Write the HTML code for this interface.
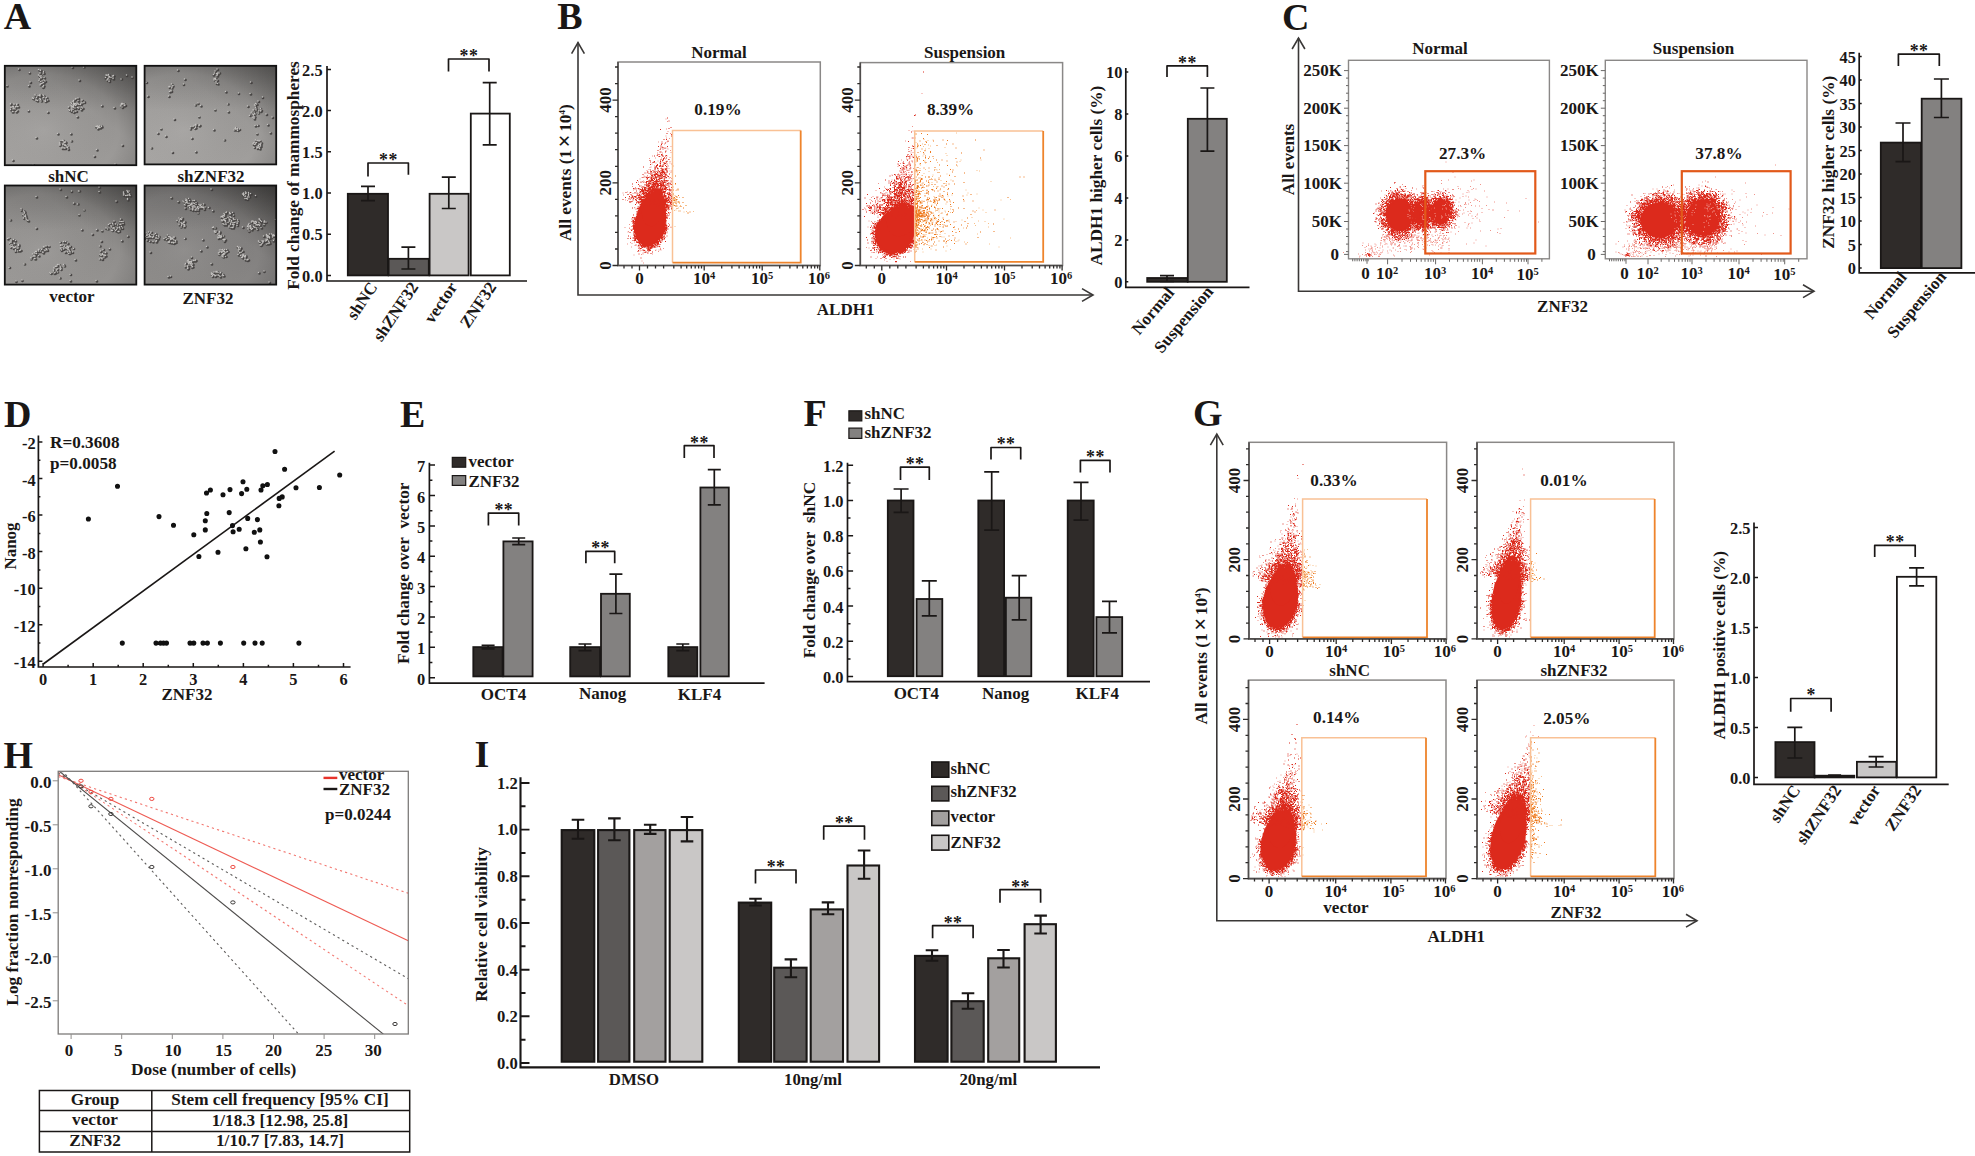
<!DOCTYPE html>
<html lang="en"><head><meta charset="utf-8"><title>Figure</title>
<style>html,body{margin:0;padding:0;background:#fff}svg{display:block}text{font-family:"Liberation Serif",serif;font-weight:bold}</style></head><body>

<svg width="1975" height="1156" viewBox="0 0 1975 1156" font-size="17" fill="#1a1716">
<defs><filter id="b1" x="-5%" y="-5%" width="110%" height="110%"><feGaussianBlur stdDeviation="0.55"/></filter><linearGradient id="mt" x1="0" y1="0" x2="0" y2="1"><stop offset="0" stop-color="#000" stop-opacity="0.16"/><stop offset="0.45" stop-color="#000" stop-opacity="0"/></linearGradient><radialGradient id="mv" cx="0.3" cy="0.65" r="0.95"><stop offset="0" stop-color="#fff" stop-opacity="0.06"/><stop offset="0.6" stop-color="#000" stop-opacity="0"/><stop offset="1" stop-color="#000" stop-opacity="0.22"/></radialGradient>
<linearGradient id="mg1" x1="0" y1="1" x2="1" y2="0"><stop offset="0" stop-color="#a5a3a1"/><stop offset="0.6" stop-color="#989694"/><stop offset="1" stop-color="#6f6d6b"/></linearGradient>
<linearGradient id="mg2" x1="0" y1="1" x2="1" y2="0"><stop offset="0" stop-color="#a9a7a5"/><stop offset="0.6" stop-color="#9c9a98"/><stop offset="1" stop-color="#777573"/></linearGradient>
<linearGradient id="mg3" x1="0" y1="1" x2="1" y2="0"><stop offset="0" stop-color="#9c9a98"/><stop offset="0.6" stop-color="#908e8c"/><stop offset="1" stop-color="#686664"/></linearGradient>
<linearGradient id="mg4" x1="0" y1="1" x2="1" y2="0"><stop offset="0" stop-color="#8f8d8b"/><stop offset="0.6" stop-color="#838180"/><stop offset="1" stop-color="#575553"/></linearGradient>
<clipPath id="c1"><rect x="4.8" y="65.8" width="131.5" height="99.4"/></clipPath>
<clipPath id="c2"><rect x="144.6" y="65.8" width="131.6" height="98.6"/></clipPath>
<clipPath id="c3"><rect x="4.8" y="185.5" width="131.5" height="99.1"/></clipPath>
<clipPath id="c4"><rect x="144.6" y="185.5" width="131.6" height="99.1"/></clipPath>
</defs>
<rect width="1975" height="1156" fill="#fff"/>
<text x="3.7" y="28.7" font-size="38">A</text>
<text x="557.3" y="29.1" font-size="38">B</text>
<text x="1282" y="29.5" font-size="38">C</text>
<text x="4" y="426.5" font-size="38">D</text>
<text x="400" y="426.5" font-size="38">E</text>
<text x="803.5" y="426" font-size="38">F</text>
<text x="1193" y="425.6" font-size="38">G</text>
<text x="3.5" y="768" font-size="38">H</text>
<text x="474.6" y="767.3" font-size="38">I</text>
<g clip-path="url(#c1)">
<rect x="4.8" y="65.8" width="131.5" height="99.4" fill="url(#mg1)"/>
<rect x="4.8" y="65.8" width="131.5" height="99.4" fill="url(#mv)"/>
<rect x="4.8" y="65.8" width="131.5" height="99.4" fill="url(#mt)"/>
<g filter="url(#b1)"><path transform="scale(.5)" d="M169 135h0m-23 1h0m-107 4h0m40 1h0m3 1h0m1 0h0m0 1h0m5 1h0m-28 3h0m22 1h0m7 0h0m130 3h0m-140 1h0m135 0h0m1 0h0m1 0h0m38 0h0m-170 1h0m132 0h0m12 0h0m1 0h0m-149 1h0m138 0h0m9 0h0m-142 1h0m136 0h0m-139 1h0m138 0h0m45 0h0m-181 1h0m6 0h0m122 0h0m11 0h0m-5 1h0m10 0h0m0 1h0m0 0h0m16 0h0m-163 1h0m136 0h0m-137 2h0m9 0h0m71 0h0m56 0h0m4 0h0m-135 2h0m7 0h0m128 0h0m-137 1h0m-21 1h0m27 0h0m-2 1h0m2 0h0m-4 2h0m-2 1h0m-1 1h0m-67 2h0m44 0h0m30 0h0m-1 2h0m-1 1h0m-16 15h0m11 0h0m0 1h0m5 0h0m-15 1h0m8 0h0m2 0h0m7 0h0m-13 1h0m6 0h0m8 2h0m-15 1h0m14 0h0m4 0h0m2 0h0m-28 1h0m1 0h0m90 0h0m-89 1h0m13 0h0m72 0h0m-1 1h0m-80 1h0m10 0h0m-8 1h0m18 0h0m4 0h0m69 0h0m-90 1h0m8 0h0m65 0h0m9 0h0m-66 1h0m1 0h0m55 1h0m22 0h0m-21 1h0m21 0h0m-27 1h0m2 1h0m13 0h0m7 0h0m82 0h0m-224 1h0m126 0h0m1 0h0m0 0h0m2 0h0m93 0h0m5 0h0m-227 1h0m6 0h0m7 0h0m108 0h0m4 0h0m7 0h0m2 0h0m3 0h0m3 0h0m83 0h0m-216 1h0m5 0h0m0 0h0m116 0h0m12 0h0m-10 1h0m91 0h0m6 0h0m2 0h0m-109 1h0m6 0h0m3 0h0m53 0h0m38 0h0m7 0h0m-104 1h0m-120 1h0m3 0h0m4 0h0m3 0h0m2 0h0m109 0h0m2 0h0m-117 1h0m107 0h0m5 0h0m20 0h0m82 0h0m-222 1h0m4 0h0m121 0h0m8 0h0m73 0h0m-202 1h0m2 0h0m116 0h0m6 0h0m6 0h0m9 0h0m-139 2h0m4 0h0m112 0h0m-121 1h0m117 0h0m8 0h0m16 0h0m-23 1h0m4 0h0m-109 1h0m22 0h0m94 0h0m-8 1h0m1 0h0m9 0h0m-128 1h0m1 0h0m7 0h0m63 1h0m52 0h0m7 9h0m48 18h0m-7 1h0m4 0h0m-8 1h0m2 0h0m1 0h0m3 0h0m6 0h0m-5 1h0m-2 1h0m4 0h0m-5 2h0m-80 10h0m26 0h0m-69 8h0m54 5h0m-5 1h0m1 0h0m3 0h0m17 0h0m-15 1h0m3 1h0m1 1h0m-2 1h0m-10 1h0m8 0h0m-7 2h0m-1 1h0m7 0h0m4 0h0m-11 1h0m10 0h0m115 0h0m-115 1h0m3 0h0m3 2h0m-2 1h0m2 1h0m-11 1h0m4 0h0m2 0h0m6 2h0m57 1h0m-5 13h0m-163 8h0m205 8h0m-164 1h0" stroke="#3d3b39" stroke-width="5.4" stroke-linecap="round" fill="none" opacity="0.85"/><path transform="scale(.5)" d="M144 134h0m23 0h0m-130 4h0m40 1h0m3 1h0m1 0h0m0 1h0m6 2h0m-28 2h0m21 1h0m7 0h0m130 3h0m-140 1h0m135 0h0m2 0h0m39 0h0m-171 1h0m132 0h0m0 0h0m13 0h0m-148 1h0m138 0h0m8 0h0m1 0h0m-7 1h0m-138 1h0m3 0h0m135 0h0m45 0h0m-176 1h0m123 0h0m11 0h0m-140 1h0m135 0h0m9 0h0m0 1h0m0 0h0m-147 1h0m136 0h0m27 0h0m-154 2h0m70 0h0m56 0h0m4 0h0m-140 1h0m6 1h0m6 0h0m-9 1h0m137 0h0m-158 1h0m27 1h0m0 0h0m-2 1h0m-2 1h0m-2 1h0m-1 2h0m-66 1h0m43 0h0m30 0h0m-1 2h0m0 1h0m-16 15h0m10 0h0m0 1h0m6 0h0m-16 1h0m8 0h0m2 0h0m7 0h0m-13 1h0m6 0h0m8 2h0m-15 1h0m14 0h0m6 0h0m-28 1h0m1 0h0m25 0h0m65 0h0m-89 1h0m13 0h0m72 0h0m-1 1h0m-70 1h0m-10 1h0m2 0h0m18 0h0m4 0h0m69 0h0m-89 1h0m72 0h0m9 0h0m-74 1h0m8 0h0m1 1h0m55 0h0m1 1h0m21 0h0m-26 1h0m26 0h0m-4 1h0m-143 1h0m122 0h0m4 0h0m2 0h0m0 0h0m2 0h0m5 0h0m87 0h0m2 0h0m3 0h0m-227 1h0m7 0h0m6 0h0m108 0h0m11 0h0m3 0h0m5 0h0m-133 1h0m5 0h0m113 0h0m3 0h0m9 0h0m3 0h0m83 0h0m-211 1h0m119 0h0m90 0h0m6 0h0m2 0h0m-108 1h0m5 0h0m4 0h0m52 0h0m46 0h0m-105 1h0m97 0h0m-216 1h0m2 0h0m4 0h0m3 0h0m2 0h0m109 0h0m2 0h0m-116 1h0m106 0h0m5 0h0m21 0h0m81 0h0m-222 1h0m125 0h0m8 0h0m73 0h0m-202 1h0m0 0h0m2 0h0m116 0h0m6 0h0m7 0h0m8 0h0m-139 2h0m4 0h0m112 0h0m-121 1h0m117 0h0m8 0h0m16 0h0m-19 1h0m-109 1h0m23 0h0m82 0h0m4 1h0m0 0h0m7 0h0m2 0h0m-127 1h0m1 0h0m6 0h0m63 1h0m52 0h0m7 9h0m41 19h0m4 0h0m4 0h0m-11 1h0m1 0h0m1 0h0m3 0h0m6 0h0m-7 2h0m2 0h0m2 0h0m-5 2h0m-80 10h0m26 0h0m-69 8h0m50 6h0m0 0h0m3 0h0m1 0h0m1 1h0m15 0h0m-12 1h0m1 1h0m-2 1h0m-10 1h0m8 0h0m-7 2h0m6 1h0m4 0h0m-11 1h0m1 0h0m9 0h0m115 0h0m-114 1h0m2 0h0m4 2h0m-3 1h0m2 1h0m-11 1h0m4 0h0m2 0h0m6 2h0m57 1h0m-5 13h0m-163 8h0m205 8h0m-164 1h0" stroke="#cfcdcb" stroke-width="3" stroke-linecap="round" fill="none" opacity="0.9"/></g>
</g>
<rect x="4.8" y="65.8" width="131.5" height="99.4" fill="none" stroke="#111" stroke-width="1.8"/>
<g clip-path="url(#c2)">
<rect x="144.6" y="65.8" width="131.6" height="98.6" fill="url(#mg2)"/>
<rect x="144.6" y="65.8" width="131.6" height="98.6" fill="url(#mv)"/>
<rect x="144.6" y="65.8" width="131.6" height="98.6" fill="url(#mt)"/>
<g filter="url(#b1)"><path transform="scale(.5)" d="M436 140h0m-79 2h0m75 2h0m-1 3h0m9 0h0m-5 1h0m1 0h0m1 2h0m-9 1h0m8 0h0m0 2h0m-3 5h0m-1 1h0m-61 1h0m59 0h0m0 1h0m3 0h0m3 1h0m-3 3h0m-139 1h0m209 0h0m-69 1h0m0 1h0m3 1h0m-92 1h0m23 0h0m-21 3h0m-5 1h0m4 0h0m-6 1h0m0 1h0m5 0h0m0 1h0m-1 6h0m0 1h0m-3 1h0m112 0h0m25 3h0m24 1h0m-205 5h0m42 0h0m187 2h0m-8 8h0m0 0h0m-121 4h0m116 0h0m-56 1h0m58 1h0m-123 1h0m119 1h0m1 0h0m-109 1h0m94 1h0m15 0h0m1 2h0m9 2h0m-8 2h0m-83 1h0m82 0h0m-5 1h0m1 0h0m15 0h0m-6 2h0m5 0h0m-65 1h0m47 1h0m5 0h0m-6 1h0m14 0h0m-7 2h0m0 0h0m-4 1h0m27 0h0m-25 1h0m-8 1h0m7 2h0m-109 1h0m112 0h0m-3 1h0m38 0h0m-36 3h0m-160 1h0m43 11h0m1 0h0m143 0h0m-143 1h0m7 0h0m116 0h0m-128 1h0m11 0h0m112 0h0m-120 1h0m-8 1h0m4 0h0m5 2h0m79 0h0m-81 1h0m-68 1h0m59 0h0m90 0h0m1 0h0m1 0h0m2 0h0m1 1h0m3 0h0m-51 1h0m41 0h0m4 0h0m3 1h0m65 5h0m-225 1h0m198 1h0m-182 5h0m52 4h0m65 3h0m63 1h0m3 1h0m1 0h0m4 0h0m-2 1h0m-10 3h0m3 0h0m3 0h0m9 0h0m-16 1h0m0 1h0m5 0h0m7 0h0m-12 1h0m15 0h0m-13 1h0m12 0h0m1 1h0m-4 1h0m4 1h0m-3 1h0m-10 1h0m-206 1h0m214 0h0m3 0h0m-5 1h0m5 1h0m-128 6h0m-47 1h0" stroke="#3d3b39" stroke-width="5.4" stroke-linecap="round" fill="none" opacity="0.85"/><path transform="scale(.5)" d="M434 138h0m-79 2h0m75 2h0m-1 4h0m6 0h0m3 0h0m-5 1h0m2 1h0m-8 1h0m7 1h0m0 1h0m-4 6h0m1 0h0m-62 1h0m59 0h0m3 1h0m-3 1h0m6 0h0m-2 3h0m69 1h0m-209 1h0m140 0h0m0 1h0m3 1h0m-92 1h0m24 0h0m-21 3h0m-2 1h0m-6 1h0m2 0h0m-2 1h0m6 0h0m-1 2h0m-1 5h0m0 1h0m-3 1h0m112 0h0m26 3h0m23 1h0m-205 5h0m42 0h0m188 2h0m-9 8h0m0 0h0m-120 4h0m115 1h0m-56 1h0m58 0h0m-123 2h0m119 0h0m-108 1h0m109 0h0m-15 1h0m15 0h0m1 3h0m10 2h0m-9 1h0m-82 1h0m76 1h0m1 0h0m5 0h0m10 0h0m-5 2h0m4 0h0m-65 1h0m48 1h0m4 0h0m-6 2h0m15 0h0m-8 1h0m-4 1h0m5 0h0m22 0h0m-25 1h0m-8 2h0m8 1h0m-109 1h0m111 1h0m35 0h0m-38 1h0m2 2h0m-160 1h0m43 11h0m1 0h0m143 0h0m-143 1h0m7 0h0m-11 1h0m10 0h0m112 0h0m5 0h0m-124 1h0m-9 1h0m4 0h0m5 2h0m80 0h0m-149 2h0m67 0h0m81 0h0m1 0h0m1 0h0m3 0h0m-95 1h0m95 0h0m4 0h0m-52 1h0m45 0h0m-4 1h0m7 1h0m65 4h0m-225 1h0m199 1h0m-183 5h0m52 4h0m65 4h0m63 0h0m3 1h0m2 0h0m4 0h0m-2 1h0m-10 3h0m5 0h0m-6 1h0m4 0h0m11 0h0m-16 1h0m0 1h0m5 0h0m7 0h0m3 0h0m-12 1h0m11 0h0m1 1h0m-4 1h0m4 1h0m-3 1h0m-10 2h0m8 0h0m-214 1h0m212 0h0m5 0h0m0 1h0m-128 6h0m-47 1h0" stroke="#cfcdcb" stroke-width="3" stroke-linecap="round" fill="none" opacity="0.9"/></g>
</g>
<rect x="144.6" y="65.8" width="131.6" height="98.6" fill="none" stroke="#111" stroke-width="1.8"/>
<g clip-path="url(#c3)">
<rect x="4.8" y="185.5" width="131.5" height="99.1" fill="url(#mg3)"/>
<rect x="4.8" y="185.5" width="131.5" height="99.1" fill="url(#mv)"/>
<rect x="4.8" y="185.5" width="131.5" height="99.1" fill="url(#mt)"/>
<g filter="url(#b1)"><path transform="scale(.5)" d="M200 376h0m-78 4h0m37 3h0m1 0h0m95 0h0m-111 1h0m115 0h0m-59 1h0m57 0h0m-8 1h0m8 1h0m-8 1h0m1 2h0m11 0h0m-4 1h0m4 0h0m-12 1h0m4 1h0m3 0h0m6 0h0m-188 2h0m60 0h0m123 4h0m0 2h0m-23 3h0m-85 4h0m8 1h0m-114 10h0m126 2h0m-125 1h0m5 1h0m2 2h0m0 3h0m-4 3h0m5 0h0m107 0h0m-106 2h0m-3 1h0m2 1h0m1 0h0m1 2h0m-5 1h0m5 1h0m189 1h0m-221 1h0m34 1h0m2 1h0m171 1h0m12 1h0m4 0h0m2 0h0m-25 4h0m5 0h0m21 0h0m-15 1h0m11 0h0m-25 1h0m18 0h0m4 0h0m-17 1h0m4 0h0m-4 2h0m21 0h0m-20 2h0m16 0h0m-13 1h0m2 0h0m11 0h0m-167 1h0m139 0h0m24 0h0m9 0h0m-29 1h0m11 0h0m3 0h0m10 0h0m-76 2h0m30 0h0m39 0h0m-9 1h0m1 0h0m-21 1h0m28 0h0m7 1h0m-3 1h0m-51 5h0m71 4h0m-237 4h0m-3 1h0m6 2h0m6 0h0m-4 1h0m7 1h0m213 0h0m-41 1h0m-180 1h0m105 0h0m4 0h0m-11 1h0m-98 1h0m-3 1h0m116 0h0m-106 1h0m-5 2h0m13 0h0m85 0h0m-101 1h0m16 0h0m0 0h0m85 0h0m2 0h0m-87 1h0m84 0h0m8 0h0m70 0h0m-174 1h0m67 0h0m5 0h0m36 0h0m2 0h0m5 0h0m-117 1h0m65 0h0m40 0h0m-107 1h0m6 0h0m4 0h0m55 0h0m2 0h0m44 0h0m5 0h0m-110 1h0m2 0h0m95 0h0m12 0h0m1 0h0m-111 1h0m7 0h0m3 0h0m85 0h0m6 0h0m3 0h0m4 0h0m2 0h0m10 0h0m-54 1h0m126 0h0m-188 1h0m63 0h0m28 0h0m5 0h0m10 0h0m70 0h0m-129 1h0m1 0h0m5 0h0m10 0h0m45 0h0m-107 1h0m10 0h0m53 0h0m28 0h0m-87 1h0m4 0h0m50 0h0m-59 1h0m43 0h0m4 0h0m4 0h0m58 0h0m62 0h0m-130 1h0m69 0h0m-55 1h0m45 0h0m5 0h0m9 0h0m-58 1h0m125 0h0m-142 1h0m68 0h0m2 0h0m66 0h0m-133 1h0m1 0h0m-8 1h0m139 0h0m-5 1h0m1 0h0m6 0h0m-138 1h0m134 0h0m6 0h0m1 0h0m-141 1h0m2 0h0m7 0h0m134 0h0m-145 1h0m1 0h0m141 1h0m-146 2h0m139 1h0m-140 1h0m8 0h0m1 0h0m129 0h0m5 0h0m0 1h0m-54 1h0m-102 8h0m67 2h0m3 0h0m9 0h0m-13 2h0m14 0h0m-16 1h0m7 0h0m-9 1h0m-92 1h0m103 0h0m-13 1h0m12 1h0m1 0h0m-14 1h0m4 1h0m3 0h0m7 0h0m-14 2h0m5 0h0m-5 2h0m5 0h0m2 1h0m-10 1h0m-4 1h0m10 0h0m-9 1h0m7 0h0m32 2h0m-21 7h0m-76 5h0m97 1h0m52 0h0m-161 1h0" stroke="#3d3b39" stroke-width="5.4" stroke-linecap="round" fill="none" opacity="0.85"/><path transform="scale(.5)" d="M198 374h0m-78 4h0m134 3h0m-111 1h0m14 0h0m1 0h0m100 0h0m-60 1h0m57 0h0m-8 1h0m9 1h0m-9 1h0m1 2h0m11 0h0m-12 2h0m9 0h0m3 0h0m-8 1h0m3 0h0m6 0h0m-188 2h0m60 0h0m123 4h0m0 2h0m-23 3h0m-85 4h0m8 2h0m-113 9h0m0 3h0m126 0h0m-121 2h0m2 2h0m0 2h0m-3 3h0m112 0h0m-107 1h0m-3 2h0m3 0h0m-1 1h0m1 0h0m-4 3h0m5 0h0m0 2h0m189 0h0m-221 2h0m34 0h0m2 1h0m172 1h0m12 1h0m3 0h0m3 0h0m-26 4h0m5 0h0m21 0h0m-15 1h0m11 0h0m-25 1h0m23 0h0m-14 1h0m9 0h0m-13 1h0m0 1h0m21 1h0m-20 1h0m16 0h0m-11 1h0m11 0h0m-167 1h0m140 0h0m14 0h0m9 0h0m10 0h0m-19 1h0m-11 1h0m14 0h0m11 0h0m-77 1h0m30 0h0m40 0h0m-29 2h0m19 0h0m2 0h0m6 0h0m5 2h0m2 0h0m-54 5h0m71 4h0m-237 4h0m-3 1h0m12 2h0m-6 1h0m2 0h0m8 1h0m212 0h0m-41 1h0m-180 1h0m105 0h0m4 0h0m-109 2h0m98 0h0m-101 1h0m116 0h0m-106 1h0m-5 2h0m13 0h0m85 0h0m-101 1h0m16 0h0m88 0h0m-88 1h0m0 0h0m84 0h0m1 0h0m-97 1h0m67 0h0m6 0h0m31 0h0m70 0h0m-176 1h0m65 0h0m40 0h0m6 0h0m2 0h0m4 0h0m-119 1h0m6 0h0m4 0h0m56 0h0m1 0h0m49 0h0m-110 1h0m2 0h0m95 0h0m8 0h0m4 0h0m1 0h0m-111 1h0m8 0h0m2 0h0m85 0h0m6 0h0m3 0h0m7 0h0m-45 1h0m42 0h0m13 0h0m72 0h0m-126 1h0m29 0h0m5 0h0m-96 1h0m46 0h0m1 0h0m5 0h0m10 0h0m43 0h0m70 0h0m-165 1h0m53 0h0m29 0h0m15 0h0m-107 1h0m8 0h0m51 0h0m-59 1h0m4 0h0m42 0h0m4 0h0m58 0h0m62 0h0m-130 1h0m2 0h0m67 0h0m-55 1h0m45 0h0m5 0h0m10 0h0m-59 1h0m125 0h0m-142 1h0m71 0h0m-68 1h0m1 0h0m64 0h0m68 0h0m-140 1h0m135 1h0m0 0h0m4 0h0m2 0h0m-138 1h0m141 0h0m-132 1h0m125 0h0m6 0h0m3 0h0m-145 1h0m2 0h0m0 0h0m2 0h0m138 2h0m-146 1h0m140 1h0m-133 1h0m1 0h0m134 0h0m-142 1h0m137 0h0m5 0h0m-54 1h0m-102 9h0m67 1h0m3 0h0m9 0h0m-13 3h0m6 0h0m8 0h0m-17 1h0m1 0h0m9 1h0m-103 1h0m90 0h0m12 1h0m-12 1h0m14 0h0m-10 1h0m3 0h0m6 1h0m-14 1h0m6 0h0m-6 2h0m5 0h0m3 2h0m-15 1h0m4 0h0m6 0h0m-2 1h0m-7 1h0m39 2h0m-21 7h0m-75 4h0m96 1h0m52 0h0m-160 1h0" stroke="#cfcdcb" stroke-width="3" stroke-linecap="round" fill="none" opacity="0.9"/></g>
</g>
<rect x="4.8" y="185.5" width="131.5" height="99.1" fill="none" stroke="#111" stroke-width="1.8"/>
<g clip-path="url(#c4)">
<rect x="144.6" y="185.5" width="131.6" height="99.1" fill="url(#mg4)"/>
<rect x="144.6" y="185.5" width="131.6" height="99.1" fill="url(#mv)"/>
<rect x="144.6" y="185.5" width="131.6" height="99.1" fill="url(#mt)"/>
<g filter="url(#b1)"><path transform="scale(.5)" d="M424 380h0m69 6h0m6 0h0m-5 1h0m-5 1h0m4 1h0m1 0h0m9 0h0m-17 1h0m3 0h0m1 0h0m9 0h0m-1 1h0m-9 2h0m10 0h0m13 0h0m-20 1h0m0 1h0m5 0h0m3 0h0m-156 2h0m30 2h0m5 0h0m113 0h0m2 0h0m2 1h0m-120 2h0m-8 1h0m4 0h0m2 0h0m7 0h0m7 0h0m3 0h0m-33 2h0m17 0h0m-5 1h0m23 0h0m-18 1h0m11 0h0m8 0h0m-21 1h0m4 0h0m12 0h0m-9 1h0m4 0h0m0 0h0m2 0h0m5 0h0m-5 1h0m8 0h0m15 0h0m-38 1h0m12 0h0m16 0h0m5 0h0m-32 1h0m31 0h0m-24 1h0m3 0h0m7 0h0m13 0h0m6 0h0m-30 1h0m8 0h0m3 0h0m12 0h0m-9 1h0m6 0h0m7 0h0m-18 1h0m10 0h0m8 0h0m3 0h0m3 0h0m8 0h0m-38 1h0m7 0h0m0 0h0m4 0h0m5 0h0m1 0h0m4 0h0m4 0h0m3 0h0m-37 1h0m24 0h0m-8 1h0m10 0h0m-16 1h0m4 0h0m8 0h0m16 0h0m-23 2h0m5 0h0m2 0h0m4 0h0m29 1h0m28 3h0m-58 1h0m57 0h0m7 0h0m6 0h0m-6 1h0m-11 1h0m13 0h0m-2 1h0m-10 1h0m17 1h0m-20 1h0m2 0h0m1 0h0m-1 1h0m-5 1h0m2 0h0m15 0h0m-18 1h0m19 0h0m-103 1h0m87 0h0m10 0h0m7 0h0m-104 1h0m6 0h0m102 0h0m-105 1h0m91 0h0m15 0h0m-106 1h0m85 0h0m2 0h0m1 0h0m9 0h0m60 0h0m1 0h0m31 0h0m-187 1h0m83 0h0m13 0h0m0 0h0m8 0h0m3 0h0m-111 1h0m84 0h0m32 0h0m44 0h0m-165 1h0m89 0h0m6 0h0m2 0h0m8 0h0m4 0h0m58 0h0m-77 1h0m31 0h0m29 0h0m1 0h0m1 0h0m23 0h0m-171 1h0m11 0h0m82 0h0m57 0h0m3 0h0m11 0h0m7 0h0m-161 1h0m94 0h0m1 0h0m8 0h0m32 0h0m10 0h0m15 0h0m3 0h0m-169 1h0m4 0h0m90 0h0m10 0h0m3 0h0m6 0h0m33 0h0m2 0h0m2 0h0m6 0h0m-161 1h0m95 0h0m9 0h0m-97 1h0m82 0h0m28 0h0m23 0h0m11 0h0m3 0h0m-148 1h0m3 0h0m100 0h0m47 0h0m6 0h0m-161 1h0m10 0h0m80 0h0m4 0h0m9 0h0m4 0h0m3 0h0m29 0h0m17 0h0m3 0h0m10 0h0m-164 1h0m5 0h0m106 0h0m22 0h0m16 0h0m-143 1h0m131 0h0m19 0h0m-61 1h0m9 0h0m32 0h0m2 0h0m-140 1h0m7 0h0m90 0h0m37 0h0m1 0h0m0 0h0m11 0h0m-80 1h0m58 0h0m17 0h0m6 0h0m-83 1h0m0 0h0m5 0h0m32 0h0m3 0h0m1 0h0m34 0h0m2 0h0m8 0h0m12 0h0m-21 1h0m4 0h0m8 0h0m-18 1h0m19 1h0m-18 1h0m7 0h0m-74 3h0m0 0h0m2 0h0m66 0h0m-65 1h0m7 0h0m-142 1h0m5 0h0m128 0h0m9 0h0m-152 1h0m14 0h0m137 0h0m-146 1h0m146 0h0m-127 1h0m-24 1h0m8 0h0m4 0h0m9 0h0m127 0h0m2 0h0m102 0h0m4 0h0m-245 1h0m6 0h0m229 0h0m13 0h0m-253 1h0m6 0h0m35 0h0m214 0h0m-254 1h0m19 0h0m125 0h0m1 0h0m3 0h0m4 0h0m89 0h0m1 0h0m8 0h0m2 0h0m2 0h0m-247 1h0m6 0h0m10 0h0m20 0h0m99 0h0m91 0h0m6 0h0m5 0h0m10 0h0m-262 1h0m4 0h0m9 0h0m8 0h0m10 0h0m22 0h0m101 0h0m0 0h0m3 0h0m95 0h0m-241 1h0m0 0h0m3 0h0m4 0h0m1 0h0m0 0h0m27 0h0m9 0h0m7 0h0m187 0h0m2 0h0m2 0h0m6 0h0m-251 1h0m48 0h0m6 0h0m88 0h0m2 0h0m3 0h0m1 0h0m97 0h0m-251 1h0m23 0h0m2 0h0m27 0h0m1 0h0m4 0h0m24 0h0m67 0h0m97 0h0m6 0h0m-223 1h0m12 0h0m8 0h0m7 0h0m204 0h0m-204 1h0m3 0h0m185 0h0m-198 1h0m8 0h0m64 0h0m41 0h0m2 0h0m2 0h0m85 0h0m0 0h0m-241 1h0m53 0h0m185 0h0m1 0h0m0 0h0m-220 1h0m38 0h0m195 0h0m-247 1h0m0 0h0m39 0h0m0 0h0m110 0h0m69 0h0m6 0h0m2 0h0m2 0h0m4 0h0m6 0h0m-232 1h0m7 0h0m24 0h0m2 0h0m200 0h0m-200 1h0m1 0h0m8 0h0m4 0h0m167 0h0m8 0h0m-184 1h0m2 0h0m4 0h0m172 0h0m5 0h0m-178 1h0m192 0h0m-16 1h0m9 0h0m4 0h0m-16 2h0m2 0h0m-1 1h0m-108 3h0m61 0h0m4 1h0m-1 1h0m4 0h0m-4 2h0m-36 1h0m39 0h0m-41 1h0m6 0h0m3 0h0m5 0h0m24 0h0m-32 1h0m2 0h0m-46 1h0m41 1h0m13 0h0m22 0h0m8 0h0m-43 1h0m2 0h0m2 0h0m3 0h0m-149 1h0m139 0h0m13 0h0m-9 1h0m7 0h0m29 0h0m3 0h0m-45 1h0m13 0h0m28 0h0m-31 1h0m-10 1h0m12 0h0m36 0h0m-40 1h0m1 0h0m30 0h0m6 1h0m2 0h0m2 0h0m1 0h0m0 0h0m1 0h0m0 0h0m-7 1h0m5 0h0m1 0h0m4 0h0m0 0h0m-47 1h0m2 0h0m5 0h0m-5 1h0m38 0h0m1 0h0m4 0h0m2 0h0m0 0h0m-109 1h0m101 0h0m2 1h0m5 1h0m0 3h0m4 0h0m2 0h0m-119 1h0m14 0h0m103 0h0m-107 1h0m3 0h0m-15 1h0m2 1h0m1 0h0m0 0h0m1 0h0m2 0h0m2 0h0m-7 2h0m2 0h0m1 0h0m4 0h0m-12 1h0m8 0h0m2 0h0m2 0h0m-6 1h0m4 0h0m41 0h0m-37 1h0m-3 1h0m-13 1h0m9 0h0m-8 1h0m12 0h0m1 0h0m-9 1h0m1 0h0m-5 1h0m5 0h0m10 0h0m-2 1h0m-7 2h0m-1 1h0m152 5h0m-95 1h0m2 0h0m-6 1h0m3 1h0m1 0h0m4 0h0m5 0h0m76 0h0m-94 1h0m2 0h0m15 0h0m-18 2h0m1 0h0m0 0h0m3 0h0m19 0h0m-18 1h0m18 0h0m-17 1h0m3 0h0m3 0h0m3 0h0m0 0h0m-12 1h0m21 0h0m1 0h0m-107 1h0m84 0h0m6 0h0m-94 1h0m104 0h0m98 11h0" stroke="#3d3b39" stroke-width="5.4" stroke-linecap="round" fill="none" opacity="0.85"/><path transform="scale(.5)" d="M422 378h0m69 6h0m1 1h0m5 0h0m-10 1h0m4 1h0m1 0h0m9 0h0m-16 1h0m12 0h0m-10 1h0m1 0h0m9 0h0m-10 2h0m10 0h0m14 0h0m-20 1h0m-1 1h0m5 1h0m3 0h0m-156 1h0m35 2h0m113 0h0m3 0h0m-121 1h0m123 0h0m-121 2h0m-3 1h0m1 0h0m7 0h0m7 0h0m3 0h0m-23 1h0m-10 1h0m18 0h0m-6 1h0m5 1h0m19 0h0m0 0h0m-21 1h0m4 0h0m9 0h0m3 0h0m-9 1h0m5 0h0m1 0h0m5 0h0m-7 1h0m25 0h0m-38 1h0m12 0h0m3 0h0m8 0h0m6 0h0m4 0h0m-32 1h0m8 1h0m2 0h0m8 0h0m12 0h0m1 0h0m-25 1h0m8 0h0m3 0h0m13 0h0m6 0h0m-16 1h0m6 0h0m7 0h0m-18 1h0m10 0h0m8 0h0m3 0h0m4 0h0m-31 1h0m7 0h0m4 0h0m5 0h0m1 0h0m4 0h0m4 0h0m3 0h0m10 0h0m-47 1h0m16 0h0m8 0h0m3 1h0m-17 1h0m4 0h0m2 0h0m6 0h0m16 0h0m-23 2h0m5 0h0m2 0h0m4 0h0m29 1h0m28 3h0m-1 1h0m7 0h0m6 0h0m-69 1h0m52 1h0m11 0h0m2 0h0m-1 1h0m-11 1h0m18 1h0m-21 1h0m2 0h0m0 1h0m1 0h0m-6 1h0m2 0h0m15 0h0m-18 1h0m19 0h0m-15 1h0m10 0h0m6 0h0m-104 1h0m0 0h0m6 0h0m102 0h0m-105 1h0m91 0h0m15 0h0m-106 1h0m87 0h0m1 0h0m9 0h0m60 0h0m1 0h0m-156 1h0m84 0h0m12 0h0m1 0h0m7 0h0m3 0h0m81 0h0m-192 1h0m84 0h0m3 0h0m29 0h0m45 0h0m-166 1h0m90 0h0m5 0h0m2 0h0m12 0h0m58 0h0m-77 1h0m15 0h0m45 0h0m2 0h0m0 0h0m23 0h0m-171 1h0m93 0h0m25 0h0m32 0h0m3 0h0m12 0h0m-155 1h0m1 0h0m93 0h0m1 0h0m9 0h0m31 0h0m10 0h0m15 0h0m1 0h0m3 0h0m-170 1h0m5 0h0m89 0h0m10 0h0m3 0h0m39 0h0m5 0h0m5 0h0m-160 1h0m94 0h0m23 0h0m35 0h0m-146 1h0m82 0h0m15 0h0m13 0h0m24 0h0m10 0h0m3 0h0m-148 1h0m3 0h0m100 0h0m54 0h0m-162 1h0m11 0h0m79 0h0m4 0h0m9 0h0m4 0h0m3 0h0m29 0h0m17 0h0m3 0h0m11 0h0m-160 1h0m144 0h0m3 0h0m-152 1h0m111 0h0m22 0h0m5 0h0m18 0h0m-149 1h0m88 0h0m9 0h0m32 0h0m-131 1h0m127 0h0m1 0h0m5 0h0m6 0h0m-145 1h0m65 0h0m31 0h0m27 0h0m12 0h0m5 0h0m6 0h0m-83 1h0m1 0h0m36 0h0m3 0h0m1 0h0m44 0h0m12 0h0m-92 1h0m70 0h0m2 0h0m11 0h0m-17 1h0m5 0h0m4 0h0m-9 2h0m7 0h0m11 0h0m-85 3h0m3 0h0m66 0h0m-69 1h0m10 0h0m-142 1h0m5 0h0m130 0h0m7 0h0m-152 1h0m143 0h0m-138 1h0m9 0h0m137 0h0m0 0h0m-127 1h0m-24 1h0m8 0h0m4 0h0m136 0h0m3 0h0m101 0h0m4 0h0m-245 1h0m6 0h0m4 0h0m225 0h0m13 0h0m-253 1h0m42 0h0m213 0h0m-254 1h0m5 0h0m14 0h0m125 0h0m1 0h0m3 0h0m93 0h0m1 0h0m9 0h0m1 0h0m3 0h0m-242 1h0m10 0h0m119 0h0m11 0h0m80 0h0m6 0h0m15 0h0m-258 1h0m9 0h0m2 0h0m6 0h0m30 0h0m2 0h0m101 0h0m0 0h0m3 0h0m95 0h0m0 0h0m-251 1h0m10 0h0m0 0h0m3 0h0m4 0h0m2 0h0m12 0h0m23 0h0m7 0h0m187 0h0m2 0h0m2 0h0m6 0h0m-251 1h0m11 0h0m27 0h0m10 0h0m6 0h0m88 0h0m2 0h0m3 0h0m1 0h0m97 0h0m-250 1h0m22 0h0m2 0h0m27 0h0m1 0h0m4 0h0m91 0h0m98 0h0m5 0h0m-223 1h0m12 0h0m8 0h0m8 0h0m25 0h0m-26 1h0m3 0h0m202 0h0m-215 1h0m8 0h0m64 0h0m41 0h0m2 0h0m2 0h0m82 0h0m3 0h0m0 0h0m-241 1h0m54 0h0m185 0h0m0 0h0m-220 1h0m38 0h0m182 0h0m14 0h0m-208 1h0m109 0h0m69 0h0m7 0h0m1 0h0m2 0h0m4 0h0m6 0h0m-238 1h0m0 0h0m7 0h0m6 0h0m26 0h0m0 0h0m-2 1h0m3 0h0m12 0h0m167 0h0m8 0h0m12 0h0m-200 1h0m5 0h0m1 0h0m3 0h0m1 0h0m172 0h0m-173 1h0m178 0h0m14 0h0m-3 1h0m-13 1h0m10 0h0m-13 2h0m1 0h0m1 0h0m-109 3h0m62 0h0m3 1h0m-1 1h0m4 0h0m-4 3h0m3 0h0m-38 1h0m3 0h0m4 0h0m4 0h0m25 0h0m-39 1h0m6 0h0m-44 1h0m46 0h0m-5 1h0m35 0h0m8 0h0m-43 1h0m4 0h0m3 0h0m6 0h0m-155 1h0m139 0h0m5 0h0m9 0h0m-10 1h0m7 0h0m29 0h0m3 0h0m-45 1h0m13 0h0m29 0h0m-32 1h0m2 1h0m37 0h0m-48 1h0m7 0h0m2 0h0m29 0h0m6 1h0m3 0h0m1 0h0m1 0h0m0 0h0m1 0h0m0 0h0m-7 1h0m6 0h0m4 0h0m0 0h0m-47 1h0m2 0h0m40 0h0m-35 1h0m34 0h0m4 0h0m2 0h0m0 0h0m-108 1h0m63 0h0m38 0h0m-1 1h0m2 0h0m5 1h0m0 3h0m4 0h0m2 0h0m-119 1h0m14 0h0m103 0h0m-107 1h0m3 0h0m-15 1h0m3 1h0m1 0h0m2 0h0m2 0h0m-6 1h0m1 0h0m-2 1h0m3 0h0m0 0h0m0 1h0m3 0h0m1 0h0m0 0h0m-12 1h0m6 0h0m4 0h0m41 0h0m-37 1h0m-3 1h0m-12 1h0m8 0h0m4 1h0m1 0h0m-13 1h0m4 0h0m1 0h0m-5 1h0m15 0h0m-10 1h0m9 0h0m-8 2h0m-1 1h0m153 5h0m-96 1h0m2 0h0m-6 1h0m4 1h0m0 0h0m4 0h0m5 0h0m76 0h0m-94 1h0m17 0h0m-15 1h0m-2 1h0m0 0h0m3 0h0m19 0h0m-22 1h0m4 0h0m2 1h0m5 0h0m3 0h0m8 0h0m-20 1h0m6 0h0m7 0h0m8 0h0m1 0h0m-106 1h0m89 0h0m-94 1h0m88 0h0m16 0h0m98 11h0" stroke="#cfcdcb" stroke-width="3" stroke-linecap="round" fill="none" opacity="0.9"/></g>
</g>
<rect x="144.6" y="185.5" width="131.6" height="99.1" fill="none" stroke="#111" stroke-width="1.8"/>
<text x="68.5" y="181.5" text-anchor="middle">shNC</text>
<text x="211" y="182" text-anchor="middle">shZNF32</text>
<text x="72" y="301.5" text-anchor="middle">vector</text>
<text x="208" y="303.5" text-anchor="middle">ZNF32</text>
<path d="M327 66V281H527" stroke="#1a1716" stroke-width="1.7" fill="none"/>
<path d="M327 275.4h4M327 234.2h4M327 193h4M327 151.8h4M327 110.6h4M327 69.4h4" stroke="#1a1716" stroke-width="1.5" fill="none"/>
<text x="322.6" y="281.6" text-anchor="end" font-size="16.4">0.0</text>
<text x="322.6" y="240.4" text-anchor="end" font-size="16.4">0.5</text>
<text x="322.6" y="199.2" text-anchor="end" font-size="16.4">1.0</text>
<text x="322.6" y="158" text-anchor="end" font-size="16.4">1.5</text>
<text x="322.6" y="116.8" text-anchor="end" font-size="16.4">2.0</text>
<text x="322.6" y="75.6" text-anchor="end" font-size="16.4">2.5</text>
<text text-anchor="middle" transform="translate(298.5 175.5) rotate(-90)" font-size="17.3">Fold change of mammospheres</text>
<rect x="347.8" y="193.8" width="40.2" height="81.6" fill="#2f2b29" stroke="#1a1716" stroke-width="1.8"/>
<rect x="388.6" y="258.8" width="40.2" height="16.6" fill="#5b5857" stroke="#1a1716" stroke-width="1.8"/>
<rect x="429.6" y="193.8" width="39" height="81.6" fill="#c9c7c6" stroke="#1a1716" stroke-width="1.8"/>
<rect x="470.8" y="113.6" width="39" height="161.8" fill="#fff" stroke="#1a1716" stroke-width="1.8"/>
<path d="M361 186.3H375M368 186.3V200.7M361 200.7H375" stroke="#1a1716" stroke-width="1.7" fill="none"/>
<path d="M401.4 247.2H415.4M408.4 247.2V269M401.4 269H415.4" stroke="#1a1716" stroke-width="1.7" fill="none"/>
<path d="M441.8 177.2H455.8M448.8 177.2V208.5M441.8 208.5H455.8" stroke="#1a1716" stroke-width="1.7" fill="none"/>
<path d="M482.7 82.6H496.7M489.7 82.6V144.8M482.7 144.8H496.7" stroke="#1a1716" stroke-width="1.7" fill="none"/>
<path d="M368 176.6V163H408.4V174.7" stroke="#1a1716" stroke-width="1.7" fill="none" stroke-linejoin="round"/>
<text x="388.4" y="165.9" text-anchor="middle" font-size="17.8" letter-spacing="0.45">**</text>
<path d="M448.5 71.5V59H489V71.5" stroke="#1a1716" stroke-width="1.7" fill="none" stroke-linejoin="round"/>
<text x="468.9" y="61.9" text-anchor="middle" font-size="17.8" letter-spacing="0.45">**</text>
<text text-anchor="end" transform="translate(378 287) rotate(-56)">shNC</text>
<text text-anchor="end" transform="translate(419 287) rotate(-56)">shZNF32</text>
<text text-anchor="end" transform="translate(458 287) rotate(-56)">vector</text>
<text text-anchor="end" transform="translate(497 287) rotate(-56)">ZNF32</text>
<path d="M578 42.6V295H1093" stroke="#3a3837" stroke-width="1.6" fill="none"/>
<path d="M571.6 53.6L578 42.6L584.4 53.6" stroke="#3a3837" stroke-width="1.6" fill="none"/>
<path d="M1082 288.6L1093 295L1082 301.4" stroke="#3a3837" stroke-width="1.6" fill="none"/>
<ellipse cx="650.5" cy="221" rx="15.3" ry="25.6" fill="#dc2a1c" transform="rotate(11 650.5 221)"/>
<ellipse cx="653.2" cy="207.2" rx="11" ry="19.2" fill="#dc2a1c" transform="rotate(11 653.2 207.2)"/>
<clipPath id="g21"><rect x="672.5" y="130.4" width="128.2" height="132.2"/></clipPath>
<g clip-path="url(#g21)"><ellipse cx="650.5" cy="221" rx="15.3" ry="25.6" fill="#ee7a1e" transform="rotate(11 650.5 221)"/></g>
<path transform="scale(.5)" d="M1331 238h2m1 5h2m-4 15h2m1 5h2m3 4h2m-11 5h2m-1 4h2m4 1h2m-5 4h2m-21 3h2m15 0h2m-7 4h2m-9 3h2m-2 1h2m18 1h2m-23 1h2m-1 2h2m10 0h2m-6 1h2m4 1h2m-18 1h2m19 2h2m-24 3h2m0 0h2m19 1h2m-29 1h2m8 0h2m-3 4h2m-12 1h2m-1 0h2m-12 1h2m27 0h2m-19 1h2m1 0h2m7 2h2m9 0h2m-31 1h2m10 0h2m4 0h2m-32 1h2m30 1h2m-12 1h2m0 0h2m-1 0h2m11 0h2m-18 2h2m-7 1h2m7 0h2m7 0h2m4 1h2m-21 1h2m1 0h2m-17 1h2m17 0h2m-2 0h2m3 0h2m-23 1h2m26 0h2m-38 2h2m23 0h2m-2 0h2m12 0h2m-18 1h2m-2 1h2m-20 2h2m2 0h2m11 0h2m-8 1h2m-1 0h2m-21 1h2m-4 1h2m21 1h2m7 1h2m4 0h2m-9 1h2m1 0h2m-38 1h2m-6 2h2m44 1h2m-47 2h2m45 1h2m-50 1h2m-1 5h2m-9 1h2m55 1h2m-63 2h2m55 0h2m-5 1h2m-1 0h2m2 1h2m-65 1h2m63 1h2m-60 3h2m23 0h2m-29 1h2m21 0h2m-1 0h2m-34 1h2m7 0h2m1 0h2m-9 1h2m3 0h2m-10 6h2m-16 2h2m12 0h2m31 0h2m31 1h2m-76 1h2m10 0h2m58 0h2m-48 1h2m25 0h2m-59 1h2m5 0h2m3 0h2m13 0h2m-23 1h2m4 0h2m-1 0h2m18 0h2m3 0h2m-37 1h2m6 0h2m49 0h2m10 0h2m0 0h2m0 0h2m-80 1h2m10 0h2m30 0h2m28 1h2m-42 1h2m-2 1h2m-48 1h2m22 0h2m26 0h2m-47 1h2m15 0h2m13 0h2m7 0h2m12 0h2m-2 0h2m1 0h2m-76 1h2m11 0h2m31 0h2m7 0h2m-37 1h2m2 0h2m4 0h2m10 0h2m51 0h2m-69 1h2m0 0h2m66 0h2m-90 1h2m85 0h2m-1 0h2m-99 1h2m40 0h2m33 0h2m3 0h2m-58 1h2m-9 1h2m62 0h2m11 0h2m-73 1h2m-1 0h2m8 0h2m4 1h2m-1 0h2m-2 0h2m-2 0h2m51 0h2m-2 0h2m-80 1h2m-1 0h2m3 0h2m11 0h2m4 0h2m-2 0h2m-2 0h2m52 0h2m-87 1h2m0 0h2m1 0h2m23 0h2m39 0h2m-74 1h2m7 1h2m-8 1h2m-12 1h2m2 1h2m77 0h2m-2 0h2m-53 1h2m-25 1h2m1 0h2m-3 1h2m18 0h2m61 0h2m-66 1h2m-1 0h2m48 0h2m-56 1h2m-1 2h2m0 1h2m50 0h2m-1 0h2m3 1h2m-4 1h2m-4 2h2m-62 1h2m-8 1h2m-1 1h2m62 0h2m-62 1h2m0 1h2m-2 0h2m-6 1h2m61 0h2m0 1h2m-63 3h2m56 0h2m-62 2h2m65 0h2m-69 2h2m60 0h2m1 1h2m-2 2h2m-68 1h2m62 0h2m-5 1h2m0 0h2m-3 2h2m-70 1h2m0 1h2m64 0h2m2 1h2m-75 5h2m65 0h2m-69 2h2m-2 0h2m65 0h2m2 3h2m-80 2h2m2 4h2m0 0h2m75 1h2m-94 1h2m90 0h2m-85 1h2m-2 1h2m76 1h2m-77 1h2m70 0h2m-79 4h2m75 0h2m-80 1h2m76 1h2m-2 1h2m-2 6h2m-2 0h2m-75 2h2m64 1h2m2 0h2m-65 1h2m56 2h2m-1 1h2m-2 0h2m-60 1h2m-2 0h2m-6 1h2m57 2h2m-57 1h2m-10 1h2m1 2h2m-11 1h2m61 2h2m-50 1h2m4 1h2m-1 0h2m35 0h2m-53 2h2m12 0h2m33 0h2m0 0h2m4 0h2m-45 3h2m4 0h2m42 0h2m-49 2h2m4 1h2m0 0h2m22 0h2m4 0h2m2 0h2m-42 1h2m6 0h2m19 0h2m-33 1h2m17 0h2m16 1h2m-31 1h2m1 0h2m1 0h2m-10 2h2m7 0h2m-19 1h2m6 1h2m17 0h2m-29 1h2m3 0h2m-17 1h2m14 12h2m1 4h2" stroke="#f0958c" stroke-width="2" fill="none"/>
<path transform="scale(.5)" d="M1334 236h2m1 6h2m2 13h2m-6 2h2m-19 2h2m11 8h2m7 2h2m-2 3h2m-17 7h2m3 0h2m1 4h2m-14 1h2m5 2h2m-9 1h2m-3 2h2m-8 4h2m16 0h2m-13 1h2m0 1h2m2 1h2m-11 2h2m3 0h2m-12 3h2m14 1h2m-12 2h2m7 0h2m-15 5h2m3 0h2m-1 0h2m-11 1h2m7 1h2m7 0h2m-26 1h2m15 0h2m3 0h2m-14 1h2m5 0h2m1 3h2m2 0h2m-8 1h2m-2 1h2m9 1h2m-13 1h2m-29 1h2m23 0h2m-18 2h2m10 0h2m11 0h2m-35 1h2m5 0h2m22 0h2m-28 1h2m12 1h2m-1 0h2m5 0h2m-1 1h2m0 0h2m-12 1h2m11 0h2m-35 1h2m12 0h2m9 1h2m-15 1h2m0 0h2m4 0h2m8 0h2m-14 1h2m3 0h2m10 0h2m-26 1h2m-1 0h2m4 0h2m-1 0h2m2 0h2m-1 0h2m-1 0h2m5 0h2m-48 1h2m21 1h2m2 0h2m-5 1h2m21 0h2m-26 1h2m3 0h2m-1 0h2m4 0h2m-14 1h2m11 0h2m0 0h2m1 0h2m1 0h2m0 0h2m-25 1h2m14 0h2m3 0h2m-32 1h2m13 0h2m7 0h2m5 0h2m-28 1h2m14 0h2m10 0h2m-26 1h2m5 0h2m5 0h2m0 0h2m0 0h2m4 0h2m8 0h2m-44 1h2m-1 0h2m9 0h2m3 0h2m13 0h2m-41 1h2m-1 0h2m3 0h2m4 0h2m-1 0h2m0 0h2m-2 0h2m8 0h2m2 0h2m-1 0h2m-2 0h2m-2 0h2m-1 0h2m0 0h2m5 0h2m-22 1h2m3 0h2m1 0h2m3 0h2m-1 0h2m-2 0h2m1 0h2m-44 1h2m11 0h2m-1 0h2m5 0h2m3 0h2m3 0h2m1 0h2m-1 0h2m-2 0h2m-1 0h2m1 0h2m-33 1h2m13 0h2m-2 0h2m9 0h2m3 0h2m-30 1h2m7 0h2m2 0h2m4 0h2m-1 0h2m8 0h2m-1 0h2m5 0h2m-55 1h2m16 0h2m2 0h2m2 0h2m-2 0h2m-1 0h2m-2 0h2m0 0h2m-1 0h2m4 0h2m0 0h2m2 0h2m-26 1h2m4 0h2m-1 0h2m2 0h2m5 0h2m-1 0h2m-1 0h2m5 0h2m0 0h2m-32 1h2m-1 0h2m-1 0h2m2 0h2m-1 0h2m4 0h2m-1 0h2m-1 0h2m-1 0h2m-1 0h2m0 0h2m1 0h2m-22 1h2m1 0h2m6 0h2m-1 0h2m3 0h2m-2 0h2m6 0h2m-2 0h2m3 0h2m-26 1h2m-2 0h2m7 0h2m4 0h2m-1 0h2m-2 0h2m-1 0h2m-2 0h2m7 0h2m-49 1h2m2 0h2m4 0h2m-2 0h2m1 0h2m1 0h2m4 0h2m-1 0h2m0 0h2m1 0h2m-1 0h2m2 0h2m5 0h2m-1 0h2m-47 1h2m5 0h2m1 0h2m-1 0h2m-2 0h2m1 0h2m4 0h2m2 0h2m1 0h2m9 0h2m6 0h2m-1 0h2m-32 1h2m-2 0h2m5 0h2m-2 0h2m0 0h2m4 0h2m1 0h2m-2 0h2m1 0h2m-2 0h2m-1 0h2m1 0h2m2 0h2m-39 1h2m5 0h2m0 0h2m1 0h2m10 0h2m-1 0h2m-1 0h2m0 0h2m-31 1h2m-1 0h2m6 0h2m-2 0h2m4 0h2m-2 0h2m2 0h2m4 0h2m-2 0h2m-1 0h2m-2 0h2m7 0h2m-26 1h2m2 0h2m2 0h2m1 0h2m-1 0h2m-2 0h2m-1 0h2m-20 1h2m1 0h2m-1 0h2m-1 0h2m11 0h2m8 0h2m-55 1h2m26 0h2m0 0h2m-1 0h2m-1 0h2m3 0h2m-2 0h2m0 0h2m7 0h2m-2 0h2m-1 0h2m-2 0h2m2 0h2m-2 0h2m0 0h2m1 0h2m1 0h2m-41 1h2m0 0h2m0 0h2m-1 0h2m9 0h2m-1 0h2m-1 0h2m-2 0h2m2 0h2m1 0h2m-2 0h2m5 0h2m0 0h2m-2 0h2m-1 0h2m-1 0h2m-2 0h2m0 0h2m5 0h2m-51 1h2m0 0h2m1 0h2m1 0h2m6 0h2m-1 0h2m-2 0h2m-2 0h2m0 0h2m-1 0h2m0 0h2m-1 0h2m-1 0h2m6 0h2m1 0h2m-48 1h2m20 0h2m-2 0h2m2 0h2m-2 0h2m2 0h2m-2 0h2m-2 0h2m4 0h2m1 0h2m-1 0h2m20 0h2m-73 1h2m17 0h2m-1 0h2m-2 0h2m3 0h2m6 0h2m0 0h2m2 0h2m0 0h2m6 0h2m2 0h2m-1 0h2m-1 0h2m0 0h2m-39 1h2m5 0h2m0 0h2m3 0h2m-1 0h2m1 0h2m0 0h2m7 0h2m0 0h2m0 0h2m4 0h2m3 0h2m1 0h2m-45 1h2m0 0h2m-1 0h2m8 0h2m-2 0h2m0 0h2m-1 0h2m0 0h2m2 0h2m0 0h2m4 0h2m-2 0h2m6 0h2m-72 1h2m27 0h2m1 0h2m0 0h2m1 0h2m1 0h2m0 0h2m-1 0h2m-1 0h2m5 0h2m-1 0h2m3 0h2m2 0h2m-1 0h2m9 0h2m1 0h2m-66 1h2m11 0h2m4 0h2m-2 0h2m4 0h2m1 0h2m-1 0h2m1 0h2m0 0h2m-1 0h2m1 0h2m0 0h2m2 0h2m-1 0h2m-2 0h2m0 0h2m1 0h2m14 0h2m-55 1h2m1 0h2m1 0h2m9 0h2m-2 0h2m0 0h2m-2 0h2m0 0h2m1 0h2m0 0h2m3 0h2m4 0h2m1 0h2m-2 0h2m0 0h2m0 0h2m0 0h2m-45 1h2m2 0h2m-1 0h2m-1 0h2m3 0h2m1 0h2m2 0h2m1 0h2m2 0h2m-1 0h2m0 0h2m-1 0h2m-2 0h2m0 0h2m0 0h2m0 0h2m-2 0h2m-48 1h2m11 0h2m-1 0h2m-1 0h2m-2 0h2m6 0h2m0 0h2m-2 0h2m1 0h2m4 0h2m-1 0h2m-2 0h2m2 0h2m-1 0h2m-1 0h2m-2 0h2m3 0h2m-1 0h2m7 0h2m-43 1h2m4 0h2m1 0h2m1 0h2m-1 0h2m1 0h2m-1 0h2m7 0h2m1 0h2m2 0h2m-1 0h2m-48 1h2m0 0h2m-1 0h2m3 0h2m-1 0h2m2 0h2m0 0h2m0 0h2m-2 0h2m0 0h2m-2 0h2m-2 0h2m0 0h2m-1 0h2m-2 0h2m-2 0h2m-1 0h2m-1 0h2m2 0h2m-2 0h2m0 0h2m-2 0h2m-1 0h2m-2 0h2m4 0h2m-2 0h2m14 0h2m-51 1h2m-1 0h2m-2 0h2m-1 0h2m5 0h2m0 0h2m-2 0h2m-1 0h2m0 0h2m1 0h2m5 0h2m-2 0h2m-1 0h2m5 0h2m-1 0h2m2 0h2m2 0h2m-2 0h2m-1 0h2m-1 0h2m0 0h2m7 0h2m-47 1h2m-2 0h2m0 0h2m-2 0h2m2 0h2m-1 0h2m2 0h2m0 0h2m-1 0h2m-1 0h2m-2 0h2m-1 0h2m2 0h2m1 0h2m3 0h2m5 0h2m-68 1h2m1 0h2m5 0h2m6 0h2m2 0h2m-2 0h2m-1 0h2m2 0h2m1 0h2m0 0h2m0 0h2m3 0h2m-1 0h2m1 0h2m4 0h2m2 0h2m3 0h2m2 0h2m0 0h2m-44 1h2m0 0h2m5 0h2m0 0h2m0 0h2m1 0h2m-1 0h2m-1 0h2m12 0h2m0 0h2m3 0h2m0 0h2m0 0h2m5 0h2m-60 1h2m1 0h2m-1 0h2m1 0h2m1 0h2m3 0h2m-1 0h2m-1 0h2m0 0h2m-2 0h2m-2 0h2m-1 0h2m1 0h2m0 0h2m-1 0h2m-1 0h2m0 0h2m-2 0h2m-1 0h2m-1 0h2m-1 0h2m1 0h2m-2 0h2m-1 0h2m0 0h2m0 0h2m-2 0h2m1 0h2m0 0h2m1 0h2m0 0h2m-1 0h2m1 0h2m1 0h2m-1 0h2m-58 1h2m-1 0h2m2 0h2m0 0h2m-1 0h2m-1 0h2m2 0h2m-2 0h2m0 0h2m-1 0h2m3 0h2m-2 0h2m2 0h2m-2 0h2m-2 0h2m-1 0h2m-1 0h2m0 0h2m-2 0h2m0 0h2m-2 0h2m1 0h2m-1 0h2m-1 0h2m-2 0h2m1 0h2m0 0h2m6 0h2m4 0h2m0 0h2m-58 1h2m0 0h2m0 0h2m-2 0h2m1 0h2m-1 0h2m0 0h2m-1 0h2m0 0h2m-2 0h2m-2 0h2m3 0h2m-2 0h2m2 0h2m-1 0h2m0 0h2m-1 0h2m0 0h2m0 0h2m-1 0h2m2 0h2m-1 0h2m-1 0h2m0 0h2m-2 0h2m1 0h2m-2 0h2m4 0h2m-2 0h2m10 0h2m-73 1h2m8 0h2m0 0h2m0 0h2m7 0h2m2 0h2m-1 0h2m-1 0h2m0 0h2m9 0h2m-1 0h2m0 0h2m2 0h2m-2 0h2m16 0h2m-61 1h2m2 0h2m8 0h2m5 0h2m-1 0h2m3 0h2m5 0h2m-2 0h2m0 0h2m-2 0h2m-1 0h2m0 0h2m-2 0h2m-2 0h2m-1 0h2m-1 0h2m-2 0h2m-1 0h2m1 0h2m-2 0h2m0 0h2m0 0h2m-1 0h2m-52 1h2m1 0h2m1 0h2m-2 0h2m0 0h2m0 0h2m0 0h2m2 0h2m-1 0h2m-1 0h2m-2 0h2m0 0h2m-1 0h2m-2 0h2m0 0h2m-1 0h2m-1 0h2m0 0h2m2 0h2m-1 0h2m5 0h2m-2 0h2m3 0h2m-1 0h2m-2 0h2m-1 0h2m0 0h2m-1 0h2m-2 0h2m12 0h2m-94 1h2m7 0h2m7 0h2m16 0h2m1 0h2m-1 0h2m-1 0h2m4 0h2m1 0h2m-2 0h2m0 0h2m-2 0h2m0 0h2m-1 0h2m-1 0h2m-2 0h2m0 0h2m-2 0h2m-1 0h2m-1 0h2m0 0h2m0 0h2m0 0h2m-1 0h2m-1 0h2m-1 0h2m-2 0h2m3 0h2m0 0h2m0 0h2m6 0h2m4 0h2m-72 1h2m4 0h2m4 0h2m5 0h2m2 0h2m-2 0h2m-2 0h2m-1 0h2m-2 0h2m-1 0h2m1 0h2m0 0h2m-2 0h2m-1 0h2m0 0h2m5 0h2m5 0h2m0 0h2m0 0h2m-2 0h2m1 0h2m-1 0h2m4 0h2m-2 0h2m1 0h2m-1 0h2m-56 1h2m0 0h2m-1 0h2m0 0h2m1 0h2m0 0h2m0 0h2m-2 0h2m-1 0h2m-1 0h2m-2 0h2m1 0h2m0 0h2m-2 0h2m-1 0h2m0 0h2m-2 0h2m-1 0h2m-1 0h2m1 0h2m-1 0h2m-2 0h2m-2 0h2m1 0h2m-2 0h2m-2 0h2m-1 0h2m0 0h2m-1 0h2m-2 0h2m-2 0h2m-1 0h2m-2 0h2m7 0h2m2 0h2m-1 0h2m-53 1h2m6 0h2m4 0h2m-2 0h2m-1 0h2m-1 0h2m1 0h2m-1 0h2m-1 0h2m-2 0h2m-2 0h2m1 0h2m0 0h2m-2 0h2m-1 0h2m-2 0h2m1 0h2m0 0h2m-1 0h2m1 0h2m2 0h2m9 0h2m-2 0h2m1 0h2m-1 0h2m-1 0h2m-2 0h2m-86 1h2m4 0h2m15 0h2m6 0h2m1 0h2m1 0h2m1 0h2m0 0h2m-1 0h2m-2 0h2m-1 0h2m-2 0h2m1 0h2m1 0h2m-2 0h2m-1 0h2m-1 0h2m-1 0h2m1 0h2m-1 0h2m-2 0h2m0 0h2m0 0h2m-2 0h2m-2 0h2m3 0h2m-2 0h2m-1 0h2m4 0h2m6 0h2m1 0h2m-67 1h2m5 0h2m11 0h2m-2 0h2m-2 0h2m-1 0h2m-2 0h2m1 0h2m1 0h2m0 0h2m-1 0h2m-1 0h2m-2 0h2m-1 0h2m-2 0h2m-1 0h2m-2 0h2m-2 0h2m0 0h2m-2 0h2m-1 0h2m-1 0h2m-2 0h2m-1 0h2m-1 0h2m0 0h2m-1 0h2m-1 0h2m-1 0h2m-1 0h2m-2 0h2m-1 0h2m-1 0h2m-1 0h2m-2 0h2m-1 0h2m2 0h2m-2 0h2m9 0h2m-77 1h2m10 0h2m-1 0h2m0 0h2m-2 0h2m8 0h2m0 0h2m-2 0h2m-1 0h2m-1 0h2m0 0h2m1 0h2m-1 0h2m-1 0h2m-2 0h2m-1 0h2m-2 0h2m-1 0h2m-2 0h2m-1 0h2m-2 0h2m-2 0h2m-1 0h2m-2 0h2m-1 0h2m-2 0h2m-1 0h2m-2 0h2m-1 0h2m-2 0h2m-2 0h2m-2 0h2m-2 0h2m-1 0h2m-2 0h2m-2 0h2m-1 0h2m0 0h2m0 0h2m4 0h2m-1 0h2m-1 0h2m-1 0h2m-1 0h2m4 0h2m-1 0h2m0 0h2m7 0h2m-64 1h2m0 0h2m5 0h2m0 0h2m2 0h2m-2 0h2m-1 0h2m-1 0h2m-1 0h2m-2 0h2m0 0h2m-2 0h2m-1 0h2m-1 0h2m2 0h2m-2 0h2m-1 0h2m-2 0h2m-2 0h2m-1 0h2m-2 0h2m-1 0h2m-2 0h2m-1 0h2m-2 0h2m-2 0h2m-1 0h2m-2 0h2m-1 0h2m-1 0h2m-1 0h2m-1 0h2m-2 0h2m-2 0h2m-2 0h2m-1 0h2m-2 0h2m-2 0h2m-1 0h2m-2 0h2m-2 0h2m-1 0h2m-1 0h2m1 0h2m0 0h2m-2 0h2m-2 0h2m3 0h2m7 0h2m3 0h2m-85 1h2m4 0h2m2 0h2m0 0h2m9 0h2m2 0h2m0 0h2m-2 0h2m1 0h2m0 0h2m2 0h2m-2 0h2m-1 0h2m-2 0h2m-1 0h2m-1 0h2m-2 0h2m-1 0h2m-1 0h2m-2 0h2m-2 0h2m-2 0h2m-1 0h2m-2 0h2m-1 0h2m-2 0h2m-2 0h2m-1 0h2m-2 0h2m-1 0h2m-2 0h2m-1 0h2m-2 0h2m-2 0h2m-1 0h2m-2 0h2m-2 0h2m-1 0h2m-2 0h2m0 0h2m-1 0h2m-1 0h2m-2 0h2m1 0h2m-1 0h2m-2 0h2m-1 0h2m-1 0h2m-2 0h2m-2 0h2m-1 0h2m-1 0h2m-1 0h2m-2 0h2m-1 0h2m-2 0h2m3 0h2m0 0h2m0 0h2m9 0h2m-81 1h2m0 0h2m9 0h2m-2 0h2m4 0h2m-1 0h2m0 0h2m9 0h2m-1 0h2m-1 0h2m-1 0h2m-2 0h2m-2 0h2m-1 0h2m0 0h2m-2 0h2m-1 0h2m-2 0h2m-1 0h2m-2 0h2m-2 0h2m-2 0h2m-1 0h2m-1 0h2m-2 0h2m-1 0h2m-2 0h2m0 0h2m-2 0h2m-2 0h2m-1 0h2m-2 0h2m0 0h2m-2 0h2m-2 0h2m-2 0h2m-1 0h2m-1 0h2m-1 0h2m-1 0h2m-2 0h2m-1 0h2m0 0h2m0 0h2m-1 0h2m-2 0h2m-1 0h2m-1 0h2m0 0h2m-2 0h2m2 0h2m-1 0h2m3 0h2m-1 0h2m5 0h2m-96 1h2m19 0h2m4 0h2m0 0h2m-2 0h2m2 0h2m0 0h2m0 0h2m0 0h2m1 0h2m2 0h2m0 0h2m-2 0h2m-2 0h2m-1 0h2m-2 0h2m-1 0h2m-2 0h2m0 0h2m-2 0h2m-1 0h2m-2 0h2m-2 0h2m0 0h2m-2 0h2m-1 0h2m-2 0h2m-1 0h2m-2 0h2m0 0h2m-1 0h2m-1 0h2m-1 0h2m-2 0h2m-2 0h2m-1 0h2m-2 0h2m-2 0h2m-2 0h2m-1 0h2m-2 0h2m-2 0h2m-2 0h2m-1 0h2m0 0h2m-2 0h2m-2 0h2m-2 0h2m-1 0h2m-2 0h2m-1 0h2m-1 0h2m4 0h2m-1 0h2m6 0h2m-1 0h2m-76 1h2m3 0h2m6 0h2m2 0h2m0 0h2m10 0h2m-2 0h2m-2 0h2m-1 0h2m-1 0h2m-1 0h2m0 0h2m-2 0h2m-1 0h2m-2 0h2m-2 0h2m-1 0h2m-2 0h2m-1 0h2m-2 0h2m-2 0h2m-1 0h2m-2 0h2m-2 0h2m-1 0h2m-2 0h2m-2 0h2m-1 0h2m-1 0h2m-1 0h2m0 0h2m-1 0h2m-1 0h2m-1 0h2m0 0h2m0 0h2m-2 0h2m-2 0h2m-2 0h2m-2 0h2m-1 0h2m-1 0h2m0 0h2m-2 0h2m-1 0h2m-1 0h2m2 0h2m-2 0h2m-1 0h2m3 0h2m5 0h2m1 0h2m-77 1h2m5 0h2m-2 0h2m6 0h2m9 0h2m-2 0h2m-1 0h2m-1 0h2m-1 0h2m0 0h2m-1 0h2m-1 0h2m-2 0h2m-2 0h2m-2 0h2m-1 0h2m5 0h2m0 0h2m-1 0h2m-2 0h2m-1 0h2m2 0h2m-2 0h2m-1 0h2m-1 0h2m-2 0h2m-2 0h2m-1 0h2m-2 0h2m0 0h2m-2 0h2m-1 0h2m-2 0h2m-2 0h2m-2 0h2m-1 0h2m0 0h2m-1 0h2m-2 0h2m0 0h2m3 0h2m0 0h2m-2 0h2m1 0h2m-2 0h2m3 0h2m-87 1h2m19 0h2m0 0h2m-2 0h2m-2 0h2m0 0h2m-1 0h2m1 0h2m1 0h2m0 0h2m0 0h2m-2 0h2m-1 0h2m0 0h2m-2 0h2m-1 0h2m-2 0h2m-1 0h2m-2 0h2m-1 0h2m0 0h2m-2 0h2m0 0h2m-1 0h2m-1 0h2m-1 0h2m-1 0h2m-1 0h2m-2 0h2m-1 0h2m-1 0h2m0 0h2m-2 0h2m-2 0h2m1 0h2m-2 0h2m-1 0h2m-2 0h2m-1 0h2m-2 0h2m-1 0h2m-2 0h2m-2 0h2m-1 0h2m-1 0h2m-1 0h2m-2 0h2m-1 0h2m-2 0h2m-2 0h2m-2 0h2m-1 0h2m5 0h2m-87 1h2m23 0h2m5 0h2m1 0h2m-1 0h2m0 0h2m-1 0h2m0 0h2m0 0h2m0 0h2m-1 0h2m-1 0h2m-2 0h2m-1 0h2m-1 0h2m-1 0h2m-1 0h2m-2 0h2m-1 0h2m1 0h2m0 0h2m-2 0h2m-1 0h2m0 0h2m-2 0h2m3 0h2m-1 0h2m0 0h2m-1 0h2m2 0h2m-1 0h2m-1 0h2m-2 0h2m-2 0h2m-1 0h2m-1 0h2m-2 0h2m-2 0h2m-2 0h2m-1 0h2m0 0h2m-1 0h2m-2 0h2m-1 0h2m-2 0h2m-1 0h2m-1 0h2m-1 0h2m0 0h2m-2 0h2m2 0h2m1 0h2m-76 1h2m4 0h2m-1 0h2m5 0h2m3 0h2m-2 0h2m0 0h2m-1 0h2m0 0h2m-2 0h2m-1 0h2m-2 0h2m-1 0h2m-1 0h2m-2 0h2m-1 0h2m-2 0h2m-1 0h2m0 0h2m-1 0h2m-1 0h2m-2 0h2m2 0h2m-1 0h2m0 0h2m0 0h2m1 0h2m-2 0h2m-1 0h2m1 0h2m1 0h2m0 0h2m-1 0h2m-2 0h2m-2 0h2m1 0h2m-1 0h2m2 0h2m3 0h2m0 0h2m4 0h2m1 0h2m-74 1h2m8 0h2m2 0h2m-1 0h2m-2 0h2m-2 0h2m1 0h2m-2 0h2m-2 0h2m-1 0h2m0 0h2m-1 0h2m-2 0h2m-2 0h2m-1 0h2m-1 0h2m-1 0h2m3 0h2m-1 0h2m0 0h2m4 0h2m5 0h2m-2 0h2m-1 0h2m-2 0h2m-1 0h2m-2 0h2m-1 0h2m0 0h2m-1 0h2m-1 0h2m0 0h2m-1 0h2m-2 0h2m-1 0h2m0 0h2m4 0h2m4 0h2m-62 1h2m0 0h2m2 0h2m-2 0h2m-1 0h2m0 0h2m-2 0h2m-2 0h2m-2 0h2m0 0h2m-1 0h2m-2 0h2m-2 0h2m2 0h2m-2 0h2m1 0h2m-1 0h2m5 0h2m4 0h2m3 0h2m-2 0h2m1 0h2m-1 0h2m-1 0h2m-2 0h2m-1 0h2m-1 0h2m-1 0h2m-1 0h2m-1 0h2m-1 0h2m-1 0h2m0 0h2m5 0h2m-81 1h2m10 0h2m-2 0h2m2 0h2m-1 0h2m0 0h2m-1 0h2m-2 0h2m1 0h2m-1 0h2m-1 0h2m0 0h2m0 0h2m-1 0h2m-1 0h2m-1 0h2m0 0h2m7 0h2m-2 0h2m-1 0h2m2 0h2m0 0h2m-1 0h2m-1 0h2m-2 0h2m-2 0h2m0 0h2m1 0h2m-2 0h2m-1 0h2m-2 0h2m0 0h2m-1 0h2m-1 0h2m-2 0h2m-1 0h2m1 0h2m7 0h2m3 0h2m-87 1h2m0 0h2m11 0h2m0 0h2m-1 0h2m1 0h2m-1 0h2m-1 0h2m1 0h2m1 0h2m1 0h2m-1 0h2m-2 0h2m-2 0h2m0 0h2m0 0h2m3 0h2m-1 0h2m-2 0h2m0 0h2m-1 0h2m-1 0h2m-1 0h2m0 0h2m2 0h2m-1 0h2m-1 0h2m-1 0h2m-1 0h2m1 0h2m0 0h2m0 0h2m-1 0h2m0 0h2m-2 0h2m-1 0h2m-1 0h2m-1 0h2m-2 0h2m-1 0h2m-2 0h2m-2 0h2m-1 0h2m0 0h2m3 0h2m-1 0h2m-1 0h2m-65 1h2m-2 0h2m4 0h2m0 0h2m-1 0h2m-2 0h2m-1 0h2m-2 0h2m-1 0h2m0 0h2m-2 0h2m-1 0h2m-1 0h2m-1 0h2m-1 0h2m0 0h2m4 0h2m0 0h2m-1 0h2m-2 0h2m1 0h2m1 0h2m-1 0h2m-2 0h2m-1 0h2m0 0h2m-1 0h2m0 0h2m2 0h2m-1 0h2m-2 0h2m-1 0h2m-2 0h2m-1 0h2m-1 0h2m-2 0h2m-1 0h2m-1 0h2m-2 0h2m5 0h2m0 0h2m3 0h2m-72 1h2m2 0h2m6 0h2m-2 0h2m0 0h2m-2 0h2m-1 0h2m-1 0h2m-2 0h2m0 0h2m-1 0h2m-1 0h2m-2 0h2m0 0h2m-1 0h2m-1 0h2m0 0h2m0 0h2m19 0h2m-1 0h2m-1 0h2m-2 0h2m-1 0h2m0 0h2m1 0h2m-2 0h2m-1 0h2m8 0h2m1 0h2m-63 1h2m-1 0h2m-1 0h2m-1 0h2m-2 0h2m-1 0h2m-2 0h2m-1 0h2m-2 0h2m-1 0h2m-2 0h2m-1 0h2m-1 0h2m2 0h2m-1 0h2m0 0h2m0 0h2m5 0h2m-2 0h2m7 0h2m-1 0h2m-1 0h2m1 0h2m-1 0h2m0 0h2m-2 0h2m-1 0h2m-2 0h2m-1 0h2m0 0h2m-2 0h2m-48 1h2m1 0h2m0 0h2m-1 0h2m0 0h2m10 0h2m1 0h2m-1 0h2m0 0h2m1 0h2m0 0h2m-2 0h2m0 0h2m-2 0h2m-1 0h2m-1 0h2m-1 0h2m-1 0h2m0 0h2m4 0h2m-2 0h2m-1 0h2m-2 0h2m-2 0h2m-2 0h2m-1 0h2m0 0h2m1 0h2m5 0h2m1 0h2m-75 1h2m8 0h2m1 0h2m-2 0h2m1 0h2m-1 0h2m7 0h2m1 0h2m1 0h2m-1 0h2m4 0h2m-2 0h2m-2 0h2m2 0h2m0 0h2m1 0h2m1 0h2m0 0h2m-2 0h2m2 0h2m2 0h2m-2 0h2m0 0h2m7 0h2m-2 0h2m-65 1h2m2 0h2m0 0h2m-1 0h2m-2 0h2m-2 0h2m-2 0h2m-2 0h2m-1 0h2m-1 0h2m-1 0h2m-1 0h2m0 0h2m2 0h2m0 0h2m5 0h2m6 0h2m-1 0h2m-1 0h2m-1 0h2m-1 0h2m2 0h2m1 0h2m0 0h2m0 0h2m-2 0h2m0 0h2m-1 0h2m-2 0h2m-1 0h2m-2 0h2m1 0h2m7 0h2m-62 1h2m-1 0h2m0 0h2m-2 0h2m-2 0h2m2 0h2m0 0h2m10 0h2m-2 0h2m0 0h2m-1 0h2m0 0h2m3 0h2m4 0h2m-2 0h2m0 0h2m2 0h2m2 0h2m-1 0h2m-2 0h2m-1 0h2m-50 1h2m-2 0h2m-2 0h2m-1 0h2m-2 0h2m7 0h2m0 0h2m7 0h2m-1 0h2m-2 0h2m1 0h2m1 0h2m0 0h2m7 0h2m-1 0h2m-2 0h2m-1 0h2m-2 0h2m0 0h2m-2 0h2m1 0h2m-2 0h2m0 0h2m-2 0h2m-1 0h2m0 0h2m0 0h2m-2 0h2m0 0h2m1 0h2m-65 1h2m2 0h2m20 0h2m0 0h2m4 0h2m6 0h2m-1 0h2m0 0h2m-1 0h2m-2 0h2m1 0h2m12 0h2m-69 1h2m1 0h2m2 0h2m-2 0h2m0 0h2m23 0h2m2 0h2m9 0h2m-2 0h2m0 0h2m-1 0h2m2 0h2m0 0h2m-1 0h2m-56 1h2m0 0h2m-1 0h2m-2 0h2m27 0h2m-2 0h2m0 0h2m3 0h2m-1 0h2m-2 0h2m5 0h2m-1 0h2m-2 0h2m-2 0h2m0 0h2m-1 0h2m3 0h2m-2 0h2m-75 1h2m13 0h2m-1 0h2m-1 0h2m-1 0h2m-1 0h2m33 0h2m-2 0h2m1 0h2m2 0h2m-1 0h2m-1 0h2m-1 0h2m0 0h2m-2 0h2m3 0h2m0 0h2m3 0h2m-70 1h2m0 0h2m4 0h2m38 0h2m2 0h2m0 0h2m-2 0h2m5 0h2m-1 0h2m-60 1h2m-1 0h2m2 0h2m41 0h2m-2 0h2m-1 0h2m0 0h2m1 0h2m8 0h2m-64 1h2m0 0h2m42 0h2m0 0h2m-1 0h2m-2 0h2m0 0h2m4 0h2m-59 1h2m0 0h2m42 0h2m-1 0h2m-2 0h2m-1 0h2m-2 0h2m-2 0h2m0 0h2m-52 1h2m-2 0h2m-1 0h2m43 0h2m-2 0h2m-1 0h2m-1 0h2m-2 0h2m-2 0h2m-1 0h2m1 0h2m-57 1h2m2 0h2m-1 0h2m43 0h2m-1 0h2m-1 0h2m-58 1h2m2 0h2m0 0h2m0 0h2m44 0h2m-53 1h2m-1 0h2m1 0h2m44 0h2m1 0h2m-2 0h2m-55 1h2m-1 0h2m-1 0h2m46 0h2m-1 0h2m-2 0h2m-2 0h2m-2 0h2m-1 0h2m-2 0h2m-2 0h2m-1 0h2m5 0h2m-63 1h2m0 0h2m1 0h2m45 0h2m-2 0h2m0 0h2m6 0h2m-63 1h2m-2 0h2m-1 0h2m0 0h2m-2 0h2m46 0h2m2 0h2m-1 0h2m-60 1h2m0 0h2m-2 0h2m-2 0h2m-1 0h2m0 0h2m-2 0h2m-2 0h2m46 0h2m-2 0h2m-54 1h2m-2 0h2m2 0h2m46 0h2m-1 0h2m-64 1h2m8 0h2m-1 0h2m50 0h2m3 0h2m-62 1h2m-1 0h2m-1 0h2m-2 0h2m-1 0h2m-1 0h2m47 0h2m-2 0h2m-2 0h2m-53 1h2m49 0h2m-1 0h2m-1 0h2m-1 0h2m-1 0h2m-1 0h2m-59 1h2m-2 0h2m-1 0h2m-1 0h2m48 0h2m-2 0h2m-1 0h2m-2 0h2m0 0h2m-58 1h2m0 0h2m-1 0h2m48 0h2m-2 0h2m0 0h2m-2 0h2m-67 1h2m3 0h2m4 0h2m-2 0h2m54 0h2m-1 0h2m-67 1h2m-1 0h2m5 0h2m-1 0h2m-1 0h2m-2 0h2m-2 0h2m47 0h2m-2 0h2m-1 0h2m-1 0h2m-1 0h2m3 0h2m-65 1h2m-2 0h2m-1 0h2m-2 0h2m-2 0h2m2 0h2m-1 0h2m-2 0h2m50 0h2m-2 0h2m-1 0h2m-2 0h2m-2 0h2m-1 0h2m-70 1h2m4 0h2m-1 0h2m-2 0h2m-2 0h2m-1 0h2m-2 0h2m-2 0h2m-1 0h2m-2 0h2m53 0h2m1 0h2m-63 1h2m56 0h2m-1 0h2m-2 0h2m-2 0h2m-1 0h2m-2 0h2m-1 0h2m-65 1h2m2 0h2m53 0h2m-1 0h2m-2 0h2m-1 0h2m-65 1h2m3 0h2m-2 0h2m-1 0h2m-2 0h2m-2 0h2m-1 0h2m52 0h2m-1 0h2m-1 0h2m-2 0h2m1 0h2m-67 1h2m-2 0h2m2 0h2m-2 0h2m56 0h2m-67 1h2m1 0h2m0 0h2m-1 0h2m-2 0h2m-1 0h2m-1 0h2m52 0h2m-1 0h2m0 0h2m0 0h2m-66 1h2m4 0h2m51 0h2m-1 0h2m-2 0h2m1 0h2m-1 0h2m-66 1h2m-2 0h2m-2 0h2m1 0h2m-2 0h2m-1 0h2m-1 0h2m53 0h2m-1 0h2m-2 0h2m0 0h2m-66 1h2m0 0h2m-1 0h2m1 0h2m-2 0h2m54 0h2m-1 0h2m-1 0h2m-66 1h2m1 0h2m0 0h2m-1 0h2m55 0h2m-1 0h2m-61 1h2m-2 0h2m-1 0h2m56 0h2m-2 0h2m0 0h2m-66 1h2m2 0h2m-2 0h2m-2 0h2m-2 0h2m56 0h2m-2 0h2m-2 0h2m-1 0h2m-1 0h2m-67 1h2m0 0h2m-1 0h2m-1 0h2m-2 0h2m-1 0h2m57 0h2m6 0h2m-75 1h2m-1 0h2m-2 0h2m0 0h2m-1 0h2m0 0h2m-2 0h2m57 0h2m-1 0h2m-1 0h2m-2 0h2m-68 1h2m3 0h2m55 0h2m-1 0h2m-2 0h2m1 0h2m-1 0h2m-69 1h2m0 0h2m-2 0h2m0 0h2m-2 0h2m-1 0h2m-2 0h2m56 0h2m5 0h2m-70 1h2m0 0h2m0 0h2m53 0h2m0 0h2m-2 0h2m-1 0h2m-1 0h2m-67 1h2m0 0h2m-1 0h2m0 0h2m54 0h2m-1 0h2m-2 0h2m0 0h2m0 0h2m-2 0h2m-1 0h2m-69 1h2m1 0h2m-2 0h2m-1 0h2m-2 0h2m-1 0h2m-2 0h2m56 0h2m-2 0h2m-2 0h2m-1 0h2m-2 0h2m0 0h2m-1 0h2m-68 1h2m-2 0h2m-2 0h2m-1 0h2m-1 0h2m-2 0h2m56 0h2m-2 0h2m-1 0h2m1 0h2m-68 1h2m1 0h2m0 0h2m-1 0h2m54 0h2m-1 0h2m0 0h2m-1 0h2m0 0h2m-68 1h2m62 0h2m-70 1h2m3 0h2m-2 0h2m1 0h2m-1 0h2m52 0h2m-1 0h2m-1 0h2m-1 0h2m-69 1h2m4 0h2m-2 0h2m0 0h2m-1 0h2m54 0h2m-1 0h2m-2 0h2m-1 0h2m1 0h2m-65 1h2m-1 0h2m0 0h2m51 0h2m-1 0h2m-1 0h2m-1 0h2m0 0h2m-65 1h2m0 0h2m-1 0h2m-1 0h2m-2 0h2m53 0h2m-1 0h2m-1 0h2m-1 0h2m-63 1h2m1 0h2m51 0h2m-1 0h2m-1 0h2m0 0h2m-2 0h2m-2 0h2m-1 0h2m-72 1h2m7 0h2m-1 0h2m0 0h2m0 0h2m-2 0h2m49 0h2m3 0h2m-2 0h2m-1 0h2m-66 1h2m0 0h2m-1 0h2m0 0h2m50 0h2m-2 0h2m-1 0h2m0 0h2m-58 1h2m-2 0h2m-1 0h2m-2 0h2m0 0h2m-2 0h2m49 0h2m-2 0h2m-1 0h2m-1 0h2m-2 0h2m0 0h2m0 0h2m-60 1h2m-1 0h2m48 0h2m-2 0h2m-1 0h2m-59 1h2m2 0h2m0 0h2m-2 0h2m-2 0h2m-1 0h2m46 0h2m-2 0h2m-2 0h2m-1 0h2m-1 0h2m-1 0h2m2 0h2m-62 1h2m0 0h2m-1 0h2m-1 0h2m-1 0h2m-2 0h2m45 0h2m-1 0h2m-57 1h2m-2 0h2m2 0h2m-2 0h2m0 0h2m-1 0h2m46 0h2m0 0h2m-70 1h2m10 0h2m-2 0h2m2 0h2m-1 0h2m-1 0h2m-2 0h2m-2 0h2m-2 0h2m-2 0h2m-2 0h2m-1 0h2m44 0h2m-1 0h2m-2 0h2m-1 0h2m-2 0h2m0 0h2m1 0h2m-62 1h2m0 0h2m2 0h2m43 0h2m-1 0h2m-1 0h2m-2 0h2m-1 0h2m-2 0h2m-1 0h2m2 0h2m-61 1h2m-1 0h2m0 0h2m0 0h2m0 0h2m41 0h2m-1 0h2m-2 0h2m-2 0h2m-1 0h2m-2 0h2m0 0h2m-2 0h2m-53 1h2m1 0h2m-1 0h2m41 0h2m-2 0h2m0 0h2m0 0h2m0 0h2m-61 1h2m0 0h2m2 0h2m-1 0h2m-1 0h2m-2 0h2m-1 0h2m-2 0h2m-1 0h2m-1 0h2m-2 0h2m39 0h2m-2 0h2m-1 0h2m-1 0h2m-2 0h2m-2 0h2m1 0h2m-1 0h2m0 0h2m1 0h2m-75 1h2m3 0h2m7 0h2m-1 0h2m-1 0h2m-1 0h2m-2 0h2m-1 0h2m0 0h2m-2 0h2m-1 0h2m-2 0h2m40 0h2m1 0h2m0 0h2m-2 0h2m-55 1h2m3 0h2m-1 0h2m0 0h2m35 0h2m-1 0h2m-2 0h2m10 0h2m-61 1h2m3 0h2m1 0h2m-2 0h2m-2 0h2m-1 0h2m-2 0h2m37 0h2m-2 0h2m-2 0h2m-2 0h2m-1 0h2m-2 0h2m-2 0h2m3 0h2m-1 0h2m-56 1h2m1 0h2m1 0h2m-2 0h2m-2 0h2m-2 0h2m0 0h2m33 0h2m-2 0h2m0 0h2m-2 0h2m-2 0h2m0 0h2m-1 0h2m-2 0h2m-1 0h2m-54 1h2m0 0h2m-1 0h2m4 0h2m0 0h2m-2 0h2m-1 0h2m-2 0h2m-1 0h2m31 0h2m-2 0h2m-1 0h2m3 0h2m2 0h2m-46 1h2m-1 0h2m-1 0h2m29 0h2m-1 0h2m3 0h2m-2 0h2m-1 0h2m-48 1h2m2 0h2m-1 0h2m-1 0h2m-1 0h2m-1 0h2m-2 0h2m-2 0h2m28 0h2m1 0h2m-1 0h2m-1 0h2m-1 0h2m11 0h2m-60 1h2m2 0h2m1 0h2m-1 0h2m-2 0h2m-1 0h2m0 0h2m24 0h2m-2 0h2m-2 0h2m2 0h2m5 0h2m-49 1h2m-1 0h2m0 0h2m0 0h2m0 0h2m-1 0h2m-1 0h2m-1 0h2m-2 0h2m24 0h2m0 0h2m-2 0h2m2 0h2m-1 0h2m2 0h2m-1 0h2m-44 1h2m3 0h2m21 0h2m-2 0h2m-1 0h2m-1 0h2m1 0h2m-1 0h2m-1 0h2m0 0h2m-40 1h2m1 0h2m-1 0h2m0 0h2m-1 0h2m-1 0h2m16 0h2m-2 0h2m-2 0h2m1 0h2m-2 0h2m-1 0h2m3 0h2m-1 0h2m-39 1h2m5 0h2m0 0h2m-2 0h2m-2 0h2m0 0h2m-2 0h2m-1 0h2m-1 0h2m9 0h2m-2 0h2m-1 0h2m-1 0h2m-1 0h2m1 0h2m-2 0h2m0 0h2m-1 0h2m2 0h2m-2 0h2m0 0h2m-38 1h2m1 0h2m-2 0h2m-1 0h2m-1 0h2m-2 0h2m-2 0h2m0 0h2m-1 0h2m-2 0h2m0 0h2m3 0h2m-1 0h2m0 0h2m-2 0h2m-2 0h2m-2 0h2m-1 0h2m-2 0h2m0 0h2m-2 0h2m1 0h2m3 0h2m4 0h2m-2 0h2m2 0h2m-2 0h2m-50 1h2m6 0h2m-2 0h2m-1 0h2m-2 0h2m2 0h2m-2 0h2m1 0h2m-1 0h2m-1 0h2m-2 0h2m0 0h2m-2 0h2m-1 0h2m-1 0h2m0 0h2m-2 0h2m0 0h2m-2 0h2m-1 0h2m-1 0h2m-1 0h2m1 0h2m-1 0h2m-2 0h2m-1 0h2m-2 0h2m4 0h2m0 0h2m-39 1h2m1 0h2m1 0h2m1 0h2m-2 0h2m0 0h2m-2 0h2m-1 0h2m-1 0h2m-2 0h2m-1 0h2m-1 0h2m1 0h2m-1 0h2m-1 0h2m-2 0h2m-2 0h2m2 0h2m-2 0h2m-1 0h2m1 0h2m-1 0h2m-1 0h2m-2 0h2m1 0h2m2 0h2m-36 1h2m2 0h2m1 0h2m-2 0h2m0 0h2m0 0h2m-2 0h2m-1 0h2m-1 0h2m-1 0h2m1 0h2m3 0h2m0 0h2m4 0h2m-29 1h2m4 0h2m0 0h2m-1 0h2m1 0h2m1 0h2m-2 0h2m2 0h2m0 0h2m-1 0h2m1 0h2m-1 0h2m-1 0h2m4 0h2m1 0h2m-36 1h2m0 0h2m-1 0h2m-1 0h2m5 0h2m-1 0h2m0 0h2m-1 0h2m-2 0h2m-1 0h2m0 0h2m-1 0h2m0 0h2m-2 0h2m-2 0h2m-1 0h2m-2 0h2m-1 0h2m-26 1h2m-1 0h2m3 0h2m-2 0h2m2 0h2m6 0h2m6 0h2m-33 1h2m16 0h2m-1 0h2m-2 0h2m1 0h2m-2 0h2m0 0h2m-1 0h2m-25 1h2m-1 0h2m10 0h2m6 0h2m-8 1h2m0 0h2m-1 0h2m0 0h2m18 0h2m-26 1h2m-1 0h2m-2 0h2m-1 0h2m-2 0h2m-15 1h2m7 0h2m-1 0h2m-21 1h2m9 0h2m-1 0h2m5 0h2m1 0h2m0 0h2m-6 1h2m-23 1h2m14 1h2m11 0h2m-17 1h2m-2 0h2m4 1h2m4 1h2m-22 9h2" stroke="#dc2a1c" stroke-width="2.2" fill="none"/>
<path transform="scale(.5)" d="M1344 282h2m4 87h2m-7 4h2m-2 2h2m5 5h2m-3 1h2m-8 9h2m2 1h2m-6 3h2m-1 1h2m-2 0h2m5 0h2m3 0h2m-16 5h2m0 1h2m9 2h2m-8 1h2m4 0h2m-14 2h2m-3 1h2m6 1h2m6 3h2m8 0h2m0 0h2m-30 1h2m-2 0h2m13 1h2m-5 3h2m-7 4h2m-5 1h2m6 1h2m14 1h2m12 0h2m-21 1h2m6 2h2m-28 27h2" stroke="#f8c08a" stroke-width="2" fill="none"/>
<path transform="scale(.5)" d="M1345 332h2m3 20h2m-2 15h2m-8 5h2m9 6h2m-11 2h2m7 0h2m-11 8h2m8 3h2m-2 0h2m-7 2h2m0 1h2m-7 1h2m15 0h2m-22 2h2m-1 1h2m0 0h2m0 0h2m0 1h2m-1 0h2m-3 1h2m-7 1h2m0 0h2m-2 3h2m2 0h2m1 0h2m-9 1h2m14 0h2m-21 1h2m10 0h2m-9 1h2m-7 3h2m0 1h2m0 1h2m0 0h2m-1 0h2m6 1h2m3 3h2m-15 1h2m4 5h2m18 2h2m-6 2h2" stroke="#ee7a1e" stroke-width="2.2" fill="none"/>
<path d="M672.5 262.6V130.4H800.7" stroke="#f9c195" stroke-width="1.5" fill="none"/>
<path d="M800.7 130.4V262.6H672.5" stroke="#ee842c" stroke-width="1.8" fill="none"/>
<rect x="618" y="62" width="202.3" height="203.5" fill="none" stroke="#8a8887" stroke-width="1.5"/>
<path d="M618 62V265.5H820.3" stroke="#4f4d4c" stroke-width="1.6" fill="none"/>
<path d="M618 265.5h-5.5M618 249h-3M618 232.4h-3M618 215.9h-3M618 199.3h-3M618 182.8h-5.5M618 166.3h-3M618 149.7h-3M618 133.2h-3M618 116.6h-3M618 100.1h-5.5M618 83.6h-3M618 67h-3M624 265.5v3M632 265.5v3M639.5 265.5v5M647.5 265.5v3M655.5 265.5v3M663.6 265.5v3M673.8 265.5v3M681.1 265.5v3M686.7 265.5v3M691.3 265.5v3M695.2 265.5v3M698.6 265.5v3M701.5 265.5v3M704.2 265.5v5M721.7 265.5v3M731.9 265.5v3M739.1 265.5v3M744.8 265.5v3M749.4 265.5v3M753.3 265.5v3M756.6 265.5v3M759.6 265.5v3M762.2 265.5v5M779.7 265.5v3M789.9 265.5v3M797.2 265.5v3M802.8 265.5v3M807.4 265.5v3M811.3 265.5v3M814.7 265.5v3M817.6 265.5v3M819.8 265.5v5" stroke="#2e2c2b" stroke-width="1.3" fill="none"/>
<text x="639.5" y="284" text-anchor="middle">0</text>
<text x="704.2" y="284" text-anchor="middle">10<tspan dy="-5.5" font-size="10.5">4</tspan></text>
<text x="762.1" y="284" text-anchor="middle">10<tspan dy="-5.5" font-size="10.5">5</tspan></text>
<text x="818.9" y="284" text-anchor="middle">10<tspan dy="-5.5" font-size="10.5">6</tspan></text>
<text text-anchor="middle" transform="translate(611 265.5) rotate(-90)">0</text>
<text text-anchor="middle" transform="translate(611 182.8) rotate(-90)">200</text>
<text text-anchor="middle" transform="translate(611 100.1) rotate(-90)">400</text>
<ellipse cx="895.5" cy="231" rx="19.1" ry="23.2" fill="#dc2a1c" transform="rotate(28 895.5 231)"/>
<ellipse cx="901.5" cy="219.7" rx="13.7" ry="17.4" fill="#dc2a1c" transform="rotate(28 901.5 219.7)"/>
<clipPath id="g22"><rect x="914.7" y="131" width="128.5" height="130.8"/></clipPath>
<g clip-path="url(#g22)"><ellipse cx="895.5" cy="231" rx="19.1" ry="23.2" fill="#ee7a1e" transform="rotate(28 895.5 231)"/></g>
<path transform="scale(.5)" d="M1843 187h2m-21 66h2m-9 8h2m6 1h2m-4 14h2m-15 6h2m11 15h2m-9 2h2m4 2h2m-3 1h2m2 3h2m-6 1h2m0 6h2m-9 1h2m-6 1h2m14 1h2m-18 3h2m3 0h2m-17 2h2m10 1h2m8 3h2m-22 2h2m10 0h2m-18 1h2m6 0h2m8 0h2m-1 0h2m-4 1h2m-4 1h2m1 0h2m-24 1h2m17 0h2m-10 2h2m2 0h2m-18 1h2m15 0h2m-12 1h2m0 1h2m1 0h2m2 0h2m0 1h2m6 0h2m-18 1h2m5 0h2m4 0h2m6 0h2m-27 1h2m8 0h2m6 1h2m-19 1h2m0 0h2m6 0h2m1 0h2m-18 1h2m4 0h2m7 0h2m-1 0h2m0 0h2m-13 1h2m-2 0h2m-9 1h2m9 0h2m-10 1h2m4 0h2m13 0h2m-18 1h2m7 0h2m-1 0h2m-16 1h2m7 0h2m-3 1h2m-17 1h2m7 0h2m2 0h2m-9 1h2m1 0h2m0 0h2m-1 0h2m-1 0h2m6 0h2m2 0h2m1 0h2m-43 1h2m25 0h2m0 0h2m7 0h2m-39 1h2m12 0h2m18 0h2m2 0h2m-19 1h2m-2 1h2m-1 0h2m14 0h2m-32 1h2m0 0h2m-1 0h2m18 0h2m-1 0h2m-3 1h2m3 0h2m-23 1h2m2 0h2m1 0h2m-11 1h2m1 0h2m8 0h2m13 0h2m-1 0h2m-13 1h2m3 0h2m-19 1h2m-1 0h2m-23 1h2m24 0h2m8 0h2m2 0h2m-24 1h2m12 1h2m-5 1h2m8 0h2m-44 2h2m1 1h2m-29 1h2m22 2h2m-14 5h2m0 3h2m1 1h2m-24 3h2m15 0h2m-4 1h2m-8 3h2m9 0h2m37 0h2m-39 1h2m50 0h2m-63 1h2m1 0h2m0 0h2m-7 1h2m-2 0h2m3 1h2m-7 2h2m3 1h2m-26 1h2m6 0h2m0 1h2m-15 1h2m14 3h2m-21 1h2m23 0h2m-5 1h2m42 0h2m-65 1h2m6 0h2m-8 2h2m13 0h2m55 1h2m4 0h2m-6 1h2m-65 1h2m23 0h2m21 0h2m1 1h2m-57 1h2m42 0h2m-2 0h2m-51 1h2m17 0h2m59 0h2m-81 1h2m31 0h2m-47 1h2m77 0h2m-81 1h2m60 0h2m19 0h2m-71 1h2m-14 1h2m51 0h2m26 0h2m-78 1h2m7 0h2m0 0h2m31 0h2m28 0h2m2 0h2m0 0h2m-96 1h2m54 0h2m-13 1h2m-45 1h2m18 0h2m28 0h2m-51 2h2m12 0h2m18 0h2m10 0h2m-42 1h2m32 0h2m3 1h2m48 0h2m-85 1h2m-4 1h2m24 0h2m4 0h2m51 0h2m-64 1h2m6 0h2m-33 1h2m23 4h2m-13 2h2m-2 3h2m2 5h2m-24 2h2m3 1h2m5 0h2m-3 1h2m-1 3h2m-3 1h2m-4 5h2m-13 1h2m4 5h2m0 1h2m0 0h2m-3 1h2m-2 14h2m81 0h2m-86 2h2m80 1h2m-84 2h2m0 0h2m-1 2h2m-5 1h2m0 0h2m-1 2h2m-2 2h2m-3 1h2m-1 3h2m74 3h2m-92 1h2m10 0h2m-9 1h2m88 3h2m-87 1h2m74 0h2m-80 1h2m6 0h2m67 0h2m-67 1h2m0 0h2m-4 2h2m62 0h2m-75 1h2m69 0h2m-52 5h2m2 1h2m-4 2h2m-14 1h2m14 0h2m19 0h2m-42 3h2m44 0h2m-12 1h2m10 0h2m-22 1h2m-13 1h2m3 3h2m45 0h2m-31 2h2" stroke="#f0958c" stroke-width="2" fill="none"/>
<path transform="scale(.5)" d="M1846 144h2m-18 86h2m-4 1h2m-8 33h2m1 12h2m-11 7h2m6 9h2m0 1h2m-11 2h2m7 2h2m-11 6h2m-4 6h2m5 0h2m-10 3h2m3 0h2m-9 1h2m3 0h2m6 1h2m-1 1h2m-10 1h2m-1 0h2m7 3h2m-16 1h2m7 2h2m-29 1h2m8 1h2m10 0h2m-14 3h2m-13 1h2m23 2h2m-24 1h2m6 0h2m5 0h2m4 1h2m-12 1h2m1 2h2m-8 1h2m12 0h2m-22 1h2m3 1h2m1 0h2m-5 1h2m-1 5h2m14 0h2m-1 0h2m-24 1h2m25 0h2m-2 2h2m-42 2h2m5 0h2m15 0h2m-24 1h2m7 0h2m-22 2h2m14 0h2m-5 1h2m14 0h2m5 0h2m-19 1h2m2 0h2m9 0h2m1 0h2m0 0h2m0 0h2m-30 1h2m17 0h2m0 0h2m-16 1h2m9 0h2m5 0h2m-27 1h2m0 0h2m25 0h2m-27 1h2m3 0h2m5 0h2m6 0h2m-25 1h2m5 0h2m-32 1h2m16 0h2m19 0h2m7 0h2m-32 1h2m12 0h2m11 0h2m11 0h2m-53 1h2m10 0h2m9 0h2m-1 0h2m-1 0h2m3 0h2m3 0h2m-32 1h2m5 0h2m1 0h2m10 0h2m4 0h2m-1 0h2m-21 1h2m18 0h2m-28 1h2m9 0h2m-2 0h2m0 0h2m-1 0h2m2 0h2m3 0h2m-2 0h2m-1 0h2m7 0h2m-44 1h2m8 0h2m0 0h2m4 0h2m4 0h2m-2 0h2m0 0h2m2 0h2m11 0h2m-38 1h2m1 0h2m11 0h2m9 0h2m-33 1h2m10 0h2m1 0h2m0 0h2m3 0h2m4 0h2m2 0h2m-25 1h2m1 0h2m4 0h2m-1 0h2m-1 0h2m1 0h2m3 0h2m2 0h2m6 0h2m4 0h2m-29 1h2m-2 0h2m0 0h2m13 0h2m0 0h2m4 0h2m-46 1h2m5 0h2m9 0h2m1 0h2m4 0h2m2 0h2m10 0h2m-37 1h2m0 0h2m4 0h2m-2 0h2m1 0h2m-1 0h2m-13 1h2m-2 0h2m-1 0h2m10 0h2m-2 0h2m5 0h2m6 0h2m-1 0h2m1 0h2m-26 1h2m0 0h2m-1 0h2m4 0h2m-2 0h2m-1 0h2m-2 0h2m-1 0h2m-1 0h2m-2 0h2m1 0h2m2 0h2m3 0h2m-38 1h2m1 0h2m3 0h2m-2 0h2m-1 0h2m-1 0h2m-1 0h2m0 0h2m-1 0h2m1 0h2m-1 0h2m-1 0h2m1 0h2m-16 1h2m10 0h2m1 0h2m-1 0h2m8 0h2m-63 1h2m19 0h2m-1 0h2m6 0h2m3 0h2m1 0h2m6 0h2m1 0h2m-29 1h2m6 0h2m8 0h2m0 0h2m-1 0h2m1 0h2m-1 0h2m0 0h2m-2 0h2m-1 0h2m6 0h2m4 0h2m-52 1h2m1 0h2m-1 0h2m2 0h2m7 0h2m0 0h2m0 0h2m4 0h2m1 0h2m9 0h2m0 0h2m2 0h2m2 0h2m-1 0h2m-38 1h2m2 0h2m0 0h2m2 0h2m1 0h2m0 0h2m-1 0h2m3 0h2m5 0h2m2 0h2m4 0h2m-54 1h2m2 0h2m11 0h2m13 0h2m1 0h2m0 0h2m5 0h2m8 0h2m-52 1h2m-2 0h2m8 0h2m-2 0h2m-2 0h2m-2 0h2m-1 0h2m3 0h2m1 0h2m1 0h2m1 0h2m6 0h2m2 0h2m-1 0h2m0 0h2m3 0h2m-44 1h2m2 0h2m-1 0h2m0 0h2m8 0h2m4 0h2m5 0h2m-1 0h2m-2 0h2m-1 0h2m2 0h2m-1 0h2m2 0h2m0 0h2m-47 1h2m-2 0h2m11 0h2m-2 0h2m9 0h2m-1 0h2m2 0h2m1 0h2m1 0h2m1 0h2m4 0h2m0 0h2m-44 1h2m-1 0h2m10 0h2m-1 0h2m1 0h2m0 0h2m-2 0h2m-1 0h2m-1 0h2m3 0h2m15 0h2m-67 1h2m16 0h2m7 0h2m2 0h2m-1 0h2m-1 0h2m-2 0h2m-1 0h2m-1 0h2m0 0h2m0 0h2m0 0h2m1 0h2m-2 0h2m12 0h2m-2 0h2m-1 0h2m1 0h2m-1 0h2m0 0h2m-41 1h2m-1 0h2m0 0h2m4 0h2m3 0h2m0 0h2m-2 0h2m4 0h2m0 0h2m2 0h2m-1 0h2m9 0h2m-49 1h2m-1 0h2m8 0h2m6 0h2m1 0h2m-1 0h2m2 0h2m1 0h2m-2 0h2m-1 0h2m-1 0h2m5 0h2m6 0h2m-95 1h2m52 0h2m0 0h2m0 0h2m8 0h2m-1 0h2m1 0h2m-2 0h2m1 0h2m-2 0h2m-1 0h2m-1 0h2m-47 1h2m6 0h2m1 0h2m12 0h2m1 0h2m-2 0h2m0 0h2m0 0h2m-1 0h2m-2 0h2m2 0h2m1 0h2m-2 0h2m8 0h2m0 0h2m4 0h2m1 0h2m-62 1h2m2 0h2m19 0h2m-1 0h2m3 0h2m0 0h2m4 0h2m-1 0h2m-1 0h2m3 0h2m3 0h2m6 0h2m0 0h2m-66 1h2m9 0h2m1 0h2m-2 0h2m8 0h2m-1 0h2m0 0h2m0 0h2m-1 0h2m-1 0h2m-2 0h2m-1 0h2m-1 0h2m-2 0h2m0 0h2m-2 0h2m1 0h2m2 0h2m-1 0h2m0 0h2m-2 0h2m2 0h2m-1 0h2m7 0h2m-51 1h2m-1 0h2m2 0h2m6 0h2m6 0h2m0 0h2m8 0h2m-2 0h2m9 0h2m-1 0h2m-2 0h2m-39 1h2m-1 0h2m-2 0h2m3 0h2m-1 0h2m3 0h2m-2 0h2m-1 0h2m0 0h2m-2 0h2m-1 0h2m-2 0h2m2 0h2m5 0h2m-1 0h2m2 0h2m-1 0h2m0 0h2m-2 0h2m1 0h2m-69 1h2m8 0h2m8 0h2m1 0h2m-1 0h2m2 0h2m1 0h2m3 0h2m3 0h2m4 0h2m-2 0h2m0 0h2m0 0h2m5 0h2m4 0h2m-2 0h2m1 0h2m2 0h2m-97 1h2m30 0h2m16 0h2m1 0h2m3 0h2m-1 0h2m-1 0h2m-2 0h2m0 0h2m9 0h2m7 0h2m2 0h2m-1 0h2m-1 0h2m4 0h2m-77 1h2m41 0h2m1 0h2m1 0h2m-1 0h2m-2 0h2m2 0h2m3 0h2m11 0h2m4 0h2m-75 1h2m16 0h2m1 0h2m-1 0h2m-1 0h2m0 0h2m-1 0h2m1 0h2m15 0h2m8 0h2m0 0h2m7 0h2m1 0h2m-2 0h2m0 0h2m-2 0h2m1 0h2m-65 1h2m-1 0h2m-1 0h2m-1 0h2m5 0h2m0 0h2m2 0h2m2 0h2m0 0h2m8 0h2m-1 0h2m2 0h2m1 0h2m1 0h2m7 0h2m3 0h2m1 0h2m0 0h2m-62 1h2m5 0h2m2 0h2m-2 0h2m0 0h2m0 0h2m0 0h2m-1 0h2m0 0h2m-1 0h2m2 0h2m-1 0h2m1 0h2m-1 0h2m-2 0h2m-1 0h2m2 0h2m0 0h2m5 0h2m-2 0h2m8 0h2m-59 1h2m2 0h2m-1 0h2m3 0h2m0 0h2m2 0h2m4 0h2m0 0h2m-2 0h2m-1 0h2m-2 0h2m-1 0h2m-1 0h2m-1 0h2m-1 0h2m-2 0h2m2 0h2m-2 0h2m-2 0h2m3 0h2m-1 0h2m-1 0h2m-2 0h2m-1 0h2m1 0h2m1 0h2m0 0h2m-1 0h2m2 0h2m2 0h2m-1 0h2m-1 0h2m-2 0h2m0 0h2m-1 0h2m-74 1h2m8 0h2m10 0h2m4 0h2m-2 0h2m-2 0h2m6 0h2m0 0h2m-2 0h2m-1 0h2m-2 0h2m-1 0h2m-1 0h2m2 0h2m1 0h2m0 0h2m-1 0h2m1 0h2m-1 0h2m2 0h2m-1 0h2m-1 0h2m1 0h2m-62 1h2m7 0h2m-2 0h2m6 0h2m3 0h2m0 0h2m13 0h2m-1 0h2m1 0h2m-2 0h2m-1 0h2m-1 0h2m5 0h2m6 0h2m0 0h2m-1 0h2m0 0h2m-76 1h2m17 0h2m3 0h2m-2 0h2m5 0h2m1 0h2m0 0h2m0 0h2m-2 0h2m0 0h2m1 0h2m3 0h2m-1 0h2m-2 0h2m4 0h2m-1 0h2m-1 0h2m-1 0h2m-1 0h2m0 0h2m5 0h2m0 0h2m0 0h2m-54 1h2m0 0h2m-2 0h2m0 0h2m0 0h2m-1 0h2m1 0h2m-1 0h2m-1 0h2m-1 0h2m5 0h2m1 0h2m-1 0h2m-2 0h2m0 0h2m-1 0h2m0 0h2m1 0h2m-1 0h2m0 0h2m1 0h2m-1 0h2m-2 0h2m1 0h2m8 0h2m3 0h2m-89 1h2m31 0h2m0 0h2m-2 0h2m1 0h2m-2 0h2m9 0h2m5 0h2m0 0h2m-2 0h2m-1 0h2m1 0h2m-2 0h2m1 0h2m6 0h2m0 0h2m5 0h2m2 0h2m0 0h2m-98 1h2m20 0h2m11 0h2m-1 0h2m-2 0h2m4 0h2m4 0h2m-2 0h2m1 0h2m4 0h2m-1 0h2m3 0h2m-2 0h2m-1 0h2m-1 0h2m-2 0h2m-1 0h2m0 0h2m1 0h2m-1 0h2m-2 0h2m-2 0h2m0 0h2m-2 0h2m0 0h2m-1 0h2m-1 0h2m2 0h2m0 0h2m1 0h2m2 0h2m-2 0h2m0 0h2m-51 1h2m2 0h2m0 0h2m-1 0h2m-1 0h2m-1 0h2m4 0h2m0 0h2m-2 0h2m-1 0h2m-2 0h2m-2 0h2m2 0h2m0 0h2m0 0h2m-2 0h2m0 0h2m1 0h2m0 0h2m-1 0h2m1 0h2m-2 0h2m-1 0h2m1 0h2m0 0h2m-2 0h2m1 0h2m4 0h2m-78 1h2m5 0h2m2 0h2m7 0h2m7 0h2m1 0h2m-2 0h2m-1 0h2m0 0h2m0 0h2m-1 0h2m0 0h2m0 0h2m-2 0h2m1 0h2m0 0h2m0 0h2m0 0h2m0 0h2m0 0h2m0 0h2m5 0h2m-2 0h2m-65 1h2m4 0h2m-2 0h2m2 0h2m-2 0h2m7 0h2m2 0h2m1 0h2m1 0h2m-1 0h2m0 0h2m0 0h2m-1 0h2m0 0h2m2 0h2m0 0h2m-2 0h2m0 0h2m-1 0h2m-1 0h2m-2 0h2m-2 0h2m-2 0h2m1 0h2m1 0h2m0 0h2m1 0h2m1 0h2m-2 0h2m-1 0h2m2 0h2m2 0h2m-81 1h2m13 0h2m2 0h2m7 0h2m-1 0h2m0 0h2m-2 0h2m7 0h2m3 0h2m-2 0h2m0 0h2m-1 0h2m-1 0h2m2 0h2m-2 0h2m-1 0h2m-1 0h2m8 0h2m0 0h2m-1 0h2m4 0h2m0 0h2m-89 1h2m3 0h2m7 0h2m-1 0h2m3 0h2m3 0h2m17 0h2m9 0h2m0 0h2m-1 0h2m-2 0h2m-2 0h2m0 0h2m-1 0h2m0 0h2m0 0h2m-1 0h2m-1 0h2m-1 0h2m0 0h2m-1 0h2m-2 0h2m-1 0h2m2 0h2m0 0h2m-1 0h2m8 0h2m0 0h2m0 0h2m-1 0h2m-74 1h2m2 0h2m9 0h2m2 0h2m7 0h2m2 0h2m-1 0h2m4 0h2m2 0h2m3 0h2m-1 0h2m2 0h2m-1 0h2m-1 0h2m-1 0h2m-1 0h2m-2 0h2m-1 0h2m1 0h2m0 0h2m0 0h2m-2 0h2m2 0h2m0 0h2m-1 0h2m-89 1h2m0 0h2m16 0h2m13 0h2m6 0h2m4 0h2m2 0h2m4 0h2m-2 0h2m-1 0h2m-2 0h2m0 0h2m0 0h2m3 0h2m-1 0h2m-1 0h2m-2 0h2m-1 0h2m-2 0h2m-2 0h2m-1 0h2m-1 0h2m-2 0h2m2 0h2m-2 0h2m0 0h2m1 0h2m-1 0h2m2 0h2m-94 1h2m-1 0h2m15 0h2m1 0h2m-1 0h2m1 0h2m2 0h2m-1 0h2m-1 0h2m2 0h2m-2 0h2m-2 0h2m2 0h2m0 0h2m-1 0h2m-2 0h2m-1 0h2m1 0h2m1 0h2m3 0h2m-1 0h2m1 0h2m-1 0h2m-1 0h2m-1 0h2m-1 0h2m-1 0h2m-1 0h2m-2 0h2m-2 0h2m0 0h2m0 0h2m0 0h2m0 0h2m-2 0h2m-1 0h2m-1 0h2m-1 0h2m-2 0h2m-1 0h2m0 0h2m1 0h2m-2 0h2m-2 0h2m-1 0h2m-1 0h2m0 0h2m1 0h2m0 0h2m-88 1h2m0 0h2m4 0h2m8 0h2m-1 0h2m-1 0h2m6 0h2m1 0h2m-1 0h2m0 0h2m0 0h2m-2 0h2m1 0h2m0 0h2m-2 0h2m-2 0h2m0 0h2m-1 0h2m0 0h2m-1 0h2m-1 0h2m-1 0h2m-1 0h2m0 0h2m0 0h2m0 0h2m-1 0h2m2 0h2m-1 0h2m-1 0h2m-2 0h2m0 0h2m-1 0h2m-2 0h2m1 0h2m-1 0h2m2 0h2m-2 0h2m-2 0h2m-1 0h2m0 0h2m-1 0h2m3 0h2m-1 0h2m-1 0h2m0 0h2m-91 1h2m1 0h2m15 0h2m-1 0h2m4 0h2m3 0h2m2 0h2m-2 0h2m3 0h2m-1 0h2m-2 0h2m2 0h2m-2 0h2m-1 0h2m-2 0h2m-1 0h2m-1 0h2m-1 0h2m3 0h2m-1 0h2m-1 0h2m-2 0h2m0 0h2m-1 0h2m-1 0h2m-2 0h2m6 0h2m-1 0h2m-2 0h2m1 0h2m-1 0h2m0 0h2m-1 0h2m-2 0h2m-1 0h2m0 0h2m0 0h2m3 0h2m-86 1h2m9 0h2m-2 0h2m-2 0h2m-1 0h2m13 0h2m0 0h2m1 0h2m4 0h2m-1 0h2m0 0h2m4 0h2m-1 0h2m1 0h2m0 0h2m-2 0h2m0 0h2m-2 0h2m-1 0h2m-2 0h2m-1 0h2m-2 0h2m-2 0h2m-1 0h2m-2 0h2m0 0h2m-2 0h2m1 0h2m-1 0h2m-1 0h2m-2 0h2m-1 0h2m-1 0h2m-2 0h2m-1 0h2m-2 0h2m-1 0h2m-2 0h2m1 0h2m0 0h2m-2 0h2m-1 0h2m-2 0h2m-1 0h2m-2 0h2m-2 0h2m-2 0h2m-2 0h2m-1 0h2m-1 0h2m-1 0h2m2 0h2m-1 0h2m-102 1h2m32 0h2m-1 0h2m7 0h2m-1 0h2m0 0h2m-2 0h2m-1 0h2m3 0h2m-1 0h2m-1 0h2m-1 0h2m-2 0h2m-1 0h2m-1 0h2m-1 0h2m-2 0h2m1 0h2m-2 0h2m-2 0h2m-2 0h2m-2 0h2m-1 0h2m-2 0h2m0 0h2m-2 0h2m-1 0h2m-2 0h2m-2 0h2m-2 0h2m0 0h2m-1 0h2m-2 0h2m-1 0h2m-1 0h2m-1 0h2m-1 0h2m-1 0h2m-1 0h2m-2 0h2m-2 0h2m-2 0h2m-1 0h2m-1 0h2m-2 0h2m1 0h2m-1 0h2m-2 0h2m-2 0h2m-1 0h2m-1 0h2m0 0h2m-2 0h2m-1 0h2m-1 0h2m-1 0h2m3 0h2m-2 0h2m1 0h2m0 0h2m0 0h2m1 0h2m-2 0h2m-82 1h2m6 0h2m5 0h2m0 0h2m0 0h2m2 0h2m0 0h2m1 0h2m-2 0h2m0 0h2m-1 0h2m-2 0h2m2 0h2m0 0h2m-1 0h2m0 0h2m-2 0h2m-2 0h2m-1 0h2m-2 0h2m-1 0h2m-1 0h2m1 0h2m-2 0h2m-1 0h2m0 0h2m-2 0h2m0 0h2m-1 0h2m-1 0h2m-1 0h2m-1 0h2m-2 0h2m-2 0h2m0 0h2m0 0h2m0 0h2m0 0h2m-1 0h2m-2 0h2m-2 0h2m2 0h2m-1 0h2m-1 0h2m-1 0h2m-2 0h2m-1 0h2m1 0h2m-1 0h2m0 0h2m-2 0h2m-1 0h2m-1 0h2m-92 1h2m0 0h2m11 0h2m8 0h2m1 0h2m2 0h2m3 0h2m1 0h2m-1 0h2m2 0h2m-2 0h2m-2 0h2m0 0h2m-1 0h2m0 0h2m-1 0h2m-1 0h2m-2 0h2m-1 0h2m-2 0h2m-1 0h2m-1 0h2m-2 0h2m-2 0h2m-2 0h2m-1 0h2m-1 0h2m-2 0h2m-2 0h2m-2 0h2m-1 0h2m-1 0h2m0 0h2m-2 0h2m0 0h2m-2 0h2m-2 0h2m0 0h2m-1 0h2m-2 0h2m-2 0h2m-2 0h2m-1 0h2m-1 0h2m0 0h2m-2 0h2m-1 0h2m0 0h2m-2 0h2m-1 0h2m-2 0h2m-2 0h2m-1 0h2m-2 0h2m-1 0h2m-1 0h2m-2 0h2m-1 0h2m-1 0h2m0 0h2m-2 0h2m-2 0h2m-2 0h2m1 0h2m4 0h2m-79 1h2m-2 0h2m-1 0h2m2 0h2m11 0h2m0 0h2m8 0h2m-1 0h2m-1 0h2m-1 0h2m-2 0h2m-1 0h2m-1 0h2m0 0h2m-2 0h2m-1 0h2m-2 0h2m-2 0h2m-1 0h2m-1 0h2m-1 0h2m-2 0h2m0 0h2m-2 0h2m-1 0h2m0 0h2m-2 0h2m1 0h2m1 0h2m-2 0h2m-1 0h2m-1 0h2m-1 0h2m0 0h2m-2 0h2m-2 0h2m-1 0h2m-2 0h2m0 0h2m-2 0h2m0 0h2m-2 0h2m-2 0h2m-1 0h2m-2 0h2m-1 0h2m0 0h2m-2 0h2m-1 0h2m0 0h2m0 0h2m1 0h2m-2 0h2m-1 0h2m-80 1h2m22 0h2m-1 0h2m-2 0h2m-1 0h2m-2 0h2m0 0h2m2 0h2m-1 0h2m2 0h2m-2 0h2m-2 0h2m0 0h2m0 0h2m-1 0h2m-1 0h2m-2 0h2m-1 0h2m3 0h2m-1 0h2m-1 0h2m-1 0h2m1 0h2m1 0h2m-1 0h2m-1 0h2m-2 0h2m0 0h2m0 0h2m-1 0h2m0 0h2m-1 0h2m-1 0h2m0 0h2m-2 0h2m-1 0h2m-1 0h2m-2 0h2m0 0h2m-1 0h2m-94 1h2m20 0h2m4 0h2m7 0h2m-1 0h2m3 0h2m-1 0h2m-2 0h2m3 0h2m-2 0h2m-1 0h2m-2 0h2m-2 0h2m0 0h2m-2 0h2m-2 0h2m-1 0h2m-1 0h2m-1 0h2m-2 0h2m-1 0h2m-2 0h2m-2 0h2m-1 0h2m-1 0h2m-2 0h2m-2 0h2m-1 0h2m0 0h2m-1 0h2m3 0h2m-1 0h2m-2 0h2m2 0h2m-1 0h2m-2 0h2m0 0h2m-1 0h2m-2 0h2m2 0h2m-1 0h2m-1 0h2m-1 0h2m-2 0h2m-2 0h2m-1 0h2m-1 0h2m-1 0h2m-2 0h2m-2 0h2m2 0h2m-2 0h2m-1 0h2m-1 0h2m-1 0h2m-1 0h2m0 0h2m-85 1h2m2 0h2m5 0h2m-1 0h2m-1 0h2m1 0h2m0 0h2m-1 0h2m-1 0h2m0 0h2m5 0h2m2 0h2m-2 0h2m1 0h2m-1 0h2m-1 0h2m-1 0h2m-1 0h2m-2 0h2m-2 0h2m-2 0h2m0 0h2m2 0h2m-1 0h2m-2 0h2m3 0h2m1 0h2m10 0h2m0 0h2m-1 0h2m-1 0h2m-2 0h2m-1 0h2m-2 0h2m0 0h2m-2 0h2m-2 0h2m-1 0h2m3 0h2m-2 0h2m-82 1h2m14 0h2m3 0h2m2 0h2m-1 0h2m-1 0h2m-1 0h2m-1 0h2m-1 0h2m-1 0h2m-2 0h2m2 0h2m-2 0h2m-2 0h2m-2 0h2m1 0h2m-2 0h2m4 0h2m1 0h2m-2 0h2m-2 0h2m0 0h2m0 0h2m-1 0h2m-2 0h2m0 0h2m-1 0h2m-1 0h2m-1 0h2m2 0h2m-1 0h2m1 0h2m1 0h2m-1 0h2m-2 0h2m-1 0h2m-2 0h2m-1 0h2m-1 0h2m-1 0h2m-2 0h2m-1 0h2m-2 0h2m-1 0h2m-2 0h2m-1 0h2m0 0h2m-1 0h2m-82 1h2m7 0h2m9 0h2m-1 0h2m1 0h2m7 0h2m-1 0h2m-1 0h2m-2 0h2m0 0h2m-1 0h2m-1 0h2m2 0h2m2 0h2m-2 0h2m0 0h2m1 0h2m-1 0h2m-1 0h2m2 0h2m12 0h2m-1 0h2m-2 0h2m-1 0h2m-2 0h2m1 0h2m1 0h2m-1 0h2m-79 1h2m11 0h2m4 0h2m-1 0h2m1 0h2m-1 0h2m1 0h2m-2 0h2m-1 0h2m-2 0h2m0 0h2m-2 0h2m-2 0h2m-1 0h2m-1 0h2m-1 0h2m-2 0h2m-2 0h2m-1 0h2m0 0h2m3 0h2m0 0h2m-1 0h2m0 0h2m-1 0h2m0 0h2m0 0h2m0 0h2m-2 0h2m-1 0h2m-2 0h2m0 0h2m0 0h2m-1 0h2m-1 0h2m1 0h2m0 0h2m-2 0h2m0 0h2m0 0h2m-1 0h2m-2 0h2m-1 0h2m-1 0h2m-2 0h2m-1 0h2m-1 0h2m0 0h2m0 0h2m-2 0h2m-1 0h2m-2 0h2m-2 0h2m-1 0h2m-72 1h2m0 0h2m3 0h2m4 0h2m-1 0h2m-2 0h2m-2 0h2m-2 0h2m-2 0h2m0 0h2m-2 0h2m0 0h2m-2 0h2m-1 0h2m-2 0h2m-1 0h2m-1 0h2m0 0h2m1 0h2m0 0h2m-1 0h2m-1 0h2m-2 0h2m0 0h2m2 0h2m2 0h2m0 0h2m2 0h2m-1 0h2m3 0h2m2 0h2m-1 0h2m0 0h2m-1 0h2m-2 0h2m-2 0h2m-2 0h2m-2 0h2m-1 0h2m-2 0h2m-2 0h2m-1 0h2m-2 0h2m-1 0h2m0 0h2m-2 0h2m-1 0h2m-1 0h2m-2 0h2m-1 0h2m-2 0h2m0 0h2m-63 1h2m3 0h2m-1 0h2m-2 0h2m5 0h2m4 0h2m-1 0h2m1 0h2m5 0h2m1 0h2m-1 0h2m2 0h2m-1 0h2m-1 0h2m-1 0h2m0 0h2m-2 0h2m1 0h2m0 0h2m0 0h2m-2 0h2m-1 0h2m-1 0h2m-2 0h2m-2 0h2m1 0h2m-1 0h2m-2 0h2m-2 0h2m-1 0h2m0 0h2m-2 0h2m-2 0h2m-2 0h2m-68 1h2m5 0h2m3 0h2m0 0h2m-2 0h2m-2 0h2m-1 0h2m-1 0h2m8 0h2m0 0h2m-1 0h2m-2 0h2m0 0h2m-2 0h2m-2 0h2m7 0h2m0 0h2m-2 0h2m-1 0h2m2 0h2m-1 0h2m-1 0h2m2 0h2m5 0h2m1 0h2m0 0h2m-56 1h2m-2 0h2m0 0h2m0 0h2m3 0h2m1 0h2m10 0h2m-2 0h2m3 0h2m-1 0h2m3 0h2m6 0h2m0 0h2m0 0h2m-1 0h2m-2 0h2m-1 0h2m0 0h2m-2 0h2m-1 0h2m-1 0h2m-1 0h2m-1 0h2m0 0h2m-2 0h2m-102 1h2m37 0h2m0 0h2m17 0h2m10 0h2m2 0h2m0 0h2m-2 0h2m-1 0h2m5 0h2m-1 0h2m-1 0h2m-1 0h2m2 0h2m-1 0h2m-2 0h2m-2 0h2m-2 0h2m-1 0h2m0 0h2m1 0h2m-66 1h2m1 0h2m-2 0h2m-1 0h2m2 0h2m-2 0h2m-1 0h2m-2 0h2m-2 0h2m-1 0h2m-2 0h2m16 0h2m-1 0h2m-1 0h2m2 0h2m2 0h2m-1 0h2m-2 0h2m0 0h2m1 0h2m-2 0h2m5 0h2m4 0h2m-2 0h2m-2 0h2m-2 0h2m-1 0h2m-1 0h2m-2 0h2m-1 0h2m-2 0h2m-2 0h2m1 0h2m-1 0h2m-65 1h2m1 0h2m-1 0h2m16 0h2m3 0h2m6 0h2m-1 0h2m0 0h2m2 0h2m-2 0h2m-1 0h2m5 0h2m-1 0h2m0 0h2m2 0h2m-1 0h2m-2 0h2m0 0h2m-61 1h2m-2 0h2m-1 0h2m0 0h2m-2 0h2m-1 0h2m-2 0h2m0 0h2m17 0h2m3 0h2m5 0h2m0 0h2m0 0h2m-1 0h2m-1 0h2m-1 0h2m-2 0h2m3 0h2m-1 0h2m-2 0h2m3 0h2m-1 0h2m-2 0h2m-2 0h2m-1 0h2m-1 0h2m-2 0h2m-2 0h2m-1 0h2m-1 0h2m-1 0h2m-65 1h2m33 0h2m0 0h2m1 0h2m3 0h2m8 0h2m2 0h2m-2 0h2m-1 0h2m-1 0h2m-2 0h2m-1 0h2m-1 0h2m-1 0h2m-2 0h2m-67 1h2m0 0h2m0 0h2m-2 0h2m1 0h2m36 0h2m2 0h2m1 0h2m-1 0h2m0 0h2m0 0h2m1 0h2m-2 0h2m-1 0h2m-2 0h2m-2 0h2m-1 0h2m-68 1h2m2 0h2m-2 0h2m4 0h2m-2 0h2m-2 0h2m40 0h2m0 0h2m-2 0h2m7 0h2m1 0h2m-2 0h2m-2 0h2m-1 0h2m-2 0h2m-1 0h2m-2 0h2m-1 0h2m-72 1h2m5 0h2m-2 0h2m1 0h2m-1 0h2m-2 0h2m49 0h2m1 0h2m0 0h2m1 0h2m-75 1h2m8 0h2m-2 0h2m1 0h2m-2 0h2m54 0h2m-2 0h2m-2 0h2m-1 0h2m-2 0h2m-2 0h2m-2 0h2m-1 0h2m-2 0h2m-70 1h2m4 0h2m-1 0h2m59 0h2m-2 0h2m-1 0h2m-71 1h2m5 0h2m-1 0h2m-2 0h2m-1 0h2m-2 0h2m55 0h2m-2 0h2m-2 0h2m0 0h2m-1 0h2m-2 0h2m-1 0h2m-75 1h2m-1 0h2m-1 0h2m-2 0h2m1 0h2m0 0h2m-1 0h2m-2 0h2m1 0h2m-2 0h2m56 0h2m-2 0h2m-2 0h2m-1 0h2m-1 0h2m-2 0h2m0 0h2m-77 1h2m1 0h2m-1 0h2m-1 0h2m-1 0h2m2 0h2m-1 0h2m-1 0h2m-1 0h2m58 0h2m-1 0h2m-2 0h2m-1 0h2m-86 1h2m10 0h2m1 0h2m-2 0h2m0 0h2m1 0h2m-2 0h2m-2 0h2m61 0h2m-1 0h2m-84 1h2m2 0h2m1 0h2m-1 0h2m-1 0h2m-2 0h2m-1 0h2m-1 0h2m-1 0h2m2 0h2m-1 0h2m-1 0h2m-1 0h2m58 0h2m1 0h2m-77 1h2m-2 0h2m0 0h2m-2 0h2m-1 0h2m-2 0h2m67 0h2m-78 1h2m2 0h2m0 0h2m0 0h2m-1 0h2m-2 0h2m65 0h2m-1 0h2m-78 1h2m-1 0h2m0 0h2m0 0h2m-2 0h2m68 0h2m-2 0h2m-2 0h2m-80 1h2m3 0h2m2 0h2m-2 0h2m-2 0h2m-1 0h2m66 0h2m-1 0h2m-2 0h2m-86 1h2m9 0h2m-2 0h2m-2 0h2m0 0h2m-1 0h2m68 0h2m-80 1h2m1 0h2m2 0h2m-2 0h2m-2 0h2m68 0h2m-2 0h2m-1 0h2m-76 1h2m2 0h2m66 0h2m-1 0h2m-1 0h2m0 0h2m-90 1h2m5 0h2m0 0h2m-1 0h2m-1 0h2m-2 0h2m-1 0h2m-1 0h2m1 0h2m-2 0h2m-2 0h2m67 0h2m-2 0h2m1 0h2m-2 0h2m-86 1h2m2 0h2m2 0h2m0 0h2m-1 0h2m-2 0h2m-10 1h2m1 0h2m-1 0h2m71 0h2m-2 0h2m-1 0h2m-2 0h2m-1 0h2m-2 0h2m-1 0h2m-1 0h2m-79 1h2m1 0h2m69 0h2m0 0h2m-2 0h2m-78 1h2m-1 0h2m-1 0h2m-2 0h2m-2 0h2m-2 0h2m0 0h2m-2 0h2m68 0h2m-1 0h2m-2 0h2m-78 1h2m0 0h2m-1 0h2m69 0h2m-1 0h2m0 0h2m-1 0h2m-78 1h2m-2 0h2m70 0h2m-2 0h2m-1 0h2m-1 0h2m-1 0h2m-2 0h2m-83 1h2m1 0h2m0 0h2m-2 0h2m-1 0h2m-1 0h2m68 0h2m-1 0h2m-79 1h2m-1 0h2m-2 0h2m1 0h2m-2 0h2m-1 0h2m-1 0h2m-2 0h2m-1 0h2m68 0h2m-2 0h2m-2 0h2m-2 0h2m0 0h2m-85 1h2m2 0h2m0 0h2m-1 0h2m1 0h2m68 0h2m-2 0h2m-2 0h2m0 0h2m-83 1h2m5 0h2m0 0h2m-2 0h2m-1 0h2m66 0h2m1 0h2m1 0h2m-84 1h2m-2 0h2m3 0h2m0 0h2m68 0h2m-1 0h2m-2 0h2m-2 0h2m-1 0h2m-1 0h2m-1 0h2m-87 1h2m0 0h2m0 0h2m2 0h2m0 0h2m68 0h2m-2 0h2m-1 0h2m-2 0h2m-1 0h2m1 0h2m-1 0h2m-90 1h2m7 0h2m2 0h2m68 0h2m-2 0h2m-1 0h2m2 0h2m-83 1h2m-1 0h2m-1 0h2m-1 0h2m-1 0h2m0 0h2m67 0h2m0 0h2m-1 0h2m0 0h2m-2 0h2m-1 0h2m-85 1h2m2 0h2m75 0h2m-1 0h2m-79 1h2m1 0h2m-1 0h2m65 0h2m-2 0h2m0 0h2m1 0h2m-1 0h2m-2 0h2m-78 1h2m-1 0h2m66 0h2m-2 0h2m3 0h2m-81 1h2m-1 0h2m1 0h2m0 0h2m-1 0h2m-1 0h2m65 0h2m-73 1h2m1 0h2m64 0h2m-2 0h2m-1 0h2m-90 1h2m16 0h2m-1 0h2m-2 0h2m-1 0h2m0 0h2m-2 0h2m-2 0h2m62 0h2m-1 0h2m-2 0h2m1 0h2m0 0h2m-83 1h2m1 0h2m-1 0h2m-1 0h2m3 0h2m63 0h2m0 0h2m-2 0h2m-1 0h2m-1 0h2m0 0h2m0 0h2m-80 1h2m1 0h2m-1 0h2m-2 0h2m-1 0h2m-2 0h2m64 0h2m2 0h2m-1 0h2m-79 1h2m3 0h2m0 0h2m-2 0h2m-7 1h2m-1 0h2m0 0h2m-2 0h2m-1 0h2m-1 0h2m-2 0h2m-1 0h2m66 0h2m-91 1h2m15 0h2m2 0h2m65 0h2m-2 0h2m-1 0h2m-1 0h2m-2 0h2m-2 0h2m-1 0h2m0 0h2m-79 1h2m-1 0h2m-1 0h2m0 0h2m-2 0h2m65 0h2m-1 0h2m-76 1h2m-2 0h2m0 0h2m0 0h2m-1 0h2m0 0h2m-2 0h2m-1 0h2m65 0h2m-1 0h2m0 0h2m-2 0h2m-2 0h2m-85 1h2m5 0h2m0 0h2m1 0h2m63 0h2m-2 0h2m-1 0h2m0 0h2m-1 0h2m2 0h2m-84 1h2m5 0h2m-2 0h2m64 0h2m0 0h2m-1 0h2m0 0h2m0 0h2m-78 1h2m-1 0h2m1 0h2m-2 0h2m-1 0h2m-1 0h2m61 0h2m-1 0h2m-2 0h2m-2 0h2m0 0h2m0 0h2m-91 1h2m6 0h2m1 0h2m2 0h2m3 0h2m-2 0h2m-1 0h2m-1 0h2m62 0h2m-1 0h2m0 0h2m-1 0h2m-79 1h2m-2 0h2m3 0h2m0 0h2m-2 0h2m-2 0h2m-1 0h2m-1 0h2m-2 0h2m58 0h2m-1 0h2m-2 0h2m-2 0h2m6 0h2m-78 1h2m1 0h2m-1 0h2m1 0h2m-2 0h2m58 0h2m1 0h2m5 0h2m-79 1h2m3 0h2m-2 0h2m-1 0h2m-1 0h2m-2 0h2m0 0h2m55 0h2m-2 0h2m-1 0h2m1 0h2m-73 1h2m5 0h2m-1 0h2m-1 0h2m-1 0h2m-2 0h2m53 0h2m-2 0h2m-1 0h2m2 0h2m0 0h2m-2 0h2m0 0h2m-79 1h2m-1 0h2m4 0h2m-1 0h2m0 0h2m-2 0h2m0 0h2m54 0h2m-1 0h2m-2 0h2m-1 0h2m0 0h2m-1 0h2m-2 0h2m-1 0h2m-1 0h2m-1 0h2m0 0h2m-72 1h2m-2 0h2m3 0h2m-1 0h2m-1 0h2m50 0h2m0 0h2m0 0h2m-2 0h2m-1 0h2m-2 0h2m2 0h2m0 0h2m-69 1h2m-1 0h2m-2 0h2m0 0h2m-1 0h2m49 0h2m-2 0h2m1 0h2m1 0h2m-1 0h2m-64 1h2m0 0h2m-1 0h2m-1 0h2m47 0h2m0 0h2m0 0h2m0 0h2m-2 0h2m-1 0h2m0 0h2m4 0h2m-79 1h2m1 0h2m1 0h2m-2 0h2m2 0h2m-2 0h2m3 0h2m44 0h2m-2 0h2m-2 0h2m-1 0h2m-1 0h2m0 0h2m0 0h2m-2 0h2m1 0h2m-1 0h2m0 0h2m-77 1h2m12 0h2m-2 0h2m-1 0h2m0 0h2m-1 0h2m-2 0h2m42 0h2m-1 0h2m-1 0h2m8 0h2m0 0h2m-79 1h2m14 0h2m-1 0h2m-1 0h2m-1 0h2m-2 0h2m-2 0h2m-1 0h2m-2 0h2m-2 0h2m-2 0h2m-1 0h2m38 0h2m-1 0h2m-1 0h2m-1 0h2m3 0h2m-68 1h2m5 0h2m0 0h2m-1 0h2m-1 0h2m0 0h2m0 0h2m-1 0h2m-2 0h2m-1 0h2m-1 0h2m-2 0h2m-1 0h2m38 0h2m-1 0h2m-2 0h2m-1 0h2m-1 0h2m-1 0h2m-61 1h2m5 0h2m-2 0h2m-1 0h2m-1 0h2m0 0h2m2 0h2m-2 0h2m0 0h2m31 0h2m-1 0h2m1 0h2m-2 0h2m0 0h2m1 0h2m-65 1h2m11 0h2m2 0h2m-1 0h2m1 0h2m-1 0h2m-1 0h2m27 0h2m1 0h2m-1 0h2m0 0h2m-1 0h2m1 0h2m-1 0h2m-1 0h2m0 0h2m-75 1h2m15 0h2m-1 0h2m0 0h2m2 0h2m-1 0h2m-1 0h2m-1 0h2m-1 0h2m-1 0h2m-1 0h2m-1 0h2m25 0h2m0 0h2m-2 0h2m-2 0h2m-1 0h2m-2 0h2m-2 0h2m0 0h2m-1 0h2m0 0h2m-1 0h2m-1 0h2m0 0h2m-2 0h2m-53 1h2m1 0h2m-1 0h2m1 0h2m0 0h2m-1 0h2m-1 0h2m-2 0h2m0 0h2m-2 0h2m-2 0h2m0 0h2m17 0h2m0 0h2m-1 0h2m-1 0h2m-2 0h2m0 0h2m-1 0h2m-1 0h2m-1 0h2m1 0h2m-2 0h2m-2 0h2m0 0h2m-1 0h2m-1 0h2m9 0h2m-66 1h2m4 0h2m-1 0h2m-1 0h2m1 0h2m-1 0h2m0 0h2m-1 0h2m-2 0h2m-2 0h2m-2 0h2m0 0h2m-1 0h2m1 0h2m-2 0h2m9 0h2m2 0h2m1 0h2m-2 0h2m-2 0h2m-2 0h2m-2 0h2m5 0h2m-1 0h2m0 0h2m-41 1h2m-1 0h2m1 0h2m1 0h2m0 0h2m-1 0h2m-2 0h2m-2 0h2m-1 0h2m3 0h2m-1 0h2m-1 0h2m0 0h2m-2 0h2m-1 0h2m0 0h2m-2 0h2m-2 0h2m-2 0h2m-2 0h2m-2 0h2m-1 0h2m-2 0h2m-1 0h2m-1 0h2m2 0h2m-1 0h2m0 0h2m-2 0h2m-1 0h2m0 0h2m0 0h2m0 0h2m1 0h2m5 0h2m-72 1h2m7 0h2m1 0h2m0 0h2m1 0h2m6 0h2m0 0h2m-1 0h2m1 0h2m2 0h2m-2 0h2m-1 0h2m-2 0h2m0 0h2m-2 0h2m-2 0h2m-1 0h2m-1 0h2m-1 0h2m-1 0h2m0 0h2m-1 0h2m-2 0h2m2 0h2m0 0h2m-2 0h2m-1 0h2m-2 0h2m7 0h2m-54 1h2m12 0h2m-1 0h2m-2 0h2m1 0h2m0 0h2m2 0h2m-1 0h2m-1 0h2m-2 0h2m-1 0h2m-1 0h2m2 0h2m2 0h2m-2 0h2m-2 0h2m3 0h2m-1 0h2m-1 0h2m0 0h2m-1 0h2m0 0h2m-38 1h2m3 0h2m1 0h2m-1 0h2m-1 0h2m-2 0h2m0 0h2m0 0h2m-2 0h2m-1 0h2m-2 0h2m-2 0h2m0 0h2m0 0h2m-1 0h2m-1 0h2m3 0h2m-2 0h2m-2 0h2m3 0h2m-1 0h2m-2 0h2m3 0h2m-40 1h2m4 0h2m2 0h2m-1 0h2m1 0h2m-1 0h2m-1 0h2m1 0h2m-2 0h2m-1 0h2m-2 0h2m10 0h2m-30 1h2m0 0h2m0 0h2m2 0h2m0 0h2m-2 0h2m5 0h2m0 0h2m-1 0h2m0 0h2m-2 0h2m-1 0h2m-22 1h2m6 0h2m0 0h2m-1 0h2m1 0h2m4 0h2m-25 1h2m5 0h2m-1 0h2m0 0h2m8 1h2m-1 0h2m2 0h2m-31 1h2m1 0h2m7 0h2m5 0h2m-1 0h2m0 0h2m8 0h2m-60 1h2m41 0h2m1 0h2m17 0h2m2 0h2m-47 1h2m1 0h2m12 0h2m8 1h2m1 0h2m-36 1h2m8 0h2m20 0h2m-5 6h2m0 0h2" stroke="#dc2a1c" stroke-width="2.2" fill="none"/>
<path transform="scale(.5)" d="M1912 266h2m-83 2h2m14 11h2m16 1h2m-12 1h2m-26 4h2m11 3h2m-11 2h2m19 0h2m2 2h2m-16 1h2m-14 1h2m53 1h2m-58 1h2m22 1h2m-9 1h2m-3 4h2m-11 1h2m49 4h2m-61 3h2m-5 1h2m62 0h2m-50 1h2m-15 1h2m32 4h2m-35 3h2m86 0h2m38 0h2m-114 2h2m-18 1h2m84 0h2m-90 1h2m15 0h2m24 1h2m-26 1h2m-14 2h2m-10 1h2m-2 1h2m8 0h2m-13 1h2m83 1h2m-83 3h2m4 2h2m-10 1h2m17 1h2m19 0h2m5 0h2m-7 1h2m-39 1h2m115 0h2m3 1h2m-103 1h2m19 2h2m-51 1h2m4 1h2m10 0h2m-14 1h2m56 0h2m-30 2h2m31 0h2m-57 1h2m-1 0h2m18 2h2m-35 1h2m-1 0h2m2 2h2m24 1h2m5 1h2m-41 2h2m69 0h2m-32 1h2m8 0h2m98 2h2m-144 2h2m22 0h2m-30 1h2m-1 0h2m20 0h2m-26 1h2m55 0h2m-50 1h2m-2 0h2m-15 1h2m60 1h2m-62 2h2m1 1h2m29 0h2m7 0h2m-44 3h2m-5 1h2m30 2h2m-28 1h2m41 0h2m50 0h2m-102 2h2m-1 0h2m3 0h2m14 0h2m-16 1h2m1 0h2m-8 1h2m97 2h2m-88 1h2m-21 1h2m6 0h2m113 0h2m-122 1h2m5 0h2m-9 1h2m2 0h2m64 0h2m28 0h2m-86 1h2m-21 1h2m63 0h2m-30 1h2m10 0h2m5 1h2m-48 1h2m15 0h2m-26 1h2m2 0h2m-2 0h2m-9 1h2m-1 0h2m5 0h2m-7 1h2m41 0h2m-49 1h2m189 0h2m-191 1h2m3 0h2m51 0h2m110 0h2m-168 1h2m23 0h2m27 0h2m-53 1h2m7 0h2m-9 1h2m17 0h2m9 0h2m-2 0h2m-39 1h2m8 0h2m55 0h2m-73 1h2m-2 0h2m3 0h2m18 0h2m-25 1h2m-4 1h2m-2 0h2m8 1h2m13 0h2m35 0h2m-61 1h2m0 0h2m27 1h2m-29 2h2m1 1h2m-12 1h2m-2 0h2m3 1h2m16 0h2m-24 1h2m0 0h2m8 0h2m113 0h2m-130 1h2m0 0h2m46 0h2m-51 1h2m1 0h2m0 0h2m1 0h2m60 0h2m-72 1h2m0 0h2m3 1h2m2 0h2m27 0h2m5 0h2m86 0h2m-135 1h2m118 0h2m-115 1h2m17 0h2m10 0h2m17 0h2m-55 1h2m-2 0h2m-1 0h2m13 1h2m-1 0h2m-1 0h2m21 0h2m11 0h2m-62 1h2m-1 0h2m67 0h2m69 0h2m-138 1h2m17 0h2m5 0h2m-30 1h2m0 0h2m3 0h2m5 0h2m-1 0h2m1 0h2m-2 0h2m10 0h2m16 0h2m-53 1h2m-1 0h2m5 0h2m0 0h2m15 1h2m1 0h2m30 0h2m-60 1h2m1 0h2m-1 0h2m7 0h2m18 0h2m9 0h2m-47 1h2m6 0h2m-11 1h2m-1 0h2m5 0h2m0 0h2m11 0h2m-26 1h2m34 0h2m-27 1h2m33 0h2m-49 1h2m-1 0h2m-2 0h2m-2 0h2m-1 0h2m3 0h2m104 0h2m-116 1h2m1 0h2m0 0h2m17 0h2m10 0h2m3 0h2m-23 1h2m10 0h2m9 0h2m-45 1h2m-1 0h2m2 0h2m2 0h2m-1 0h2m19 0h2m8 0h2m135 0h2m-180 1h2m1 0h2m9 0h2m-1 0h2m3 0h2m4 0h2m-26 1h2m-2 0h2m-1 0h2m4 0h2m4 0h2m4 0h2m2 0h2m8 0h2m1 0h2m28 0h2m24 0h2m-94 1h2m-2 0h2m0 0h2m14 0h2m26 0h2m77 1h2m-111 1h2m-2 0h2m4 0h2m56 0h2m56 0h2m-109 1h2m1 0h2m7 0h2m22 0h2m-72 1h2m13 0h2m-16 1h2m4 0h2m-2 0h2m-1 0h2m-9 1h2m32 0h2m83 0h2m26 0h2m-147 1h2m26 0h2m-19 1h2m19 0h2m4 0h2m-1 0h2m6 0h2m4 0h2m-54 1h2m1 0h2m38 0h2m-47 1h2m2 0h2m3 0h2m-2 0h2m19 0h2m31 0h2m-1 0h2m54 0h2m-123 1h2m1 0h2m-2 0h2m9 0h2m34 1h2m-2 0h2m-52 1h2m3 0h2m14 0h2m32 0h2m90 0h2m-149 1h2m23 0h2m-27 1h2m-2 0h2m-1 0h2m-1 0h2m-1 0h2m-2 0h2m3 0h2m7 0h2m78 0h2m-98 1h2m26 0h2m-10 1h2m-2 0h2m20 0h2m-41 1h2m4 0h2m33 0h2m33 0h2m-77 1h2m27 0h2m-30 1h2m16 0h2m-19 1h2m39 0h2m-48 2h2m-1 1h2m0 1h2m29 0h2m4 0h2m16 1h2m63 1h2m-111 1h2m4 0h2m26 0h2m-41 3h2m7 0h2m-17 1h2m14 0h2m29 0h2m-21 1h2m19 0h2m2 0h2m-24 1h2m2 0h2m-42 1h2m-1 0h2m22 0h2m164 0h2m-191 2h2m5 0h2m2 1h2m54 0h2m17 1h2m-78 1h2m10 0h2m-25 1h2m45 0h2m-2 0h2m36 0h2m-6 1h2m-69 1h2m82 0h2m-97 1h2m99 0h2m-103 3h2m2 0h2m139 0h2m-147 1h2m-5 1h2m15 0h2m23 0h2m-42 1h2m23 0h2m10 0h2m-10 1h2m30 0h2m102 2h2m-164 1h2m7 3h2m15 0h2m37 1h2m-70 1h2m57 2h2m-48 2h2m-17 1h2" stroke="#f8c08a" stroke-width="2" fill="none"/>
<path transform="scale(.5)" d="M1842 267h2m-13 1h2m21 1h2m-27 7h2m15 1h2m37 3h2m63 0h2m-58 1h2m-57 1h2m25 0h2m-17 1h2m-1 2h2m-20 3h2m56 0h2m11 0h2m-58 1h2m-16 2h2m3 0h2m31 0h2m-40 1h2m-3 1h2m75 3h2m-70 2h2m122 2h2m-120 1h2m9 2h2m-27 2h2m9 0h2m12 0h2m60 1h2m-77 2h2m1 4h2m-15 1h2m26 0h2m-35 1h2m24 0h2m-10 1h2m-19 1h2m-2 0h2m0 0h2m13 0h2m108 0h2m-106 1h2m53 0h2m-79 1h2m2 0h2m-7 2h2m37 0h2m9 0h2m-39 1h2m-14 1h2m57 0h2m-35 1h2m51 1h2m-64 1h2m-13 2h2m36 3h2m32 0h2m-20 1h2m-61 4h2m32 0h2m-24 1h2m8 0h2m-28 3h2m67 0h2m-34 1h2m35 0h2m-75 1h2m-1 0h2m4 0h2m-11 1h2m1 1h2m-2 1h2m69 0h2m-68 1h2m35 0h2m51 1h2m-95 3h2m-3 1h2m62 1h2m-20 1h2m-25 1h2m50 0h2m-61 1h2m187 0h2m6 0h2m-192 1h2m-20 1h2m36 0h2m-37 1h2m-1 1h2m-1 0h2m-5 1h2m-1 0h2m15 0h2m2 0h2m12 0h2m-48 1h2m1 0h2m33 0h2m-40 1h2m7 0h2m-12 1h2m20 0h2m2 0h2m47 0h2m-77 1h2m8 0h2m50 0h2m-55 1h2m32 0h2m-19 1h2m69 0h2m-99 1h2m1 0h2m10 0h2m40 1h2m8 1h2m9 0h2m-62 1h2m13 0h2m4 0h2m-31 1h2m15 0h2m-25 1h2m5 0h2m48 0h2m-57 1h2m7 0h2m5 0h2m1 0h2m26 0h2m-51 1h2m0 0h2m35 1h2m12 0h2m-56 1h2m-1 0h2m1 0h2m5 0h2m1 0h2m-7 1h2m-13 1h2m1 0h2m36 0h2m22 0h2m-67 1h2m47 0h2m-19 1h2m-1 0h2m29 0h2m-44 1h2m9 0h2m-1 0h2m-35 1h2m-1 0h2m10 0h2m6 0h2m13 1h2m5 0h2m-42 1h2m4 0h2m13 0h2m29 0h2m-60 1h2m1 0h2m4 0h2m-9 1h2m-1 0h2m21 0h2m-5 1h2m40 0h2m-61 1h2m0 0h2m0 0h2m12 0h2m49 0h2m-50 1h2m21 0h2m-51 1h2m1 0h2m1 0h2m56 0h2m45 0h2m-59 2h2m-50 1h2m11 0h2m-2 0h2m26 0h2m-2 0h2m2 0h2m2 0h2m38 0h2m-96 1h2m2 0h2m-1 0h2m-5 1h2m5 1h2m27 0h2m1 0h2m9 0h2m130 0h2m-186 1h2m-2 0h2m21 0h2m-23 1h2m2 0h2m19 0h2m9 1h2m7 0h2m7 0h2m-57 1h2m20 0h2m0 0h2m20 0h2m8 0h2m8 0h2m26 0h2m-98 1h2m20 0h2m12 0h2m1 0h2m1 0h2m-45 1h2m7 0h2m28 0h2m7 0h2m-46 1h2m8 0h2m10 0h2m17 0h2m23 0h2m26 0h2m16 0h2m-118 1h2m4 0h2m-1 0h2m9 0h2m12 0h2m5 0h2m-41 1h2m8 0h2m-1 0h2m-2 0h2m25 0h2m24 0h2m-66 1h2m35 0h2m38 0h2m-74 1h2m4 0h2m-1 0h2m0 0h2m24 0h2m3 0h2m-46 1h2m0 0h2m0 0h2m38 0h2m-45 1h2m-1 0h2m-5 1h2m-1 0h2m68 0h2m-30 1h2m-40 1h2m8 0h2m-16 1h2m-2 0h2m-2 0h2m10 0h2m-1 0h2m10 0h2m5 0h2m-36 1h2m4 0h2m16 0h2m8 0h2m37 0h2m-74 1h2m7 0h2m-1 0h2m13 0h2m12 0h2m-40 1h2m2 0h2m3 0h2m2 0h2m5 0h2m16 0h2m-38 1h2m7 0h2m4 0h2m-1 0h2m8 0h2m10 0h2m44 0h2m-88 1h2m13 0h2m3 0h2m23 0h2m7 0h2m41 0h2m-95 1h2m-2 0h2m22 0h2m15 0h2m-38 1h2m13 0h2m49 0h2m-76 1h2m3 0h2m0 0h2m13 0h2m134 0h2m-160 1h2m-1 0h2m4 0h2m-2 0h2m6 0h2m0 0h2m23 0h2m-46 1h2m-1 0h2m-2 0h2m-1 0h2m1 0h2m0 0h2m6 0h2m-2 0h2m60 0h2m37 0h2m-117 1h2m0 0h2m3 0h2m2 0h2m4 0h2m8 0h2m37 0h2m-67 1h2m-2 0h2m-2 0h2m-1 0h2m3 0h2m21 0h2m-1 0h2m86 0h2m-121 1h2m-1 0h2m6 0h2m0 0h2m3 0h2m0 0h2m3 0h2m49 0h2m-73 1h2m1 0h2m2 0h2m13 0h2m5 0h2m1 0h2m16 0h2m-53 1h2m3 0h2m0 0h2m-1 0h2m0 0h2m1 0h2m-15 1h2m-1 0h2m-1 0h2m7 0h2m2 0h2m7 0h2m36 0h2m-66 1h2m1 0h2m-1 0h2m0 0h2m-1 0h2m4 0h2m2 0h2m2 0h2m-1 0h2m87 0h2m-105 1h2m4 0h2m-2 0h2m47 0h2m-62 1h2m0 0h2m-1 0h2m1 0h2m1 0h2m-1 0h2m-1 0h2m1 0h2m3 0h2m-1 0h2m-2 0h2m11 0h2m8 0h2m-49 1h2m-1 0h2m-1 0h2m-2 0h2m-2 0h2m2 0h2m0 0h2m3 0h2m2 0h2m-1 0h2m1 0h2m4 0h2m0 0h2m-31 1h2m-1 0h2m1 0h2m-1 0h2m2 0h2m-1 0h2m-1 0h2m1 0h2m4 0h2m4 0h2m-27 1h2m1 0h2m6 0h2m1 0h2m1 0h2m5 0h2m-25 1h2m-2 0h2m2 0h2m32 0h2m-40 1h2m22 0h2m-1 0h2m27 0h2m47 0h2m-106 1h2m6 0h2m16 0h2m10 0h2m-36 1h2m2 0h2m11 0h2m2 0h2m5 0h2m-35 1h2m-2 0h2m-1 0h2m-2 0h2m3 0h2m0 0h2m2 0h2m-1 0h2m32 0h2m8 0h2m-59 1h2m3 0h2m26 0h2m-32 1h2m2 0h2m1 0h2m-2 0h2m7 0h2m1 0h2m7 0h2m31 0h2m-60 1h2m8 0h2m-1 0h2m12 0h2m11 0h2m17 0h2m1 0h2m-65 1h2m5 0h2m-1 0h2m32 0h2m0 0h2m5 0h2m44 0h2m-96 1h2m14 0h2m54 0h2m-73 1h2m14 0h2m3 0h2m14 0h2m5 0h2m6 0h2m-58 1h2m3 0h2m-1 0h2m24 0h2m5 0h2m-43 1h2m-2 0h2m19 0h2m5 0h2m12 0h2m61 0h2m-108 1h2m1 0h2m23 0h2m127 0h2m-156 1h2m2 0h2m8 0h2m16 0h2m8 0h2m4 0h2m18 0h2m-69 1h2m-1 0h2m51 0h2m33 0h2m-92 1h2m1 0h2m12 0h2m-21 1h2m8 0h2m0 0h2m25 0h2m19 0h2m42 0h2m-107 1h2m-1 0h2m-1 0h2m15 0h2m4 0h2m37 0h2m-66 1h2m3 0h2m21 0h2m-2 0h2m27 0h2m20 0h2m-75 1h2m15 0h2m1 0h2m49 0h2m-76 1h2m17 0h2m-1 0h2m78 0h2m-97 1h2m-1 0h2m34 0h2m-35 1h2m23 0h2m48 0h2m-74 1h2m8 0h2m19 0h2m-47 1h2m1 0h2m8 0h2m3 0h2m-1 0h2m19 0h2m-39 1h2m7 0h2m1 0h2m16 0h2m-36 1h2m10 0h2m4 0h2m0 0h2m34 0h2m-58 1h2m51 0h2m20 0h2m12 0h2m67 0h2m-158 1h2m6 0h2m11 0h2m17 0h2m7 0h2m78 0h2m-129 1h2m-2 0h2m16 0h2m58 0h2m-83 1h2m5 0h2m18 0h2m0 0h2m2 0h2m-33 1h2m2 0h2m4 0h2m13 0h2m-28 1h2m-2 0h2m4 0h2m-8 1h2m-2 0h2m1 0h2m0 0h2m30 0h2m0 0h2m1 0h2m-43 1h2m-1 0h2m12 0h2m-17 1h2m71 0h2m-77 1h2m1 0h2m-1 0h2m61 0h2m-54 1h2m0 0h2m23 0h2m5 0h2m-40 1h2m2 1h2m18 0h2m0 0h2m86 0h2m-84 1h2m34 0h2m-73 1h2m-3 1h2m23 0h2m1 0h2m23 0h2m-34 1h2m-2 0h2m-26 1h2m7 0h2m4 0h2m11 0h2m44 0h2m-73 1h2m13 0h2m41 0h2m5 0h2m-67 1h2m18 0h2m27 0h2m0 0h2m-59 1h2m59 0h2m-66 1h2m1 0h2m21 0h2m12 0h2m-38 1h2m11 0h2m-17 1h2m59 0h2m-51 1h2m5 0h2m57 0h2m-72 1h2m26 0h2m63 0h2m-86 1h2m4 0h2m-25 1h2m1 0h2m-5 2h2m31 0h2m-34 1h2m53 1h2m-59 1h2m2 0h2m23 0h2m-25 3h2m34 2h2m-42 3h2" stroke="#ee7a1e" stroke-width="2.2" fill="none"/>
<path d="M914.7 261.8V131H1043.2" stroke="#f9c195" stroke-width="1.5" fill="none"/>
<path d="M1043.2 131V261.8H914.7" stroke="#ee842c" stroke-width="1.8" fill="none"/>
<rect x="860.3" y="62.6" width="202.3" height="202.9" fill="none" stroke="#8a8887" stroke-width="1.5"/>
<path d="M860.3 62.6V265.5H1062.6" stroke="#4f4d4c" stroke-width="1.6" fill="none"/>
<path d="M860.3 265.5h-5.5M860.3 249h-3M860.3 232.4h-3M860.3 215.9h-3M860.3 199.3h-3M860.3 182.8h-5.5M860.3 166.3h-3M860.3 149.7h-3M860.3 133.2h-3M860.3 116.6h-3M860.3 100.1h-5.5M860.3 83.6h-3M860.3 67h-3M866.3 265.5v3M874.3 265.5v3M881.8 265.5v5M889.8 265.5v3M897.8 265.5v3M905.9 265.5v3M916.1 265.5v3M923.4 265.5v3M929 265.5v3M933.6 265.5v3M937.5 265.5v3M940.9 265.5v3M943.8 265.5v3M946.5 265.5v5M964 265.5v3M974.2 265.5v3M981.4 265.5v3M987.1 265.5v3M991.7 265.5v3M995.6 265.5v3M998.9 265.5v3M1001.9 265.5v3M1004.5 265.5v5M1022 265.5v3M1032.2 265.5v3M1039.5 265.5v3M1045.1 265.5v3M1049.7 265.5v3M1053.6 265.5v3M1057 265.5v3M1059.9 265.5v3M1062.1 265.5v5" stroke="#2e2c2b" stroke-width="1.3" fill="none"/>
<text x="881.8" y="284" text-anchor="middle">0</text>
<text x="946.5" y="284" text-anchor="middle">10<tspan dy="-5.5" font-size="10.5">4</tspan></text>
<text x="1004.4" y="284" text-anchor="middle">10<tspan dy="-5.5" font-size="10.5">5</tspan></text>
<text x="1061.2" y="284" text-anchor="middle">10<tspan dy="-5.5" font-size="10.5">6</tspan></text>
<text text-anchor="middle" transform="translate(853.3 265.5) rotate(-90)">0</text>
<text text-anchor="middle" transform="translate(853.3 182.8) rotate(-90)">200</text>
<text text-anchor="middle" transform="translate(853.3 100.1) rotate(-90)">400</text>
<text x="719" y="57.5" text-anchor="middle">Normal</text>
<text x="964.7" y="57.5" text-anchor="middle">Suspension</text>
<text x="718" y="115.3" text-anchor="middle" font-size="17.2">0.19%</text>
<text x="950.6" y="114.5" text-anchor="middle" font-size="17.2">8.39%</text>
<text text-anchor="middle" transform="translate(570.6 172.7) rotate(-90)" font-size="17.3">All events (1<tspan dx="2.5" font-size="23" dy="1.5">×</tspan><tspan dx="2.5" dy="-1.5">10</tspan><tspan dy="-5.5" font-size="9">4</tspan><tspan dy="5.5">)</tspan></text>
<text x="845.6" y="315" text-anchor="middle">ALDH1</text>
<path d="M1125.8 68V287.4H1249.5" stroke="#1a1716" stroke-width="1.7" fill="none"/>
<path d="M1125.8 281.8h2.5M1125.8 239.9h2.5M1125.8 197.9h2.5M1125.8 155.9h2.5M1125.8 114h2.5M1125.8 72.1h2.5" stroke="#1a1716" stroke-width="1.5" fill="none"/>
<text x="1122.5" y="288" text-anchor="end" font-size="16.4">0</text>
<text x="1122.5" y="246.1" text-anchor="end" font-size="16.4">2</text>
<text x="1122.5" y="204.1" text-anchor="end" font-size="16.4">4</text>
<text x="1122.5" y="162.1" text-anchor="end" font-size="16.4">6</text>
<text x="1122.5" y="120.2" text-anchor="end" font-size="16.4">8</text>
<text x="1122.5" y="78.3" text-anchor="end" font-size="16.4">10</text>
<text text-anchor="middle" transform="translate(1102 175.6) rotate(-90)" font-size="17.3">ALDH1 higher cells (%)</text>
<rect x="1147.2" y="278" width="40.4" height="3.8" fill="#2f2b29" stroke="#1a1716" stroke-width="1.8"/>
<rect x="1187.8" y="118.8" width="39" height="163" fill="#838180" stroke="#1a1716" stroke-width="1.8"/>
<path d="M1160 275.6H1174M1167 275.6V281.5M1160 281.5H1174" stroke="#1a1716" stroke-width="1.7" fill="none"/>
<path d="M1200.4 88H1214.4M1207.4 88V151.2M1200.4 151.2H1214.4" stroke="#1a1716" stroke-width="1.7" fill="none"/>
<path d="M1167 77V65.9H1207.4V77" stroke="#1a1716" stroke-width="1.7" fill="none" stroke-linejoin="round"/>
<text x="1187.4" y="68.8" text-anchor="middle" font-size="17.8" letter-spacing="0.45">**</text>
<text text-anchor="end" transform="translate(1175 293) rotate(-50)">Normal</text>
<text text-anchor="end" transform="translate(1214 292) rotate(-50)">Suspension</text>
<path d="M1298.5 38V291.2H1814" stroke="#3a3837" stroke-width="1.6" fill="none"/>
<path d="M1292.1 49L1298.5 38L1304.9 49" stroke="#3a3837" stroke-width="1.6" fill="none"/>
<path d="M1803 284.8L1814 291.2L1803 297.6" stroke="#3a3837" stroke-width="1.6" fill="none"/>
<ellipse cx="1399.5" cy="215" rx="13.6" ry="16.1" fill="#dc2a1c"/>
<ellipse cx="1422" cy="213" rx="7.7" ry="12.6" fill="#dc2a1c"/>
<ellipse cx="1440.5" cy="212" rx="9.8" ry="12.2" fill="#dc2a1c"/>
<path transform="scale(.5)" d="M2891 324h2m12 21h2m2 9h2m-15 6h2m49 0h2m-67 1h2m58 1h2m-62 5h2m-80 2h2m154 0h2m-117 2h2m-40 2h2m106 0h2m23 0h2m-142 1h2m-2 0h2m42 0h2m-54 3h2m0 0h2m15 0h2m103 0h2m28 0h2m-147 1h2m29 0h2m52 0h2m7 0h2m23 0h2m29 0h2m-10 1h2m-165 2h2m40 0h2m50 0h2m59 0h2m-175 1h2m12 0h2m3 0h2m-2 0h2m185 0h2m-194 1h2m89 0h2m9 0h2m1 0h2m54 1h2m-93 1h2m3 0h2m20 0h2m58 0h2m-67 2h2m55 1h2m-94 1h2m30 0h2m14 0h2m-114 1h2m88 1h2m28 0h2m40 1h2m-42 1h2m8 0h2m5 0h2m15 0h2m-68 1h2m-1 0h2m43 0h2m29 0h2m35 0h2m-215 2h2m131 0h2m24 0h2m130 1h2m-104 1h2m-53 1h2m51 0h2m-113 1h2m59 0h2m8 0h2m24 0h2m8 1h2m5 0h2m-106 1h2m39 1h2m65 0h2m-108 1h2m63 0h2m69 0h2m-81 1h2m19 0h2m8 0h2m-74 1h2m142 0h2m-258 1h2m108 0h2m35 0h2m25 0h2m-89 1h2m56 0h2m0 0h2m31 0h2m-98 1h2m48 0h2m36 0h2m1 0h2m-35 1h2m2 0h2m-62 1h2m41 0h2m1 0h2m30 0h2m20 0h2m28 0h2m-217 1h2m157 0h2m32 0h2m6 0h2m-116 1h2m60 0h2m13 0h2m-72 1h2m77 1h2m-64 1h2m21 0h2m10 0h2m58 1h2m-81 1h2m6 0h2m15 1h2m2 0h2m62 0h2m-162 1h2m97 0h2m8 0h2m57 0h2m-2 0h2m-143 1h2m73 0h2m94 0h2m-199 1h2m120 0h2m96 0h2m-289 1h2m182 0h2m5 0h2m-94 2h2m50 0h2m59 0h2m-217 1h2m177 0h2m-60 1h2m38 0h2m1 0h2m25 0h2m-51 1h2m25 0h2m5 0h2m28 0h2m-203 1h2m60 0h2m29 0h2m-94 1h2m93 0h2m45 0h2m38 0h2m15 0h2m-136 1h2m70 0h2m6 0h2m6 0h2m5 0h2m-1 0h2m-74 1h2m25 0h2m10 0h2m32 0h2m25 0h2m-130 1h2m101 0h2m30 0h2m-108 1h2m38 0h2m16 0h2m10 0h2m-21 1h2m111 0h2m-258 1h2m65 0h2m61 0h2m69 0h2m-10 1h2m-103 1h2m22 0h2m35 0h2m-60 1h2m-2 0h2m62 1h2m45 0h2m-92 1h2m24 2h2m2 0h2m59 0h2m115 1h2m-227 1h2m76 0h2m12 1h2m-187 1h2m81 0h2m94 0h2m-181 2h2m176 0h2m-50 1h2m-47 1h2m48 0h2m1 0h2m-77 1h2m1 0h2m37 0h2m21 0h2m7 0h2m38 0h2m-178 2h2m141 0h2m13 0h2m-159 1h2m130 0h2m-33 1h2m70 0h2m5 0h2m-114 1h2m79 0h2m90 0h2m-153 1h2m34 0h2m2 0h2m103 0h2m-102 2h2m-61 1h2m20 0h2m33 0h2m85 0h2m-22 1h2m-90 1h2m42 0h2m-49 1h2m-1 0h2m8 0h2m19 0h2m-7 1h2m96 0h2m-159 1h2m17 0h2m-23 1h2m42 0h2m118 0h2m-152 1h2m59 0h2m-146 1h2m-4 1h2m5 0h2m31 0h2m-1 0h2m2 0h2m16 0h2m-1 0h2m0 0h2m13 0h2m16 0h2m9 0h2m-104 1h2m0 0h2m27 0h2m13 0h2m-2 0h2m2 0h2m29 0h2m-1 0h2m-1 0h2m13 0h2m7 0h2m0 0h2m4 0h2m-2 0h2m-1 0h2m2 0h2m-118 1h2m7 0h2m0 0h2m-2 0h2m24 0h2m10 0h2m6 0h2m2 0h2m15 0h2m-88 1h2m6 0h2m12 0h2m18 0h2m8 0h2m-1 0h2m4 0h2m36 0h2m-102 1h2m1 0h2m0 0h2m4 0h2m-1 0h2m9 0h2m7 0h2m19 0h2m2 0h2m0 0h2m10 0h2m-2 0h2m10 0h2m28 0h2m6 0h2m-126 1h2m5 0h2m47 0h2m0 0h2m4 0h2m4 0h2m0 0h2m6 0h2m5 0h2m5 0h2m19 0h2m11 0h2m-120 1h2m39 0h2m1 0h2m5 0h2m15 0h2m-1 0h2m5 0h2m3 0h2m-1 0h2m20 0h2m-2 0h2m19 0h2m-137 1h2m8 0h2m7 0h2m4 0h2m20 0h2m0 0h2m30 0h2m5 0h2m8 0h2m14 0h2m5 0h2m4 0h2m-117 1h2m2 0h2m4 0h2m3 0h2m3 0h2m3 0h2m12 0h2m18 0h2m-2 0h2m11 0h2m27 0h2m12 0h2m0 0h2m3 0h2m-132 1h2m1 0h2m8 0h2m42 0h2m10 0h2m48 0h2m8 0h2m-129 1h2m-2 0h2m-1 0h2m12 0h2m-1 0h2m13 0h2m15 0h2m4 0h2m10 0h2m7 0h2m5 0h2m5 0h2m1 0h2m7 0h2m-1 0h2m13 0h2m64 0h2m-192 1h2m-1 0h2m14 0h2m7 0h2m-1 0h2m5 0h2m14 0h2m4 0h2m2 0h2m0 0h2m9 0h2m0 0h2m0 0h2m4 0h2m12 0h2m10 0h2m1 0h2m3 0h2m-113 1h2m16 0h2m5 0h2m-1 0h2m6 0h2m12 0h2m4 0h2m33 0h2m13 0h2m25 0h2m-120 1h2m24 0h2m6 0h2m32 0h2m0 0h2m-1 0h2m1 0h2m5 0h2m3 0h2m19 0h2m-120 1h2m24 0h2m48 0h2m47 0h2m-110 1h2m30 0h2m16 0h2m23 0h2m1 0h2m3 0h2m3 0h2m8 0h2m6 0h2m-169 1h2m33 0h2m-1 0h2m17 0h2m26 0h2m-1 0h2m13 0h2m8 0h2m36 0h2m11 0h2m60 0h2m-178 1h2m62 0h2m11 0h2m34 0h2m-150 1h2m11 0h2m22 0h2m8 0h2m39 0h2m106 0h2m-165 1h2m10 0h2m15 0h2m28 0h2m14 0h2m17 0h2m14 0h2m-130 1h2m7 0h2m20 0h2m5 0h2m31 0h2m12 0h2m16 0h2m9 0h2m3 0h2m-148 1h2m10 0h2m120 0h2m25 0h2m10 0h2m-158 1h2m21 0h2m41 0h2m2 0h2m-2 0h2m63 0h2m5 0h2m86 0h2m-241 1h2m15 0h2m43 0h2m1 0h2m20 0h2m-1 0h2m12 0h2m11 0h2m-107 1h2m20 0h2m9 0h2m-48 1h2m12 0h2m9 0h2m64 0h2m14 0h2m43 0h2m-124 1h2m24 0h2m-1 0h2m12 0h2m19 0h2m-1 0h2m0 0h2m23 0h2m0 0h2m30 0h2m-143 1h2m55 0h2m20 0h2m58 0h2m14 0h2m-162 1h2m1 0h2m2 0h2m4 0h2m76 0h2m15 0h2m-38 1h2m9 0h2m-1 0h2m23 0h2m28 0h2m-148 1h2m11 0h2m20 0h2m12 0h2m9 0h2m20 0h2m83 0h2m-142 1h2m104 0h2m-127 1h2m4 0h2m-2 0h2m28 0h2m6 0h2m11 1h2m3 0h2m20 0h2m41 0h2m-122 1h2m5 0h2m10 0h2m-80 1h2m42 0h2m15 0h2m12 0h2m57 0h2m46 0h2m27 0h2m-157 1h2m3 0h2m0 0h2m3 0h2m5 0h2m12 0h2m104 0h2m5 1h2m-174 1h2m18 0h2m20 0h2m-36 1h2m4 0h2m1 0h2m6 0h2m5 0h2m1 0h2m7 0h2m-22 1h2m15 0h2m27 0h2m70 0h2m-131 1h2m5 0h2m-1 0h2m0 0h2m1 0h2m-25 1h2m67 0h2m-58 1h2m4 0h2m4 0h2m10 0h2m0 0h2m-42 1h2" stroke="#f0958c" stroke-width="2" fill="none"/>
<path transform="scale(.5)" d="M2789 365h2m-3 1h2m20 7h2m-13 1h2m-21 1h2m42 1h2m20 0h2m-54 3h2m6 0h2m1 0h2m98 0h2m-135 2h2m16 0h2m2 0h2m8 0h2m70 0h2m12 0h2m-103 1h2m6 0h2m6 0h2m2 0h2m80 0h2m-92 1h2m2 0h2m0 0h2m6 0h2m46 0h2m-81 1h2m4 0h2m-1 0h2m4 0h2m-16 1h2m13 0h2m18 0h2m21 0h2m30 0h2m12 0h2m8 0h2m-121 1h2m6 0h2m4 0h2m0 0h2m0 0h2m21 0h2m-2 0h2m1 0h2m20 0h2m-2 0h2m29 0h2m-1 0h2m2 0h2m2 0h2m-110 1h2m-1 0h2m6 0h2m1 0h2m1 0h2m-1 0h2m-1 0h2m14 0h2m35 0h2m-1 0h2m6 0h2m27 0h2m4 0h2m-110 1h2m1 0h2m0 0h2m2 0h2m1 0h2m3 0h2m0 0h2m-1 0h2m22 0h2m0 0h2m12 0h2m-1 0h2m32 0h2m7 0h2m-101 1h2m2 0h2m-1 0h2m-1 0h2m1 0h2m-2 0h2m3 0h2m0 0h2m-2 0h2m-1 0h2m4 0h2m7 0h2m3 0h2m37 0h2m5 0h2m-96 1h2m2 0h2m1 0h2m4 0h2m-2 0h2m4 0h2m-1 0h2m3 0h2m1 0h2m-2 0h2m0 0h2m0 0h2m-1 0h2m-1 0h2m3 0h2m0 0h2m1 0h2m12 0h2m11 0h2m-1 0h2m17 0h2m5 0h2m1 0h2m6 0h2m6 0h2m9 0h2m-134 1h2m11 0h2m-1 0h2m-2 0h2m4 0h2m4 0h2m7 0h2m5 0h2m1 0h2m3 0h2m32 0h2m16 0h2m8 0h2m-1 0h2m-1 0h2m-2 0h2m12 0h2m-122 1h2m4 0h2m-1 0h2m-1 0h2m-1 0h2m1 0h2m-2 0h2m-1 0h2m-1 0h2m6 0h2m-2 0h2m3 0h2m0 0h2m0 0h2m1 0h2m0 0h2m1 0h2m7 0h2m11 0h2m27 0h2m14 0h2m18 0h2m-135 1h2m3 0h2m4 0h2m1 0h2m2 0h2m-2 0h2m6 0h2m2 0h2m-1 0h2m2 0h2m-1 0h2m2 0h2m-1 0h2m1 0h2m10 0h2m12 0h2m-1 0h2m-2 0h2m-1 0h2m-1 0h2m19 0h2m9 0h2m0 0h2m5 0h2m3 0h2m0 0h2m0 0h2m-120 1h2m0 0h2m1 0h2m0 0h2m-2 0h2m-2 0h2m1 0h2m4 0h2m-1 0h2m0 0h2m4 0h2m0 0h2m6 0h2m0 0h2m4 0h2m0 0h2m-2 0h2m1 0h2m2 0h2m5 0h2m0 0h2m1 0h2m-1 0h2m0 0h2m1 0h2m-2 0h2m5 0h2m11 0h2m10 0h2m6 0h2m-122 1h2m9 0h2m-2 0h2m-1 0h2m-1 0h2m0 0h2m5 0h2m-1 0h2m1 0h2m1 0h2m-2 0h2m7 0h2m-2 0h2m-1 0h2m2 0h2m0 0h2m-2 0h2m0 0h2m8 0h2m3 0h2m8 0h2m2 0h2m6 0h2m-1 0h2m-1 0h2m-2 0h2m14 0h2m8 0h2m-1 0h2m4 0h2m-2 0h2m-1 0h2m1 0h2m-2 0h2m0 0h2m-122 1h2m3 0h2m-1 0h2m-2 0h2m3 0h2m6 0h2m5 0h2m-1 0h2m-2 0h2m-2 0h2m1 0h2m1 0h2m2 0h2m1 0h2m0 0h2m2 0h2m16 0h2m4 0h2m4 0h2m12 0h2m6 0h2m4 0h2m0 0h2m3 0h2m-1 0h2m0 0h2m2 0h2m7 0h2m-124 1h2m11 0h2m-2 0h2m-1 0h2m0 0h2m-2 0h2m1 0h2m-1 0h2m-2 0h2m1 0h2m0 0h2m2 0h2m-1 0h2m1 0h2m9 0h2m3 0h2m-2 0h2m5 0h2m-1 0h2m6 0h2m-1 0h2m0 0h2m1 0h2m-2 0h2m1 0h2m-1 0h2m10 0h2m0 0h2m-1 0h2m-1 0h2m0 0h2m0 0h2m0 0h2m-1 0h2m-1 0h2m-2 0h2m2 0h2m-1 0h2m-2 0h2m10 0h2m3 0h2m-130 1h2m0 0h2m7 0h2m1 0h2m-2 0h2m-1 0h2m-2 0h2m2 0h2m-1 0h2m3 0h2m-1 0h2m-1 0h2m-2 0h2m8 0h2m1 0h2m15 0h2m-1 0h2m0 0h2m-1 0h2m1 0h2m6 0h2m4 0h2m-2 0h2m-2 0h2m-1 0h2m2 0h2m-1 0h2m6 0h2m-2 0h2m1 0h2m2 0h2m4 0h2m1 0h2m-1 0h2m-1 0h2m-2 0h2m-1 0h2m7 0h2m-1 0h2m3 0h2m0 0h2m3 0h2m-143 1h2m4 0h2m5 0h2m1 0h2m2 0h2m5 0h2m1 0h2m0 0h2m2 0h2m-1 0h2m-2 0h2m-1 0h2m-1 0h2m-1 0h2m-1 0h2m-2 0h2m0 0h2m2 0h2m3 0h2m0 0h2m1 0h2m1 0h2m-1 0h2m3 0h2m0 0h2m0 0h2m-2 0h2m-2 0h2m1 0h2m0 0h2m1 0h2m-1 0h2m-1 0h2m-1 0h2m1 0h2m2 0h2m-1 0h2m-1 0h2m2 0h2m2 0h2m3 0h2m-2 0h2m3 0h2m-1 0h2m-2 0h2m-2 0h2m1 0h2m0 0h2m-1 0h2m-1 0h2m-1 0h2m1 0h2m-1 0h2m-1 0h2m1 0h2m1 0h2m1 0h2m4 0h2m-1 0h2m0 0h2m-140 1h2m11 0h2m-1 0h2m1 0h2m1 0h2m2 0h2m-1 0h2m-1 0h2m-2 0h2m-2 0h2m2 0h2m-1 0h2m0 0h2m-2 0h2m-2 0h2m0 0h2m-2 0h2m-2 0h2m-1 0h2m-1 0h2m2 0h2m-2 0h2m-1 0h2m-1 0h2m0 0h2m-2 0h2m0 0h2m-1 0h2m-2 0h2m5 0h2m5 0h2m6 0h2m1 0h2m0 0h2m6 0h2m-2 0h2m-1 0h2m-1 0h2m1 0h2m7 0h2m7 0h2m2 0h2m-1 0h2m3 0h2m-2 0h2m-2 0h2m0 0h2m2 0h2m-2 0h2m-1 0h2m2 0h2m0 0h2m-1 0h2m-1 0h2m-1 0h2m-135 1h2m8 0h2m1 0h2m1 0h2m-1 0h2m0 0h2m0 0h2m0 0h2m0 0h2m-2 0h2m0 0h2m-2 0h2m0 0h2m-1 0h2m-2 0h2m0 0h2m8 0h2m-1 0h2m0 0h2m0 0h2m-1 0h2m0 0h2m0 0h2m-2 0h2m-1 0h2m16 0h2m-1 0h2m-1 0h2m-1 0h2m1 0h2m-1 0h2m-2 0h2m1 0h2m-1 0h2m0 0h2m-1 0h2m-1 0h2m-1 0h2m-1 0h2m2 0h2m-2 0h2m1 0h2m1 0h2m5 0h2m-1 0h2m-1 0h2m2 0h2m0 0h2m0 0h2m2 0h2m0 0h2m0 0h2m0 0h2m1 0h2m-122 1h2m1 0h2m0 0h2m2 0h2m25 0h2m1 0h2m-1 0h2m-1 0h2m5 0h2m0 0h2m0 0h2m-2 0h2m0 0h2m2 0h2m1 0h2m-1 0h2m5 0h2m0 0h2m-1 0h2m-1 0h2m-2 0h2m-2 0h2m-2 0h2m-2 0h2m-1 0h2m0 0h2m0 0h2m0 0h2m-1 0h2m0 0h2m0 0h2m2 0h2m-1 0h2m2 0h2m0 0h2m-1 0h2m-2 0h2m3 0h2m-1 0h2m5 0h2m2 0h2m2 0h2m1 0h2m0 0h2m-135 1h2m2 0h2m-1 0h2m4 0h2m2 0h2m-2 0h2m0 0h2m1 0h2m-1 0h2m-1 0h2m2 0h2m-1 0h2m23 0h2m-2 0h2m2 0h2m-1 0h2m1 0h2m-2 0h2m0 0h2m7 0h2m-1 0h2m3 0h2m0 0h2m-1 0h2m4 0h2m0 0h2m-2 0h2m-2 0h2m-1 0h2m-2 0h2m-1 0h2m0 0h2m-1 0h2m10 0h2m0 0h2m-1 0h2m17 0h2m0 0h2m0 0h2m0 0h2m-1 0h2m-2 0h2m0 0h2m-129 1h2m-1 0h2m4 0h2m1 0h2m3 0h2m24 0h2m-2 0h2m-1 0h2m-1 0h2m11 0h2m-2 0h2m0 0h2m-1 0h2m1 0h2m0 0h2m0 0h2m-1 0h2m-2 0h2m0 0h2m11 0h2m-1 0h2m-2 0h2m2 0h2m1 0h2m2 0h2m2 0h2m-2 0h2m1 0h2m15 0h2m-2 0h2m4 0h2m-2 0h2m-1 0h2m2 0h2m2 0h2m-1 0h2m-1 0h2m-144 1h2m11 0h2m0 0h2m-1 0h2m-2 0h2m3 0h2m26 0h2m-1 0h2m-1 0h2m-1 0h2m-1 0h2m1 0h2m-1 0h2m0 0h2m-1 0h2m2 0h2m2 0h2m0 0h2m1 0h2m13 0h2m-1 0h2m-1 0h2m0 0h2m-2 0h2m-2 0h2m-2 0h2m2 0h2m-2 0h2m2 0h2m2 0h2m1 0h2m20 0h2m-1 0h2m-1 0h2m0 0h2m-2 0h2m-1 0h2m2 0h2m0 0h2m-149 1h2m8 0h2m-2 0h2m1 0h2m-1 0h2m0 0h2m-2 0h2m4 0h2m1 0h2m-1 0h2m0 0h2m27 0h2m14 0h2m0 0h2m-1 0h2m1 0h2m-2 0h2m17 0h2m0 0h2m5 0h2m3 0h2m-1 0h2m22 0h2m-1 0h2m-1 0h2m0 0h2m6 0h2m-139 1h2m0 0h2m2 0h2m-2 0h2m-1 0h2m2 0h2m0 0h2m-2 0h2m-1 0h2m34 0h2m-1 0h2m-2 0h2m-1 0h2m1 0h2m-2 0h2m-2 0h2m3 0h2m0 0h2m-1 0h2m-1 0h2m17 0h2m1 0h2m-1 0h2m-1 0h2m5 0h2m-1 0h2m1 0h2m-2 0h2m25 0h2m-2 0h2m-1 0h2m1 0h2m-1 0h2m-151 1h2m10 0h2m7 0h2m0 0h2m5 0h2m-1 0h2m32 0h2m0 0h2m1 0h2m0 0h2m-1 0h2m-1 0h2m-2 0h2m1 0h2m-2 0h2m1 0h2m0 0h2m-2 0h2m-2 0h2m2 0h2m6 0h2m9 0h2m0 0h2m1 0h2m-2 0h2m2 0h2m1 0h2m25 0h2m-2 0h2m-1 0h2m-2 0h2m-2 0h2m-1 0h2m0 0h2m-1 0h2m0 0h2m-1 0h2m-141 1h2m0 0h2m5 0h2m1 0h2m-2 0h2m0 0h2m-1 0h2m-1 0h2m-1 0h2m35 0h2m0 0h2m-2 0h2m-2 0h2m-2 0h2m-1 0h2m0 0h2m-1 0h2m0 0h2m-2 0h2m1 0h2m-2 0h2m-1 0h2m0 0h2m23 0h2m2 0h2m2 0h2m29 0h2m-1 0h2m-2 0h2m1 0h2m0 0h2m-2 0h2m0 0h2m-146 1h2m12 0h2m-2 0h2m-1 0h2m2 0h2m-2 0h2m36 0h2m-1 0h2m-1 0h2m-2 0h2m0 0h2m-1 0h2m-2 0h2m-2 0h2m0 0h2m-2 0h2m-1 0h2m-2 0h2m0 0h2m0 0h2m0 0h2m-1 0h2m-2 0h2m-1 0h2m0 0h2m-2 0h2m18 0h2m-1 0h2m-2 0h2m-1 0h2m0 0h2m-1 0h2m-1 0h2m-1 0h2m-2 0h2m-2 0h2m1 0h2m33 0h2m-2 0h2m2 0h2m2 0h2m-147 1h2m6 0h2m0 0h2m0 0h2m44 0h2m2 0h2m0 0h2m-1 0h2m1 0h2m-2 0h2m0 0h2m3 0h2m21 0h2m-2 0h2m0 0h2m-1 0h2m30 0h2m1 0h2m-2 0h2m-1 0h2m2 0h2m1 0h2m-146 1h2m4 0h2m3 0h2m0 0h2m-2 0h2m-2 0h2m-1 0h2m42 0h2m1 0h2m2 0h2m0 0h2m0 0h2m4 0h2m16 0h2m0 0h2m-1 0h2m2 0h2m0 0h2m32 0h2m-1 0h2m-140 1h2m1 0h2m1 0h2m-1 0h2m-2 0h2m-1 0h2m-1 0h2m1 0h2m-2 0h2m0 0h2m0 0h2m40 0h2m0 0h2m-2 0h2m-2 0h2m-2 0h2m-1 0h2m0 0h2m0 0h2m1 0h2m-1 0h2m-1 0h2m23 0h2m-1 0h2m-2 0h2m-1 0h2m-1 0h2m-1 0h2m-1 0h2m-1 0h2m1 0h2m29 0h2m0 0h2m-2 0h2m-2 0h2m3 0h2m-130 1h2m-1 0h2m41 0h2m-2 0h2m1 0h2m-2 0h2m-1 0h2m-1 0h2m0 0h2m2 0h2m-1 0h2m-2 0h2m2 0h2m20 0h2m-1 0h2m-1 0h2m-1 0h2m-2 0h2m-1 0h2m-2 0h2m0 0h2m1 0h2m33 0h2m-2 0h2m1 0h2m-148 1h2m2 0h2m1 0h2m6 0h2m-1 0h2m-2 0h2m43 0h2m1 0h2m2 0h2m0 0h2m-1 0h2m-2 0h2m-1 0h2m-2 0h2m-2 0h2m24 0h2m-1 0h2m-2 0h2m-1 0h2m-1 0h2m-2 0h2m0 0h2m-1 0h2m-2 0h2m-1 0h2m-2 0h2m32 0h2m-2 0h2m-1 0h2m-1 0h2m-2 0h2m-1 0h2m-2 0h2m-1 0h2m1 0h2m-2 0h2m-152 1h2m6 0h2m-2 0h2m6 0h2m0 0h2m0 0h2m-1 0h2m45 0h2m0 0h2m-2 0h2m1 0h2m9 0h2m5 0h2m7 0h2m0 0h2m-2 0h2m-1 0h2m0 0h2m-2 0h2m0 0h2m-1 0h2m-1 0h2m33 0h2m2 0h2m-148 1h2m2 0h2m-1 0h2m3 0h2m-2 0h2m2 0h2m-1 0h2m-2 0h2m50 0h2m2 0h2m-1 0h2m-1 0h2m-2 0h2m5 0h2m0 0h2m12 0h2m2 0h2m-2 0h2m-2 0h2m-1 0h2m0 0h2m-2 0h2m1 0h2m-1 0h2m32 0h2m0 0h2m-1 0h2m0 0h2m7 0h2m-161 1h2m2 0h2m2 0h2m-2 0h2m9 0h2m-1 0h2m-2 0h2m-1 0h2m-1 0h2m43 0h2m2 0h2m0 0h2m-2 0h2m-1 0h2m-1 0h2m-2 0h2m-1 0h2m-2 0h2m0 0h2m9 0h2m13 0h2m-2 0h2m1 0h2m38 0h2m-2 0h2m0 0h2m-145 1h2m0 0h2m3 0h2m0 0h2m2 0h2m-2 0h2m0 0h2m-1 0h2m46 0h2m-2 0h2m1 0h2m-2 0h2m-1 0h2m-2 0h2m-2 0h2m-1 0h2m-2 0h2m-2 0h2m2 0h2m1 0h2m-1 0h2m-1 0h2m-2 0h2m15 0h2m3 0h2m-1 0h2m-2 0h2m6 0h2m30 0h2m-1 0h2m0 0h2m-1 0h2m-2 0h2m-155 1h2m16 0h2m-2 0h2m53 0h2m-2 0h2m-1 0h2m1 0h2m0 0h2m-1 0h2m24 0h2m-1 0h2m-1 0h2m-2 0h2m-2 0h2m-1 0h2m-2 0h2m-2 0h2m-2 0h2m-1 0h2m-1 0h2m-1 0h2m36 0h2m0 0h2m0 0h2m9 0h2m-157 1h2m-2 0h2m7 0h2m0 0h2m51 0h2m-1 0h2m-1 0h2m-1 0h2m-2 0h2m-1 0h2m0 0h2m-1 0h2m-2 0h2m-1 0h2m-2 0h2m-2 0h2m-2 0h2m3 0h2m20 0h2m0 0h2m-2 0h2m-2 0h2m37 0h2m2 0h2m-1 0h2m-152 1h2m1 0h2m2 0h2m2 0h2m0 0h2m2 0h2m-1 0h2m49 0h2m0 0h2m1 0h2m-2 0h2m4 0h2m18 0h2m3 0h2m-1 0h2m0 0h2m2 0h2m36 0h2m1 0h2m0 0h2m-154 1h2m8 0h2m-2 0h2m-2 0h2m1 0h2m0 0h2m45 0h2m-1 0h2m0 0h2m1 0h2m-2 0h2m-1 0h2m-2 0h2m-1 0h2m-1 0h2m5 0h2m0 0h2m17 0h2m-2 0h2m-1 0h2m2 0h2m-1 0h2m-2 0h2m35 0h2m-1 0h2m-143 1h2m-2 0h2m2 0h2m62 0h2m-2 0h2m1 0h2m-1 0h2m16 0h2m5 0h2m0 0h2m-2 0h2m-2 0h2m0 0h2m-1 0h2m0 0h2m-1 0h2m0 0h2m30 0h2m0 0h2m0 0h2m5 0h2m-1 0h2m0 0h2m-153 1h2m6 0h2m46 0h2m3 0h2m-2 0h2m-2 0h2m-1 0h2m-2 0h2m0 0h2m0 0h2m-2 0h2m-1 0h2m3 0h2m-1 0h2m-2 0h2m15 0h2m5 0h2m-1 0h2m0 0h2m38 0h2m3 0h2m-1 0h2m-2 0h2m-145 1h2m-2 0h2m0 0h2m-2 0h2m-1 0h2m0 0h2m47 0h2m2 0h2m0 0h2m0 0h2m-1 0h2m8 0h2m13 0h2m1 0h2m-1 0h2m-1 0h2m0 0h2m-1 0h2m36 0h2m-1 0h2m-2 0h2m2 0h2m-1 0h2m-2 0h2m-162 1h2m13 0h2m0 0h2m5 0h2m2 0h2m48 0h2m-1 0h2m-1 0h2m3 0h2m0 0h2m15 0h2m1 0h2m-1 0h2m-1 0h2m2 0h2m-2 0h2m-2 0h2m0 0h2m-2 0h2m-2 0h2m-1 0h2m-1 0h2m35 0h2m-1 0h2m-1 0h2m-1 0h2m-146 1h2m-2 0h2m2 0h2m1 0h2m-2 0h2m-1 0h2m-2 0h2m0 0h2m55 0h2m0 0h2m-1 0h2m-1 0h2m4 0h2m-1 0h2m0 0h2m6 0h2m8 0h2m-1 0h2m-2 0h2m0 0h2m-1 0h2m-2 0h2m2 0h2m33 0h2m0 0h2m2 0h2m2 0h2m-154 1h2m1 0h2m4 0h2m2 0h2m0 0h2m49 0h2m-1 0h2m-1 0h2m-1 0h2m3 0h2m-1 0h2m0 0h2m19 0h2m1 0h2m-2 0h2m-1 0h2m-2 0h2m-1 0h2m38 0h2m10 0h2m-156 1h2m6 0h2m-1 0h2m-1 0h2m0 0h2m-2 0h2m-1 0h2m-1 0h2m-2 0h2m-1 0h2m-2 0h2m46 0h2m0 0h2m-1 0h2m-1 0h2m-1 0h2m0 0h2m-1 0h2m-2 0h2m2 0h2m-2 0h2m1 0h2m-2 0h2m14 0h2m3 0h2m-2 0h2m-1 0h2m-1 0h2m-1 0h2m0 0h2m-1 0h2m32 0h2m-1 0h2m0 0h2m-1 0h2m7 0h2m-157 1h2m7 0h2m-1 0h2m-2 0h2m0 0h2m1 0h2m-1 0h2m0 0h2m49 0h2m1 0h2m-1 0h2m0 0h2m-2 0h2m3 0h2m4 0h2m9 0h2m1 0h2m-2 0h2m-1 0h2m-2 0h2m-1 0h2m0 0h2m-1 0h2m2 0h2m32 0h2m2 0h2m-1 0h2m-1 0h2m1 0h2m-143 1h2m0 0h2m52 0h2m-1 0h2m0 0h2m0 0h2m-2 0h2m-1 0h2m-2 0h2m-2 0h2m-1 0h2m3 0h2m21 0h2m-1 0h2m-1 0h2m-1 0h2m0 0h2m-2 0h2m-2 0h2m34 0h2m2 0h2m-133 1h2m-1 0h2m-2 0h2m50 0h2m-2 0h2m-1 0h2m0 0h2m0 0h2m-2 0h2m-2 0h2m1 0h2m-1 0h2m-2 0h2m1 0h2m18 0h2m0 0h2m-2 0h2m-2 0h2m-1 0h2m-1 0h2m-2 0h2m-2 0h2m-1 0h2m0 0h2m-2 0h2m33 0h2m-1 0h2m-2 0h2m-1 0h2m0 0h2m1 0h2m2 0h2m-152 1h2m-2 0h2m10 0h2m-2 0h2m0 0h2m49 0h2m-2 0h2m1 0h2m-1 0h2m-1 0h2m-2 0h2m3 0h2m-2 0h2m4 0h2m10 0h2m4 0h2m-1 0h2m-1 0h2m-1 0h2m0 0h2m-2 0h2m-1 0h2m35 0h2m-1 0h2m1 0h2m-1 0h2m-148 1h2m9 0h2m0 0h2m46 0h2m1 0h2m0 0h2m-1 0h2m-1 0h2m-2 0h2m-2 0h2m25 0h2m3 0h2m-1 0h2m-2 0h2m-1 0h2m-1 0h2m-1 0h2m-2 0h2m30 0h2m-1 0h2m-1 0h2m-1 0h2m0 0h2m-2 0h2m3 0h2m-1 0h2m-2 0h2m-2 0h2m-159 1h2m17 0h2m-1 0h2m-2 0h2m-2 0h2m1 0h2m49 0h2m-1 0h2m-1 0h2m0 0h2m-2 0h2m-2 0h2m-1 0h2m5 0h2m24 0h2m-1 0h2m-1 0h2m-2 0h2m-2 0h2m29 0h2m2 0h2m2 0h2m0 0h2m-1 0h2m-156 1h2m7 0h2m2 0h2m6 0h2m49 0h2m0 0h2m29 0h2m-2 0h2m1 0h2m3 0h2m33 0h2m-1 0h2m-2 0h2m2 0h2m-150 1h2m-1 0h2m6 0h2m52 0h2m-1 0h2m-1 0h2m-1 0h2m1 0h2m-1 0h2m-1 0h2m-2 0h2m-2 0h2m1 0h2m22 0h2m-2 0h2m-2 0h2m1 0h2m-2 0h2m-2 0h2m-1 0h2m-1 0h2m0 0h2m0 0h2m-2 0h2m-1 0h2m-1 0h2m40 0h2m-160 1h2m10 0h2m-1 0h2m-1 0h2m-2 0h2m0 0h2m-1 0h2m2 0h2m0 0h2m48 0h2m-2 0h2m-1 0h2m-2 0h2m-1 0h2m0 0h2m-2 0h2m-1 0h2m-2 0h2m-1 0h2m-2 0h2m-1 0h2m-1 0h2m19 0h2m1 0h2m-2 0h2m-2 0h2m-1 0h2m-1 0h2m1 0h2m-2 0h2m0 0h2m-1 0h2m29 0h2m-1 0h2m12 0h2m-156 1h2m10 0h2m1 0h2m-2 0h2m-1 0h2m0 0h2m48 0h2m0 0h2m0 0h2m-2 0h2m-1 0h2m-2 0h2m-2 0h2m-1 0h2m-1 0h2m-2 0h2m-2 0h2m0 0h2m0 0h2m-2 0h2m3 0h2m12 0h2m1 0h2m-1 0h2m6 0h2m26 0h2m-2 0h2m-1 0h2m-2 0h2m7 0h2m-144 1h2m0 0h2m-1 0h2m2 0h2m1 0h2m49 0h2m0 0h2m-1 0h2m-1 0h2m-2 0h2m-1 0h2m-1 0h2m0 0h2m3 0h2m17 0h2m2 0h2m0 0h2m-1 0h2m-2 0h2m1 0h2m1 0h2m-1 0h2m-2 0h2m-2 0h2m-2 0h2m21 0h2m2 0h2m0 0h2m-2 0h2m-2 0h2m1 0h2m1 0h2m-147 1h2m2 0h2m9 0h2m-2 0h2m0 0h2m-2 0h2m48 0h2m-1 0h2m-2 0h2m1 0h2m-2 0h2m-1 0h2m-2 0h2m1 0h2m1 0h2m16 0h2m1 0h2m1 0h2m0 0h2m3 0h2m23 0h2m10 0h2m-158 1h2m14 0h2m3 0h2m0 0h2m50 0h2m-1 0h2m-2 0h2m-2 0h2m1 0h2m0 0h2m-2 0h2m-1 0h2m-1 0h2m-2 0h2m1 0h2m-1 0h2m0 0h2m16 0h2m-1 0h2m-2 0h2m-1 0h2m-2 0h2m-1 0h2m-1 0h2m0 0h2m-1 0h2m-1 0h2m0 0h2m0 0h2m-1 0h2m1 0h2m-2 0h2m17 0h2m-142 1h2m6 0h2m1 0h2m52 0h2m5 0h2m0 0h2m0 0h2m-2 0h2m-2 0h2m0 0h2m-1 0h2m-2 0h2m-1 0h2m4 0h2m0 0h2m15 0h2m0 0h2m3 0h2m0 0h2m0 0h2m-1 0h2m-2 0h2m19 0h2m-128 1h2m2 0h2m0 0h2m4 0h2m-2 0h2m0 0h2m-2 0h2m46 0h2m-1 0h2m1 0h2m-2 0h2m2 0h2m-2 0h2m-1 0h2m-1 0h2m16 0h2m1 0h2m-1 0h2m7 0h2m-1 0h2m0 0h2m3 0h2m-2 0h2m13 0h2m-2 0h2m-1 0h2m0 0h2m-1 0h2m2 0h2m-1 0h2m1 0h2m-1 0h2m-140 1h2m-1 0h2m-1 0h2m1 0h2m5 0h2m-2 0h2m-1 0h2m-1 0h2m41 0h2m0 0h2m6 0h2m0 0h2m0 0h2m-1 0h2m1 0h2m10 0h2m-1 0h2m0 0h2m5 0h2m2 0h2m3 0h2m-2 0h2m-2 0h2m3 0h2m0 0h2m-1 0h2m5 0h2m2 0h2m0 0h2m-1 0h2m-136 1h2m2 0h2m5 0h2m0 0h2m1 0h2m0 0h2m-1 0h2m42 0h2m1 0h2m-1 0h2m0 0h2m-1 0h2m-1 0h2m-1 0h2m2 0h2m-1 0h2m-2 0h2m-1 0h2m-2 0h2m-1 0h2m-1 0h2m12 0h2m0 0h2m-1 0h2m-2 0h2m7 0h2m-2 0h2m1 0h2m3 0h2m3 0h2m-1 0h2m-1 0h2m-2 0h2m0 0h2m0 0h2m-1 0h2m-1 0h2m-1 0h2m-2 0h2m2 0h2m7 0h2m4 0h2m2 0h2m-147 1h2m-1 0h2m-2 0h2m0 0h2m0 0h2m1 0h2m-2 0h2m3 0h2m-1 0h2m-2 0h2m-1 0h2m38 0h2m2 0h2m-2 0h2m-1 0h2m0 0h2m0 0h2m-1 0h2m3 0h2m-1 0h2m17 0h2m-1 0h2m6 0h2m0 0h2m-1 0h2m-1 0h2m-1 0h2m-1 0h2m6 0h2m0 0h2m4 0h2m3 0h2m-2 0h2m1 0h2m-1 0h2m-1 0h2m3 0h2m7 0h2m-139 1h2m2 0h2m0 0h2m39 0h2m3 0h2m-1 0h2m2 0h2m2 0h2m-2 0h2m0 0h2m-1 0h2m0 0h2m-1 0h2m-1 0h2m-1 0h2m3 0h2m3 0h2m-1 0h2m0 0h2m-2 0h2m-2 0h2m-1 0h2m-1 0h2m1 0h2m-2 0h2m3 0h2m4 0h2m0 0h2m4 0h2m0 0h2m-1 0h2m2 0h2m1 0h2m3 0h2m-2 0h2m0 0h2m1 0h2m-137 1h2m1 0h2m1 0h2m-1 0h2m0 0h2m0 0h2m-1 0h2m-1 0h2m-2 0h2m-2 0h2m0 0h2m-1 0h2m-1 0h2m36 0h2m-1 0h2m-2 0h2m-2 0h2m2 0h2m4 0h2m2 0h2m4 0h2m-2 0h2m-1 0h2m-2 0h2m0 0h2m-1 0h2m-2 0h2m-1 0h2m-1 0h2m-1 0h2m8 0h2m7 0h2m-1 0h2m0 0h2m-1 0h2m1 0h2m0 0h2m1 0h2m0 0h2m-2 0h2m-2 0h2m-1 0h2m-2 0h2m-2 0h2m-1 0h2m-1 0h2m-1 0h2m-2 0h2m1 0h2m-1 0h2m-1 0h2m2 0h2m-139 1h2m11 0h2m-1 0h2m-2 0h2m0 0h2m-1 0h2m1 0h2m-1 0h2m1 0h2m0 0h2m34 0h2m2 0h2m3 0h2m1 0h2m-1 0h2m0 0h2m0 0h2m-1 0h2m2 0h2m0 0h2m0 0h2m1 0h2m1 0h2m0 0h2m0 0h2m-2 0h2m1 0h2m0 0h2m4 0h2m1 0h2m4 0h2m-1 0h2m0 0h2m5 0h2m-1 0h2m-1 0h2m15 0h2m7 0h2m-145 1h2m5 0h2m2 0h2m0 0h2m-2 0h2m-2 0h2m-2 0h2m32 0h2m-1 0h2m-1 0h2m-1 0h2m0 0h2m7 0h2m-1 0h2m1 0h2m0 0h2m2 0h2m2 0h2m2 0h2m-1 0h2m1 0h2m2 0h2m2 0h2m10 0h2m3 0h2m1 0h2m4 0h2m2 0h2m-1 0h2m3 0h2m0 0h2m-137 1h2m1 0h2m-1 0h2m2 0h2m-1 0h2m1 0h2m6 0h2m-1 0h2m29 0h2m0 0h2m0 0h2m-2 0h2m0 0h2m1 0h2m2 0h2m-1 0h2m-1 0h2m1 0h2m-2 0h2m1 0h2m-1 0h2m-1 0h2m1 0h2m1 0h2m-1 0h2m-2 0h2m-1 0h2m-2 0h2m0 0h2m-1 0h2m-1 0h2m-1 0h2m0 0h2m0 0h2m-2 0h2m-1 0h2m-1 0h2m2 0h2m15 0h2m10 0h2m-121 1h2m-2 0h2m-1 0h2m-2 0h2m3 0h2m-1 0h2m-1 0h2m0 0h2m1 0h2m-1 0h2m28 0h2m-1 0h2m0 0h2m-2 0h2m4 0h2m9 0h2m-1 0h2m-2 0h2m-2 0h2m-1 0h2m2 0h2m0 0h2m-1 0h2m-2 0h2m-1 0h2m2 0h2m0 0h2m1 0h2m-1 0h2m0 0h2m2 0h2m2 0h2m1 0h2m7 0h2m4 0h2m-1 0h2m4 0h2m-1 0h2m6 0h2m8 0h2m-141 1h2m5 0h2m-1 0h2m-1 0h2m1 0h2m-2 0h2m-1 0h2m0 0h2m-1 0h2m25 0h2m2 0h2m2 0h2m-1 0h2m1 0h2m1 0h2m1 0h2m-2 0h2m-1 0h2m-2 0h2m-2 0h2m-1 0h2m0 0h2m2 0h2m5 0h2m0 0h2m4 0h2m4 0h2m4 0h2m-2 0h2m2 0h2m3 0h2m0 0h2m0 0h2m-1 0h2m-1 0h2m-1 0h2m-1 0h2m-1 0h2m-1 0h2m0 0h2m-1 0h2m2 0h2m-128 1h2m7 0h2m0 0h2m9 0h2m22 0h2m2 0h2m4 0h2m-2 0h2m10 0h2m-1 0h2m-1 0h2m3 0h2m2 0h2m-1 0h2m7 0h2m-1 0h2m3 0h2m0 0h2m1 0h2m16 0h2m18 0h2m-149 1h2m18 0h2m3 0h2m4 0h2m-2 0h2m0 0h2m21 0h2m-2 0h2m0 0h2m1 0h2m-1 0h2m-1 0h2m4 0h2m2 0h2m6 0h2m1 0h2m27 0h2m16 0h2m-127 1h2m0 0h2m-1 0h2m8 0h2m-2 0h2m6 0h2m1 0h2m-1 0h2m-2 0h2m-2 0h2m2 0h2m16 0h2m-1 0h2m0 0h2m2 0h2m-2 0h2m1 0h2m-2 0h2m0 0h2m10 0h2m-1 0h2m0 0h2m0 0h2m6 0h2m-1 0h2m-2 0h2m0 0h2m4 0h2m0 0h2m27 0h2m-1 0h2m5 0h2m-123 1h2m-1 0h2m0 0h2m4 0h2m-2 0h2m-1 0h2m-1 0h2m-2 0h2m-1 0h2m2 0h2m-2 0h2m-2 0h2m-1 0h2m-2 0h2m1 0h2m8 0h2m3 0h2m-1 0h2m2 0h2m-1 0h2m0 0h2m-1 0h2m0 0h2m10 0h2m4 0h2m5 0h2m1 0h2m-1 0h2m21 0h2m6 0h2m-110 1h2m-2 0h2m1 0h2m5 0h2m-1 0h2m0 0h2m-2 0h2m2 0h2m-1 0h2m0 0h2m1 0h2m5 0h2m-2 0h2m0 0h2m3 0h2m-2 0h2m-1 0h2m-1 0h2m-2 0h2m2 0h2m0 0h2m0 0h2m0 0h2m2 0h2m-2 0h2m-2 0h2m-1 0h2m-2 0h2m1 0h2m3 0h2m1 0h2m13 0h2m18 0h2m9 0h2m-2 0h2m-1 0h2m-112 1h2m6 0h2m-2 0h2m3 0h2m0 0h2m8 0h2m6 0h2m-2 0h2m3 0h2m0 0h2m14 0h2m14 0h2m0 0h2m35 0h2m1 0h2m-110 1h2m-1 0h2m1 0h2m-2 0h2m-1 0h2m5 0h2m-1 0h2m-1 0h2m-2 0h2m-1 0h2m-2 0h2m-2 0h2m-1 0h2m-1 0h2m4 0h2m-1 0h2m0 0h2m-2 0h2m2 0h2m-1 0h2m-1 0h2m-1 0h2m1 0h2m11 0h2m13 0h2m1 0h2m4 0h2m-87 1h2m8 0h2m-2 0h2m3 0h2m1 0h2m-1 0h2m1 0h2m3 0h2m2 0h2m2 0h2m4 0h2m0 0h2m13 0h2m27 0h2m-2 0h2m-81 1h2m6 0h2m0 0h2m6 0h2m4 0h2m3 0h2m3 0h2m4 0h2m8 0h2m3 0h2m12 0h2m14 0h2m-92 1h2m6 0h2m2 0h2m1 0h2m-1 0h2m0 0h2m1 0h2m4 0h2m-2 0h2m-2 0h2m-1 0h2m-2 0h2m0 0h2m-1 0h2m2 0h2m-1 0h2m-2 0h2m3 0h2m-1 0h2m-1 0h2m-2 0h2m0 0h2m0 0h2m-1 0h2m4 0h2m-1 0h2m65 0h2m1 0h2m-121 1h2m7 0h2m2 0h2m-2 0h2m-2 0h2m3 0h2m-1 0h2m1 0h2m8 0h2m6 0h2m-2 0h2m30 0h2m-2 0h2m0 0h2m-71 1h2m-2 0h2m0 0h2m-1 0h2m-1 0h2m2 0h2m2 0h2m0 0h2m-2 0h2m1 0h2m4 0h2m4 0h2m0 0h2m71 0h2m-110 1h2m-2 0h2m-1 0h2m3 0h2m-1 0h2m2 0h2m-1 0h2m4 0h2m1 0h2m-1 0h2m-1 0h2m-2 0h2m2 0h2m5 0h2m6 0h2m1 0h2m-49 1h2m2 0h2m1 0h2m7 0h2m1 0h2m8 0h2m3 0h2m3 0h2m30 0h2m6 0h2m1 0h2m-80 1h2m3 0h2m3 0h2m-1 0h2m10 0h2m-1 0h2m0 0h2m7 0h2m1 0h2m4 0h2m-42 1h2m-1 0h2m2 0h2m7 0h2m0 0h2m5 0h2m0 0h2m3 0h2m-29 1h2m0 0h2m6 0h2m3 0h2m6 0h2m0 0h2m-2 0h2m9 0h2m-51 1h2m16 0h2m0 0h2m5 0h2m2 0h2m8 0h2m-1 0h2m-26 1h2m-1 0h2m3 0h2m15 0h2m-32 1h2m2 0h2m-2 0h2m3 0h2m-1 0h2m6 0h2m3 0h2m2 0h2m-35 1h2m10 0h2m7 0h2m-1 0h2m9 0h2m-17 1h2m-2 0h2m14 0h2m2 0h2m-23 1h2m-2 0h2m1 0h2m1 0h2m2 0h2m-17 1h2m0 0h2m3 0h2m5 0h2m2 0h2m-14 2h2m1 4h2m-18 1h2m4 2h2m6 3h2m-65 16h2m-2 0h2m1 0h2m-3 2h2m-1 0h2m0 0h2m-9 1h2m2 0h2m-1 0h2m-2 0h2m-3 1h2m-1 0h2m-1 1h2m-1 0h2" stroke="#dc2a1c" stroke-width="2.2" fill="none"/>
<rect x="1425.3" y="171.2" width="110" height="82.3" fill="none" stroke="#e2591a" stroke-width="2.2"/>
<rect x="1348.5" y="60.3" width="200.9" height="198.5" fill="none" stroke="#8a8887" stroke-width="1.4"/>
<path d="M1348.5 254.4h-4.5M1348.5 221.5h-4.5M1348.5 229h-2.5M1348.5 236.5h-2.5M1348.5 244.1h-2.5M1348.5 251.6h-2.5M1348.5 183.2h-4.5M1348.5 190.7h-2.5M1348.5 198.2h-2.5M1348.5 205.8h-2.5M1348.5 213.3h-2.5M1348.5 145.6h-4.5M1348.5 153.1h-2.5M1348.5 160.6h-2.5M1348.5 168.2h-2.5M1348.5 175.7h-2.5M1348.5 108.2h-4.5M1348.5 115.7h-2.5M1348.5 123.2h-2.5M1348.5 130.8h-2.5M1348.5 138.3h-2.5M1348.5 70.6h-4.5M1348.5 78.1h-2.5M1348.5 85.6h-2.5M1348.5 93.2h-2.5M1348.5 100.7h-2.5M1367 258.8v5M1387.6 258.8v5.5M1402 258.8v3M1410.5 258.8v3M1416.5 258.8v3M1421.2 258.8v3M1425 258.8v3M1428.2 258.8v3M1430.9 258.8v3M1433.4 258.8v3M1435.6 258.8v5.5M1449.5 258.8v3M1457.6 258.8v3M1463.4 258.8v3M1467.9 258.8v3M1471.6 258.8v3M1474.6 258.8v3M1477.3 258.8v3M1479.7 258.8v3M1482.4 258.8v5.5M1496.3 258.8v3M1504.4 258.8v3M1510.2 258.8v3M1514.7 258.8v3M1518.4 258.8v3M1521.4 258.8v3M1524.1 258.8v3M1526.5 258.8v3M1528 258.8v5.5M1541.9 258.8v3M1352.7 258.8v2.5M1354.9 258.8v2.5M1357.1 258.8v2.5M1359.3 258.8v2.5M1361.5 258.8v2.5M1363.7 258.8v2.5M1365.9 258.8v2.5M1368.1 258.8v2.5" stroke="#6a6867" stroke-width="1" fill="none"/>
<text x="1365.5" y="279.3" text-anchor="middle">0</text>
<text x="1387.2" y="279.3" text-anchor="middle">10<tspan dy="-5.5" font-size="10.5">2</tspan></text>
<text x="1435.2" y="279.3" text-anchor="middle">10<tspan dy="-5.5" font-size="10.5">3</tspan></text>
<text x="1482" y="279.3" text-anchor="middle">10<tspan dy="-5.5" font-size="10.5">4</tspan></text>
<text x="1527.6" y="280.3" text-anchor="middle">10<tspan dy="-5.5" font-size="10.5">5</tspan></text>
<text x="1339" y="260.2" text-anchor="end">0</text>
<text x="1342" y="227.3" text-anchor="end">50K</text>
<text x="1342" y="189" text-anchor="end">100K</text>
<text x="1342" y="151.4" text-anchor="end">150K</text>
<text x="1342" y="114" text-anchor="end">200K</text>
<text x="1342" y="76.4" text-anchor="end">250K</text>
<ellipse cx="1660" cy="220" rx="19.6" ry="17.5" fill="#dc2a1c"/>
<ellipse cx="1703" cy="217.5" rx="16.8" ry="18.2" fill="#dc2a1c"/>
<path transform="scale(.5)" d="M3550 330h2m-122 24h2m-22 8h2m-8 2h2m84 2h2m-146 4h2m49 0h2m11 1h2m-9 1h2m-71 1h2m42 0h2m-49 2h2m81 0h2m-1 0h2m-79 1h2m53 0h2m1 0h2m-1 0h2m19 0h2m-34 1h2m-83 1h2m6 0h2m57 0h2m4 0h2m5 1h2m44 0h2m-1 0h2m-86 1h2m113 0h2m-150 1h2m55 0h2m5 0h2m-65 1h2m12 0h2m-1 0h2m2 0h2m44 0h2m-50 1h2m104 0h2m3 0h2m21 0h2m-142 1h2m47 1h2m-2 0h2m-38 1h2m33 0h2m-91 1h2m1 0h2m63 0h2m1 0h2m132 0h2m-149 1h2m0 0h2m92 0h2m3 0h2m2 0h2m12 0h2m-98 1h2m46 0h2m91 0h2m-64 1h2m-160 1h2m132 0h2m-143 2h2m131 0h2m5 0h2m-63 1h2m130 0h2m-130 1h2m-97 2h2m93 0h2m82 0h2m2 0h2m-113 1h2m121 1h2m-55 1h2m-1 0h2m65 0h2m-209 1h2m-5 2h2m83 1h2m0 0h2m-1 0h2m27 0h2m0 0h2m66 0h2m12 0h2m-34 1h2m28 2h2m-93 1h2m34 0h2m5 0h2m12 0h2m8 0h2m-65 2h2m8 0h2m24 0h2m32 0h2m4 0h2m54 0h2m-262 1h2m158 0h2m-60 1h2m101 0h2m-113 1h2m26 0h2m40 0h2m58 0h2m-64 1h2m8 1h2m33 0h2m83 0h2m-287 1h2m147 0h2m44 0h2m8 0h2m-77 1h2m21 0h2m7 0h2m9 0h2m9 0h2m16 0h2m-110 1h2m58 0h2m3 0h2m81 0h2m73 0h2m-318 1h2m115 0h2m55 0h2m34 0h2m-224 1h2m244 0h2m-112 1h2m59 0h2m-33 1h2m10 0h2m-2 0h2m6 0h2m7 0h2m-186 1h2m87 1h2m73 0h2m16 0h2m41 0h2m-104 1h2m3 0h2m72 0h2m37 0h2m23 0h2m-67 1h2m26 0h2m53 0h2m-205 2h2m87 0h2m47 1h2m52 0h2m-186 1h2m32 0h2m63 0h2m44 0h2m-88 1h2m22 0h2m25 0h2m-111 1h2m57 0h2m3 0h2m4 0h2m102 0h2m-270 1h2m160 0h2m43 0h2m-50 1h2m34 0h2m16 0h2m-129 1h2m118 0h2m20 0h2m-230 2h2m206 0h2m-1 0h2m-211 1h2m178 0h2m34 0h2m-123 1h2m66 0h2m19 0h2m27 0h2m-34 1h2m20 0h2m-205 2h2m90 0h2m62 0h2m51 0h2m4 0h2m7 0h2m-230 1h2m186 0h2m14 0h2m7 0h2m-1 0h2m-116 1h2m138 0h2m-247 1h2m158 0h2m68 0h2m-63 1h2m66 1h2m-19 1h2m-84 1h2m54 0h2m13 0h2m3 0h2m-1 0h2m-212 1h2m231 0h2m-70 1h2m-164 1h2m253 0h2m-71 1h2m-35 1h2m33 0h2m44 1h2m-234 1h2m94 0h2m-104 1h2m96 0h2m5 1h2m100 0h2m13 0h2m-1 0h2m-28 2h2m-192 1h2m186 0h2m29 0h2m-44 1h2m5 0h2m-183 1h2m143 0h2m75 0h2m-108 1h2m66 0h2m44 2h2m-16 1h2m35 0h2m30 0h2m-294 1h2m10 1h2m160 0h2m-18 1h2m9 0h2m104 0h2m-90 1h2m16 0h2m100 0h2m-199 1h2m43 0h2m-4 1h2m-37 2h2m-12 1h2m69 0h2m-1 0h2m-68 1h2m37 0h2m-42 1h2m75 0h2m-82 2h2m62 0h2m12 0h2m41 1h2m-233 1h2m11 0h2m2 0h2m98 0h2m-1 0h2m69 0h2m-209 1h2m174 0h2m77 0h2m-196 1h2m37 0h2m39 0h2m-111 1h2m27 0h2m7 0h2m4 0h2m7 0h2m5 0h2m25 0h2m30 0h2m27 0h2m16 0h2m-144 1h2m0 0h2m18 0h2m25 0h2m9 0h2m1 0h2m9 0h2m-2 0h2m19 0h2m4 0h2m24 0h2m6 0h2m3 0h2m2 0h2m-149 1h2m20 0h2m-1 0h2m0 0h2m13 0h2m-2 0h2m2 0h2m5 0h2m4 0h2m12 0h2m5 0h2m-1 0h2m0 0h2m-1 0h2m18 0h2m0 0h2m10 0h2m5 0h2m5 0h2m12 0h2m11 0h2m-217 1h2m24 0h2m5 0h2m10 0h2m5 0h2m11 0h2m37 0h2m22 0h2m1 0h2m15 0h2m9 0h2m6 0h2m30 0h2m-164 1h2m12 0h2m0 0h2m24 0h2m17 0h2m3 0h2m7 0h2m1 0h2m6 0h2m13 0h2m13 0h2m26 0h2m11 0h2m61 0h2m-242 1h2m16 0h2m0 0h2m15 0h2m0 0h2m-1 0h2m7 0h2m-1 0h2m7 0h2m27 0h2m14 0h2m11 0h2m15 0h2m21 0h2m17 0h2m-168 1h2m5 0h2m12 0h2m24 0h2m28 0h2m7 0h2m3 0h2m6 0h2m7 0h2m23 0h2m30 0h2m3 0h2m-163 1h2m28 0h2m0 0h2m6 0h2m2 0h2m11 0h2m39 0h2m2 0h2m11 0h2m15 0h2m-153 1h2m8 0h2m2 0h2m4 0h2m-1 0h2m1 0h2m-2 0h2m28 0h2m5 0h2m24 0h2m8 0h2m4 0h2m0 0h2m37 0h2m7 0h2m6 0h2m7 0h2m-175 1h2m9 0h2m13 0h2m12 0h2m8 0h2m6 0h2m2 0h2m3 0h2m9 0h2m8 0h2m14 0h2m3 0h2m-1 0h2m2 0h2m8 0h2m2 0h2m5 0h2m4 0h2m0 0h2m15 0h2m15 0h2m5 0h2m1 0h2m-155 1h2m10 0h2m39 0h2m6 0h2m5 0h2m3 0h2m3 0h2m2 0h2m21 0h2m4 0h2m-124 1h2m5 0h2m3 0h2m7 0h2m7 0h2m7 0h2m7 0h2m23 0h2m17 0h2m7 0h2m4 0h2m31 0h2m-1 0h2m5 0h2m2 0h2m-2 0h2m-165 1h2m5 0h2m20 0h2m-1 0h2m6 0h2m1 0h2m19 0h2m2 0h2m0 0h2m1 0h2m22 0h2m24 0h2m4 0h2m23 0h2m2 0h2m2 0h2m0 0h2m-1 0h2m1 0h2m7 0h2m-182 1h2m36 0h2m25 0h2m17 0h2m1 0h2m35 0h2m36 0h2m0 0h2m6 0h2m35 0h2m-163 1h2m15 0h2m47 0h2m4 0h2m11 0h2m30 0h2m10 0h2m-175 1h2m-1 0h2m9 0h2m34 0h2m-1 0h2m9 0h2m12 0h2m3 0h2m0 0h2m12 0h2m0 0h2m20 0h2m34 0h2m0 0h2m8 0h2m-157 1h2m2 0h2m23 0h2m7 0h2m6 0h2m-1 0h2m3 0h2m1 0h2m6 0h2m6 0h2m8 0h2m32 0h2m1 0h2m-1 0h2m26 0h2m29 0h2m-155 1h2m40 0h2m15 0h2m2 0h2m37 0h2m4 0h2m19 0h2m-2 0h2m49 0h2m-205 1h2m1 0h2m0 0h2m1 0h2m10 0h2m19 0h2m-2 0h2m12 0h2m29 0h2m-2 0h2m1 0h2m48 0h2m-180 1h2m32 0h2m3 0h2m29 0h2m29 0h2m52 0h2m11 0h2m56 0h2m9 0h2m-234 1h2m15 0h2m11 0h2m1 0h2m9 0h2m103 0h2m21 0h2m-172 1h2m13 0h2m6 0h2m3 0h2m8 0h2m5 0h2m4 0h2m0 0h2m31 0h2m13 0h2m25 0h2m-2 0h2m7 0h2m13 0h2m30 0h2m10 0h2m-180 1h2m20 0h2m10 0h2m53 0h2m33 0h2m32 0h2m-175 1h2m13 0h2m0 0h2m57 0h2m54 0h2m32 0h2m-165 1h2m19 0h2m19 0h2m43 0h2m20 0h2m3 0h2m2 0h2m158 0h2m-277 1h2m11 0h2m10 0h2m106 0h2m3 0h2m13 0h2m-153 1h2m2 0h2m43 0h2m0 0h2m5 0h2m-52 1h2m7 0h2m7 0h2m6 0h2m65 0h2m25 0h2m-117 1h2m1 0h2m0 0h2m0 0h2m4 0h2m3 0h2m11 0h2m35 0h2m100 0h2" stroke="#f0958c" stroke-width="2" fill="none"/>
<path transform="scale(.5)" d="M3415 364h2m-75 7h2m66 2h2m-88 1h2m44 0h2m41 0h2m-42 4h2m47 0h2m-27 1h2m-1 0h2m-73 1h2m79 0h2m-92 1h2m72 0h2m0 0h2m-62 1h2m49 0h2m7 0h2m0 0h2m10 0h2m9 0h2m-1 0h2m-87 1h2m52 0h2m11 0h2m2 0h2m6 0h2m5 0h2m1 0h2m-2 0h2m1 0h2m7 0h2m-123 1h2m-1 0h2m8 0h2m19 0h2m31 0h2m5 0h2m14 0h2m-80 1h2m65 0h2m3 0h2m5 0h2m-1 0h2m23 0h2m-122 1h2m6 0h2m6 0h2m5 0h2m37 0h2m5 0h2m0 0h2m11 0h2m-1 0h2m1 0h2m1 0h2m-1 0h2m15 0h2m-2 0h2m9 0h2m-131 1h2m4 0h2m3 0h2m1 0h2m4 0h2m0 0h2m1 0h2m5 0h2m38 0h2m8 0h2m10 0h2m6 0h2m1 0h2m4 0h2m-1 0h2m0 0h2m2 0h2m3 0h2m5 0h2m-136 1h2m10 0h2m26 0h2m6 0h2m30 0h2m0 0h2m6 0h2m7 0h2m4 0h2m13 0h2m-2 0h2m13 0h2m-130 1h2m0 0h2m5 0h2m11 0h2m0 0h2m34 0h2m15 0h2m0 0h2m4 0h2m2 0h2m2 0h2m2 0h2m1 0h2m-2 0h2m-1 0h2m1 0h2m2 0h2m-1 0h2m2 0h2m-1 0h2m-1 0h2m-1 0h2m-2 0h2m4 0h2m8 0h2m-175 1h2m60 0h2m3 0h2m3 0h2m7 0h2m50 0h2m-2 0h2m1 0h2m-1 0h2m5 0h2m0 0h2m-2 0h2m3 0h2m5 0h2m6 0h2m0 0h2m-1 0h2m-129 1h2m-2 0h2m2 0h2m1 0h2m2 0h2m10 0h2m7 0h2m-1 0h2m2 0h2m4 0h2m25 0h2m11 0h2m6 0h2m0 0h2m-1 0h2m7 0h2m-1 0h2m-2 0h2m0 0h2m0 0h2m4 0h2m0 0h2m3 0h2m0 0h2m3 0h2m9 0h2m-141 1h2m7 0h2m3 0h2m-1 0h2m-1 0h2m4 0h2m-1 0h2m3 0h2m3 0h2m33 0h2m9 0h2m12 0h2m1 0h2m-1 0h2m2 0h2m-1 0h2m-1 0h2m-1 0h2m2 0h2m0 0h2m12 0h2m-136 1h2m-1 0h2m19 0h2m13 0h2m7 0h2m34 0h2m1 0h2m4 0h2m-2 0h2m-1 0h2m0 0h2m7 0h2m6 0h2m3 0h2m1 0h2m0 0h2m3 0h2m5 0h2m1 0h2m3 0h2m5 0h2m-153 1h2m-2 0h2m17 0h2m-1 0h2m-1 0h2m3 0h2m-2 0h2m17 0h2m3 0h2m5 0h2m23 0h2m6 0h2m3 0h2m1 0h2m3 0h2m1 0h2m0 0h2m0 0h2m0 0h2m-1 0h2m0 0h2m0 0h2m4 0h2m0 0h2m-1 0h2m4 0h2m1 0h2m1 0h2m-2 0h2m-2 0h2m-133 1h2m9 0h2m4 0h2m2 0h2m-1 0h2m0 0h2m9 0h2m3 0h2m1 0h2m0 0h2m4 0h2m1 0h2m23 0h2m4 0h2m10 0h2m-1 0h2m0 0h2m1 0h2m3 0h2m1 0h2m3 0h2m1 0h2m2 0h2m-2 0h2m3 0h2m0 0h2m-143 1h2m-2 0h2m-1 0h2m0 0h2m1 0h2m9 0h2m-2 0h2m12 0h2m2 0h2m4 0h2m-2 0h2m1 0h2m1 0h2m-2 0h2m3 0h2m-1 0h2m1 0h2m2 0h2m18 0h2m3 0h2m1 0h2m-1 0h2m2 0h2m-1 0h2m15 0h2m-2 0h2m-2 0h2m-2 0h2m-1 0h2m2 0h2m-2 0h2m1 0h2m0 0h2m-2 0h2m-1 0h2m0 0h2m4 0h2m-1 0h2m-2 0h2m-1 0h2m-1 0h2m9 0h2m2 0h2m1 0h2m-137 1h2m5 0h2m-1 0h2m1 0h2m4 0h2m-1 0h2m3 0h2m-1 0h2m1 0h2m3 0h2m4 0h2m1 0h2m-2 0h2m2 0h2m2 0h2m2 0h2m-1 0h2m23 0h2m3 0h2m0 0h2m-1 0h2m-1 0h2m3 0h2m-2 0h2m-1 0h2m3 0h2m0 0h2m6 0h2m-1 0h2m6 0h2m-1 0h2m-1 0h2m-2 0h2m-1 0h2m7 0h2m1 0h2m-156 1h2m7 0h2m-1 0h2m1 0h2m6 0h2m1 0h2m3 0h2m5 0h2m0 0h2m9 0h2m8 0h2m0 0h2m12 0h2m-2 0h2m18 0h2m-1 0h2m-1 0h2m6 0h2m-2 0h2m0 0h2m-1 0h2m2 0h2m-2 0h2m-2 0h2m-2 0h2m1 0h2m-2 0h2m1 0h2m3 0h2m4 0h2m6 0h2m-1 0h2m1 0h2m-1 0h2m-1 0h2m-1 0h2m-1 0h2m-2 0h2m1 0h2m0 0h2m-2 0h2m-153 1h2m0 0h2m9 0h2m6 0h2m5 0h2m2 0h2m0 0h2m-1 0h2m-1 0h2m-2 0h2m-2 0h2m2 0h2m-2 0h2m-1 0h2m1 0h2m0 0h2m4 0h2m3 0h2m1 0h2m-2 0h2m0 0h2m2 0h2m-1 0h2m1 0h2m2 0h2m-2 0h2m8 0h2m5 0h2m3 0h2m2 0h2m0 0h2m-1 0h2m2 0h2m-1 0h2m-1 0h2m2 0h2m-1 0h2m4 0h2m-1 0h2m-2 0h2m1 0h2m-1 0h2m-2 0h2m1 0h2m-1 0h2m0 0h2m-2 0h2m-2 0h2m0 0h2m-1 0h2m0 0h2m-2 0h2m-2 0h2m-1 0h2m-2 0h2m-2 0h2m0 0h2m-2 0h2m0 0h2m4 0h2m-147 1h2m1 0h2m-1 0h2m5 0h2m1 0h2m7 0h2m-2 0h2m-1 0h2m-2 0h2m2 0h2m-2 0h2m0 0h2m-1 0h2m-1 0h2m1 0h2m4 0h2m1 0h2m-2 0h2m0 0h2m4 0h2m-1 0h2m2 0h2m21 0h2m8 0h2m0 0h2m5 0h2m-1 0h2m-1 0h2m-1 0h2m-1 0h2m3 0h2m0 0h2m-1 0h2m3 0h2m0 0h2m0 0h2m-2 0h2m0 0h2m-1 0h2m1 0h2m-1 0h2m-2 0h2m-1 0h2m2 0h2m-1 0h2m0 0h2m0 0h2m-2 0h2m-1 0h2m-2 0h2m0 0h2m0 0h2m-1 0h2m2 0h2m-2 0h2m14 0h2m-1 0h2m-170 1h2m0 0h2m6 0h2m0 0h2m6 0h2m0 0h2m0 0h2m3 0h2m-2 0h2m2 0h2m5 0h2m2 0h2m-2 0h2m0 0h2m2 0h2m5 0h2m0 0h2m0 0h2m1 0h2m3 0h2m13 0h2m-1 0h2m3 0h2m2 0h2m2 0h2m6 0h2m1 0h2m-1 0h2m5 0h2m1 0h2m0 0h2m3 0h2m-1 0h2m0 0h2m-2 0h2m-2 0h2m0 0h2m-1 0h2m-1 0h2m0 0h2m-2 0h2m3 0h2m-1 0h2m0 0h2m-1 0h2m-2 0h2m1 0h2m-1 0h2m-1 0h2m-1 0h2m3 0h2m-1 0h2m-1 0h2m6 0h2m-173 1h2m15 0h2m0 0h2m1 0h2m0 0h2m6 0h2m1 0h2m0 0h2m-2 0h2m1 0h2m3 0h2m-2 0h2m-2 0h2m0 0h2m-1 0h2m1 0h2m-2 0h2m2 0h2m-1 0h2m4 0h2m2 0h2m0 0h2m-1 0h2m7 0h2m3 0h2m3 0h2m4 0h2m0 0h2m0 0h2m1 0h2m1 0h2m1 0h2m0 0h2m0 0h2m0 0h2m4 0h2m-1 0h2m-2 0h2m2 0h2m0 0h2m7 0h2m-1 0h2m1 0h2m-1 0h2m0 0h2m3 0h2m0 0h2m-1 0h2m0 0h2m-1 0h2m1 0h2m4 0h2m5 0h2m-152 1h2m4 0h2m-1 0h2m-2 0h2m-1 0h2m1 0h2m1 0h2m0 0h2m-1 0h2m-1 0h2m-1 0h2m1 0h2m2 0h2m0 0h2m1 0h2m-2 0h2m-1 0h2m0 0h2m-2 0h2m3 0h2m0 0h2m-1 0h2m8 0h2m-1 0h2m6 0h2m3 0h2m3 0h2m6 0h2m-1 0h2m-2 0h2m2 0h2m0 0h2m3 0h2m-1 0h2m0 0h2m0 0h2m-2 0h2m-1 0h2m0 0h2m-2 0h2m-1 0h2m-1 0h2m-1 0h2m18 0h2m-1 0h2m-2 0h2m0 0h2m-1 0h2m-1 0h2m0 0h2m-1 0h2m-2 0h2m-1 0h2m0 0h2m-2 0h2m-1 0h2m-1 0h2m-1 0h2m2 0h2m-176 1h2m25 0h2m2 0h2m2 0h2m2 0h2m1 0h2m0 0h2m-1 0h2m0 0h2m-1 0h2m-2 0h2m1 0h2m5 0h2m-1 0h2m-2 0h2m0 0h2m1 0h2m1 0h2m3 0h2m1 0h2m-2 0h2m-1 0h2m-2 0h2m1 0h2m1 0h2m1 0h2m2 0h2m-1 0h2m-1 0h2m-1 0h2m3 0h2m6 0h2m0 0h2m-1 0h2m1 0h2m2 0h2m0 0h2m0 0h2m-1 0h2m3 0h2m-2 0h2m-2 0h2m-1 0h2m0 0h2m0 0h2m0 0h2m26 0h2m0 0h2m-1 0h2m-1 0h2m1 0h2m-1 0h2m0 0h2m2 0h2m10 0h2m4 0h2m-177 1h2m3 0h2m10 0h2m5 0h2m-1 0h2m0 0h2m-2 0h2m4 0h2m-1 0h2m3 0h2m-1 0h2m0 0h2m1 0h2m-1 0h2m-1 0h2m0 0h2m-2 0h2m2 0h2m-1 0h2m-1 0h2m-2 0h2m7 0h2m-2 0h2m-2 0h2m8 0h2m1 0h2m2 0h2m2 0h2m-1 0h2m-1 0h2m10 0h2m2 0h2m-2 0h2m0 0h2m-1 0h2m-2 0h2m3 0h2m-2 0h2m0 0h2m29 0h2m-2 0h2m6 0h2m5 0h2m-1 0h2m-1 0h2m2 0h2m-1 0h2m-173 1h2m-1 0h2m0 0h2m1 0h2m2 0h2m3 0h2m-1 0h2m-1 0h2m2 0h2m0 0h2m1 0h2m0 0h2m2 0h2m-1 0h2m4 0h2m-1 0h2m0 0h2m-2 0h2m-1 0h2m-1 0h2m-2 0h2m-1 0h2m-2 0h2m1 0h2m1 0h2m-1 0h2m-1 0h2m0 0h2m-1 0h2m2 0h2m0 0h2m0 0h2m-1 0h2m-2 0h2m1 0h2m2 0h2m-1 0h2m16 0h2m11 0h2m5 0h2m0 0h2m-1 0h2m-2 0h2m-1 0h2m-1 0h2m-1 0h2m32 0h2m0 0h2m0 0h2m1 0h2m4 0h2m0 0h2m-2 0h2m-1 0h2m5 0h2m5 0h2m-174 1h2m1 0h2m0 0h2m0 0h2m0 0h2m-1 0h2m2 0h2m-2 0h2m0 0h2m0 0h2m3 0h2m4 0h2m-2 0h2m-2 0h2m-1 0h2m-2 0h2m-1 0h2m-2 0h2m2 0h2m1 0h2m-2 0h2m-1 0h2m1 0h2m-1 0h2m0 0h2m1 0h2m1 0h2m-2 0h2m-2 0h2m0 0h2m0 0h2m-2 0h2m-1 0h2m5 0h2m2 0h2m6 0h2m4 0h2m3 0h2m0 0h2m3 0h2m1 0h2m0 0h2m0 0h2m0 0h2m2 0h2m0 0h2m33 0h2m-2 0h2m-1 0h2m0 0h2m3 0h2m-1 0h2m2 0h2m-1 0h2m2 0h2m0 0h2m-171 1h2m-2 0h2m3 0h2m-1 0h2m6 0h2m0 0h2m-2 0h2m1 0h2m1 0h2m0 0h2m3 0h2m0 0h2m-1 0h2m-1 0h2m-1 0h2m1 0h2m-1 0h2m-1 0h2m5 0h2m-2 0h2m0 0h2m0 0h2m-1 0h2m2 0h2m-2 0h2m-1 0h2m-1 0h2m-2 0h2m5 0h2m-2 0h2m0 0h2m-2 0h2m2 0h2m0 0h2m0 0h2m-2 0h2m0 0h2m5 0h2m4 0h2m-1 0h2m1 0h2m9 0h2m-2 0h2m1 0h2m-2 0h2m40 0h2m0 0h2m0 0h2m-2 0h2m0 0h2m-2 0h2m-1 0h2m-2 0h2m-2 0h2m-2 0h2m1 0h2m-2 0h2m-1 0h2m0 0h2m-1 0h2m-2 0h2m3 0h2m3 0h2m-1 0h2m-167 1h2m-1 0h2m0 0h2m4 0h2m-1 0h2m-1 0h2m4 0h2m6 0h2m0 0h2m-2 0h2m-2 0h2m0 0h2m13 0h2m0 0h2m-1 0h2m0 0h2m11 0h2m-1 0h2m-1 0h2m3 0h2m3 0h2m0 0h2m-1 0h2m4 0h2m1 0h2m1 0h2m-2 0h2m1 0h2m1 0h2m3 0h2m-2 0h2m-2 0h2m-1 0h2m42 0h2m-2 0h2m13 0h2m0 0h2m0 0h2m2 0h2m-176 1h2m3 0h2m2 0h2m-2 0h2m-1 0h2m1 0h2m3 0h2m1 0h2m-1 0h2m-1 0h2m0 0h2m3 0h2m29 0h2m-2 0h2m0 0h2m-1 0h2m-2 0h2m-1 0h2m-2 0h2m-1 0h2m-1 0h2m-2 0h2m1 0h2m10 0h2m1 0h2m-2 0h2m4 0h2m7 0h2m-1 0h2m0 0h2m-2 0h2m0 0h2m-1 0h2m-2 0h2m42 0h2m2 0h2m2 0h2m4 0h2m-2 0h2m-157 1h2m-1 0h2m1 0h2m-2 0h2m2 0h2m0 0h2m-2 0h2m3 0h2m-2 0h2m33 0h2m5 0h2m1 0h2m0 0h2m-1 0h2m3 0h2m-2 0h2m9 0h2m4 0h2m1 0h2m-1 0h2m0 0h2m1 0h2m1 0h2m42 0h2m-2 0h2m1 0h2m1 0h2m1 0h2m-1 0h2m-2 0h2m1 0h2m4 0h2m4 0h2m-185 1h2m7 0h2m-1 0h2m-2 0h2m0 0h2m0 0h2m2 0h2m1 0h2m4 0h2m-2 0h2m-2 0h2m0 0h2m-2 0h2m-1 0h2m36 0h2m-2 0h2m-1 0h2m1 0h2m2 0h2m0 0h2m3 0h2m0 0h2m-1 0h2m-1 0h2m-1 0h2m5 0h2m-1 0h2m-1 0h2m-1 0h2m-1 0h2m4 0h2m-1 0h2m-2 0h2m-2 0h2m4 0h2m-1 0h2m45 0h2m0 0h2m2 0h2m-1 0h2m0 0h2m1 0h2m3 0h2m-2 0h2m17 0h2m-190 1h2m3 0h2m2 0h2m1 0h2m0 0h2m-2 0h2m-2 0h2m-1 0h2m-2 0h2m5 0h2m-1 0h2m36 0h2m0 0h2m0 0h2m0 0h2m-2 0h2m-1 0h2m-1 0h2m-2 0h2m-1 0h2m-1 0h2m-2 0h2m2 0h2m-2 0h2m3 0h2m0 0h2m0 0h2m2 0h2m1 0h2m-2 0h2m-2 0h2m2 0h2m-1 0h2m-2 0h2m0 0h2m1 0h2m-1 0h2m54 0h2m-1 0h2m-2 0h2m-2 0h2m-1 0h2m-1 0h2m1 0h2m1 0h2m2 0h2m-174 1h2m5 0h2m-2 0h2m2 0h2m0 0h2m-1 0h2m0 0h2m-1 0h2m-1 0h2m-2 0h2m0 0h2m-2 0h2m-1 0h2m43 0h2m3 0h2m-2 0h2m5 0h2m-1 0h2m3 0h2m0 0h2m-2 0h2m1 0h2m-1 0h2m0 0h2m-2 0h2m-1 0h2m-1 0h2m2 0h2m56 0h2m-1 0h2m-1 0h2m-1 0h2m-2 0h2m-1 0h2m2 0h2m-2 0h2m0 0h2m0 0h2m-2 0h2m3 0h2m-185 1h2m6 0h2m3 0h2m-2 0h2m-1 0h2m-1 0h2m-1 0h2m-2 0h2m-2 0h2m1 0h2m0 0h2m-2 0h2m-1 0h2m4 0h2m0 0h2m43 0h2m-2 0h2m-1 0h2m-1 0h2m-2 0h2m2 0h2m12 0h2m-2 0h2m-1 0h2m1 0h2m3 0h2m0 0h2m-1 0h2m2 0h2m-1 0h2m-1 0h2m-1 0h2m52 0h2m-2 0h2m-1 0h2m0 0h2m2 0h2m-1 0h2m-1 0h2m1 0h2m3 0h2m-174 1h2m1 0h2m0 0h2m0 0h2m-2 0h2m3 0h2m1 0h2m-2 0h2m47 0h2m0 0h2m2 0h2m1 0h2m1 0h2m2 0h2m-1 0h2m-1 0h2m0 0h2m1 0h2m-2 0h2m-2 0h2m10 0h2m-2 0h2m50 0h2m3 0h2m0 0h2m6 0h2m2 0h2m6 0h2m-187 1h2m5 0h2m8 0h2m0 0h2m0 0h2m-1 0h2m49 0h2m-2 0h2m-2 0h2m0 0h2m-2 0h2m-1 0h2m-2 0h2m-1 0h2m-1 0h2m4 0h2m-2 0h2m-1 0h2m4 0h2m-1 0h2m0 0h2m3 0h2m-2 0h2m3 0h2m-2 0h2m0 0h2m-2 0h2m-2 0h2m60 0h2m1 0h2m-1 0h2m5 0h2m2 0h2m-1 0h2m-200 1h2m16 0h2m1 0h2m-2 0h2m1 0h2m0 0h2m-1 0h2m0 0h2m0 0h2m-1 0h2m-2 0h2m-2 0h2m-2 0h2m1 0h2m56 0h2m1 0h2m0 0h2m7 0h2m-1 0h2m-2 0h2m0 0h2m-2 0h2m-1 0h2m-2 0h2m-1 0h2m0 0h2m58 0h2m6 0h2m-1 0h2m-1 0h2m-2 0h2m6 0h2m11 0h2m-194 1h2m6 0h2m1 0h2m1 0h2m1 0h2m-1 0h2m59 0h2m0 0h2m-2 0h2m-2 0h2m-1 0h2m0 0h2m-1 0h2m-1 0h2m-1 0h2m0 0h2m-2 0h2m-1 0h2m-1 0h2m-1 0h2m1 0h2m-2 0h2m0 0h2m-2 0h2m0 0h2m-1 0h2m-1 0h2m-1 0h2m0 0h2m-1 0h2m-1 0h2m58 0h2m7 0h2m-2 0h2m-1 0h2m0 0h2m-180 1h2m3 0h2m1 0h2m-1 0h2m-1 0h2m3 0h2m-1 0h2m-2 0h2m-1 0h2m57 0h2m-1 0h2m0 0h2m2 0h2m-1 0h2m-2 0h2m-1 0h2m0 0h2m-1 0h2m-2 0h2m0 0h2m-1 0h2m-1 0h2m-1 0h2m0 0h2m4 0h2m-1 0h2m-1 0h2m-1 0h2m-2 0h2m-1 0h2m-1 0h2m55 0h2m0 0h2m0 0h2m2 0h2m-2 0h2m-1 0h2m14 0h2m-199 1h2m7 0h2m0 0h2m2 0h2m8 0h2m-2 0h2m-2 0h2m-1 0h2m-1 0h2m57 0h2m2 0h2m6 0h2m-2 0h2m-2 0h2m0 0h2m3 0h2m2 0h2m1 0h2m-2 0h2m0 0h2m0 0h2m-2 0h2m53 0h2m2 0h2m-1 0h2m-1 0h2m2 0h2m-175 1h2m-1 0h2m-2 0h2m-1 0h2m8 0h2m4 0h2m-1 0h2m60 0h2m-2 0h2m-2 0h2m1 0h2m0 0h2m-2 0h2m-1 0h2m1 0h2m0 0h2m2 0h2m-1 0h2m-2 0h2m0 0h2m-1 0h2m-1 0h2m2 0h2m-1 0h2m57 0h2m0 0h2m5 0h2m-1 0h2m1 0h2m-2 0h2m2 0h2m-203 1h2m13 0h2m0 0h2m3 0h2m0 0h2m-1 0h2m0 0h2m-2 0h2m4 0h2m-1 0h2m-2 0h2m0 0h2m-1 0h2m-1 0h2m59 0h2m2 0h2m-2 0h2m1 0h2m-1 0h2m1 0h2m1 0h2m-2 0h2m-2 0h2m-1 0h2m-1 0h2m-2 0h2m6 0h2m-2 0h2m2 0h2m54 0h2m-1 0h2m-1 0h2m-2 0h2m5 0h2m-1 0h2m-197 1h2m19 0h2m0 0h2m6 0h2m-2 0h2m69 0h2m3 0h2m0 0h2m-2 0h2m0 0h2m-1 0h2m-2 0h2m0 0h2m0 0h2m-1 0h2m-1 0h2m0 0h2m3 0h2m-2 0h2m62 0h2m-1 0h2m-1 0h2m-2 0h2m-2 0h2m0 0h2m-2 0h2m0 0h2m6 0h2m-191 1h2m7 0h2m-1 0h2m-1 0h2m-1 0h2m1 0h2m-2 0h2m-1 0h2m70 0h2m-1 0h2m-1 0h2m1 0h2m1 0h2m-2 0h2m1 0h2m-1 0h2m-1 0h2m3 0h2m-2 0h2m2 0h2m-1 0h2m-2 0h2m-2 0h2m-1 0h2m-2 0h2m-1 0h2m-2 0h2m-2 0h2m57 0h2m0 0h2m-1 0h2m-1 0h2m2 0h2m4 0h2m-187 1h2m5 0h2m4 0h2m2 0h2m3 0h2m63 0h2m0 0h2m-1 0h2m-1 0h2m1 0h2m0 0h2m0 0h2m0 0h2m-2 0h2m-2 0h2m-1 0h2m-1 0h2m-1 0h2m-2 0h2m-1 0h2m-1 0h2m-1 0h2m-1 0h2m0 0h2m0 0h2m1 0h2m6 0h2m49 0h2m-2 0h2m1 0h2m1 0h2m-188 1h2m2 0h2m1 0h2m3 0h2m0 0h2m2 0h2m-1 0h2m0 0h2m2 0h2m0 0h2m-2 0h2m0 0h2m68 0h2m-1 0h2m1 0h2m0 0h2m-1 0h2m-1 0h2m-2 0h2m-1 0h2m-2 0h2m0 0h2m2 0h2m-1 0h2m11 0h2m49 0h2m-2 0h2m4 0h2m-182 1h2m2 0h2m0 0h2m3 0h2m-2 0h2m0 0h2m1 0h2m1 0h2m69 0h2m-1 0h2m0 0h2m0 0h2m-1 0h2m-2 0h2m1 0h2m-1 0h2m-1 0h2m1 0h2m-1 0h2m-1 0h2m0 0h2m5 0h2m57 0h2m-2 0h2m-1 0h2m-2 0h2m-2 0h2m2 0h2m-2 0h2m-181 1h2m9 0h2m5 0h2m-1 0h2m-1 0h2m-1 0h2m69 0h2m0 0h2m-1 0h2m0 0h2m-1 0h2m-2 0h2m-1 0h2m-1 0h2m-2 0h2m-2 0h2m-2 0h2m0 0h2m-2 0h2m-2 0h2m-1 0h2m-1 0h2m-2 0h2m-1 0h2m-2 0h2m0 0h2m-1 0h2m3 0h2m-2 0h2m60 0h2m4 0h2m2 0h2m-1 0h2m1 0h2m3 0h2m-200 1h2m2 0h2m5 0h2m-2 0h2m3 0h2m-1 0h2m0 0h2m-1 0h2m0 0h2m0 0h2m-2 0h2m0 0h2m67 0h2m-1 0h2m1 0h2m-2 0h2m-1 0h2m-1 0h2m-1 0h2m-1 0h2m6 0h2m-1 0h2m-1 0h2m0 0h2m-2 0h2m2 0h2m57 0h2m-1 0h2m3 0h2m-1 0h2m1 0h2m-1 0h2m-1 0h2m6 0h2m-204 1h2m7 0h2m-1 0h2m-1 0h2m-2 0h2m-1 0h2m0 0h2m0 0h2m1 0h2m2 0h2m-1 0h2m75 0h2m1 0h2m-2 0h2m-2 0h2m-2 0h2m-1 0h2m1 0h2m0 0h2m-2 0h2m-1 0h2m-2 0h2m1 0h2m-1 0h2m9 0h2m53 0h2m0 0h2m-1 0h2m-1 0h2m6 0h2m5 0h2m0 0h2m-197 1h2m4 0h2m1 0h2m-2 0h2m1 0h2m0 0h2m0 0h2m3 0h2m0 0h2m66 0h2m0 0h2m-1 0h2m3 0h2m-2 0h2m3 0h2m-2 0h2m0 0h2m4 0h2m-2 0h2m2 0h2m57 0h2m0 0h2m-1 0h2m0 0h2m-2 0h2m-1 0h2m-1 0h2m-2 0h2m3 0h2m-186 1h2m6 0h2m-2 0h2m4 0h2m2 0h2m73 0h2m-2 0h2m1 0h2m-1 0h2m-1 0h2m3 0h2m0 0h2m-1 0h2m-2 0h2m-2 0h2m0 0h2m-1 0h2m-1 0h2m68 0h2m0 0h2m-2 0h2m1 0h2m16 0h2m-208 1h2m1 0h2m4 0h2m0 0h2m-1 0h2m-1 0h2m0 0h2m-1 0h2m4 0h2m69 0h2m0 0h2m0 0h2m0 0h2m1 0h2m-1 0h2m4 0h2m-1 0h2m-1 0h2m-2 0h2m0 0h2m60 0h2m-2 0h2m-1 0h2m-2 0h2m-2 0h2m-1 0h2m-1 0h2m-1 0h2m4 0h2m-187 1h2m0 0h2m4 0h2m-1 0h2m0 0h2m-1 0h2m1 0h2m0 0h2m1 0h2m-1 0h2m-1 0h2m71 0h2m-2 0h2m0 0h2m-1 0h2m0 0h2m-1 0h2m-1 0h2m1 0h2m-1 0h2m1 0h2m1 0h2m-1 0h2m2 0h2m57 0h2m-2 0h2m1 0h2m-1 0h2m2 0h2m-2 0h2m0 0h2m6 0h2m-196 1h2m1 0h2m-1 0h2m-1 0h2m-1 0h2m0 0h2m3 0h2m-1 0h2m-2 0h2m1 0h2m-2 0h2m-1 0h2m-1 0h2m-1 0h2m-1 0h2m71 0h2m-2 0h2m1 0h2m-2 0h2m0 0h2m-1 0h2m1 0h2m-2 0h2m-1 0h2m-1 0h2m-2 0h2m2 0h2m-1 0h2m-2 0h2m-2 0h2m-1 0h2m62 0h2m3 0h2m3 0h2m-1 0h2m-2 0h2m-1 0h2m4 0h2m1 0h2m0 0h2m6 0h2m-204 1h2m2 0h2m3 0h2m-1 0h2m-1 0h2m0 0h2m-1 0h2m-1 0h2m73 0h2m-2 0h2m0 0h2m-1 0h2m-1 0h2m-2 0h2m-1 0h2m-1 0h2m-1 0h2m-2 0h2m-2 0h2m-1 0h2m-1 0h2m3 0h2m-1 0h2m-1 0h2m0 0h2m-1 0h2m60 0h2m-1 0h2m-2 0h2m1 0h2m-1 0h2m-2 0h2m4 0h2m5 0h2m-186 1h2m3 0h2m1 0h2m-1 0h2m-2 0h2m-2 0h2m0 0h2m0 0h2m70 0h2m-2 0h2m2 0h2m0 0h2m-1 0h2m1 0h2m1 0h2m-1 0h2m-1 0h2m0 0h2m-2 0h2m64 0h2m2 0h2m-1 0h2m2 0h2m-193 1h2m5 0h2m7 0h2m7 0h2m-1 0h2m-1 0h2m-2 0h2m72 0h2m3 0h2m0 0h2m0 0h2m-2 0h2m-1 0h2m-2 0h2m1 0h2m-2 0h2m0 0h2m-2 0h2m-1 0h2m-2 0h2m60 0h2m-1 0h2m-2 0h2m-2 0h2m-1 0h2m-2 0h2m0 0h2m2 0h2m0 0h2m4 0h2m-194 1h2m1 0h2m4 0h2m1 0h2m2 0h2m1 0h2m0 0h2m-2 0h2m-1 0h2m76 0h2m0 0h2m1 0h2m-2 0h2m-1 0h2m-1 0h2m-1 0h2m0 0h2m-1 0h2m0 0h2m-2 0h2m-2 0h2m-2 0h2m-1 0h2m0 0h2m59 0h2m2 0h2m1 0h2m-2 0h2m-1 0h2m2 0h2m-188 1h2m1 0h2m1 0h2m9 0h2m2 0h2m67 0h2m3 0h2m-1 0h2m1 0h2m1 0h2m0 0h2m-1 0h2m0 0h2m-2 0h2m-1 0h2m0 0h2m0 0h2m-2 0h2m-1 0h2m61 0h2m-1 0h2m9 0h2m-194 1h2m2 0h2m6 0h2m-1 0h2m-1 0h2m2 0h2m-2 0h2m-1 0h2m1 0h2m-1 0h2m-2 0h2m73 0h2m0 0h2m-2 0h2m-2 0h2m1 0h2m1 0h2m-1 0h2m-1 0h2m-1 0h2m-1 0h2m-1 0h2m-2 0h2m-2 0h2m-2 0h2m1 0h2m0 0h2m-2 0h2m60 0h2m-1 0h2m-2 0h2m-2 0h2m2 0h2m4 0h2m5 0h2m-182 1h2m2 0h2m1 0h2m-2 0h2m-2 0h2m-1 0h2m-1 0h2m75 0h2m-2 0h2m-1 0h2m-2 0h2m-1 0h2m-1 0h2m-2 0h2m-1 0h2m-2 0h2m-1 0h2m-2 0h2m-2 0h2m4 0h2m-1 0h2m-2 0h2m1 0h2m3 0h2m13 0h2m38 0h2m0 0h2m-2 0h2m-2 0h2m0 0h2m0 0h2m3 0h2m7 0h2m-205 1h2m21 0h2m0 0h2m-2 0h2m2 0h2m0 0h2m69 0h2m-1 0h2m-1 0h2m-2 0h2m3 0h2m-2 0h2m-1 0h2m-1 0h2m-2 0h2m-1 0h2m-1 0h2m4 0h2m-1 0h2m-1 0h2m-1 0h2m2 0h2m55 0h2m-2 0h2m2 0h2m-1 0h2m-2 0h2m3 0h2m-1 0h2m-1 0h2m-2 0h2m-2 0h2m2 0h2m-176 1h2m0 0h2m-1 0h2m0 0h2m-1 0h2m70 0h2m1 0h2m-2 0h2m0 0h2m-2 0h2m-1 0h2m-2 0h2m2 0h2m-2 0h2m3 0h2m-1 0h2m-1 0h2m2 0h2m57 0h2m1 0h2m8 0h2m0 0h2m0 0h2m-185 1h2m-1 0h2m-1 0h2m-1 0h2m5 0h2m-1 0h2m0 0h2m-1 0h2m71 0h2m-1 0h2m-2 0h2m-1 0h2m0 0h2m-1 0h2m-2 0h2m2 0h2m0 0h2m-1 0h2m-2 0h2m2 0h2m-2 0h2m0 0h2m0 0h2m-2 0h2m2 0h2m52 0h2m6 0h2m-1 0h2m-2 0h2m0 0h2m-2 0h2m0 0h2m-186 1h2m2 0h2m5 0h2m-2 0h2m6 0h2m0 0h2m63 0h2m3 0h2m-1 0h2m2 0h2m-1 0h2m-1 0h2m-2 0h2m-1 0h2m1 0h2m1 0h2m-1 0h2m-1 0h2m-2 0h2m-1 0h2m0 0h2m0 0h2m-1 0h2m-1 0h2m0 0h2m53 0h2m0 0h2m2 0h2m-1 0h2m-1 0h2m1 0h2m-181 1h2m-1 0h2m2 0h2m6 0h2m0 0h2m-1 0h2m-1 0h2m69 0h2m1 0h2m-2 0h2m3 0h2m-2 0h2m-1 0h2m-2 0h2m-1 0h2m7 0h2m1 0h2m56 0h2m6 0h2m0 0h2m5 0h2m-187 1h2m8 0h2m-1 0h2m-2 0h2m1 0h2m0 0h2m71 0h2m-1 0h2m-1 0h2m-2 0h2m-2 0h2m-2 0h2m-1 0h2m1 0h2m0 0h2m1 0h2m0 0h2m-1 0h2m-1 0h2m-1 0h2m-1 0h2m-1 0h2m1 0h2m-2 0h2m-1 0h2m1 0h2m53 0h2m-1 0h2m3 0h2m-1 0h2m-1 0h2m3 0h2m3 0h2m1 0h2m-192 1h2m-1 0h2m6 0h2m6 0h2m58 0h2m8 0h2m-1 0h2m8 0h2m-1 0h2m-1 0h2m4 0h2m0 0h2m60 0h2m-2 0h2m3 0h2m-1 0h2m-2 0h2m2 0h2m3 0h2m-180 1h2m0 0h2m0 0h2m-2 0h2m75 0h2m0 0h2m-1 0h2m3 0h2m-1 0h2m0 0h2m1 0h2m-2 0h2m0 0h2m1 0h2m0 0h2m-2 0h2m-1 0h2m-1 0h2m4 0h2m60 0h2m6 0h2m-197 1h2m10 0h2m0 0h2m-2 0h2m7 0h2m-2 0h2m2 0h2m-2 0h2m-2 0h2m-2 0h2m65 0h2m-1 0h2m0 0h2m-2 0h2m-1 0h2m3 0h2m-2 0h2m2 0h2m-1 0h2m0 0h2m1 0h2m-2 0h2m0 0h2m-2 0h2m-1 0h2m1 0h2m-2 0h2m52 0h2m1 0h2m-1 0h2m-1 0h2m0 0h2m2 0h2m-1 0h2m4 0h2m-187 1h2m2 0h2m2 0h2m5 0h2m-1 0h2m1 0h2m-1 0h2m0 0h2m66 0h2m-2 0h2m-1 0h2m-1 0h2m0 0h2m-1 0h2m-2 0h2m-1 0h2m-1 0h2m-1 0h2m0 0h2m-1 0h2m-2 0h2m-1 0h2m5 0h2m-1 0h2m-2 0h2m0 0h2m-2 0h2m-1 0h2m-2 0h2m54 0h2m-2 0h2m-1 0h2m-1 0h2m-1 0h2m1 0h2m-2 0h2m7 0h2m1 0h2m-186 1h2m-1 0h2m13 0h2m-1 0h2m1 0h2m69 0h2m-1 0h2m-2 0h2m-1 0h2m-1 0h2m-1 0h2m0 0h2m-1 0h2m-2 0h2m0 0h2m0 0h2m-2 0h2m-1 0h2m-1 0h2m-2 0h2m-2 0h2m-1 0h2m0 0h2m1 0h2m52 0h2m-1 0h2m-1 0h2m-1 0h2m-1 0h2m0 0h2m-1 0h2m-1 0h2m1 0h2m0 0h2m3 0h2m-1 0h2m-195 1h2m7 0h2m2 0h2m-2 0h2m12 0h2m-1 0h2m-1 0h2m-1 0h2m66 0h2m-2 0h2m-2 0h2m-1 0h2m-2 0h2m0 0h2m-2 0h2m1 0h2m3 0h2m-2 0h2m5 0h2m-2 0h2m24 0h2m30 0h2m0 0h2m-1 0h2m-2 0h2m0 0h2m2 0h2m8 0h2m-1 0h2m-175 1h2m0 0h2m3 0h2m-1 0h2m-2 0h2m-2 0h2m64 0h2m2 0h2m-2 0h2m-1 0h2m-2 0h2m0 0h2m-2 0h2m-1 0h2m-2 0h2m1 0h2m-1 0h2m-1 0h2m-2 0h2m0 0h2m-2 0h2m3 0h2m-1 0h2m1 0h2m-1 0h2m0 0h2m-2 0h2m49 0h2m-1 0h2m-1 0h2m2 0h2m-1 0h2m-1 0h2m4 0h2m-1 0h2m2 0h2m4 0h2m-2 0h2m-2 0h2m-177 1h2m-2 0h2m-1 0h2m-1 0h2m-1 0h2m0 0h2m-2 0h2m0 0h2m61 0h2m0 0h2m-1 0h2m-2 0h2m6 0h2m-2 0h2m-1 0h2m-2 0h2m-2 0h2m-1 0h2m-1 0h2m0 0h2m0 0h2m1 0h2m3 0h2m-1 0h2m1 0h2m-1 0h2m46 0h2m-2 0h2m-1 0h2m-1 0h2m-1 0h2m-1 0h2m-2 0h2m-1 0h2m-2 0h2m0 0h2m3 0h2m-1 0h2m1 0h2m-1 0h2m0 0h2m-188 1h2m10 0h2m1 0h2m-1 0h2m2 0h2m-1 0h2m-1 0h2m0 0h2m-1 0h2m-1 0h2m-2 0h2m-1 0h2m61 0h2m3 0h2m-1 0h2m5 0h2m3 0h2m0 0h2m-2 0h2m-1 0h2m6 0h2m-2 0h2m-2 0h2m-1 0h2m47 0h2m2 0h2m-1 0h2m3 0h2m-177 1h2m-2 0h2m6 0h2m0 0h2m0 0h2m-1 0h2m7 0h2m-2 0h2m59 0h2m-1 0h2m-1 0h2m0 0h2m5 0h2m2 0h2m-2 0h2m5 0h2m-2 0h2m0 0h2m-2 0h2m0 0h2m-1 0h2m0 0h2m-1 0h2m-1 0h2m-1 0h2m0 0h2m42 0h2m-1 0h2m0 0h2m2 0h2m1 0h2m3 0h2m-1 0h2m-1 0h2m2 0h2m-1 0h2m-1 0h2m-177 1h2m-2 0h2m4 0h2m-1 0h2m-1 0h2m-2 0h2m-1 0h2m-2 0h2m-1 0h2m1 0h2m-2 0h2m1 0h2m-2 0h2m61 0h2m0 0h2m-1 0h2m0 0h2m3 0h2m0 0h2m3 0h2m0 0h2m0 0h2m0 0h2m-1 0h2m-2 0h2m4 0h2m41 0h2m-1 0h2m-1 0h2m-2 0h2m-1 0h2m-2 0h2m-2 0h2m5 0h2m-2 0h2m0 0h2m2 0h2m-2 0h2m-1 0h2m-2 0h2m-1 0h2m1 0h2m-187 1h2m1 0h2m0 0h2m2 0h2m1 0h2m-1 0h2m-2 0h2m-1 0h2m-1 0h2m-2 0h2m2 0h2m3 0h2m-1 0h2m0 0h2m51 0h2m1 0h2m0 0h2m4 0h2m-2 0h2m-1 0h2m-2 0h2m2 0h2m1 0h2m-2 0h2m1 0h2m2 0h2m2 0h2m-1 0h2m1 0h2m2 0h2m-2 0h2m-2 0h2m-1 0h2m1 0h2m42 0h2m-1 0h2m-2 0h2m-1 0h2m1 0h2m0 0h2m6 0h2m-178 1h2m7 0h2m5 0h2m0 0h2m3 0h2m-1 0h2m-2 0h2m52 0h2m-2 0h2m1 0h2m-2 0h2m7 0h2m3 0h2m2 0h2m0 0h2m-2 0h2m0 0h2m-2 0h2m-1 0h2m1 0h2m-1 0h2m-1 0h2m2 0h2m0 0h2m-2 0h2m1 0h2m-1 0h2m34 0h2m3 0h2m-2 0h2m-1 0h2m1 0h2m4 0h2m7 0h2m0 0h2m9 0h2m-186 1h2m0 0h2m0 0h2m2 0h2m-2 0h2m-1 0h2m3 0h2m-2 0h2m2 0h2m48 0h2m-2 0h2m-2 0h2m-1 0h2m9 0h2m-1 0h2m9 0h2m1 0h2m-1 0h2m5 0h2m0 0h2m1 0h2m-1 0h2m0 0h2m36 0h2m-1 0h2m-1 0h2m-2 0h2m4 0h2m1 0h2m-1 0h2m5 0h2m0 0h2m4 0h2m-190 1h2m12 0h2m5 0h2m1 0h2m-2 0h2m2 0h2m50 0h2m-2 0h2m0 0h2m-1 0h2m2 0h2m-2 0h2m-1 0h2m1 0h2m3 0h2m-2 0h2m3 0h2m-2 0h2m-1 0h2m-1 0h2m0 0h2m-2 0h2m5 0h2m-1 0h2m-1 0h2m-2 0h2m0 0h2m0 0h2m-2 0h2m-2 0h2m0 0h2m-1 0h2m-1 0h2m1 0h2m30 0h2m7 0h2m-1 0h2m1 0h2m0 0h2m-2 0h2m0 0h2m3 0h2m-177 1h2m6 0h2m2 0h2m-2 0h2m3 0h2m5 0h2m2 0h2m45 0h2m6 0h2m3 0h2m0 0h2m0 0h2m-1 0h2m-1 0h2m0 0h2m-1 0h2m13 0h2m-1 0h2m0 0h2m0 0h2m1 0h2m-2 0h2m-1 0h2m31 0h2m1 0h2m3 0h2m4 0h2m0 0h2m-174 1h2m7 0h2m0 0h2m0 0h2m-2 0h2m3 0h2m4 0h2m1 0h2m-2 0h2m0 0h2m0 0h2m-1 0h2m40 0h2m2 0h2m1 0h2m-2 0h2m-1 0h2m2 0h2m-2 0h2m-1 0h2m8 0h2m5 0h2m3 0h2m-1 0h2m4 0h2m0 0h2m3 0h2m25 0h2m2 0h2m3 0h2m-1 0h2m-2 0h2m0 0h2m-1 0h2m3 0h2m-1 0h2m-1 0h2m-1 0h2m2 0h2m-2 0h2m-175 1h2m6 0h2m7 0h2m0 0h2m-1 0h2m-1 0h2m1 0h2m2 0h2m40 0h2m2 0h2m0 0h2m0 0h2m-2 0h2m2 0h2m2 0h2m-1 0h2m1 0h2m4 0h2m-2 0h2m4 0h2m2 0h2m2 0h2m-1 0h2m-1 0h2m2 0h2m2 0h2m-1 0h2m0 0h2m-1 0h2m-2 0h2m0 0h2m18 0h2m3 0h2m1 0h2m0 0h2m0 0h2m0 0h2m-2 0h2m-1 0h2m-1 0h2m-2 0h2m1 0h2m-2 0h2m-1 0h2m12 0h2m-194 1h2m6 0h2m4 0h2m3 0h2m1 0h2m1 0h2m1 0h2m-2 0h2m-2 0h2m1 0h2m1 0h2m3 0h2m-1 0h2m2 0h2m36 0h2m-2 0h2m1 0h2m-1 0h2m-1 0h2m-1 0h2m1 0h2m-2 0h2m3 0h2m-2 0h2m7 0h2m1 0h2m-1 0h2m0 0h2m3 0h2m3 0h2m-1 0h2m2 0h2m0 0h2m-1 0h2m-1 0h2m4 0h2m-2 0h2m-2 0h2m2 0h2m0 0h2m-1 0h2m-1 0h2m14 0h2m-2 0h2m-1 0h2m-1 0h2m1 0h2m0 0h2m-1 0h2m1 0h2m14 0h2m2 0h2m-180 1h2m0 0h2m-2 0h2m-1 0h2m7 0h2m-1 0h2m8 0h2m1 0h2m0 0h2m-1 0h2m-1 0h2m-1 0h2m-1 0h2m-1 0h2m1 0h2m-2 0h2m29 0h2m3 0h2m2 0h2m-2 0h2m-2 0h2m0 0h2m6 0h2m4 0h2m-1 0h2m3 0h2m3 0h2m5 0h2m0 0h2m-1 0h2m1 0h2m-2 0h2m-1 0h2m1 0h2m3 0h2m1 0h2m-2 0h2m-1 0h2m4 0h2m1 0h2m2 0h2m-1 0h2m-1 0h2m-2 0h2m-1 0h2m-2 0h2m0 0h2m-1 0h2m-1 0h2m0 0h2m-1 0h2m-1 0h2m4 0h2m3 0h2m-170 1h2m10 0h2m1 0h2m2 0h2m1 0h2m-2 0h2m2 0h2m2 0h2m-2 0h2m0 0h2m-2 0h2m0 0h2m-2 0h2m-1 0h2m0 0h2m-2 0h2m-1 0h2m-2 0h2m-1 0h2m-1 0h2m26 0h2m-1 0h2m3 0h2m0 0h2m1 0h2m-2 0h2m-2 0h2m-1 0h2m9 0h2m2 0h2m1 0h2m11 0h2m1 0h2m-1 0h2m3 0h2m-2 0h2m4 0h2m0 0h2m2 0h2m-1 0h2m1 0h2m-2 0h2m2 0h2m0 0h2m-2 0h2m7 0h2m14 0h2m-1 0h2m4 0h2m-2 0h2m9 0h2m-175 1h2m7 0h2m1 0h2m-1 0h2m0 0h2m-2 0h2m-1 0h2m2 0h2m0 0h2m-2 0h2m-1 0h2m-1 0h2m4 0h2m2 0h2m16 0h2m-1 0h2m-1 0h2m-2 0h2m-1 0h2m-1 0h2m3 0h2m0 0h2m-1 0h2m1 0h2m6 0h2m20 0h2m7 0h2m2 0h2m-1 0h2m2 0h2m-1 0h2m-1 0h2m0 0h2m-1 0h2m-2 0h2m-1 0h2m3 0h2m-1 0h2m-1 0h2m1 0h2m-1 0h2m-2 0h2m-1 0h2m0 0h2m2 0h2m-2 0h2m-2 0h2m4 0h2m4 0h2m-1 0h2m1 0h2m0 0h2m9 0h2m-176 1h2m2 0h2m7 0h2m12 0h2m-1 0h2m2 0h2m0 0h2m-1 0h2m-1 0h2m0 0h2m-2 0h2m-1 0h2m-1 0h2m0 0h2m-1 0h2m-2 0h2m10 0h2m-2 0h2m0 0h2m0 0h2m-2 0h2m3 0h2m1 0h2m-1 0h2m-1 0h2m-2 0h2m-1 0h2m-1 0h2m-2 0h2m-1 0h2m1 0h2m-1 0h2m0 0h2m0 0h2m3 0h2m-1 0h2m7 0h2m-1 0h2m4 0h2m-2 0h2m2 0h2m-2 0h2m-1 0h2m-1 0h2m1 0h2m6 0h2m-2 0h2m1 0h2m-1 0h2m-1 0h2m-2 0h2m-1 0h2m-1 0h2m-1 0h2m-2 0h2m-2 0h2m3 0h2m-1 0h2m-1 0h2m-1 0h2m1 0h2m-2 0h2m-1 0h2m-1 0h2m-1 0h2m0 0h2m2 0h2m0 0h2m0 0h2m3 0h2m2 0h2m-1 0h2m-2 0h2m-2 0h2m0 0h2m25 0h2m-174 1h2m-1 0h2m2 0h2m-1 0h2m2 0h2m-2 0h2m2 0h2m0 0h2m0 0h2m-1 0h2m1 0h2m-2 0h2m0 0h2m-2 0h2m-1 0h2m-1 0h2m0 0h2m0 0h2m-2 0h2m-1 0h2m-2 0h2m3 0h2m2 0h2m-1 0h2m4 0h2m-1 0h2m1 0h2m-1 0h2m-1 0h2m7 0h2m8 0h2m-1 0h2m1 0h2m-2 0h2m1 0h2m7 0h2m0 0h2m7 0h2m6 0h2m1 0h2m0 0h2m0 0h2m4 0h2m-1 0h2m1 0h2m0 0h2m3 0h2m1 0h2m-1 0h2m-2 0h2m10 0h2m4 0h2m-2 0h2m-155 1h2m5 0h2m1 0h2m-2 0h2m-2 0h2m1 0h2m1 0h2m-2 0h2m1 0h2m-2 0h2m-1 0h2m2 0h2m-2 0h2m-1 0h2m0 0h2m-2 0h2m-1 0h2m-1 0h2m-1 0h2m-1 0h2m12 0h2m-1 0h2m-1 0h2m-1 0h2m3 0h2m0 0h2m-1 0h2m4 0h2m0 0h2m33 0h2m-2 0h2m4 0h2m2 0h2m-2 0h2m-1 0h2m-2 0h2m3 0h2m-1 0h2m0 0h2m0 0h2m4 0h2m1 0h2m-2 0h2m4 0h2m6 0h2m4 0h2m-162 1h2m2 0h2m3 0h2m0 0h2m-1 0h2m-2 0h2m0 0h2m3 0h2m0 0h2m-1 0h2m6 0h2m1 0h2m-1 0h2m-1 0h2m2 0h2m-2 0h2m-2 0h2m2 0h2m-1 0h2m-1 0h2m0 0h2m-1 0h2m-1 0h2m1 0h2m1 0h2m-2 0h2m-1 0h2m-1 0h2m0 0h2m-2 0h2m2 0h2m-1 0h2m-1 0h2m1 0h2m-1 0h2m-1 0h2m-1 0h2m1 0h2m3 0h2m0 0h2m13 0h2m2 0h2m4 0h2m0 0h2m-1 0h2m-1 0h2m-1 0h2m11 0h2m2 0h2m-2 0h2m-1 0h2m-1 0h2m2 0h2m2 0h2m-1 0h2m1 0h2m0 0h2m0 0h2m-149 1h2m1 0h2m3 0h2m-1 0h2m6 0h2m3 0h2m-2 0h2m0 0h2m6 0h2m1 0h2m-1 0h2m1 0h2m-1 0h2m-1 0h2m-2 0h2m0 0h2m-2 0h2m4 0h2m15 0h2m0 0h2m-1 0h2m21 0h2m8 0h2m6 0h2m6 0h2m5 0h2m1 0h2m6 0h2m3 0h2m6 0h2m-1 0h2m3 0h2m-1 0h2m1 0h2m1 0h2m-160 1h2m4 0h2m6 0h2m-2 0h2m2 0h2m1 0h2m5 0h2m0 0h2m-2 0h2m4 0h2m1 0h2m-2 0h2m0 0h2m-2 0h2m3 0h2m0 0h2m0 0h2m-1 0h2m-2 0h2m1 0h2m2 0h2m1 0h2m0 0h2m8 0h2m0 0h2m12 0h2m16 0h2m-1 0h2m-1 0h2m-1 0h2m-1 0h2m0 0h2m6 0h2m1 0h2m-1 0h2m-2 0h2m-2 0h2m4 0h2m-2 0h2m2 0h2m-141 1h2m9 0h2m9 0h2m2 0h2m-1 0h2m-1 0h2m-2 0h2m0 0h2m-1 0h2m5 0h2m-2 0h2m4 0h2m2 0h2m4 0h2m-2 0h2m1 0h2m1 0h2m1 0h2m-2 0h2m-1 0h2m0 0h2m0 0h2m-1 0h2m0 0h2m0 0h2m1 0h2m1 0h2m-1 0h2m13 0h2m7 0h2m-2 0h2m4 0h2m-2 0h2m-1 0h2m1 0h2m-2 0h2m3 0h2m6 0h2m-1 0h2m-2 0h2m12 0h2m13 0h2m-1 0h2m2 0h2m-168 1h2m2 0h2m7 0h2m-1 0h2m-2 0h2m0 0h2m4 0h2m2 0h2m2 0h2m-1 0h2m0 0h2m-1 0h2m-1 0h2m0 0h2m1 0h2m0 0h2m-2 0h2m0 0h2m-1 0h2m2 0h2m-1 0h2m5 0h2m3 0h2m12 0h2m4 0h2m0 0h2m12 0h2m2 0h2m-2 0h2m2 0h2m4 0h2m4 0h2m0 0h2m0 0h2m5 0h2m-2 0h2m-1 0h2m7 0h2m-1 0h2m-1 0h2m0 0h2m-2 0h2m-1 0h2m-1 0h2m3 0h2m10 0h2m-1 0h2m-170 1h2m21 0h2m8 0h2m3 0h2m2 0h2m0 0h2m1 0h2m-1 0h2m-2 0h2m0 0h2m1 0h2m-1 0h2m-2 0h2m-1 0h2m1 0h2m1 0h2m3 0h2m3 0h2m1 0h2m15 0h2m6 0h2m8 0h2m11 0h2m2 0h2m5 0h2m2 0h2m3 0h2m2 0h2m-2 0h2m4 0h2m-2 0h2m3 0h2m2 0h2m2 0h2m-2 0h2m2 0h2m-151 1h2m6 0h2m0 0h2m-2 0h2m1 0h2m1 0h2m-2 0h2m2 0h2m3 0h2m1 0h2m-2 0h2m-1 0h2m4 0h2m-1 0h2m-1 0h2m-2 0h2m-2 0h2m0 0h2m1 0h2m3 0h2m-1 0h2m7 0h2m14 0h2m10 0h2m5 0h2m9 0h2m-1 0h2m6 0h2m4 0h2m-1 0h2m-2 0h2m-1 0h2m2 0h2m0 0h2m0 0h2m18 0h2m-141 1h2m1 0h2m0 0h2m6 0h2m5 0h2m3 0h2m2 0h2m3 0h2m3 0h2m0 0h2m2 0h2m9 0h2m-1 0h2m-1 0h2m4 0h2m14 0h2m1 0h2m8 0h2m19 0h2m2 0h2m1 0h2m0 0h2m3 0h2m4 0h2m-163 1h2m12 0h2m1 0h2m2 0h2m3 0h2m-1 0h2m1 0h2m3 0h2m0 0h2m7 0h2m-1 0h2m8 0h2m-1 0h2m8 0h2m-1 0h2m3 0h2m10 0h2m18 0h2m7 0h2m1 0h2m-2 0h2m16 0h2m0 0h2m0 0h2m-2 0h2m21 0h2m-165 1h2m5 0h2m11 0h2m5 0h2m5 0h2m12 0h2m0 0h2m-2 0h2m0 0h2m4 0h2m-1 0h2m-1 0h2m-1 0h2m6 0h2m-2 0h2m4 0h2m0 0h2m-2 0h2m37 0h2m3 0h2m-1 0h2m-2 0h2m-1 0h2m17 0h2m4 0h2m-2 0h2m0 0h2m2 0h2m4 0h2m10 0h2m-145 1h2m4 0h2m2 0h2m2 0h2m0 0h2m-2 0h2m8 0h2m2 0h2m0 0h2m2 0h2m6 0h2m5 0h2m8 0h2m16 0h2m2 0h2m0 0h2m2 0h2m7 0h2m3 0h2m2 0h2m-2 0h2m6 0h2m-1 0h2m1 0h2m10 0h2m-155 1h2m30 0h2m5 0h2m3 0h2m15 0h2m-1 0h2m2 0h2m42 0h2m15 0h2m10 0h2m-1 0h2m0 0h2m5 0h2m2 0h2m16 0h2m-180 1h2m9 0h2m13 0h2m0 0h2m3 0h2m9 0h2m66 0h2m-2 0h2m1 0h2m-1 0h2m7 0h2m7 0h2m-1 0h2m0 0h2m1 0h2m-98 1h2m6 0h2m-1 0h2m5 0h2m0 0h2m5 0h2m9 0h2m33 0h2m1 0h2m5 0h2m4 0h2m0 0h2m19 0h2m-134 1h2m10 0h2m-2 0h2m5 0h2m0 0h2m4 0h2m4 0h2m2 0h2m12 0h2m2 0h2m47 0h2m3 0h2m-2 0h2m12 0h2m13 0h2m-153 1h2m11 0h2m0 0h2m2 0h2m0 0h2m32 0h2m62 0h2m0 0h2m16 0h2m-119 1h2m6 0h2m-2 0h2m-1 0h2m21 0h2m3 0h2m2 0h2m4 0h2m-51 1h2m13 0h2m3 0h2m13 0h2m6 0h2m1 0h2m61 0h2m2 0h2m-105 1h2m1 0h2m14 0h2m8 0h2m-1 0h2m-6 1h2m61 0h2m4 0h2m7 0h2m-100 1h2m9 0h2m2 0h2m4 0h2m10 0h2m-17 1h2m-1 0h2m-56 1h2m10 0h2m23 0h2m-14 1h2m-1 2h2m-1 1h2m14 0h2m0 0h2m86 1h2m-93 1h2m-71 4h2m1 0h2m-8 2h2m-1 0h2m1 0h2m-4 1h2m-2 0h2m-2 1h2m-1 0h2m0 0h2m-8 1h2m-1 0h2m-2 0h2m5 0h2m151 0h2" stroke="#dc2a1c" stroke-width="2.2" fill="none"/>
<rect x="1681.8" y="171.2" width="108.8" height="82.3" fill="none" stroke="#e2591a" stroke-width="2.2"/>
<rect x="1605.3" y="60.3" width="201.7" height="198.5" fill="none" stroke="#8a8887" stroke-width="1.4"/>
<path d="M1605.3 254.4h-4.5M1605.3 221.5h-4.5M1605.3 229h-2.5M1605.3 236.5h-2.5M1605.3 244.1h-2.5M1605.3 251.6h-2.5M1605.3 183.2h-4.5M1605.3 190.7h-2.5M1605.3 198.2h-2.5M1605.3 205.8h-2.5M1605.3 213.3h-2.5M1605.3 145.6h-4.5M1605.3 153.1h-2.5M1605.3 160.6h-2.5M1605.3 168.2h-2.5M1605.3 175.7h-2.5M1605.3 108.2h-4.5M1605.3 115.7h-2.5M1605.3 123.2h-2.5M1605.3 130.8h-2.5M1605.3 138.3h-2.5M1605.3 70.6h-4.5M1605.3 78.1h-2.5M1605.3 85.6h-2.5M1605.3 93.2h-2.5M1605.3 100.7h-2.5M1626 258.8v5M1648 258.8v5.5M1661.2 258.8v3M1669 258.8v3M1674.5 258.8v3M1678.8 258.8v3M1682.2 258.8v3M1685.2 258.8v3M1687.7 258.8v3M1690 258.8v3M1692 258.8v5.5M1706 258.8v3M1714.1 258.8v3M1719.9 258.8v3M1724.4 258.8v3M1728.1 258.8v3M1731.2 258.8v3M1733.9 258.8v3M1736.2 258.8v3M1739 258.8v5.5M1753 258.8v3M1761.1 258.8v3M1766.9 258.8v3M1771.4 258.8v3M1775.1 258.8v3M1778.2 258.8v3M1780.9 258.8v3M1783.2 258.8v3M1784.7 258.8v5.5M1798.7 258.8v3M1609.5 258.8v2.5M1611.7 258.8v2.5M1613.9 258.8v2.5M1616.1 258.8v2.5M1618.3 258.8v2.5M1620.5 258.8v2.5M1622.7 258.8v2.5M1624.9 258.8v2.5" stroke="#6a6867" stroke-width="1" fill="none"/>
<text x="1624.5" y="279.3" text-anchor="middle">0</text>
<text x="1647.6" y="279.3" text-anchor="middle">10<tspan dy="-5.5" font-size="10.5">2</tspan></text>
<text x="1691.6" y="279.3" text-anchor="middle">10<tspan dy="-5.5" font-size="10.5">3</tspan></text>
<text x="1738.6" y="279.3" text-anchor="middle">10<tspan dy="-5.5" font-size="10.5">4</tspan></text>
<text x="1784.3" y="280.3" text-anchor="middle">10<tspan dy="-5.5" font-size="10.5">5</tspan></text>
<text x="1595.8" y="260.2" text-anchor="end">0</text>
<text x="1598.8" y="227.3" text-anchor="end">50K</text>
<text x="1598.8" y="189" text-anchor="end">100K</text>
<text x="1598.8" y="151.4" text-anchor="end">150K</text>
<text x="1598.8" y="114" text-anchor="end">200K</text>
<text x="1598.8" y="76.4" text-anchor="end">250K</text>
<text x="1440" y="53.5" text-anchor="middle">Normal</text>
<text x="1693.5" y="53.5" text-anchor="middle">Suspension</text>
<text x="1462.6" y="159" text-anchor="middle" font-size="17.2">27.3%</text>
<text x="1719" y="159" text-anchor="middle" font-size="17.2">37.8%</text>
<text text-anchor="middle" transform="translate(1293.5 159.5) rotate(-90)">All events</text>
<text x="1562.6" y="311.5" text-anchor="middle">ZNF32</text>
<path d="M1859.2 52.7V272.8H1975" stroke="#1a1716" stroke-width="1.7" fill="none"/>
<path d="M1859.2 268.1h2.5M1859.2 244.6h2.5M1859.2 221.1h2.5M1859.2 197.6h2.5M1859.2 174.1h2.5M1859.2 150.6h2.5M1859.2 127.1h2.5M1859.2 103.6h2.5M1859.2 80.1h2.5M1859.2 56.6h2.5" stroke="#1a1716" stroke-width="1.5" fill="none"/>
<text x="1856" y="274" text-anchor="end" font-size="16.4">0</text>
<text x="1856" y="250.5" text-anchor="end" font-size="16.4">5</text>
<text x="1856" y="227" text-anchor="end" font-size="16.4">10</text>
<text x="1856" y="203.5" text-anchor="end" font-size="16.4">15</text>
<text x="1856" y="180" text-anchor="end" font-size="16.4">20</text>
<text x="1856" y="156.5" text-anchor="end" font-size="16.4">25</text>
<text x="1856" y="133" text-anchor="end" font-size="16.4">30</text>
<text x="1856" y="109.5" text-anchor="end" font-size="16.4">35</text>
<text x="1856" y="86" text-anchor="end" font-size="16.4">40</text>
<text x="1856" y="62.5" text-anchor="end" font-size="16.4">45</text>
<text text-anchor="middle" transform="translate(1833.5 162.3) rotate(-90)" font-size="17.3">ZNF32 higher cells (%)</text>
<rect x="1880.8" y="142.6" width="40.3" height="125.5" fill="#2f2b29" stroke="#1a1716" stroke-width="1.8"/>
<rect x="1921.7" y="98.7" width="39.7" height="169.4" fill="#838180" stroke="#1a1716" stroke-width="1.8"/>
<path d="M1895.5 123H1910.5M1903 123V161.7M1895.5 161.7H1910.5" stroke="#1a1716" stroke-width="1.7" fill="none"/>
<path d="M1933.9 79H1948.9M1941.4 79V117.5M1933.9 117.5H1948.9" stroke="#1a1716" stroke-width="1.7" fill="none"/>
<path d="M1898.4 66V54.2H1939.3V66" stroke="#1a1716" stroke-width="1.7" fill="none" stroke-linejoin="round"/>
<text x="1919" y="57.1" text-anchor="middle" font-size="17.8" letter-spacing="0.45">**</text>
<text text-anchor="end" transform="translate(1907.5 277.5) rotate(-50)">Normal</text>
<text text-anchor="end" transform="translate(1947 277) rotate(-50)">Suspension</text>
<path d="M38.4 435.4V667H350.6" stroke="#1a1716" stroke-width="1.7" fill="none"/>
<path d="M38.4 661.3h4M38.4 643h2M38.4 624.8h4M38.4 606.5h2M38.4 588.2h4M38.4 569.9h2M38.4 551.6h4M38.4 533.4h2M38.4 515.1h4M38.4 496.8h2M38.4 478.5h4M38.4 460.3h2M38.4 442h4" stroke="#1a1716" stroke-width="1.5" fill="none"/>
<text x="35.6" y="668.3" text-anchor="end" font-size="16.4">-14</text>
<text x="35.6" y="631.8" text-anchor="end" font-size="16.4">-12</text>
<text x="35.6" y="595.2" text-anchor="end" font-size="16.4">-10</text>
<text x="35.6" y="558.6" text-anchor="end" font-size="16.4">-8</text>
<text x="35.6" y="522.1" text-anchor="end" font-size="16.4">-6</text>
<text x="35.6" y="485.5" text-anchor="end" font-size="16.4">-4</text>
<text x="35.6" y="449" text-anchor="end" font-size="16.4">-2</text>
<path d="M43.1 667v-4M68.1 667v-2.2M93.2 667v-4M118.2 667v-2.2M143.2 667v-4M168.3 667v-2.2M193.3 667v-4M218.3 667v-2.2M243.4 667v-4M268.4 667v-2.2M293.4 667v-4M318.5 667v-2.2M343.5 667v-4" stroke="#1a1716" stroke-width="1.5" fill="none"/>
<text x="43.1" y="684.8" text-anchor="middle" font-size="16.4">0</text>
<text x="93.2" y="684.8" text-anchor="middle" font-size="16.4">1</text>
<text x="143.2" y="684.8" text-anchor="middle" font-size="16.4">2</text>
<text x="193.3" y="684.8" text-anchor="middle" font-size="16.4">3</text>
<text x="243.4" y="684.8" text-anchor="middle" font-size="16.4">4</text>
<text x="293.4" y="684.8" text-anchor="middle" font-size="16.4">5</text>
<text x="343.5" y="684.8" text-anchor="middle" font-size="16.4">6</text>
<text text-anchor="middle" transform="translate(16 546) rotate(-90)">Nanog</text>
<text x="187" y="699.5" text-anchor="middle">ZNF32</text>
<text x="50" y="448" font-size="17.2">R=0.3608</text>
<text x="50" y="468.5" font-size="17.2">p=0.0058</text>
<path d="M43.3 664L334.6 451.2" stroke="#1a1716" stroke-width="1.6" fill="none"/>
<path d="M275 451.5h0M284.6 469.3h0M339.7 475h0M243 481.7h0M117.5 486.3h0M319.4 487.5h0M296 487.8h0M267.4 484.5h0M262.8 485.7h0M261 490h0M246.8 489.3h0M230 489.6h0M210.4 490h0M206.5 493h0M223 494.8h0M241.6 493.6h0M282.2 496.9h0M279.2 498.4h0M278.9 505.7h0M206.8 513.5h0M229.2 512.6h0M159 516.6h0M88.4 519h0M205.3 520.8h0M247.7 518.4h0M257.4 519.6h0M173.5 525.3h0M232.5 525.6h0M205.3 529.9h0M239.2 529.3h0M233.1 531.7h0M254.3 532.3h0M259.8 529.9h0M193.8 534.7h0M260.4 542h0M245.9 548.7h0M218 552.3h0M198.9 556.5h0M267 556.8h0M122.3 643.1h0M156 643.1h0M160.5 643.1h0M163.5 643.1h0M166.5 643.1h0M190 643.1h0M193.8 643.1h0M203 643.1h0M207.4 643.1h0M220.4 643.1h0M243.7 643.1h0M255 643.1h0M262.2 643.1h0M298.9 643.1h0" stroke="#111" stroke-width="5.1" stroke-linecap="round" fill="none"/>
<path d="M429.4 462.7V683.1H764.6" stroke="#1a1716" stroke-width="1.7" fill="none"/>
<path d="M429.4 677.7h5.6M429.4 662.5h3M429.4 647.3h5.6M429.4 632.1h3M429.4 617h5.6M429.4 601.8h3M429.4 586.6h5.6M429.4 571.4h3M429.4 556.2h5.6M429.4 541h3M429.4 525.9h5.6M429.4 510.7h3M429.4 495.5h5.6M429.4 480.3h3M429.4 465.1h5.6" stroke="#1a1716" stroke-width="1.5" fill="none"/>
<text x="425.2" y="684.8" text-anchor="end" font-size="16.4">0</text>
<text x="425.2" y="654.4" text-anchor="end" font-size="16.4">1</text>
<text x="425.2" y="624.1" text-anchor="end" font-size="16.4">2</text>
<text x="425.2" y="593.7" text-anchor="end" font-size="16.4">3</text>
<text x="425.2" y="563.3" text-anchor="end" font-size="16.4">4</text>
<text x="425.2" y="533" text-anchor="end" font-size="16.4">5</text>
<text x="425.2" y="502.6" text-anchor="end" font-size="16.4">6</text>
<text x="425.2" y="472.2" text-anchor="end" font-size="16.4">7</text>
<text text-anchor="middle" transform="translate(409.3 573.2) rotate(-90)" font-size="17.3">Fold change over  vector</text>
<rect x="473.3" y="647.1" width="29.3" height="29.3" fill="#2f2b29" stroke="#1a1716" stroke-width="1.8"/>
<rect x="503.4" y="541.4" width="29.2" height="135" fill="#838180" stroke="#1a1716" stroke-width="1.8"/>
<rect x="570.2" y="647.1" width="29.9" height="29.3" fill="#2f2b29" stroke="#1a1716" stroke-width="1.8"/>
<rect x="601" y="593.8" width="28.8" height="82.6" fill="#838180" stroke="#1a1716" stroke-width="1.8"/>
<rect x="668.3" y="647.1" width="29" height="29.3" fill="#2f2b29" stroke="#1a1716" stroke-width="1.8"/>
<rect x="700.4" y="487.5" width="28.4" height="188.9" fill="#838180" stroke="#1a1716" stroke-width="1.8"/>
<path d="M481.6 645.3H494.6M488.1 645.3V648.9M481.6 648.9H494.6" stroke="#1a1716" stroke-width="1.7" fill="none"/>
<path d="M512.2 538H525.2M518.7 538V544.7M512.2 544.7H525.2" stroke="#1a1716" stroke-width="1.7" fill="none"/>
<path d="M578.5 644H591.5M585 644V650.7M578.5 650.7H591.5" stroke="#1a1716" stroke-width="1.7" fill="none"/>
<path d="M609.4 574.1H622.4M615.9 574.1V613.5M609.4 613.5H622.4" stroke="#1a1716" stroke-width="1.7" fill="none"/>
<path d="M676.3 644H689.3M682.8 644V650.7M676.3 650.7H689.3" stroke="#1a1716" stroke-width="1.7" fill="none"/>
<path d="M707.8 469.6H720.8M714.3 469.6V504.8M707.8 504.8H720.8" stroke="#1a1716" stroke-width="1.7" fill="none"/>
<path d="M488.4 525.4V513.2H518.7V525.4" stroke="#1a1716" stroke-width="1.7" fill="none" stroke-linejoin="round"/>
<text x="503.8" y="516.1" text-anchor="middle" font-size="17.8" letter-spacing="0.45">**</text>
<path d="M585.9 563.2V551.4H614.7V563.2" stroke="#1a1716" stroke-width="1.7" fill="none" stroke-linejoin="round"/>
<text x="600.5" y="554.3" text-anchor="middle" font-size="17.8" letter-spacing="0.45">**</text>
<path d="M684.3 458.1V445.7H714V458.1" stroke="#1a1716" stroke-width="1.7" fill="none" stroke-linejoin="round"/>
<text x="699.4" y="448.6" text-anchor="middle" font-size="17.8" letter-spacing="0.45">**</text>
<rect x="452.3" y="457.4" width="13.4" height="9.8" fill="#2f2b29" stroke="#1a1716" stroke-width="1.2"/>
<rect x="452.3" y="475.6" width="13.4" height="9.8" fill="#838180" stroke="#1a1716" stroke-width="1.2"/>
<text x="468.5" y="466.5">vector</text>
<text x="468.5" y="486.5">ZNF32</text>
<text x="503.5" y="699.5" text-anchor="middle">OCT4</text>
<text x="602.6" y="699" text-anchor="middle">Nanog</text>
<text x="699.5" y="700" text-anchor="middle">KLF4</text>
<path d="M847.5 462.7V681.6H1150" stroke="#1a1716" stroke-width="1.7" fill="none"/>
<path d="M847.5 676.5h5.6M847.5 658.9h3M847.5 641.3h5.6M847.5 623.7h3M847.5 606.1h5.6M847.5 588.5h3M847.5 570.9h5.6M847.5 553.3h3M847.5 535.7h5.6M847.5 518.1h3M847.5 500.5h5.6M847.5 482.9h3M847.5 465.3h5.6" stroke="#1a1716" stroke-width="1.5" fill="none"/>
<text x="843.5" y="683" text-anchor="end" font-size="16.4">0.0</text>
<text x="843.5" y="647.8" text-anchor="end" font-size="16.4">0.2</text>
<text x="843.5" y="612.6" text-anchor="end" font-size="16.4">0.4</text>
<text x="843.5" y="577.4" text-anchor="end" font-size="16.4">0.6</text>
<text x="843.5" y="542.2" text-anchor="end" font-size="16.4">0.8</text>
<text x="843.5" y="507" text-anchor="end" font-size="16.4">1.0</text>
<text x="843.5" y="471.8" text-anchor="end" font-size="16.4">1.2</text>
<text text-anchor="middle" transform="translate(815.3 570) rotate(-90)" font-size="17.3">Fold change over  shNC</text>
<rect x="887.8" y="500.5" width="25.7" height="175.7" fill="#2f2b29" stroke="#1a1716" stroke-width="1.8"/>
<rect x="916.6" y="599" width="25.7" height="77.2" fill="#838180" stroke="#1a1716" stroke-width="1.8"/>
<rect x="978.3" y="500.5" width="25.8" height="175.7" fill="#2f2b29" stroke="#1a1716" stroke-width="1.8"/>
<rect x="1005.9" y="597.7" width="25.4" height="78.5" fill="#838180" stroke="#1a1716" stroke-width="1.8"/>
<rect x="1067.7" y="500.5" width="26" height="175.7" fill="#2f2b29" stroke="#1a1716" stroke-width="1.8"/>
<rect x="1096.4" y="617.1" width="25.8" height="59.1" fill="#838180" stroke="#1a1716" stroke-width="1.8"/>
<path d="M893.6 489H908.6M901.1 489V512.3M893.6 512.3H908.6" stroke="#1a1716" stroke-width="1.7" fill="none"/>
<path d="M921.8 580.8H936.8M929.3 580.8V615.9M921.8 615.9H936.8" stroke="#1a1716" stroke-width="1.7" fill="none"/>
<path d="M984.2 471.8H999.2M991.7 471.8V530.2M984.2 530.2H999.2" stroke="#1a1716" stroke-width="1.7" fill="none"/>
<path d="M1011.7 575.6H1026.7M1019.2 575.6V619.8M1011.7 619.8H1026.7" stroke="#1a1716" stroke-width="1.7" fill="none"/>
<path d="M1073.5 482.4H1088.5M1081 482.4V520.2M1073.5 520.2H1088.5" stroke="#1a1716" stroke-width="1.7" fill="none"/>
<path d="M1102 601.4H1117M1109.5 601.4V632.9M1102 632.9H1117" stroke="#1a1716" stroke-width="1.7" fill="none"/>
<path d="M900.5 480V467.2H929.3V480" stroke="#1a1716" stroke-width="1.7" fill="none" stroke-linejoin="round"/>
<text x="915.1" y="470.1" text-anchor="middle" font-size="17.8" letter-spacing="0.45">**</text>
<path d="M991 459.6V447.5H1020.7V459.6" stroke="#1a1716" stroke-width="1.7" fill="none" stroke-linejoin="round"/>
<text x="1006.1" y="450.4" text-anchor="middle" font-size="17.8" letter-spacing="0.45">**</text>
<path d="M1080.4 472.4V460.3H1110V472.4" stroke="#1a1716" stroke-width="1.7" fill="none" stroke-linejoin="round"/>
<text x="1095.4" y="463.2" text-anchor="middle" font-size="17.8" letter-spacing="0.45">**</text>
<rect x="848.9" y="410.8" width="12.9" height="10.1" fill="#2f2b29" stroke="#1a1716" stroke-width="1.2"/>
<rect x="848.9" y="428.1" width="12.9" height="10.3" fill="#838180" stroke="#1a1716" stroke-width="1.2"/>
<text x="864.5" y="419">shNC</text>
<text x="864.5" y="438">shZNF32</text>
<text x="916.3" y="698.5" text-anchor="middle">OCT4</text>
<text x="1005.6" y="698.5" text-anchor="middle">Nanog</text>
<text x="1097.3" y="698.5" text-anchor="middle">KLF4</text>
<path d="M1216.8 434.2V920.7H1697" stroke="#3a3837" stroke-width="1.6" fill="none"/>
<path d="M1210.4 445.2L1216.8 434.2L1223.2 445.2" stroke="#3a3837" stroke-width="1.6" fill="none"/>
<path d="M1686 914.3L1697 920.7L1686 927.1" stroke="#3a3837" stroke-width="1.6" fill="none"/>
<ellipse cx="1280.5" cy="600" rx="17.2" ry="28.4" fill="#dc2a1c" transform="rotate(10 1280.5 600)"/>
<ellipse cx="1283.2" cy="584.6" rx="12.4" ry="21.3" fill="#dc2a1c" transform="rotate(10 1283.2 584.6)"/>
<clipPath id="g41"><rect x="1302.6" y="499.1" width="124.4" height="138.2"/></clipPath>
<g clip-path="url(#g41)"><ellipse cx="1280.5" cy="600" rx="17.2" ry="28.4" fill="#ee7a1e" transform="rotate(10 1280.5 600)"/></g>
<path transform="scale(.5)" d="M2595 957h2m-9 40h2m4 1h2m-6 10h2m-11 11h2m11 1h2m-12 3h2m7 2h2m-9 2h2m0 1h2m-4 1h2m-2 4h2m-7 1h2m9 1h2m-6 2h2m-6 1h2m-1 3h2m-12 2h2m5 0h2m-11 6h2m12 0h2m-8 4h2m10 0h2m-9 1h2m0 0h2m-15 2h2m-7 3h2m5 0h2m5 0h2m-8 1h2m6 0h2m-27 1h2m20 0h2m9 0h2m-4 1h2m-34 2h2m22 0h2m8 0h2m-15 1h2m-5 1h2m6 1h2m-25 1h2m10 0h2m5 0h2m3 0h2m-4 1h2m4 1h2m-14 1h2m7 1h2m-13 2h2m3 0h2m-19 2h2m11 0h2m5 0h2m-17 2h2m4 0h2m-28 1h2m12 0h2m9 0h2m6 0h2m2 0h2m-13 1h2m0 1h2m-31 1h2m44 0h2m-18 1h2m1 0h2m-23 1h2m27 0h2m-26 1h2m0 0h2m-11 1h2m7 0h2m2 0h2m1 0h2m8 0h2m13 0h2m-34 1h2m16 1h2m13 0h2m-48 4h2m-7 5h2m-13 1h2m5 2h2m1 2h2m49 0h2m1 2h2m-57 1h2m-7 1h2m-1 2h2m-13 1h2m67 0h2m-86 3h2m84 0h2m-5 2h2m-84 1h2m22 0h2m56 0h2m-60 2h2m-14 2h2m-3 2h2m-1 1h2m8 0h2m61 0h2m-44 1h2m8 0h2m28 0h2m-78 2h2m10 0h2m-2 0h2m63 0h2m-70 1h2m37 0h2m0 1h2m-23 1h2m13 0h2m-49 2h2m27 0h2m28 0h2m-63 1h2m39 0h2m-47 1h2m35 1h2m4 0h2m33 1h2m6 0h2m-81 1h2m22 0h2m18 0h2m0 0h2m6 0h2m-68 1h2m0 0h2m44 0h2m-32 2h2m1 0h2m17 0h2m-21 1h2m15 0h2m-36 1h2m32 0h2m2 0h2m28 0h2m-56 1h2m20 0h2m-1 0h2m-36 1h2m9 0h2m-2 1h2m52 0h2m-39 1h2m2 0h2m35 0h2m-85 2h2m13 0h2m6 0h2m-3 1h2m12 0h2m-18 1h2m-15 1h2m5 0h2m-1 0h2m4 1h2m13 0h2m2 0h2m-30 1h2m-2 0h2m4 0h2m-2 0h2m-20 1h2m-1 0h2m92 0h2m-67 2h2m2 0h2m1 0h2m-1 0h2m-24 1h2m76 1h2m-4 1h2m-1 0h2m-7 1h2m-64 1h2m-14 2h2m17 0h2m54 1h2m3 6h2m-4 2h2m-2 1h2m1 0h2m-2 1h2m-5 1h2m-1 0h2m-1 1h2m-3 1h2m-71 6h2m67 0h2m-4 1h2m1 3h2m-1 0h2m-79 2h2m-1 1h2m0 2h2m-1 0h2m67 1h2m2 0h2m-74 1h2m-12 5h2m76 5h2m-2 1h2m-81 2h2m-2 5h2m0 0h2m-2 1h2m-1 2h2m-3 4h2m78 2h2m2 0h2m-8 5h2m-1 0h2m-81 2h2m78 0h2m-81 2h2m74 1h2m-79 3h2m74 0h2m-82 1h2m2 3h2m1 1h2m-3 2h2m-2 0h2m-1 0h2m66 0h2m-1 1h2m-78 1h2m72 2h2m-1 3h2m-69 1h2m61 1h2m8 0h2m-12 2h2m-9 3h2m-9 5h2m-40 1h2m-13 1h2m10 0h2m36 0h2m6 2h2m-40 1h2m-1 0h2m18 0h2m5 0h2m-2 0h2m-40 1h2m29 0h2m0 0h2m-23 1h2m9 0h2m4 0h2m-22 1h2m1 0h2m2 0h2m-1 0h2m-1 0h2m10 0h2m0 1h2m2 0h2m15 0h2m-19 1h2m13 0h2m-38 3h2m12 0h2m-28 1h2m15 0h2m2 0h2m25 0h2m-36 2h2m11 0h2" stroke="#f0958c" stroke-width="2" fill="none"/>
<path transform="scale(.5)" d="M2605 929h2m-13 22h2m-20 60h2m12 1h2m-8 1h2m-3 3h2m-10 2h2m6 0h2m6 6h2m2 2h2m-11 1h2m-8 2h2m3 1h2m1 0h2m2 8h2m-4 1h2m-13 1h2m8 0h2m-11 2h2m-2 4h2m1 0h2m1 1h2m16 0h2m-41 1h2m21 0h2m-9 3h2m5 0h2m0 1h2m-16 6h2m-7 3h2m30 1h2m-30 1h2m-2 3h2m-1 1h2m2 0h2m16 0h2m-25 1h2m-1 2h2m-10 1h2m6 0h2m-2 0h2m3 0h2m10 0h2m1 0h2m-23 1h2m9 0h2m0 0h2m-1 0h2m0 0h2m-13 1h2m4 0h2m14 0h2m-17 1h2m-14 1h2m9 0h2m1 0h2m-28 1h2m9 0h2m13 0h2m-9 1h2m6 0h2m-18 1h2m26 0h2m-45 1h2m16 0h2m1 0h2m-6 1h2m-1 0h2m-1 0h2m2 1h2m5 0h2m-24 1h2m8 0h2m4 0h2m-44 2h2m31 0h2m-2 0h2m-9 1h2m7 0h2m10 0h2m-26 1h2m5 0h2m8 0h2m-17 1h2m11 0h2m2 0h2m-15 1h2m-2 0h2m25 0h2m-40 1h2m0 0h2m13 0h2m19 0h2m-19 1h2m0 0h2m6 0h2m-26 1h2m1 0h2m3 0h2m4 0h2m-2 0h2m0 0h2m2 0h2m3 0h2m-27 1h2m-2 0h2m2 0h2m2 0h2m-1 0h2m-1 0h2m5 0h2m-15 1h2m0 0h2m1 0h2m6 0h2m0 0h2m9 0h2m-5 1h2m-55 1h2m27 0h2m11 0h2m-21 1h2m5 0h2m-2 0h2m-1 0h2m14 0h2m1 0h2m-1 0h2m-31 1h2m0 0h2m9 0h2m-1 0h2m-2 0h2m-1 0h2m-2 0h2m8 0h2m-2 0h2m5 0h2m-39 1h2m3 0h2m1 0h2m5 0h2m1 0h2m-15 1h2m-2 0h2m5 0h2m9 0h2m3 0h2m1 0h2m0 0h2m0 0h2m-30 1h2m-1 0h2m7 0h2m-1 0h2m9 0h2m-2 0h2m3 0h2m-23 1h2m2 0h2m-1 0h2m4 0h2m-1 0h2m-1 0h2m-1 0h2m-1 0h2m-2 0h2m9 0h2m-34 1h2m-1 0h2m7 0h2m6 0h2m-2 0h2m4 0h2m2 0h2m0 0h2m-41 1h2m-2 0h2m5 0h2m-2 0h2m7 0h2m-1 0h2m0 0h2m0 0h2m-1 0h2m-1 0h2m10 0h2m-1 0h2m-30 1h2m1 0h2m21 0h2m2 0h2m6 0h2m-61 1h2m36 0h2m6 0h2m1 0h2m4 0h2m-45 1h2m11 0h2m5 0h2m-1 0h2m6 0h2m4 0h2m0 0h2m-54 1h2m14 0h2m20 0h2m2 0h2m-1 0h2m3 0h2m4 0h2m1 0h2m-47 1h2m2 0h2m2 0h2m1 0h2m0 0h2m2 0h2m-1 0h2m-1 0h2m20 0h2m0 0h2m-28 1h2m1 0h2m4 0h2m3 0h2m9 0h2m-2 0h2m-1 0h2m-2 0h2m-39 1h2m2 0h2m1 0h2m6 0h2m-2 0h2m1 0h2m0 0h2m-1 0h2m1 0h2m9 0h2m1 0h2m-72 1h2m24 0h2m1 0h2m-1 0h2m-1 0h2m2 0h2m11 0h2m8 0h2m-1 0h2m2 0h2m2 0h2m-44 1h2m-1 0h2m5 0h2m0 0h2m-1 0h2m0 0h2m0 0h2m-2 0h2m5 0h2m2 0h2m-2 0h2m1 0h2m12 0h2m-37 1h2m-2 0h2m6 0h2m1 0h2m-1 0h2m-1 0h2m-1 0h2m-2 0h2m2 0h2m4 0h2m7 0h2m-2 0h2m-40 1h2m-1 0h2m-1 0h2m0 0h2m17 0h2m10 0h2m-1 0h2m-34 1h2m4 0h2m-2 0h2m0 0h2m-2 0h2m10 0h2m-1 0h2m2 0h2m2 0h2m-1 0h2m0 0h2m-2 0h2m6 0h2m-42 1h2m9 0h2m-1 0h2m0 0h2m-1 0h2m-2 0h2m-1 0h2m-2 0h2m-1 0h2m3 0h2m0 0h2m-1 0h2m-1 0h2m4 0h2m-2 0h2m-2 0h2m3 0h2m-50 1h2m9 0h2m5 0h2m7 0h2m6 0h2m1 0h2m1 0h2m0 0h2m6 0h2m-45 1h2m1 0h2m1 0h2m5 0h2m4 0h2m-1 0h2m0 0h2m-1 0h2m9 0h2m0 0h2m1 0h2m-43 1h2m5 0h2m0 0h2m-1 0h2m1 0h2m7 0h2m1 0h2m4 0h2m-2 0h2m2 0h2m5 0h2m-59 1h2m16 0h2m5 0h2m5 0h2m-1 0h2m27 0h2m-51 1h2m-1 0h2m1 0h2m-1 0h2m2 0h2m-1 0h2m5 0h2m-1 0h2m-1 0h2m0 0h2m-1 0h2m-2 0h2m-1 0h2m-2 0h2m2 0h2m-2 0h2m-1 0h2m-1 0h2m-2 0h2m0 0h2m2 0h2m-1 0h2m0 0h2m1 0h2m0 0h2m5 0h2m-72 1h2m12 0h2m4 0h2m0 0h2m2 0h2m1 0h2m1 0h2m-1 0h2m0 0h2m-2 0h2m4 0h2m1 0h2m-1 0h2m3 0h2m-2 0h2m0 0h2m0 0h2m0 0h2m-1 0h2m-33 1h2m1 0h2m2 0h2m1 0h2m-2 0h2m-1 0h2m-1 0h2m-2 0h2m4 0h2m3 0h2m0 0h2m0 0h2m-1 0h2m-1 0h2m1 0h2m-36 1h2m0 0h2m2 0h2m7 0h2m-1 0h2m1 0h2m8 0h2m6 0h2m-37 1h2m-1 0h2m-1 0h2m5 0h2m-1 0h2m1 0h2m-1 0h2m0 0h2m-1 0h2m0 0h2m0 0h2m-1 0h2m-2 0h2m7 0h2m-1 0h2m0 0h2m0 0h2m-47 1h2m-1 0h2m4 0h2m-2 0h2m1 0h2m8 0h2m-2 0h2m0 0h2m0 0h2m-1 0h2m-2 0h2m0 0h2m1 0h2m0 0h2m4 0h2m-1 0h2m-1 0h2m-1 0h2m1 0h2m4 0h2m-62 1h2m1 0h2m1 0h2m5 0h2m-1 0h2m0 0h2m0 0h2m13 0h2m3 0h2m12 0h2m3 0h2m-2 0h2m-1 0h2m-1 0h2m-1 0h2m0 0h2m-1 0h2m-71 1h2m16 0h2m-1 0h2m-2 0h2m3 0h2m-1 0h2m-2 0h2m-1 0h2m0 0h2m-1 0h2m-1 0h2m-2 0h2m0 0h2m-1 0h2m-2 0h2m7 0h2m-1 0h2m-1 0h2m1 0h2m-1 0h2m-2 0h2m-1 0h2m2 0h2m18 0h2m-61 1h2m1 0h2m-1 0h2m0 0h2m2 0h2m-2 0h2m2 0h2m-1 0h2m3 0h2m5 0h2m2 0h2m-1 0h2m-1 0h2m-2 0h2m2 0h2m2 0h2m-1 0h2m1 0h2m1 0h2m2 0h2m1 0h2m0 0h2m-72 1h2m-1 0h2m1 0h2m0 0h2m3 0h2m1 0h2m0 0h2m1 0h2m4 0h2m-1 0h2m-1 0h2m2 0h2m1 0h2m1 0h2m2 0h2m0 0h2m2 0h2m-1 0h2m-1 0h2m-1 0h2m-2 0h2m0 0h2m7 0h2m-1 0h2m2 0h2m1 0h2m-1 0h2m-59 1h2m-1 0h2m-1 0h2m0 0h2m1 0h2m-2 0h2m1 0h2m0 0h2m1 0h2m-2 0h2m-2 0h2m0 0h2m-1 0h2m-2 0h2m-1 0h2m6 0h2m-2 0h2m-1 0h2m2 0h2m-1 0h2m4 0h2m-1 0h2m-1 0h2m-2 0h2m-2 0h2m1 0h2m-1 0h2m1 0h2m-57 1h2m-1 0h2m3 0h2m7 0h2m4 0h2m1 0h2m2 0h2m-2 0h2m3 0h2m1 0h2m-1 0h2m-2 0h2m3 0h2m3 0h2m1 0h2m1 0h2m2 0h2m-1 0h2m-61 1h2m4 0h2m-1 0h2m3 0h2m-1 0h2m-2 0h2m0 0h2m1 0h2m-1 0h2m3 0h2m4 0h2m-1 0h2m-1 0h2m-2 0h2m0 0h2m0 0h2m0 0h2m2 0h2m0 0h2m-1 0h2m-1 0h2m-1 0h2m2 0h2m5 0h2m6 0h2m-83 1h2m14 0h2m2 0h2m-1 0h2m2 0h2m3 0h2m2 0h2m-1 0h2m-1 0h2m0 0h2m2 0h2m3 0h2m-1 0h2m0 0h2m1 0h2m-2 0h2m1 0h2m-1 0h2m0 0h2m-2 0h2m-2 0h2m-1 0h2m-1 0h2m6 0h2m0 0h2m3 0h2m-71 1h2m7 0h2m10 0h2m1 0h2m1 0h2m0 0h2m0 0h2m1 0h2m-1 0h2m4 0h2m-2 0h2m7 0h2m3 0h2m1 0h2m-1 0h2m2 0h2m-2 0h2m-1 0h2m4 0h2m-64 1h2m2 0h2m-1 0h2m-2 0h2m9 0h2m2 0h2m-2 0h2m-2 0h2m1 0h2m-1 0h2m0 0h2m-1 0h2m-2 0h2m1 0h2m-1 0h2m3 0h2m-1 0h2m0 0h2m0 0h2m-2 0h2m0 0h2m-1 0h2m-1 0h2m11 0h2m4 0h2m-83 1h2m20 0h2m-1 0h2m2 0h2m-2 0h2m1 0h2m0 0h2m-2 0h2m2 0h2m0 0h2m-1 0h2m1 0h2m0 0h2m-2 0h2m-2 0h2m-1 0h2m-1 0h2m1 0h2m-2 0h2m-2 0h2m1 0h2m-1 0h2m-1 0h2m-1 0h2m0 0h2m-1 0h2m-1 0h2m-2 0h2m4 0h2m-1 0h2m-1 0h2m5 0h2m-2 0h2m2 0h2m-70 1h2m3 0h2m-2 0h2m-1 0h2m-2 0h2m-1 0h2m0 0h2m3 0h2m2 0h2m-1 0h2m2 0h2m-1 0h2m2 0h2m0 0h2m-1 0h2m-2 0h2m-1 0h2m-1 0h2m-1 0h2m-2 0h2m-1 0h2m2 0h2m-1 0h2m-1 0h2m-2 0h2m0 0h2m-2 0h2m-2 0h2m-1 0h2m0 0h2m-2 0h2m0 0h2m5 0h2m0 0h2m-2 0h2m1 0h2m3 0h2m-1 0h2m-74 1h2m15 0h2m-2 0h2m0 0h2m9 0h2m-1 0h2m7 0h2m7 0h2m-1 0h2m-2 0h2m1 0h2m-1 0h2m9 0h2m0 0h2m-1 0h2m0 0h2m2 0h2m2 0h2m-69 1h2m-2 0h2m5 0h2m-2 0h2m-1 0h2m3 0h2m-1 0h2m-1 0h2m-2 0h2m6 0h2m0 0h2m4 0h2m-2 0h2m0 0h2m-2 0h2m-1 0h2m-2 0h2m0 0h2m-2 0h2m-1 0h2m-2 0h2m-2 0h2m1 0h2m-2 0h2m-2 0h2m-2 0h2m-1 0h2m-2 0h2m-2 0h2m2 0h2m-2 0h2m1 0h2m4 0h2m0 0h2m-2 0h2m0 0h2m-1 0h2m-1 0h2m2 0h2m-1 0h2m-74 1h2m3 0h2m7 0h2m2 0h2m3 0h2m1 0h2m1 0h2m0 0h2m-2 0h2m-2 0h2m-1 0h2m-2 0h2m0 0h2m-1 0h2m-1 0h2m-2 0h2m0 0h2m0 0h2m-1 0h2m-2 0h2m-1 0h2m-1 0h2m-2 0h2m-1 0h2m0 0h2m-1 0h2m-2 0h2m0 0h2m-2 0h2m-1 0h2m-1 0h2m3 0h2m-1 0h2m-1 0h2m2 0h2m-1 0h2m-1 0h2m0 0h2m-1 0h2m1 0h2m-1 0h2m-1 0h2m0 0h2m-1 0h2m-74 1h2m4 0h2m3 0h2m0 0h2m5 0h2m-2 0h2m0 0h2m-2 0h2m-2 0h2m0 0h2m-2 0h2m-2 0h2m-1 0h2m7 0h2m-2 0h2m-1 0h2m-2 0h2m-1 0h2m1 0h2m1 0h2m-2 0h2m-2 0h2m0 0h2m1 0h2m2 0h2m-1 0h2m6 0h2m-1 0h2m0 0h2m0 0h2m0 0h2m0 0h2m1 0h2m-1 0h2m-99 1h2m23 0h2m4 0h2m0 0h2m1 0h2m3 0h2m-1 0h2m1 0h2m0 0h2m-2 0h2m-2 0h2m-1 0h2m0 0h2m0 0h2m-1 0h2m-2 0h2m-2 0h2m0 0h2m-1 0h2m-2 0h2m-1 0h2m-2 0h2m-2 0h2m-1 0h2m-1 0h2m-2 0h2m0 0h2m-2 0h2m0 0h2m-2 0h2m1 0h2m0 0h2m-2 0h2m-1 0h2m-1 0h2m-2 0h2m-2 0h2m-2 0h2m0 0h2m-1 0h2m-1 0h2m-1 0h2m-1 0h2m-1 0h2m1 0h2m-2 0h2m-1 0h2m1 0h2m3 0h2m-1 0h2m-76 1h2m13 0h2m1 0h2m-1 0h2m7 0h2m1 0h2m0 0h2m0 0h2m0 0h2m-2 0h2m-2 0h2m1 0h2m-1 0h2m-1 0h2m-1 0h2m-1 0h2m-2 0h2m-1 0h2m-1 0h2m-1 0h2m2 0h2m-1 0h2m-1 0h2m-1 0h2m-1 0h2m-1 0h2m-1 0h2m-2 0h2m0 0h2m-1 0h2m2 0h2m4 0h2m-2 0h2m6 0h2m-86 1h2m13 0h2m7 0h2m-1 0h2m0 0h2m6 0h2m0 0h2m-1 0h2m-2 0h2m0 0h2m0 0h2m0 0h2m1 0h2m-1 0h2m-2 0h2m-1 0h2m-2 0h2m-1 0h2m-2 0h2m-1 0h2m-1 0h2m-1 0h2m-2 0h2m-1 0h2m1 0h2m0 0h2m-2 0h2m-1 0h2m-1 0h2m0 0h2m-1 0h2m-1 0h2m-2 0h2m-1 0h2m1 0h2m-2 0h2m5 0h2m-2 0h2m9 0h2m-72 1h2m5 0h2m0 0h2m-2 0h2m-2 0h2m2 0h2m2 0h2m1 0h2m1 0h2m-2 0h2m-2 0h2m0 0h2m-1 0h2m-1 0h2m-1 0h2m-2 0h2m-2 0h2m-1 0h2m-2 0h2m-2 0h2m-1 0h2m-1 0h2m0 0h2m-2 0h2m-1 0h2m-1 0h2m-1 0h2m-2 0h2m-1 0h2m-2 0h2m-1 0h2m-1 0h2m-1 0h2m-1 0h2m-2 0h2m-1 0h2m-1 0h2m-2 0h2m0 0h2m2 0h2m0 0h2m-2 0h2m3 0h2m0 0h2m1 0h2m1 0h2m2 0h2m-85 1h2m13 0h2m-1 0h2m-2 0h2m10 0h2m-1 0h2m-2 0h2m0 0h2m-1 0h2m1 0h2m-2 0h2m0 0h2m-2 0h2m1 0h2m-2 0h2m-2 0h2m-1 0h2m-2 0h2m-1 0h2m-1 0h2m-2 0h2m0 0h2m-2 0h2m-1 0h2m-2 0h2m-2 0h2m-2 0h2m-1 0h2m-2 0h2m-2 0h2m-1 0h2m-2 0h2m-2 0h2m-1 0h2m-2 0h2m-1 0h2m-2 0h2m-2 0h2m0 0h2m-1 0h2m-2 0h2m-2 0h2m-1 0h2m-2 0h2m-2 0h2m-1 0h2m-1 0h2m-2 0h2m-1 0h2m-1 0h2m2 0h2m-1 0h2m-1 0h2m0 0h2m1 0h2m-2 0h2m2 0h2m0 0h2m-1 0h2m0 0h2m-1 0h2m-2 0h2m1 0h2m-74 1h2m6 0h2m0 0h2m-1 0h2m1 0h2m2 0h2m-2 0h2m-2 0h2m-1 0h2m1 0h2m-1 0h2m-2 0h2m-2 0h2m1 0h2m-1 0h2m0 0h2m-1 0h2m-2 0h2m0 0h2m-2 0h2m-1 0h2m-2 0h2m-2 0h2m-1 0h2m-2 0h2m-1 0h2m2 0h2m-1 0h2m-2 0h2m-2 0h2m0 0h2m-2 0h2m-1 0h2m-2 0h2m-1 0h2m1 0h2m0 0h2m-2 0h2m-1 0h2m-1 0h2m1 0h2m-1 0h2m-1 0h2m0 0h2m-1 0h2m2 0h2m1 0h2m1 0h2m0 0h2m-94 1h2m32 0h2m3 0h2m0 0h2m-2 0h2m0 0h2m-1 0h2m-1 0h2m-1 0h2m-2 0h2m-2 0h2m-1 0h2m-2 0h2m-1 0h2m-1 0h2m0 0h2m-2 0h2m-1 0h2m-2 0h2m-1 0h2m1 0h2m0 0h2m1 0h2m-2 0h2m-1 0h2m-1 0h2m-1 0h2m-1 0h2m-2 0h2m-2 0h2m-2 0h2m0 0h2m-2 0h2m-2 0h2m-2 0h2m-2 0h2m1 0h2m-2 0h2m-2 0h2m-2 0h2m-1 0h2m-1 0h2m0 0h2m-2 0h2m-1 0h2m-1 0h2m2 0h2m-2 0h2m1 0h2m-1 0h2m0 0h2m-1 0h2m3 0h2m1 0h2m-77 1h2m0 0h2m-2 0h2m-1 0h2m2 0h2m7 0h2m0 0h2m1 0h2m-2 0h2m2 0h2m2 0h2m0 0h2m0 0h2m-1 0h2m-1 0h2m2 0h2m-1 0h2m0 0h2m1 0h2m1 0h2m-1 0h2m-2 0h2m0 0h2m-2 0h2m-1 0h2m-2 0h2m-1 0h2m-1 0h2m-1 0h2m0 0h2m-2 0h2m3 0h2m-1 0h2m1 0h2m0 0h2m4 0h2m-1 0h2m-2 0h2m-73 1h2m2 0h2m0 0h2m6 0h2m0 0h2m-1 0h2m4 0h2m-1 0h2m-1 0h2m-2 0h2m-2 0h2m3 0h2m-1 0h2m3 0h2m2 0h2m3 0h2m-2 0h2m-2 0h2m-1 0h2m-2 0h2m-1 0h2m-2 0h2m-1 0h2m3 0h2m0 0h2m-1 0h2m-1 0h2m-1 0h2m1 0h2m1 0h2m1 0h2m2 0h2m-2 0h2m-1 0h2m-79 1h2m2 0h2m-1 0h2m2 0h2m0 0h2m0 0h2m1 0h2m0 0h2m-1 0h2m0 0h2m-1 0h2m-1 0h2m1 0h2m-2 0h2m-2 0h2m-1 0h2m-2 0h2m-1 0h2m-1 0h2m0 0h2m-1 0h2m-2 0h2m1 0h2m-1 0h2m-1 0h2m-2 0h2m-2 0h2m-2 0h2m-1 0h2m-1 0h2m2 0h2m-1 0h2m-1 0h2m1 0h2m-2 0h2m5 0h2m0 0h2m0 0h2m-1 0h2m-1 0h2m-1 0h2m0 0h2m3 0h2m-1 0h2m1 0h2m-86 1h2m6 0h2m0 0h2m1 0h2m0 0h2m-1 0h2m3 0h2m-2 0h2m-1 0h2m-2 0h2m-2 0h2m5 0h2m-1 0h2m-1 0h2m-2 0h2m-1 0h2m1 0h2m-2 0h2m0 0h2m-2 0h2m1 0h2m2 0h2m0 0h2m2 0h2m0 0h2m-1 0h2m1 0h2m-1 0h2m-2 0h2m-2 0h2m1 0h2m-1 0h2m-2 0h2m-1 0h2m-1 0h2m-1 0h2m-2 0h2m-1 0h2m-1 0h2m-2 0h2m0 0h2m-2 0h2m0 0h2m-2 0h2m0 0h2m-2 0h2m2 0h2m-2 0h2m0 0h2m0 0h2m1 0h2m-2 0h2m-75 1h2m3 0h2m1 0h2m6 0h2m3 0h2m-2 0h2m0 0h2m-2 0h2m-2 0h2m0 0h2m-2 0h2m-2 0h2m-1 0h2m-1 0h2m-2 0h2m-1 0h2m-2 0h2m-2 0h2m0 0h2m1 0h2m1 0h2m-1 0h2m3 0h2m-1 0h2m0 0h2m-1 0h2m-1 0h2m-1 0h2m3 0h2m-1 0h2m-2 0h2m-1 0h2m-1 0h2m-2 0h2m-1 0h2m-2 0h2m2 0h2m-2 0h2m-2 0h2m0 0h2m-2 0h2m-1 0h2m-2 0h2m-1 0h2m1 0h2m-59 1h2m1 0h2m0 0h2m0 0h2m2 0h2m-1 0h2m-1 0h2m0 0h2m-2 0h2m-2 0h2m-1 0h2m-2 0h2m-2 0h2m-2 0h2m1 0h2m4 0h2m0 0h2m1 0h2m1 0h2m0 0h2m5 0h2m0 0h2m-2 0h2m-2 0h2m-1 0h2m-1 0h2m-2 0h2m-2 0h2m-1 0h2m-2 0h2m-1 0h2m-2 0h2m3 0h2m-2 0h2m2 0h2m-1 0h2m-1 0h2m1 0h2m2 0h2m-89 1h2m3 0h2m2 0h2m7 0h2m0 0h2m-1 0h2m5 0h2m0 0h2m0 0h2m-1 0h2m-2 0h2m-1 0h2m0 0h2m-2 0h2m0 0h2m6 0h2m-1 0h2m-2 0h2m-1 0h2m-2 0h2m-1 0h2m-1 0h2m-2 0h2m-2 0h2m1 0h2m3 0h2m0 0h2m-2 0h2m-1 0h2m1 0h2m-1 0h2m-1 0h2m-1 0h2m-1 0h2m-1 0h2m1 0h2m9 0h2m-78 1h2m0 0h2m8 0h2m6 0h2m-1 0h2m-1 0h2m1 0h2m-2 0h2m-1 0h2m-2 0h2m5 0h2m1 0h2m-1 0h2m-2 0h2m-1 0h2m8 0h2m-1 0h2m-1 0h2m4 0h2m-1 0h2m-2 0h2m-2 0h2m1 0h2m-2 0h2m-2 0h2m-1 0h2m-1 0h2m1 0h2m-2 0h2m-1 0h2m0 0h2m0 0h2m-1 0h2m0 0h2m-2 0h2m2 0h2m-75 1h2m0 0h2m-2 0h2m6 0h2m-1 0h2m2 0h2m0 0h2m-1 0h2m-2 0h2m2 0h2m-2 0h2m-1 0h2m0 0h2m-2 0h2m-1 0h2m2 0h2m-2 0h2m2 0h2m-1 0h2m-1 0h2m1 0h2m-1 0h2m1 0h2m-2 0h2m-1 0h2m-1 0h2m-2 0h2m2 0h2m0 0h2m3 0h2m-1 0h2m-1 0h2m-1 0h2m-1 0h2m0 0h2m-1 0h2m0 0h2m-2 0h2m-1 0h2m-1 0h2m-66 1h2m0 0h2m0 0h2m0 0h2m4 0h2m1 0h2m-1 0h2m-2 0h2m-1 0h2m-2 0h2m-1 0h2m-2 0h2m-1 0h2m-2 0h2m-1 0h2m0 0h2m3 0h2m4 0h2m6 0h2m2 0h2m-2 0h2m-1 0h2m-2 0h2m4 0h2m-2 0h2m-1 0h2m2 0h2m3 0h2m2 0h2m6 0h2m-83 1h2m12 0h2m1 0h2m0 0h2m1 0h2m0 0h2m0 0h2m-1 0h2m2 0h2m-1 0h2m0 0h2m1 0h2m1 0h2m-2 0h2m3 0h2m1 0h2m0 0h2m4 0h2m0 0h2m0 0h2m-1 0h2m-2 0h2m-2 0h2m-1 0h2m0 0h2m-2 0h2m-1 0h2m-2 0h2m-2 0h2m-1 0h2m1 0h2m5 0h2m-79 1h2m-1 0h2m16 0h2m-1 0h2m-1 0h2m-1 0h2m-1 0h2m-2 0h2m-1 0h2m-2 0h2m-2 0h2m-2 0h2m-1 0h2m-1 0h2m-1 0h2m-2 0h2m-1 0h2m1 0h2m0 0h2m-2 0h2m2 0h2m-1 0h2m1 0h2m3 0h2m2 0h2m1 0h2m-2 0h2m0 0h2m2 0h2m1 0h2m-1 0h2m-1 0h2m-1 0h2m-2 0h2m-2 0h2m-2 0h2m-1 0h2m-1 0h2m0 0h2m0 0h2m7 0h2m-81 1h2m0 0h2m2 0h2m-1 0h2m7 0h2m-1 0h2m2 0h2m-1 0h2m-1 0h2m0 0h2m8 0h2m-1 0h2m-2 0h2m-1 0h2m2 0h2m1 0h2m0 0h2m16 0h2m0 0h2m-1 0h2m-2 0h2m0 0h2m1 0h2m-2 0h2m-2 0h2m4 0h2m-72 1h2m3 0h2m-2 0h2m2 0h2m1 0h2m0 0h2m-2 0h2m-2 0h2m-2 0h2m-1 0h2m-2 0h2m-2 0h2m-2 0h2m2 0h2m0 0h2m-2 0h2m1 0h2m-2 0h2m0 0h2m-1 0h2m4 0h2m2 0h2m2 0h2m4 0h2m-2 0h2m-2 0h2m-1 0h2m2 0h2m0 0h2m-2 0h2m-1 0h2m-2 0h2m-1 0h2m-2 0h2m-2 0h2m-1 0h2m-1 0h2m-2 0h2m1 0h2m-59 1h2m2 0h2m-1 0h2m1 0h2m-1 0h2m-1 0h2m-1 0h2m5 0h2m15 0h2m5 0h2m2 0h2m2 0h2m-1 0h2m-2 0h2m-1 0h2m-2 0h2m1 0h2m0 0h2m-2 0h2m-1 0h2m0 0h2m5 0h2m-65 1h2m0 0h2m-1 0h2m1 0h2m3 0h2m14 0h2m-1 0h2m-2 0h2m0 0h2m-2 0h2m-1 0h2m6 0h2m2 0h2m2 0h2m-1 0h2m-2 0h2m-2 0h2m0 0h2m2 0h2m-62 1h2m2 0h2m4 0h2m-2 0h2m-2 0h2m15 0h2m4 0h2m2 0h2m4 0h2m2 0h2m3 0h2m-2 0h2m0 0h2m0 0h2m-54 1h2m1 0h2m-1 0h2m-1 0h2m-1 0h2m-1 0h2m19 0h2m0 0h2m-1 0h2m7 0h2m0 0h2m-1 0h2m-1 0h2m-2 0h2m4 0h2m-2 0h2m-1 0h2m-2 0h2m1 0h2m-1 0h2m-1 0h2m2 0h2m-63 1h2m-1 0h2m1 0h2m-2 0h2m-1 0h2m-1 0h2m21 0h2m6 0h2m-2 0h2m-1 0h2m0 0h2m8 0h2m0 0h2m-1 0h2m1 0h2m-2 0h2m-1 0h2m0 0h2m2 0h2m0 0h2m0 0h2m-74 1h2m7 0h2m30 0h2m2 0h2m0 0h2m-2 0h2m-2 0h2m2 0h2m-1 0h2m-1 0h2m-1 0h2m-2 0h2m1 0h2m-1 0h2m-2 0h2m-2 0h2m-1 0h2m9 0h2m-1 0h2m-68 1h2m-1 0h2m2 0h2m-1 0h2m-2 0h2m37 0h2m5 0h2m-1 0h2m-2 0h2m-1 0h2m-2 0h2m-1 0h2m-2 0h2m-2 0h2m10 0h2m-74 1h2m5 0h2m-1 0h2m-1 0h2m-1 0h2m37 0h2m5 0h2m0 0h2m-1 0h2m-2 0h2m0 0h2m7 0h2m-67 1h2m0 0h2m-1 0h2m0 0h2m46 0h2m-2 0h2m1 0h2m0 0h2m5 0h2m-72 1h2m2 0h2m0 0h2m0 0h2m-1 0h2m-1 0h2m46 0h2m-1 0h2m-1 0h2m-1 0h2m-1 0h2m-1 0h2m4 0h2m-63 1h2m-1 0h2m-15 1h2m3 0h2m5 0h2m-2 0h2m49 0h2m-1 0h2m-64 1h2m5 0h2m-1 0h2m-1 0h2m0 0h2m47 0h2m-2 0h2m3 0h2m-66 1h2m1 0h2m-2 0h2m2 0h2m-2 0h2m52 0h2m-1 0h2m-2 0h2m0 0h2m-60 1h2m52 0h2m-1 0h2m0 0h2m-57 1h2m49 0h2m-1 0h2m-1 0h2m-2 0h2m-57 1h2m-1 0h2m-1 0h2m54 0h2m-2 0h2m-1 0h2m-67 1h2m1 0h2m-1 0h2m-1 0h2m-1 0h2m-2 0h2m-1 0h2m-2 0h2m51 0h2m-2 0h2m-58 1h2m1 0h2m-2 0h2m53 0h2m-62 1h2m0 0h2m-1 0h2m-1 0h2m-1 0h2m51 0h2m-2 0h2m1 0h2m3 0h2m-74 1h2m6 0h2m-1 0h2m-1 0h2m-2 0h2m-1 0h2m-2 0h2m51 0h2m0 0h2m-2 0h2m-1 0h2m-2 0h2m4 0h2m-69 1h2m0 0h2m-1 0h2m-2 0h2m-2 0h2m-2 0h2m-1 0h2m-2 0h2m52 0h2m-2 0h2m-1 0h2m-1 0h2m-63 1h2m2 0h2m53 0h2m-2 0h2m-2 0h2m0 0h2m-2 0h2m-1 0h2m4 0h2m-71 1h2m-2 0h2m1 0h2m-1 0h2m0 0h2m51 0h2m-1 0h2m1 0h2m0 0h2m-1 0h2m-1 0h2m-67 1h2m-2 0h2m1 0h2m-1 0h2m52 0h2m-1 0h2m-1 0h2m-2 0h2m-2 0h2m-1 0h2m0 0h2m5 0h2m-74 1h2m0 0h2m1 0h2m52 0h2m-2 0h2m0 0h2m-1 0h2m0 0h2m1 0h2m-70 1h2m0 0h2m-2 0h2m-2 0h2m-2 0h2m-1 0h2m0 0h2m54 0h2m-1 0h2m-1 0h2m-66 1h2m2 0h2m1 0h2m-2 0h2m55 0h2m1 0h2m-69 1h2m0 0h2m1 0h2m-2 0h2m-1 0h2m-2 0h2m-2 0h2m-1 0h2m53 0h2m-2 0h2m-1 0h2m-79 1h2m13 0h2m58 0h2m-1 0h2m-2 0h2m-1 0h2m-70 1h2m3 0h2m0 0h2m1 0h2m-2 0h2m55 0h2m-2 0h2m0 0h2m1 0h2m-1 0h2m-72 1h2m-1 0h2m-2 0h2m5 0h2m55 0h2m-2 0h2m-1 0h2m-67 1h2m-1 0h2m-1 0h2m-2 0h2m59 0h2m1 0h2m-73 1h2m2 0h2m-1 0h2m61 0h2m-1 0h2m-1 0h2m7 0h2m-78 1h2m0 0h2m-2 0h2m-2 0h2m-1 0h2m-1 0h2m58 0h2m3 0h2m-70 1h2m61 0h2m-2 0h2m-2 0h2m0 0h2m-1 0h2m-72 1h2m-1 0h2m-1 0h2m1 0h2m-1 0h2m59 0h2m-1 0h2m-2 0h2m0 0h2m-74 1h2m2 0h2m0 0h2m-2 0h2m-2 0h2m-1 0h2m-1 0h2m58 0h2m-1 0h2m-1 0h2m-2 0h2m2 0h2m-71 1h2m1 0h2m-2 0h2m-2 0h2m60 0h2m-1 0h2m-1 0h2m-70 1h2m-1 0h2m0 0h2m-1 0h2m-9 1h2m1 0h2m2 0h2m59 0h2m-1 0h2m-1 0h2m-2 0h2m-2 0h2m1 0h2m-82 1h2m0 0h2m0 0h2m4 0h2m63 0h2m-1 0h2m-2 0h2m2 0h2m-2 0h2m-71 1h2m66 0h2m-2 0h2m-2 0h2m0 0h2m-71 1h2m66 0h2m2 0h2m-76 1h2m1 0h2m64 0h2m-1 0h2m-2 0h2m-1 0h2m4 0h2m-82 1h2m2 0h2m-1 0h2m0 0h2m63 0h2m3 0h2m-79 1h2m-1 0h2m0 0h2m1 0h2m-1 0h2m63 0h2m1 0h2m0 0h2m-81 1h2m4 0h2m-1 0h2m64 0h2m-2 0h2m-2 0h2m-1 0h2m-1 0h2m-1 0h2m-1 0h2m3 0h2m-82 1h2m4 0h2m-10 1h2m2 0h2m-2 0h2m0 0h2m-2 0h2m65 0h2m-2 0h2m-2 0h2m3 0h2m-85 1h2m10 0h2m-1 0h2m-1 0h2m-2 0h2m-2 0h2m62 0h2m-2 0h2m-2 0h2m-2 0h2m-1 0h2m-1 0h2m-2 0h2m-1 0h2m0 0h2m-84 1h2m7 0h2m1 0h2m-1 0h2m-2 0h2m61 0h2m-1 0h2m-71 1h2m2 0h2m-1 0h2m60 0h2m0 0h2m-2 0h2m3 0h2m-74 1h2m-1 0h2m0 0h2m60 0h2m-1 0h2m8 0h2m-80 1h2m-1 0h2m2 0h2m59 0h2m-1 0h2m-1 0h2m-1 0h2m2 0h2m-69 1h2m58 0h2m1 0h2m-1 0h2m-70 1h2m0 0h2m0 0h2m58 0h2m-2 0h2m-2 0h2m2 0h2m-2 0h2m-1 0h2m6 0h2m-87 1h2m3 0h2m65 0h2m7 0h2m-78 1h2m-1 0h2m3 0h2m-2 0h2m-1 0h2m60 0h2m-2 0h2m-1 0h2m-78 1h2m72 0h2m-1 0h2m1 0h2m-1 0h2m5 0h2m-78 1h2m-1 0h2m-1 0h2m58 0h2m-64 1h2m-1 0h2m-2 0h2m-2 0h2m-1 0h2m-1 0h2m-2 0h2m-2 0h2m60 0h2m-1 0h2m-2 0h2m-73 1h2m0 0h2m-1 0h2m2 0h2m-2 0h2m-2 0h2m-1 0h2m-1 0h2m54 0h2m-1 0h2m1 0h2m-1 0h2m-66 1h2m-2 0h2m0 0h2m55 0h2m-1 0h2m-2 0h2m0 0h2m-2 0h2m-75 1h2m7 0h2m0 0h2m57 0h2m0 0h2m-62 1h2m-2 0h2m1 0h2m-2 0h2m55 0h2m3 0h2m-73 1h2m3 0h2m0 0h2m-1 0h2m53 0h2m1 0h2m-2 0h2m-2 0h2m-1 0h2m-66 1h2m0 0h2m1 0h2m-2 0h2m56 0h2m2 0h2m6 0h2m-79 1h2m3 0h2m1 0h2m51 0h2m-1 0h2m7 0h2m-67 1h2m-1 0h2m-2 0h2m-1 0h2m-2 0h2m50 0h2m2 0h2m-64 1h2m-1 0h2m54 0h2m1 0h2m-2 0h2m-1 0h2m-2 0h2m-78 1h2m14 0h2m-2 0h2m1 0h2m-2 0h2m0 0h2m-1 0h2m-2 0h2m-2 0h2m-1 0h2m48 0h2m-2 0h2m-1 0h2m-1 0h2m0 0h2m-63 1h2m3 0h2m-1 0h2m-2 0h2m-2 0h2m-1 0h2m47 0h2m-58 1h2m-1 0h2m4 0h2m48 0h2m-2 0h2m-1 0h2m2 0h2m-63 1h2m2 0h2m-1 0h2m0 0h2m44 0h2m1 0h2m1 0h2m-1 0h2m-62 1h2m2 0h2m1 0h2m-2 0h2m-1 0h2m42 0h2m-1 0h2m-2 0h2m2 0h2m-56 1h2m-2 0h2m0 0h2m0 0h2m-2 0h2m-1 0h2m42 0h2m-1 0h2m-2 0h2m-1 0h2m8 0h2m-67 1h2m0 0h2m-1 0h2m1 0h2m1 0h2m-2 0h2m-2 0h2m-1 0h2m-2 0h2m39 0h2m-1 0h2m0 0h2m-1 0h2m-2 0h2m-1 0h2m-2 0h2m-2 0h2m-1 0h2m-2 0h2m-52 1h2m-2 0h2m-1 0h2m-2 0h2m-1 0h2m-1 0h2m40 0h2m-2 0h2m8 0h2m-62 1h2m2 0h2m1 0h2m-2 0h2m-1 0h2m-2 0h2m-2 0h2m-1 0h2m-2 0h2m37 0h2m2 0h2m-2 0h2m-1 0h2m-1 0h2m7 0h2m-64 1h2m0 0h2m1 0h2m1 0h2m36 0h2m-49 1h2m0 0h2m-2 0h2m-1 0h2m1 0h2m-2 0h2m-2 0h2m0 0h2m-1 0h2m0 0h2m-1 0h2m31 0h2m-2 0h2m-1 0h2m-2 0h2m1 0h2m-1 0h2m0 0h2m-2 0h2m1 0h2m3 0h2m-52 1h2m0 0h2m30 0h2m-2 0h2m-2 0h2m0 0h2m3 0h2m1 0h2m-55 1h2m2 0h2m1 0h2m-1 0h2m0 0h2m-2 0h2m29 0h2m-2 0h2m-1 0h2m2 0h2m-1 0h2m-55 1h2m4 0h2m4 0h2m1 0h2m1 0h2m0 0h2m23 0h2m-2 0h2m-1 0h2m-2 0h2m0 0h2m3 0h2m1 0h2m-61 1h2m2 0h2m8 0h2m-1 0h2m1 0h2m-1 0h2m-2 0h2m2 0h2m-2 0h2m22 0h2m-1 0h2m-1 0h2m-2 0h2m-1 0h2m-1 0h2m0 0h2m-2 0h2m3 0h2m13 0h2m-60 1h2m-1 0h2m-1 0h2m1 0h2m-1 0h2m-2 0h2m1 0h2m19 0h2m-1 0h2m-2 0h2m1 0h2m-1 0h2m-2 0h2m3 0h2m1 0h2m-1 0h2m-49 1h2m2 0h2m-1 0h2m-1 0h2m0 0h2m-1 0h2m-1 0h2m0 0h2m-1 0h2m-1 0h2m-1 0h2m-1 0h2m13 0h2m2 0h2m3 0h2m1 0h2m-2 0h2m-1 0h2m0 0h2m8 0h2m-56 1h2m2 0h2m-1 0h2m-1 0h2m-2 0h2m-2 0h2m0 0h2m-1 0h2m-1 0h2m4 0h2m-2 0h2m-1 0h2m-1 0h2m-2 0h2m-2 0h2m-1 0h2m2 0h2m0 0h2m-1 0h2m-1 0h2m-1 0h2m0 0h2m8 0h2m-40 1h2m2 0h2m-1 0h2m0 0h2m-2 0h2m2 0h2m2 0h2m-1 0h2m-2 0h2m-2 0h2m-1 0h2m-2 0h2m3 0h2m0 0h2m2 0h2m-2 0h2m-1 0h2m0 0h2m1 0h2m-2 0h2m6 0h2m-47 1h2m0 0h2m2 0h2m2 0h2m3 0h2m3 0h2m-1 0h2m-2 0h2m5 0h2m2 0h2m-1 0h2m-2 0h2m-2 0h2m-1 0h2m5 0h2m2 0h2m-2 0h2m1 0h2m1 0h2m-40 1h2m-1 0h2m0 0h2m-1 0h2m-2 0h2m1 0h2m-2 0h2m1 0h2m-2 0h2m-1 0h2m1 0h2m-1 0h2m-1 0h2m1 0h2m-1 0h2m6 0h2m-2 0h2m-40 1h2m2 0h2m-1 0h2m0 0h2m0 0h2m0 0h2m-1 0h2m-1 0h2m-2 0h2m-1 0h2m-1 0h2m0 0h2m-2 0h2m0 0h2m0 0h2m4 0h2m2 0h2m4 0h2m-37 1h2m11 0h2m0 0h2m-2 0h2m-1 0h2m2 0h2m-1 0h2m-1 0h2m-1 0h2m1 0h2m0 0h2m-1 0h2m-1 0h2m1 0h2m-33 1h2m-2 0h2m-2 0h2m1 0h2m1 0h2m-2 0h2m0 0h2m5 0h2m-1 0h2m-2 0h2m0 0h2m-1 0h2m2 0h2m3 0h2m5 0h2m16 0h2m-60 1h2m5 0h2m6 0h2m-1 0h2m0 0h2m0 0h2m0 0h2m0 0h2m-2 0h2m4 0h2m-1 0h2m-27 1h2m3 0h2m-2 0h2m2 0h2m0 0h2m0 0h2m3 0h2m-1 0h2m-1 0h2m6 0h2m1 0h2m-27 1h2m1 0h2m6 0h2m-2 0h2m0 0h2m-2 0h2m-1 0h2m-36 1h2m31 0h2m0 0h2m3 0h2m-26 1h2m0 0h2m4 0h2m1 0h2m16 0h2m-1 0h2m-23 1h2m4 0h2m-1 0h2m11 0h2m-23 1h2m-16 2h2m-4 1h2m17 2h2m-6 1h2m-32 2h2m14 0h2m7 0h2m10 1h2" stroke="#dc2a1c" stroke-width="2.2" fill="none"/>
<path transform="scale(.5)" d="M2604 1098h2m8 1h2m-8 1h2m-3 4h2m-4 7h2m-2 19h2m12 0h2m4 1h2m4 1h2m-20 2h2m-7 1h2m-4 6h2m13 0h2m-16 1h2m2 1h2m-6 1h2m16 0h2m-21 1h2m2 0h2m0 2h2m3 1h2m0 0h2m1 0h2m-6 1h2m-15 1h2m3 0h2m1 0h2m-5 4h2m-3 1h2m-6 1h2m8 0h2m-11 1h2m6 2h2m6 0h2m-15 1h2m8 3h2m1 0h2m-13 1h2m-8 3h2m4 0h2m-1 0h2m-2 0h2m-6 1h2m-4 1h2m12 0h2m17 0h2m-33 1h2m2 1h2m17 0h2m-25 1h2m13 0h2m-15 1h2m-3 28h2" stroke="#f8c08a" stroke-width="2" fill="none"/>
<path transform="scale(.5)" d="M2604 1093h2m-2 13h2m2 2h2m-6 2h2m3 2h2m-2 2h2m8 0h2m-16 2h2m6 5h2m-4 2h2m-3 1h2m1 1h2m1 6h2m-10 3h2m1 3h2m-5 6h2m19 0h2m-26 1h2m0 0h2m6 0h2m6 0h2m-8 1h2m-4 1h2m9 1h2m1 0h2m-24 1h2m0 0h2m2 1h2m-6 1h2m12 1h2m-16 1h2m-4 1h2m5 0h2m-4 1h2m12 0h2m-19 1h2m10 0h2m-1 0h2m-5 1h2m-12 2h2m4 0h2m8 2h2m-14 1h2m10 1h2m-19 1h2m8 0h2m-7 1h2m11 1h2m-12 1h2m-12 1h2m9 0h2m7 0h2m-6 1h2m6 0h2m-24 2h2m10 0h2m-16 1h2m-3 2h2m4 0h2m6 0h2m-7 1h2m9 0h2m4 1h2m4 0h2m-5 2h2m-30 1h2m-2 0h2m-1 2h2m-4 31h2" stroke="#ee7a1e" stroke-width="2.2" fill="none"/>
<path d="M1302.6 637.3V499.1H1427" stroke="#f9c195" stroke-width="1.5" fill="none"/>
<path d="M1427 499.1V637.3H1302.6" stroke="#ee842c" stroke-width="1.8" fill="none"/>
<rect x="1249" y="442.3" width="197.6" height="196.6" fill="none" stroke="#8a8887" stroke-width="1.5"/>
<path d="M1249 442.3V638.9H1446.6" stroke="#4f4d4c" stroke-width="1.6" fill="none"/>
<path d="M1249 638.9h-5.5M1249 623.1h-3M1249 607.2h-3M1249 591.4h-3M1249 575.5h-3M1249 559.7h-5.5M1249 543.9h-3M1249 528h-3M1249 512.2h-3M1249 496.3h-3M1249 480.5h-5.5M1249 464.7h-3M1249 448.8h-3M1255 638.9v3M1263 638.9v3M1269.6 638.9v5M1277.6 638.9v3M1285.6 638.9v3M1297.6 638.9v3M1307.3 638.9v3M1314.2 638.9v3M1319.6 638.9v3M1324 638.9v3M1327.6 638.9v3M1330.9 638.9v3M1333.7 638.9v3M1336.2 638.9v5M1352.8 638.9v3M1362.5 638.9v3M1369.4 638.9v3M1374.8 638.9v3M1379.2 638.9v3M1382.8 638.9v3M1386.1 638.9v3M1388.9 638.9v3M1391.4 638.9v5M1408 638.9v3M1417.7 638.9v3M1424.6 638.9v3M1430 638.9v3M1434.4 638.9v3M1438 638.9v3M1441.3 638.9v3M1444.1 638.9v3M1446.1 638.9v5" stroke="#2e2c2b" stroke-width="1.3" fill="none"/>
<text x="1269.6" y="657.4" text-anchor="middle">0</text>
<text x="1336.2" y="657.4" text-anchor="middle">10<tspan dy="-5.5" font-size="10.5">4</tspan></text>
<text x="1393.8" y="657.4" text-anchor="middle">10<tspan dy="-5.5" font-size="10.5">5</tspan></text>
<text x="1444.8" y="657.4" text-anchor="middle">10<tspan dy="-5.5" font-size="10.5">6</tspan></text>
<text text-anchor="middle" transform="translate(1240 638.9) rotate(-90)">0</text>
<text text-anchor="middle" transform="translate(1240 559.7) rotate(-90)">200</text>
<text text-anchor="middle" transform="translate(1240 480.5) rotate(-90)">400</text>
<ellipse cx="1506.5" cy="597.5" rx="14.4" ry="32.1" fill="#dc2a1c" transform="rotate(9 1506.5 597.5)"/>
<ellipse cx="1509.3" cy="580.1" rx="10.4" ry="24.1" fill="#dc2a1c" transform="rotate(9 1509.3 580.1)"/>
<clipPath id="g42"><rect x="1530.6" y="499.1" width="124.1" height="138.2"/></clipPath>
<g clip-path="url(#g42)"><ellipse cx="1506.5" cy="597.5" rx="14.4" ry="32.1" fill="#ee7a1e" transform="rotate(9 1506.5 597.5)"/></g>
<path transform="scale(.5)" d="M3044 938h2m2 62h2m-11 1h2m5 12h2m-23 10h2m5 2h2m9 0h2m-2 3h2m2 2h2m-9 1h2m-8 6h2m-8 1h2m4 1h2m10 0h2m-15 2h2m-10 1h2m14 0h2m-7 1h2m-7 1h2m3 0h2m2 0h2m4 0h2m-25 1h2m7 0h2m-2 1h2m0 0h2m-14 3h2m9 1h2m4 0h2m0 1h2m-11 1h2m-1 1h2m-5 2h2m-5 1h2m1 0h2m-16 1h2m21 3h2m-14 2h2m8 0h2m-13 1h2m3 0h2m4 0h2m9 0h2m-20 1h2m8 0h2m-16 1h2m-2 0h2m11 0h2m-15 2h2m0 0h2m11 0h2m-26 1h2m0 0h2m8 0h2m-10 2h2m6 0h2m0 0h2m-11 1h2m-8 1h2m12 0h2m0 0h2m-8 1h2m13 1h2m-8 1h2m8 0h2m-35 1h2m20 0h2m1 1h2m-27 1h2m-6 4h2m2 0h2m-13 11h2m0 0h2m2 3h2m-9 4h2m46 1h2m3 0h2m3 0h2m-10 2h2m-4 1h2m-1 0h2m-29 1h2m28 0h2m-74 2h2m14 0h2m52 0h2m-1 0h2m-53 1h2m55 1h2m-69 1h2m-20 1h2m51 1h2m3 0h2m-39 2h2m-25 1h2m69 0h2m5 0h2m-56 1h2m15 0h2m-20 1h2m48 0h2m13 0h2m-21 1h2m-59 1h2m34 0h2m19 0h2m15 0h2m-44 1h2m33 0h2m1 0h2m-1 0h2m-59 1h2m23 0h2m7 0h2m-31 1h2m5 0h2m20 0h2m-1 0h2m-44 1h2m4 0h2m38 0h2m1 0h2m-52 1h2m-15 1h2m13 0h2m-2 0h2m2 0h2m-7 1h2m-2 0h2m44 0h2m-59 1h2m9 0h2m19 0h2m-1 0h2m38 0h2m-82 2h2m35 0h2m43 0h2m-82 1h2m3 0h2m66 0h2m-8 1h2m1 0h2m7 1h2m-83 1h2m7 0h2m4 0h2m1 0h2m46 0h2m6 0h2m4 0h2m-76 1h2m0 0h2m22 1h2m-2 0h2m50 1h2m-89 1h2m3 0h2m67 1h2m11 0h2m-82 1h2m62 0h2m12 0h2m-71 1h2m0 0h2m-21 1h2m6 0h2m1 0h2m20 0h2m41 0h2m0 0h2m8 0h2m1 0h2m-79 1h2m-6 1h2m-1 1h2m1 0h2m74 0h2m-95 1h2m20 0h2m-10 1h2m1 0h2m14 0h2m43 0h2m-1 0h2m-67 1h2m74 1h2m-79 1h2m68 0h2m7 0h2m-1 0h2m-87 2h2m20 1h2m61 1h2m-91 1h2m87 0h2m0 1h2m-3 1h2m-1 0h2m-18 1h2m-2 0h2m0 0h2m12 0h2m-71 1h2m1 0h2m54 0h2m6 0h2m-71 1h2m3 0h2m48 0h2m-1 0h2m-3 2h2m0 1h2m-4 1h2m-1 1h2m-2 1h2m-58 1h2m53 1h2m4 0h2m-6 2h2m-64 1h2m66 0h2m-9 6h2m-2 2h2m-62 1h2m58 6h2m-3 1h2m-63 2h2m-5 1h2m4 0h2m59 1h2m-71 1h2m-1 0h2m63 3h2m-69 1h2m-2 2h2m67 0h2m2 4h2m0 0h2m-4 1h2m-6 2h2m-75 8h2m74 1h2m-72 6h2m62 0h2m0 0h2m-3 1h2m-72 1h2m67 0h2m-66 7h2m-2 1h2m60 2h2m-69 2h2m63 0h2m-2 0h2m-3 1h2m-73 3h2m81 0h2m1 1h2m-19 1h2m-56 3h2m-5 2h2m53 1h2m-2 2h2m-55 1h2m-4 2h2m1 1h2m46 0h2m-2 0h2m-1 1h2m-4 1h2m-55 2h2m9 0h2m-21 5h2m64 0h2m-11 1h2m-37 2h2m36 0h2m-6 1h2m-7 2h2m-25 1h2m0 0h2m-1 0h2m7 1h2m-24 1h2m14 0h2m-5 1h2m12 0h2m7 0h2m-22 1h2m-15 1h2m6 0h2m20 2h2" stroke="#f0958c" stroke-width="2" fill="none"/>
<path transform="scale(.5)" d="M3047 950h2m-11 67h2m-3 1h2m2 1h2m-5 4h2m-8 1h2m11 1h2m-15 1h2m3 0h2m8 1h2m-6 7h2m-8 2h2m-5 1h2m19 2h2m-25 4h2m0 0h2m0 1h2m-1 0h2m-18 6h2m7 0h2m-10 2h2m-2 2h2m16 0h2m-14 2h2m-5 1h2m0 0h2m4 0h2m-15 2h2m16 0h2m-7 2h2m1 0h2m0 0h2m-14 2h2m-12 1h2m7 0h2m6 0h2m1 0h2m-1 0h2m-26 1h2m17 1h2m0 0h2m-1 0h2m-10 1h2m3 1h2m-14 1h2m11 0h2m7 1h2m-38 1h2m18 0h2m9 0h2m-20 1h2m16 1h2m-8 1h2m-1 1h2m-14 1h2m1 0h2m-1 0h2m6 0h2m-4 1h2m-28 1h2m12 0h2m1 0h2m2 0h2m6 0h2m6 0h2m-34 1h2m6 0h2m8 0h2m-1 0h2m3 0h2m-4 1h2m2 0h2m-1 0h2m-16 1h2m1 0h2m-1 0h2m-2 0h2m-1 0h2m2 0h2m2 0h2m1 0h2m0 0h2m-21 1h2m-2 1h2m0 0h2m0 0h2m0 0h2m0 0h2m-2 0h2m-1 0h2m1 0h2m-1 0h2m-1 0h2m-2 0h2m4 0h2m-2 0h2m-29 1h2m6 0h2m-2 0h2m-1 0h2m0 0h2m-1 0h2m4 0h2m4 0h2m-27 1h2m9 0h2m-1 0h2m0 0h2m-1 0h2m2 0h2m2 0h2m0 0h2m3 0h2m-31 1h2m8 0h2m3 0h2m4 0h2m0 0h2m-1 0h2m-21 1h2m-1 0h2m3 0h2m0 0h2m6 0h2m6 0h2m0 0h2m-37 1h2m4 0h2m6 0h2m-2 0h2m3 0h2m-2 0h2m-1 0h2m2 0h2m1 0h2m-32 1h2m11 0h2m3 0h2m11 0h2m-2 0h2m2 0h2m-31 1h2m2 0h2m4 0h2m0 0h2m1 0h2m-2 0h2m-2 0h2m6 0h2m-25 1h2m2 0h2m1 0h2m-2 0h2m1 0h2m1 0h2m-2 0h2m1 0h2m3 0h2m-2 0h2m-24 1h2m-2 0h2m4 0h2m3 0h2m1 0h2m11 0h2m1 0h2m-42 1h2m6 0h2m-2 0h2m9 0h2m-1 0h2m5 0h2m-1 0h2m2 0h2m2 0h2m-2 0h2m3 0h2m-46 1h2m7 0h2m6 0h2m-2 0h2m5 0h2m0 0h2m5 0h2m0 0h2m0 0h2m0 0h2m18 0h2m-61 1h2m5 0h2m12 0h2m5 0h2m-1 0h2m5 0h2m3 0h2m-29 1h2m-1 0h2m2 0h2m-1 0h2m1 0h2m4 0h2m1 0h2m4 0h2m3 0h2m-32 1h2m4 0h2m0 0h2m-1 0h2m-2 0h2m0 0h2m0 0h2m-2 0h2m3 0h2m1 0h2m1 0h2m7 0h2m-59 1h2m5 0h2m22 0h2m6 0h2m-1 0h2m4 0h2m5 0h2m4 0h2m0 0h2m-33 1h2m-2 0h2m-1 0h2m-1 0h2m1 0h2m3 0h2m-1 0h2m2 0h2m2 0h2m-2 0h2m-2 0h2m-1 0h2m9 0h2m-42 1h2m0 0h2m0 0h2m-2 0h2m0 0h2m-2 0h2m-1 0h2m-2 0h2m1 0h2m2 0h2m1 0h2m1 0h2m22 0h2m-58 1h2m5 0h2m5 0h2m0 0h2m-2 0h2m-1 0h2m4 0h2m-1 0h2m0 0h2m0 0h2m-1 0h2m-2 0h2m3 0h2m-1 0h2m6 0h2m0 0h2m-1 0h2m1 0h2m-42 1h2m3 0h2m-2 0h2m0 0h2m1 0h2m-1 0h2m17 0h2m-2 0h2m1 0h2m-37 1h2m-2 0h2m4 0h2m11 0h2m1 0h2m3 0h2m12 0h2m-2 0h2m-37 1h2m7 0h2m5 0h2m-1 0h2m-1 0h2m2 0h2m4 0h2m-1 0h2m2 0h2m-1 0h2m-1 0h2m-62 1h2m33 0h2m2 0h2m-2 0h2m-1 0h2m2 0h2m0 0h2m-1 0h2m5 0h2m4 0h2m-43 1h2m4 0h2m2 0h2m1 0h2m-1 0h2m-2 0h2m-1 0h2m1 0h2m2 0h2m11 0h2m0 0h2m-40 1h2m6 0h2m5 0h2m-1 0h2m-1 0h2m4 0h2m1 0h2m-1 0h2m-1 0h2m0 0h2m-1 0h2m-2 0h2m-1 0h2m2 0h2m3 0h2m-2 0h2m-41 1h2m1 0h2m0 0h2m0 0h2m-1 0h2m2 0h2m0 0h2m-1 0h2m4 0h2m2 0h2m8 0h2m-62 1h2m11 0h2m2 0h2m15 0h2m11 0h2m-1 0h2m6 0h2m0 0h2m0 0h2m3 0h2m-46 1h2m2 0h2m6 0h2m-1 0h2m1 0h2m-1 0h2m8 0h2m-1 0h2m-1 0h2m6 0h2m-1 0h2m-28 1h2m0 0h2m-1 0h2m-2 0h2m-1 0h2m-1 0h2m5 0h2m2 0h2m-2 0h2m-2 0h2m4 0h2m-2 0h2m2 0h2m5 0h2m2 0h2m-1 0h2m-70 1h2m10 0h2m3 0h2m0 0h2m4 0h2m0 0h2m-1 0h2m0 0h2m1 0h2m3 0h2m-2 0h2m-1 0h2m-2 0h2m0 0h2m0 0h2m-2 0h2m-2 0h2m-1 0h2m0 0h2m-2 0h2m3 0h2m0 0h2m-1 0h2m-2 0h2m3 0h2m10 0h2m-52 1h2m4 0h2m6 0h2m-1 0h2m1 0h2m0 0h2m-1 0h2m1 0h2m-2 0h2m7 0h2m1 0h2m-2 0h2m-1 0h2m17 0h2m-60 1h2m4 0h2m1 0h2m3 0h2m1 0h2m-2 0h2m0 0h2m-1 0h2m-2 0h2m0 0h2m1 0h2m-2 0h2m-1 0h2m3 0h2m0 0h2m-1 0h2m2 0h2m1 0h2m11 0h2m-61 1h2m5 0h2m-1 0h2m-2 0h2m-2 0h2m5 0h2m-1 0h2m1 0h2m-1 0h2m7 0h2m1 0h2m0 0h2m2 0h2m-2 0h2m0 0h2m-1 0h2m-1 0h2m-41 1h2m4 0h2m0 0h2m4 0h2m1 0h2m-2 0h2m-1 0h2m-1 0h2m0 0h2m-1 0h2m7 0h2m-1 0h2m-1 0h2m1 0h2m-1 0h2m-36 1h2m-2 0h2m7 0h2m2 0h2m-1 0h2m-2 0h2m3 0h2m5 0h2m2 0h2m3 0h2m3 0h2m-41 1h2m8 0h2m0 0h2m1 0h2m-1 0h2m-1 0h2m-2 0h2m1 0h2m0 0h2m3 0h2m5 0h2m-2 0h2m0 0h2m0 0h2m0 0h2m0 0h2m-46 1h2m2 0h2m-1 0h2m0 0h2m3 0h2m1 0h2m-1 0h2m0 0h2m0 0h2m-1 0h2m-1 0h2m-1 0h2m-2 0h2m-1 0h2m-1 0h2m4 0h2m3 0h2m4 0h2m-63 1h2m12 0h2m-2 0h2m1 0h2m4 0h2m1 0h2m-2 0h2m-1 0h2m-1 0h2m1 0h2m-1 0h2m-2 0h2m2 0h2m0 0h2m1 0h2m-1 0h2m0 0h2m-1 0h2m-2 0h2m-1 0h2m0 0h2m-1 0h2m0 0h2m9 0h2m-74 1h2m22 0h2m0 0h2m5 0h2m-1 0h2m4 0h2m-2 0h2m0 0h2m2 0h2m4 0h2m0 0h2m0 0h2m1 0h2m-1 0h2m3 0h2m0 0h2m6 0h2m0 0h2m-55 1h2m8 0h2m2 0h2m-1 0h2m-2 0h2m-1 0h2m-2 0h2m1 0h2m0 0h2m0 0h2m5 0h2m-1 0h2m2 0h2m-1 0h2m0 0h2m-1 0h2m-1 0h2m-39 1h2m4 0h2m-2 0h2m1 0h2m4 0h2m-1 0h2m0 0h2m-2 0h2m-1 0h2m-1 0h2m-2 0h2m4 0h2m-1 0h2m1 0h2m-1 0h2m6 0h2m-43 1h2m1 0h2m2 0h2m0 0h2m1 0h2m-1 0h2m-1 0h2m1 0h2m-1 0h2m-1 0h2m-2 0h2m-1 0h2m0 0h2m0 0h2m-1 0h2m-1 0h2m0 0h2m-1 0h2m0 0h2m0 0h2m-1 0h2m2 0h2m2 0h2m1 0h2m-2 0h2m-64 1h2m15 0h2m-1 0h2m-1 0h2m5 0h2m-1 0h2m2 0h2m-2 0h2m-1 0h2m-2 0h2m-2 0h2m-2 0h2m0 0h2m-2 0h2m-2 0h2m-1 0h2m-1 0h2m-1 0h2m-1 0h2m-2 0h2m0 0h2m1 0h2m-1 0h2m-1 0h2m0 0h2m-1 0h2m-1 0h2m-1 0h2m2 0h2m0 0h2m-1 0h2m-2 0h2m3 0h2m-55 1h2m19 0h2m0 0h2m0 0h2m2 0h2m-2 0h2m-2 0h2m0 0h2m-1 0h2m0 0h2m-2 0h2m-1 0h2m-2 0h2m-2 0h2m-1 0h2m-2 0h2m0 0h2m0 0h2m-2 0h2m-1 0h2m-1 0h2m-1 0h2m0 0h2m1 0h2m-2 0h2m-1 0h2m-1 0h2m0 0h2m-2 0h2m1 0h2m0 0h2m-54 1h2m0 0h2m1 0h2m-2 0h2m3 0h2m0 0h2m0 0h2m-1 0h2m-1 0h2m-1 0h2m2 0h2m-2 0h2m-1 0h2m-2 0h2m0 0h2m-2 0h2m-1 0h2m0 0h2m-1 0h2m-1 0h2m-1 0h2m0 0h2m-2 0h2m-1 0h2m-1 0h2m-1 0h2m-1 0h2m1 0h2m-2 0h2m-2 0h2m0 0h2m0 0h2m-2 0h2m0 0h2m1 0h2m4 0h2m7 0h2m-57 1h2m-1 0h2m-2 0h2m5 0h2m4 0h2m0 0h2m-2 0h2m-2 0h2m-2 0h2m-2 0h2m2 0h2m0 0h2m-2 0h2m-2 0h2m0 0h2m-2 0h2m-1 0h2m-2 0h2m-2 0h2m-1 0h2m-2 0h2m-1 0h2m1 0h2m0 0h2m-2 0h2m4 0h2m10 0h2m-65 1h2m1 0h2m0 0h2m-1 0h2m3 0h2m-1 0h2m2 0h2m1 0h2m0 0h2m-1 0h2m-1 0h2m-2 0h2m-1 0h2m1 0h2m-2 0h2m-2 0h2m-2 0h2m-2 0h2m-1 0h2m-2 0h2m-1 0h2m-2 0h2m0 0h2m-1 0h2m-1 0h2m-2 0h2m-2 0h2m-1 0h2m0 0h2m-2 0h2m-1 0h2m-1 0h2m-2 0h2m-1 0h2m-2 0h2m0 0h2m0 0h2m-2 0h2m2 0h2m-1 0h2m1 0h2m1 0h2m3 0h2m-65 1h2m7 0h2m-2 0h2m0 0h2m5 0h2m1 0h2m-2 0h2m1 0h2m1 0h2m-1 0h2m-2 0h2m-2 0h2m-2 0h2m1 0h2m-2 0h2m-2 0h2m-1 0h2m-2 0h2m-2 0h2m-2 0h2m-2 0h2m0 0h2m-2 0h2m1 0h2m-2 0h2m0 0h2m-2 0h2m0 0h2m-2 0h2m0 0h2m-1 0h2m-1 0h2m-2 0h2m-1 0h2m-1 0h2m-2 0h2m2 0h2m0 0h2m3 0h2m0 0h2m-1 0h2m-56 1h2m4 0h2m-1 0h2m0 0h2m-1 0h2m4 0h2m0 0h2m-1 0h2m0 0h2m-2 0h2m-1 0h2m-2 0h2m-1 0h2m-2 0h2m-1 0h2m-1 0h2m-2 0h2m-2 0h2m-1 0h2m-2 0h2m-1 0h2m1 0h2m-1 0h2m0 0h2m-2 0h2m-2 0h2m-2 0h2m0 0h2m0 0h2m0 0h2m-2 0h2m-1 0h2m-2 0h2m-2 0h2m0 0h2m0 0h2m3 0h2m-2 0h2m1 0h2m-55 1h2m-1 0h2m6 0h2m3 0h2m0 0h2m-1 0h2m-2 0h2m-1 0h2m-2 0h2m-2 0h2m0 0h2m-1 0h2m0 0h2m-1 0h2m-2 0h2m-2 0h2m3 0h2m-1 0h2m-2 0h2m0 0h2m-2 0h2m-1 0h2m-1 0h2m-1 0h2m0 0h2m-2 0h2m0 0h2m-2 0h2m-1 0h2m-2 0h2m-2 0h2m1 0h2m-1 0h2m0 0h2m-2 0h2m4 0h2m2 0h2m-62 1h2m3 0h2m7 0h2m6 0h2m-2 0h2m-1 0h2m0 0h2m-2 0h2m-2 0h2m-1 0h2m-1 0h2m-2 0h2m-2 0h2m-1 0h2m-2 0h2m-1 0h2m-2 0h2m-2 0h2m-2 0h2m-1 0h2m-1 0h2m-1 0h2m-2 0h2m-1 0h2m-2 0h2m-2 0h2m-2 0h2m-2 0h2m-1 0h2m1 0h2m-2 0h2m-2 0h2m-2 0h2m-1 0h2m-1 0h2m-2 0h2m-1 0h2m-2 0h2m1 0h2m-2 0h2m0 0h2m-1 0h2m-2 0h2m-1 0h2m8 0h2m0 0h2m-69 1h2m6 0h2m4 0h2m0 0h2m1 0h2m4 0h2m-1 0h2m-2 0h2m-1 0h2m-1 0h2m0 0h2m0 0h2m-2 0h2m-2 0h2m-1 0h2m-2 0h2m0 0h2m-2 0h2m-1 0h2m-2 0h2m-2 0h2m-2 0h2m-1 0h2m-2 0h2m-1 0h2m-1 0h2m-2 0h2m-2 0h2m-1 0h2m-2 0h2m0 0h2m-2 0h2m-2 0h2m-2 0h2m-2 0h2m0 0h2m-2 0h2m-1 0h2m0 0h2m-2 0h2m-2 0h2m-2 0h2m-1 0h2m0 0h2m-2 0h2m-2 0h2m0 0h2m-1 0h2m-2 0h2m0 0h2m0 0h2m1 0h2m9 0h2m-1 0h2m-88 1h2m25 0h2m0 0h2m4 0h2m-1 0h2m2 0h2m-1 0h2m-1 0h2m-2 0h2m-1 0h2m-1 0h2m-2 0h2m-2 0h2m-1 0h2m-1 0h2m1 0h2m1 0h2m-1 0h2m-2 0h2m-1 0h2m-2 0h2m-1 0h2m-2 0h2m-2 0h2m-1 0h2m-1 0h2m-2 0h2m-2 0h2m-2 0h2m-1 0h2m-2 0h2m-2 0h2m-1 0h2m-1 0h2m-1 0h2m-2 0h2m-1 0h2m-1 0h2m0 0h2m-1 0h2m-2 0h2m-1 0h2m-1 0h2m-2 0h2m-1 0h2m-1 0h2m-2 0h2m-1 0h2m0 0h2m-1 0h2m0 0h2m-1 0h2m1 0h2m9 0h2m-79 1h2m0 0h2m0 0h2m2 0h2m1 0h2m5 0h2m-2 0h2m2 0h2m0 0h2m0 0h2m-1 0h2m-2 0h2m-2 0h2m-1 0h2m0 0h2m-1 0h2m-1 0h2m-1 0h2m-2 0h2m-1 0h2m-2 0h2m-1 0h2m-1 0h2m-1 0h2m-1 0h2m3 0h2m-1 0h2m-1 0h2m-2 0h2m1 0h2m-1 0h2m-2 0h2m-1 0h2m0 0h2m-2 0h2m-1 0h2m-1 0h2m-1 0h2m-2 0h2m-2 0h2m2 0h2m-2 0h2m2 0h2m4 0h2m-1 0h2m5 0h2m1 0h2m-82 1h2m9 0h2m-1 0h2m2 0h2m2 0h2m0 0h2m6 0h2m-2 0h2m-1 0h2m-1 0h2m0 0h2m-1 0h2m-2 0h2m-2 0h2m-2 0h2m-2 0h2m-2 0h2m-1 0h2m-2 0h2m-2 0h2m-2 0h2m-1 0h2m1 0h2m-2 0h2m-2 0h2m-1 0h2m-1 0h2m1 0h2m-1 0h2m-2 0h2m-1 0h2m-1 0h2m-2 0h2m-1 0h2m-1 0h2m-1 0h2m-2 0h2m-2 0h2m-1 0h2m1 0h2m-2 0h2m0 0h2m2 0h2m-2 0h2m1 0h2m-1 0h2m-2 0h2m12 0h2m-70 1h2m0 0h2m4 0h2m-1 0h2m4 0h2m0 0h2m-1 0h2m-2 0h2m-1 0h2m-1 0h2m-2 0h2m-1 0h2m-2 0h2m-1 0h2m-2 0h2m-2 0h2m-2 0h2m-1 0h2m-2 0h2m2 0h2m-2 0h2m-1 0h2m1 0h2m-2 0h2m-1 0h2m-1 0h2m-1 0h2m1 0h2m-2 0h2m-2 0h2m0 0h2m-2 0h2m0 0h2m-2 0h2m-1 0h2m-2 0h2m-2 0h2m-2 0h2m-1 0h2m-1 0h2m-1 0h2m-1 0h2m-1 0h2m0 0h2m4 0h2m2 0h2m-1 0h2m-86 1h2m12 0h2m1 0h2m0 0h2m9 0h2m1 0h2m0 0h2m-1 0h2m0 0h2m-1 0h2m-2 0h2m-2 0h2m-1 0h2m0 0h2m0 0h2m-2 0h2m-2 0h2m-2 0h2m-2 0h2m-2 0h2m-2 0h2m-1 0h2m-1 0h2m0 0h2m-2 0h2m-1 0h2m-1 0h2m1 0h2m2 0h2m1 0h2m-1 0h2m-1 0h2m-2 0h2m-1 0h2m0 0h2m-2 0h2m-1 0h2m4 0h2m-1 0h2m-2 0h2m-1 0h2m0 0h2m-2 0h2m5 0h2m1 0h2m3 0h2m-73 1h2m0 0h2m3 0h2m1 0h2m1 0h2m-2 0h2m0 0h2m3 0h2m-1 0h2m-2 0h2m-2 0h2m0 0h2m-2 0h2m-1 0h2m-1 0h2m-2 0h2m-2 0h2m1 0h2m7 0h2m0 0h2m-2 0h2m-1 0h2m-2 0h2m0 0h2m-2 0h2m-1 0h2m-2 0h2m-1 0h2m-1 0h2m-1 0h2m-1 0h2m-2 0h2m0 0h2m-1 0h2m-1 0h2m-1 0h2m-1 0h2m-2 0h2m8 0h2m-1 0h2m-70 1h2m2 0h2m3 0h2m7 0h2m-1 0h2m1 0h2m-2 0h2m-1 0h2m-1 0h2m-1 0h2m-1 0h2m-2 0h2m-2 0h2m-1 0h2m-1 0h2m0 0h2m-1 0h2m-1 0h2m-1 0h2m-1 0h2m-2 0h2m0 0h2m2 0h2m-1 0h2m4 0h2m-2 0h2m-2 0h2m-1 0h2m-2 0h2m-1 0h2m-2 0h2m-1 0h2m-2 0h2m-1 0h2m-2 0h2m-1 0h2m0 0h2m0 0h2m0 0h2m-1 0h2m-2 0h2m1 0h2m6 0h2m-2 0h2m-2 0h2m-1 0h2m-65 1h2m2 0h2m3 0h2m-1 0h2m-2 0h2m1 0h2m-2 0h2m-1 0h2m-1 0h2m0 0h2m-1 0h2m-2 0h2m-2 0h2m-1 0h2m-1 0h2m4 0h2m1 0h2m-1 0h2m-2 0h2m-1 0h2m-1 0h2m1 0h2m0 0h2m-2 0h2m0 0h2m-2 0h2m-2 0h2m0 0h2m-2 0h2m-1 0h2m-1 0h2m-1 0h2m-1 0h2m-1 0h2m0 0h2m0 0h2m-2 0h2m-1 0h2m-2 0h2m3 0h2m1 0h2m-1 0h2m-90 1h2m16 0h2m1 0h2m-1 0h2m7 0h2m0 0h2m-1 0h2m-1 0h2m-2 0h2m2 0h2m-2 0h2m-1 0h2m0 0h2m-2 0h2m-2 0h2m-1 0h2m-1 0h2m-1 0h2m-1 0h2m-1 0h2m3 0h2m7 0h2m-1 0h2m-1 0h2m2 0h2m-2 0h2m-1 0h2m-2 0h2m-1 0h2m-1 0h2m-2 0h2m-1 0h2m-2 0h2m-2 0h2m-1 0h2m-1 0h2m-2 0h2m1 0h2m-1 0h2m1 0h2m-2 0h2m-53 1h2m1 0h2m0 0h2m-1 0h2m-1 0h2m0 0h2m-1 0h2m0 0h2m-1 0h2m-1 0h2m-1 0h2m-1 0h2m3 0h2m0 0h2m2 0h2m-2 0h2m-1 0h2m0 0h2m-1 0h2m-2 0h2m1 0h2m4 0h2m-1 0h2m0 0h2m-1 0h2m0 0h2m-1 0h2m5 0h2m-1 0h2m2 0h2m-88 1h2m4 0h2m14 0h2m1 0h2m-1 0h2m1 0h2m0 0h2m-1 0h2m1 0h2m-1 0h2m-1 0h2m-1 0h2m-2 0h2m-1 0h2m-1 0h2m-2 0h2m-2 0h2m0 0h2m-1 0h2m1 0h2m-2 0h2m0 0h2m-1 0h2m-2 0h2m-1 0h2m1 0h2m3 0h2m-2 0h2m-1 0h2m-1 0h2m-1 0h2m1 0h2m-1 0h2m-1 0h2m-2 0h2m-1 0h2m-2 0h2m1 0h2m-2 0h2m-2 0h2m-1 0h2m-2 0h2m1 0h2m4 0h2m-2 0h2m11 0h2m0 0h2m-102 1h2m26 0h2m0 0h2m5 0h2m-1 0h2m-2 0h2m-1 0h2m0 0h2m2 0h2m-2 0h2m-1 0h2m-2 0h2m-2 0h2m2 0h2m0 0h2m0 0h2m0 0h2m-2 0h2m1 0h2m-2 0h2m1 0h2m-2 0h2m-2 0h2m0 0h2m-2 0h2m-1 0h2m3 0h2m-1 0h2m-1 0h2m-1 0h2m-1 0h2m-1 0h2m0 0h2m-1 0h2m2 0h2m0 0h2m-1 0h2m4 0h2m-2 0h2m-79 1h2m10 0h2m1 0h2m0 0h2m0 0h2m0 0h2m2 0h2m-2 0h2m-2 0h2m0 0h2m-1 0h2m-2 0h2m-1 0h2m-1 0h2m-1 0h2m-2 0h2m-2 0h2m-2 0h2m-1 0h2m-2 0h2m-2 0h2m0 0h2m0 0h2m0 0h2m0 0h2m-2 0h2m1 0h2m-2 0h2m5 0h2m-1 0h2m-2 0h2m-1 0h2m0 0h2m0 0h2m-2 0h2m-1 0h2m-2 0h2m2 0h2m-1 0h2m-1 0h2m-1 0h2m-2 0h2m1 0h2m-2 0h2m-1 0h2m-1 0h2m0 0h2m6 0h2m-2 0h2m-77 1h2m1 0h2m6 0h2m4 0h2m2 0h2m-1 0h2m1 0h2m-2 0h2m-1 0h2m-2 0h2m-2 0h2m0 0h2m-2 0h2m-1 0h2m-1 0h2m-2 0h2m1 0h2m-1 0h2m-1 0h2m-2 0h2m2 0h2m1 0h2m0 0h2m-1 0h2m-2 0h2m-2 0h2m-2 0h2m2 0h2m4 0h2m-1 0h2m-2 0h2m0 0h2m-2 0h2m1 0h2m9 0h2m-2 0h2m6 0h2m-92 1h2m27 0h2m0 0h2m-1 0h2m0 0h2m0 0h2m-1 0h2m-2 0h2m-1 0h2m-2 0h2m0 0h2m-1 0h2m3 0h2m-2 0h2m0 0h2m-1 0h2m0 0h2m-2 0h2m2 0h2m-1 0h2m-2 0h2m0 0h2m-1 0h2m-2 0h2m0 0h2m2 0h2m-1 0h2m0 0h2m0 0h2m-1 0h2m0 0h2m0 0h2m-2 0h2m-1 0h2m-1 0h2m0 0h2m-1 0h2m-1 0h2m-1 0h2m5 0h2m-94 1h2m9 0h2m0 0h2m12 0h2m0 0h2m-1 0h2m0 0h2m0 0h2m5 0h2m2 0h2m-1 0h2m-1 0h2m-1 0h2m0 0h2m-2 0h2m1 0h2m0 0h2m-1 0h2m6 0h2m-2 0h2m0 0h2m-1 0h2m0 0h2m0 0h2m-1 0h2m-2 0h2m-1 0h2m-2 0h2m1 0h2m1 0h2m1 0h2m-2 0h2m-73 1h2m18 0h2m1 0h2m-2 0h2m-1 0h2m0 0h2m-1 0h2m-1 0h2m1 0h2m-2 0h2m1 0h2m-2 0h2m2 0h2m4 0h2m1 0h2m0 0h2m1 0h2m0 0h2m0 0h2m0 0h2m-1 0h2m-2 0h2m-2 0h2m-2 0h2m-1 0h2m-2 0h2m-2 0h2m-1 0h2m-1 0h2m0 0h2m-1 0h2m4 0h2m1 0h2m-1 0h2m-2 0h2m1 0h2m-67 1h2m0 0h2m0 0h2m5 0h2m-2 0h2m0 0h2m4 0h2m1 0h2m0 0h2m-1 0h2m4 0h2m8 0h2m0 0h2m0 0h2m-1 0h2m-1 0h2m-2 0h2m-2 0h2m-1 0h2m2 0h2m1 0h2m-2 0h2m0 0h2m0 0h2m-1 0h2m1 0h2m0 0h2m3 0h2m-81 1h2m-1 0h2m11 0h2m3 0h2m-1 0h2m2 0h2m1 0h2m-1 0h2m0 0h2m6 0h2m-2 0h2m-2 0h2m-1 0h2m-2 0h2m-2 0h2m1 0h2m-1 0h2m-1 0h2m0 0h2m0 0h2m-2 0h2m-1 0h2m0 0h2m3 0h2m-1 0h2m1 0h2m-1 0h2m-1 0h2m-1 0h2m-2 0h2m-1 0h2m0 0h2m-1 0h2m-51 1h2m-2 0h2m-2 0h2m-1 0h2m-1 0h2m-1 0h2m-2 0h2m-1 0h2m2 0h2m1 0h2m2 0h2m-1 0h2m-2 0h2m0 0h2m0 0h2m-2 0h2m2 0h2m-2 0h2m-1 0h2m-1 0h2m-1 0h2m-2 0h2m-1 0h2m3 0h2m-1 0h2m-1 0h2m-2 0h2m-1 0h2m-1 0h2m0 0h2m-1 0h2m-2 0h2m-2 0h2m-1 0h2m13 0h2m-61 1h2m1 0h2m-2 0h2m-2 0h2m-1 0h2m-1 0h2m-1 0h2m-2 0h2m5 0h2m1 0h2m1 0h2m4 0h2m1 0h2m-1 0h2m0 0h2m-1 0h2m6 0h2m-2 0h2m-1 0h2m1 0h2m-1 0h2m-1 0h2m-2 0h2m2 0h2m-1 0h2m-2 0h2m1 0h2m-2 0h2m0 0h2m-1 0h2m-1 0h2m-60 1h2m1 0h2m0 0h2m9 0h2m0 0h2m1 0h2m6 0h2m-2 0h2m1 0h2m3 0h2m3 0h2m-2 0h2m-1 0h2m-1 0h2m0 0h2m-1 0h2m-48 1h2m-1 0h2m1 0h2m4 0h2m0 0h2m9 0h2m10 0h2m-2 0h2m3 0h2m0 0h2m-2 0h2m3 0h2m-2 0h2m-1 0h2m8 0h2m-61 1h2m0 0h2m-1 0h2m-1 0h2m-1 0h2m6 0h2m1 0h2m-2 0h2m0 0h2m2 0h2m3 0h2m1 0h2m5 0h2m-2 0h2m-1 0h2m-2 0h2m-1 0h2m-2 0h2m-1 0h2m-1 0h2m-2 0h2m-2 0h2m1 0h2m3 0h2m-1 0h2m-1 0h2m0 0h2m-52 1h2m20 0h2m1 0h2m-1 0h2m1 0h2m8 0h2m-2 0h2m-1 0h2m-1 0h2m-1 0h2m0 0h2m-1 0h2m0 0h2m0 0h2m3 0h2m-1 0h2m-61 1h2m-1 0h2m-1 0h2m0 0h2m-2 0h2m34 0h2m-2 0h2m-1 0h2m0 0h2m-1 0h2m-1 0h2m-1 0h2m-2 0h2m7 0h2m4 0h2m-62 1h2m-1 0h2m-1 0h2m-2 0h2m-1 0h2m28 0h2m4 0h2m2 0h2m0 0h2m7 0h2m3 0h2m-61 1h2m40 0h2m3 0h2m-1 0h2m-48 1h2m38 0h2m-1 0h2m1 0h2m-2 0h2m-1 0h2m0 0h2m1 0h2m-52 1h2m-10 1h2m4 0h2m40 0h2m-1 0h2m0 0h2m-52 1h2m3 0h2m40 0h2m-2 0h2m0 0h2m-2 0h2m0 0h2m0 0h2m0 0h2m-63 1h2m4 0h2m-1 0h2m-1 0h2m-2 0h2m2 0h2m40 0h2m-2 0h2m4 0h2m-52 1h2m-1 0h2m-2 0h2m-2 0h2m-2 0h2m-2 0h2m-1 0h2m39 0h2m-1 0h2m0 0h2m-46 1h2m-2 0h2m45 0h2m-57 1h2m-1 0h2m1 0h2m0 0h2m-1 0h2m-7 1h2m0 0h2m0 0h2m43 0h2m0 0h2m2 0h2m-57 1h2m-1 0h2m0 0h2m0 0h2m-2 0h2m42 0h2m-1 0h2m0 0h2m-55 1h2m1 0h2m0 0h2m-2 0h2m-2 0h2m-2 0h2m-1 0h2m41 0h2m-1 0h2m-1 0h2m-2 0h2m0 0h2m-53 1h2m-1 0h2m43 0h2m0 0h2m-58 1h2m7 0h2m-1 0h2m44 0h2m-1 0h2m1 0h2m0 0h2m-56 1h2m-2 0h2m0 0h2m43 0h2m-2 0h2m-1 0h2m-1 0h2m1 0h2m0 0h2m-55 1h2m44 0h2m-2 0h2m-50 1h2m0 0h2m-2 0h2m-2 0h2m-2 0h2m46 0h2m-54 1h2m-2 0h2m1 0h2m45 0h2m-2 0h2m-2 0h2m-2 0h2m-1 0h2m-2 0h2m-50 1h2m-1 0h2m-1 0h2m43 0h2m-1 0h2m-63 1h2m10 0h2m0 0h2m43 0h2m-2 0h2m-1 0h2m-2 0h2m-1 0h2m-53 1h2m0 0h2m47 0h2m0 0h2m-51 1h2m43 0h2m1 0h2m-54 1h2m1 0h2m44 0h2m-1 0h2m-2 0h2m4 0h2m0 0h2m-57 1h2m-2 0h2m45 0h2m-2 0h2m-2 0h2m-2 0h2m-1 0h2m-2 0h2m0 0h2m-54 1h2m0 0h2m-2 0h2m-2 0h2m45 0h2m0 0h2m-2 0h2m-2 0h2m-55 1h2m0 0h2m-1 0h2m-1 0h2m45 0h2m-2 0h2m-1 0h2m-2 0h2m-1 0h2m0 0h2m7 0h2m-65 1h2m-1 0h2m-1 0h2m-1 0h2m45 0h2m-1 0h2m-2 0h2m-1 0h2m-59 1h2m-1 0h2m2 0h2m-1 0h2m46 0h2m0 0h2m7 0h2m-60 1h2m-2 0h2m45 0h2m-1 0h2m-1 0h2m-1 0h2m0 0h2m-71 1h2m9 0h2m-2 0h2m-1 0h2m-2 0h2m2 0h2m-2 0h2m-1 0h2m-2 0h2m-2 0h2m47 0h2m-2 0h2m-65 1h2m-2 0h2m0 0h2m2 0h2m2 0h2m49 0h2m-2 0h2m-58 1h2m-2 0h2m2 0h2m-1 0h2m-2 0h2m49 0h2m-2 0h2m-2 0h2m-56 1h2m-1 0h2m0 0h2m-2 0h2m50 0h2m-1 0h2m-2 0h2m-2 0h2m-2 0h2m-1 0h2m-2 0h2m-58 1h2m-1 0h2m-1 0h2m48 0h2m-2 0h2m-1 0h2m-1 0h2m-1 0h2m-57 1h2m0 0h2m48 0h2m-54 1h2m-1 0h2m-2 0h2m-1 0h2m49 0h2m-2 0h2m2 0h2m-6 1h2m-2 0h2m-1 0h2m-1 0h2m-57 1h2m52 0h2m-2 0h2m0 0h2m-59 1h2m-1 0h2m-1 0h2m52 0h2m0 0h2m-1 0h2m-64 1h2m0 0h2m-1 0h2m60 0h2m-68 1h2m1 0h2m-2 0h2m-1 0h2m55 0h2m0 0h2m1 0h2m-75 1h2m2 0h2m3 0h2m0 0h2m-1 0h2m53 0h2m-1 0h2m-2 0h2m1 0h2m-1 0h2m1 0h2m-65 1h2m59 0h2m-66 1h2m-1 0h2m0 0h2m-1 0h2m-2 0h2m52 0h2m0 0h2m-59 1h2m-1 0h2m54 0h2m-64 1h2m4 0h2m52 0h2m-1 0h2m2 0h2m-65 1h2m55 0h2m-60 1h2m-1 0h2m0 0h2m0 0h2m51 0h2m-2 0h2m-2 0h2m-2 0h2m-1 0h2m0 0h2m0 0h2m-68 1h2m1 0h2m-1 0h2m-2 0h2m0 0h2m-2 0h2m0 0h2m51 0h2m-1 0h2m-2 0h2m-1 0h2m5 0h2m-74 1h2m4 0h2m1 0h2m53 0h2m-2 0h2m-61 1h2m1 0h2m-1 0h2m51 0h2m2 0h2m-2 0h2m-63 1h2m2 0h2m-2 0h2m-2 0h2m54 0h2m1 0h2m-7 1h2m-1 0h2m-1 0h2m-60 1h2m-1 0h2m-2 0h2m0 0h2m51 0h2m7 0h2m-89 1h2m15 0h2m-2 0h2m1 0h2m1 0h2m-2 0h2m58 0h2m-61 1h2m-2 0h2m-1 0h2m49 0h2m0 0h2m-60 1h2m54 0h2m3 0h2m-62 1h2m-1 0h2m1 0h2m-2 0h2m-2 0h2m48 0h2m2 0h2m-1 0h2m-58 1h2m-2 0h2m50 0h2m0 0h2m-57 1h2m-1 0h2m-2 0h2m-6 1h2m1 0h2m0 0h2m-2 0h2m47 0h2m-2 0h2m0 0h2m-2 0h2m-2 0h2m1 0h2m-59 1h2m-2 0h2m52 0h2m-1 0h2m-57 1h2m-1 0h2m0 0h2m47 0h2m-2 0h2m0 0h2m-59 1h2m-1 0h2m-1 0h2m-1 0h2m-2 0h2m0 0h2m-1 0h2m-7 1h2m1 0h2m-1 0h2m46 0h2m-1 0h2m-1 0h2m-1 0h2m2 0h2m-60 1h2m-2 0h2m-1 0h2m-1 0h2m-2 0h2m-1 0h2m-2 0h2m-1 0h2m-1 0h2m48 0h2m-1 0h2m10 0h2m-75 1h2m5 0h2m0 0h2m44 0h2m-1 0h2m-2 0h2m-2 0h2m-1 0h2m-2 0h2m-1 0h2m0 0h2m1 0h2m-68 1h2m-1 0h2m4 0h2m-2 0h2m1 0h2m0 0h2m-2 0h2m-2 0h2m44 0h2m-2 0h2m1 0h2m-1 0h2m0 0h2m-56 1h2m-1 0h2m48 0h2m-50 1h2m-2 0h2m42 0h2m0 0h2m-2 0h2m0 0h2m-53 1h2m-1 0h2m-1 0h2m0 0h2m42 0h2m-2 0h2m-2 0h2m-1 0h2m-1 0h2m-1 0h2m-55 1h2m-1 0h2m-1 0h2m2 0h2m41 0h2m-2 0h2m1 0h2m-52 1h2m0 0h2m-1 0h2m-1 0h2m-2 0h2m41 0h2m-1 0h2m-2 0h2m-1 0h2m-54 1h2m2 0h2m-1 0h2m0 0h2m39 0h2m-2 0h2m-1 0h2m-1 0h2m-2 0h2m-1 0h2m0 0h2m3 0h2m-58 1h2m-1 0h2m-1 0h2m-2 0h2m0 0h2m-1 0h2m-2 0h2m43 0h2m3 0h2m1 0h2m-60 1h2m1 0h2m40 0h2m1 0h2m0 0h2m4 0h2m-55 1h2m-1 0h2m39 0h2m-2 0h2m-1 0h2m-1 0h2m-1 0h2m-2 0h2m-46 1h2m1 0h2m35 0h2m1 0h2m0 0h2m0 0h2m2 0h2m8 0h2m-67 1h2m1 0h2m0 0h2m0 0h2m35 0h2m-2 0h2m-2 0h2m-1 0h2m29 0h2m-73 1h2m0 0h2m-1 0h2m36 0h2m-2 0h2m2 0h2m-2 0h2m-2 0h2m17 0h2m-71 1h2m0 0h2m1 0h2m0 0h2m-1 0h2m34 0h2m0 0h2m2 0h2m-49 1h2m-1 0h2m-1 0h2m0 0h2m-2 0h2m32 0h2m-1 0h2m-2 0h2m-2 0h2m-1 0h2m-1 0h2m-1 0h2m-41 1h2m0 0h2m-1 0h2m31 0h2m4 0h2m1 0h2m1 0h2m-55 1h2m-2 0h2m1 0h2m-1 0h2m-1 0h2m-1 0h2m-1 0h2m0 0h2m29 0h2m-2 0h2m-1 0h2m-2 0h2m-2 0h2m0 0h2m-2 0h2m-42 1h2m-2 0h2m4 0h2m-1 0h2m26 0h2m-2 0h2m-2 0h2m0 0h2m-2 0h2m-1 0h2m-1 0h2m-1 0h2m2 0h2m-2 0h2m-44 1h2m-2 0h2m1 0h2m-1 0h2m-1 0h2m32 0h2m-1 0h2m2 0h2m4 0h2m-55 1h2m4 0h2m-1 0h2m-2 0h2m-2 0h2m26 0h2m-1 0h2m-2 0h2m-1 0h2m-1 0h2m5 0h2m-47 1h2m4 0h2m0 0h2m-1 0h2m-2 0h2m-1 0h2m21 0h2m-2 0h2m-2 0h2m-1 0h2m0 0h2m0 0h2m-1 0h2m0 0h2m9 0h2m-56 1h2m1 0h2m1 0h2m0 0h2m0 0h2m-2 0h2m1 0h2m-2 0h2m18 0h2m4 0h2m-34 1h2m-1 0h2m-1 0h2m-2 0h2m0 0h2m-1 0h2m-1 0h2m-2 0h2m-2 0h2m-2 0h2m-1 0h2m-2 0h2m16 0h2m0 0h2m-2 0h2m-2 0h2m0 0h2m-2 0h2m-2 0h2m-1 0h2m-1 0h2m-1 0h2m1 0h2m-37 1h2m0 0h2m-1 0h2m-1 0h2m-2 0h2m1 0h2m13 0h2m2 0h2m-1 0h2m-1 0h2m-2 0h2m-1 0h2m-54 1h2m15 0h2m-2 0h2m2 0h2m1 0h2m0 0h2m-2 0h2m-2 0h2m-1 0h2m-2 0h2m-1 0h2m-2 0h2m0 0h2m-2 0h2m-1 0h2m-1 0h2m-2 0h2m-1 0h2m-2 0h2m-2 0h2m10 0h2m-1 0h2m-1 0h2m1 0h2m-1 0h2m-1 0h2m-2 0h2m0 0h2m2 0h2m8 0h2m-47 1h2m5 0h2m0 0h2m-1 0h2m-2 0h2m-2 0h2m-1 0h2m-1 0h2m0 0h2m0 0h2m-1 0h2m-2 0h2m0 0h2m-1 0h2m-1 0h2m0 0h2m-1 0h2m-1 0h2m1 0h2m2 0h2m3 0h2m-45 1h2m-1 0h2m-1 0h2m0 0h2m-1 0h2m2 0h2m-1 0h2m-2 0h2m-1 0h2m-1 0h2m1 0h2m-2 0h2m-1 0h2m-2 0h2m1 0h2m-1 0h2m-1 0h2m-1 0h2m-2 0h2m0 0h2m-2 0h2m-2 0h2m0 0h2m-1 0h2m-2 0h2m1 0h2m-2 0h2m-1 0h2m2 0h2m2 0h2m1 0h2m-35 1h2m-1 0h2m2 0h2m-1 0h2m0 0h2m-2 0h2m-2 0h2m0 0h2m-2 0h2m-1 0h2m-1 0h2m-1 0h2m3 0h2m1 0h2m-1 0h2m0 0h2m-1 0h2m2 0h2m4 0h2m11 0h2m-59 1h2m2 0h2m3 0h2m-1 0h2m-2 0h2m1 0h2m1 0h2m-1 0h2m-1 0h2m3 0h2m-2 0h2m-1 0h2m4 0h2m-35 1h2m7 0h2m-1 0h2m3 0h2m-1 0h2m2 0h2m1 0h2m3 0h2m-2 0h2m-1 0h2m-1 0h2m-1 0h2m-1 0h2m0 0h2m0 0h2m0 0h2m-27 1h2m-2 0h2m2 0h2m-2 0h2m0 0h2m-1 0h2m-1 0h2m-2 0h2m0 0h2m-1 0h2m2 0h2m-2 0h2m1 0h2m-2 0h2m-1 0h2m-2 0h2m0 0h2m1 0h2m-25 1h2m-2 0h2m8 0h2m0 0h2m0 0h2m-1 0h2m-1 0h2m3 0h2m-2 0h2m1 0h2m0 0h2m-32 1h2m2 0h2m7 0h2m-1 0h2m1 0h2m-2 0h2m1 0h2m-1 0h2m-1 0h2m-1 0h2m-1 0h2m0 0h2m-27 1h2m2 0h2m1 0h2m1 0h2m-2 0h2m-1 0h2m-1 0h2m4 0h2m-2 0h2m-17 1h2m8 0h2m1 0h2m-9 1h2m3 0h2m3 0h2m11 0h2m7 0h2m-34 1h2m1 0h2m6 0h2m-25 1h2m7 0h2m2 0h2m1 0h2m-2 0h2m3 0h2m-15 1h2m-1 0h2m1 0h2m-3 1h2m2 0h2m4 2h2m1 0h2m-30 2h2m24 1h2" stroke="#dc2a1c" stroke-width="2.2" fill="none"/>
<path transform="scale(.5)" d="M3069 1126h2m-5 3h2m-7 11h2m0 1h2m-4 6h2m5 2h2m-2 0h2m-5 2h2m2 0h2m-10 1h2m3 8h2m-7 3h2" stroke="#f8c08a" stroke-width="2" fill="none"/>
<path transform="scale(.5)" d="M3072 1107h2m-11 16h2m-4 1h2m-1 2h2m-3 1h2m-1 1h2m2 6h2m-5 4h2m-4 1h2m9 1h2m-9 2h2m-3 5h2m-1 0h2m-5 5h2m-2 0h2m8 3h2m6 0h2m-19 1h2m0 1h2m11 0h2m7 1h2m-21 1h2m-1 0h2m3 1h2m-13 3h2" stroke="#ee7a1e" stroke-width="2.2" fill="none"/>
<path d="M1530.6 637.3V499.1H1654.7" stroke="#f9c195" stroke-width="1.5" fill="none"/>
<path d="M1654.7 499.1V637.3H1530.6" stroke="#ee842c" stroke-width="1.8" fill="none"/>
<rect x="1477" y="442.3" width="197" height="196.6" fill="none" stroke="#8a8887" stroke-width="1.5"/>
<path d="M1477 442.3V638.9H1674" stroke="#4f4d4c" stroke-width="1.6" fill="none"/>
<path d="M1477 638.9h-5.5M1477 623.1h-3M1477 607.2h-3M1477 591.4h-3M1477 575.5h-3M1477 559.7h-5.5M1477 543.9h-3M1477 528h-3M1477 512.2h-3M1477 496.3h-3M1477 480.5h-5.5M1477 464.7h-3M1477 448.8h-3M1483 638.9v3M1491 638.9v3M1497.6 638.9v5M1505.6 638.9v3M1513.6 638.9v3M1525.8 638.9v3M1535.5 638.9v3M1542.4 638.9v3M1547.7 638.9v3M1552 638.9v3M1555.7 638.9v3M1558.9 638.9v3M1561.7 638.9v3M1564.2 638.9v5M1580.7 638.9v3M1590.4 638.9v3M1597.3 638.9v3M1602.6 638.9v3M1606.9 638.9v3M1610.6 638.9v3M1613.8 638.9v3M1616.6 638.9v3M1619.1 638.9v5M1635.6 638.9v3M1645.3 638.9v3M1652.2 638.9v3M1657.5 638.9v3M1661.8 638.9v3M1665.5 638.9v3M1668.7 638.9v3M1671.5 638.9v3M1673.5 638.9v5" stroke="#2e2c2b" stroke-width="1.3" fill="none"/>
<text x="1497.6" y="657.4" text-anchor="middle">0</text>
<text x="1564.2" y="657.4" text-anchor="middle">10<tspan dy="-5.5" font-size="10.5">4</tspan></text>
<text x="1621.8" y="657.4" text-anchor="middle">10<tspan dy="-5.5" font-size="10.5">5</tspan></text>
<text x="1672.8" y="657.4" text-anchor="middle">10<tspan dy="-5.5" font-size="10.5">6</tspan></text>
<text text-anchor="middle" transform="translate(1468 638.9) rotate(-90)">0</text>
<text text-anchor="middle" transform="translate(1468 559.7) rotate(-90)">200</text>
<text text-anchor="middle" transform="translate(1468 480.5) rotate(-90)">400</text>
<ellipse cx="1278.5" cy="842.5" rx="17.2" ry="27.9" fill="#dc2a1c" transform="rotate(10 1278.5 842.5)"/>
<ellipse cx="1281.2" cy="827.4" rx="12.4" ry="20.9" fill="#dc2a1c" transform="rotate(10 1281.2 827.4)"/>
<clipPath id="g43"><rect x="1301.8" y="737.8" width="124.2" height="138.6"/></clipPath>
<g clip-path="url(#g43)"><ellipse cx="1278.5" cy="842.5" rx="17.2" ry="27.9" fill="#ee7a1e" transform="rotate(10 1278.5 842.5)"/></g>
<path transform="scale(.5)" d="M2588 1477h2m3 31h2m-5 1h2m-13 2h2m15 1h2m-29 10h2m18 7h2m-16 1h2m-2 0h2m-1 0h2m0 2h2m5 0h2m1 5h2m4 4h2m-6 1h2m-15 1h2m12 0h2m-4 2h2m-1 1h2m-21 1h2m18 0h2m-16 1h2m0 0h2m-3 1h2m-19 1h2m9 0h2m8 0h2m-9 1h2m-8 1h2m16 0h2m-10 2h2m-15 1h2m-16 1h2m18 0h2m5 0h2m3 0h2m-18 1h2m9 0h2m-2 0h2m0 0h2m-11 1h2m-6 2h2m2 0h2m-3 1h2m-14 1h2m13 0h2m10 0h2m3 0h2m-38 1h2m18 0h2m4 1h2m-15 1h2m3 1h2m-3 1h2m0 0h2m3 0h2m-33 1h2m29 0h2m-29 1h2m25 0h2m-25 1h2m27 0h2m-17 1h2m4 0h2m-1 0h2m-34 1h2m29 0h2m0 0h2m-2 0h2m-16 1h2m-26 1h2m32 0h2m9 0h2m-40 1h2m34 0h2m0 1h2m-42 4h2m4 2h2m48 0h2m-55 4h2m44 3h2m-51 3h2m-1 1h2m-10 2h2m3 2h2m-2 2h2m21 1h2m27 3h2m4 1h2m-75 2h2m-3 1h2m46 3h2m23 1h2m-71 1h2m3 0h2m16 0h2m12 2h2m7 0h2m-45 1h2m-1 0h2m33 0h2m10 0h2m14 0h2m-43 1h2m2 1h2m1 0h2m0 0h2m-8 1h2m4 0h2m-45 1h2m37 0h2m9 0h2m-44 1h2m-2 0h2m15 0h2m4 0h2m1 0h2m7 0h2m14 0h2m-25 1h2m2 0h2m2 0h2m8 0h2m2 0h2m-64 1h2m9 0h2m28 0h2m-12 1h2m-1 0h2m-39 1h2m26 0h2m5 0h2m-1 0h2m2 0h2m46 0h2m-85 1h2m1 1h2m2 0h2m0 0h2m14 0h2m32 0h2m0 0h2m18 0h2m-87 1h2m-4 1h2m5 0h2m-1 0h2m-7 1h2m-2 0h2m-1 1h2m83 0h2m-2 1h2m-102 1h2m1 0h2m27 0h2m4 1h2m-30 1h2m8 0h2m61 0h2m4 0h2m9 0h2m-65 1h2m-37 1h2m14 0h2m-2 1h2m-9 2h2m4 0h2m17 0h2m49 1h2m-59 4h2m59 0h2m-62 3h2m-1 1h2m-9 1h2m2 0h2m59 0h2m-62 2h2m59 1h2m-2 3h2m1 0h2m4 1h2m-77 2h2m66 1h2m-2 6h2m-73 3h2m70 1h2m-5 2h2m-75 2h2m72 1h2m0 1h2m-88 1h2m-2 2h2m3 0h2m80 0h2m-7 2h2m-3 2h2m-76 1h2m74 0h2m2 0h2m-84 1h2m75 1h2m-78 3h2m-1 1h2m72 0h2m-78 1h2m-5 2h2m2 1h2m80 1h2m-86 1h2m82 1h2m-84 2h2m77 1h2m-83 4h2m82 0h2m-2 2h2m-96 3h2m0 5h2m87 0h2m-97 2h2m15 3h2m-2 1h2m69 0h2m3 2h2m-80 1h2m66 4h2m0 0h2m-66 1h2m60 0h2m1 0h2m-68 1h2m1 0h2m61 0h2m-71 2h2m61 0h2m-64 2h2m0 0h2m3 1h2m-18 1h2m14 3h2m47 0h2m-3 2h2m-50 1h2m58 0h2m-80 1h2m62 0h2m2 0h2m-60 3h2m14 1h2m40 0h2m-14 1h2m-31 1h2m3 0h2m19 0h2m0 0h2m3 1h2m-29 1h2m1 0h2m3 0h2m7 0h2m-2 0h2m17 0h2m-17 1h2m-30 1h2m11 0h2m-16 1h2m22 1h2m5 0h2m4 0h2" stroke="#f0958c" stroke-width="2" fill="none"/>
<path transform="scale(.5)" d="M2593 1449h2m-12 20h2m4 8h2m-1 2h2m-14 7h2m11 0h2m-4 12h2m-16 10h2m4 1h2m-8 3h2m11 4h2m10 0h2m-6 2h2m-22 2h2m12 7h2m-25 1h2m14 1h2m-1 0h2m11 3h2m-15 3h2m-8 2h2m17 1h2m-18 4h2m-11 2h2m9 2h2m-1 0h2m-6 1h2m-10 2h2m14 0h2m-1 0h2m-8 1h2m-12 1h2m5 2h2m-9 1h2m-5 1h2m-2 0h2m4 3h2m5 0h2m-16 1h2m-2 0h2m23 0h2m-28 1h2m17 0h2m-13 2h2m19 1h2m-31 1h2m4 0h2m-17 1h2m19 0h2m5 0h2m-17 1h2m9 0h2m-20 1h2m16 0h2m-11 1h2m1 0h2m4 0h2m-13 1h2m2 0h2m-5 2h2m15 0h2m-34 1h2m-4 1h2m16 0h2m10 0h2m-24 1h2m-1 0h2m7 0h2m-18 1h2m-1 0h2m5 0h2m3 0h2m10 0h2m-47 1h2m15 0h2m20 0h2m-1 0h2m1 0h2m0 0h2m-32 1h2m17 0h2m1 0h2m5 0h2m2 0h2m1 0h2m-26 1h2m-2 0h2m10 0h2m2 0h2m4 0h2m-1 0h2m1 0h2m-35 1h2m1 0h2m-1 0h2m10 0h2m18 0h2m-36 1h2m0 0h2m1 0h2m2 0h2m27 0h2m-44 1h2m1 0h2m10 0h2m17 0h2m-35 1h2m3 0h2m0 0h2m0 0h2m6 0h2m4 0h2m-2 0h2m1 0h2m-14 1h2m0 0h2m0 0h2m1 0h2m2 0h2m4 0h2m2 0h2m-42 1h2m2 0h2m1 0h2m1 0h2m-2 0h2m-2 0h2m-1 0h2m-1 0h2m1 0h2m-2 0h2m0 0h2m-2 0h2m4 0h2m-1 0h2m-2 0h2m-1 0h2m-19 1h2m-1 0h2m0 0h2m3 0h2m6 0h2m-1 0h2m-24 1h2m0 0h2m10 0h2m-1 0h2m1 0h2m2 0h2m-2 0h2m8 0h2m-37 1h2m4 0h2m-2 0h2m-1 0h2m-1 0h2m3 0h2m0 0h2m-1 0h2m-1 0h2m1 0h2m-1 0h2m4 0h2m-1 0h2m4 0h2m1 0h2m-51 1h2m5 0h2m2 0h2m-1 0h2m10 0h2m5 0h2m5 0h2m16 0h2m-49 1h2m4 0h2m5 0h2m1 0h2m5 0h2m-1 0h2m4 0h2m1 0h2m0 0h2m-45 1h2m7 0h2m2 0h2m8 0h2m1 0h2m1 0h2m10 0h2m10 0h2m-47 1h2m14 0h2m0 0h2m3 0h2m-1 0h2m2 0h2m4 0h2m2 0h2m1 0h2m1 0h2m-46 1h2m21 0h2m1 0h2m0 0h2m9 0h2m-1 0h2m-41 1h2m10 0h2m-1 0h2m-1 0h2m14 0h2m1 0h2m5 0h2m-1 0h2m0 0h2m-2 0h2m-58 1h2m14 0h2m12 0h2m0 0h2m-1 0h2m1 0h2m-2 0h2m0 0h2m8 0h2m-38 1h2m-1 0h2m12 0h2m1 0h2m8 0h2m2 0h2m2 0h2m-2 0h2m2 0h2m-44 1h2m3 0h2m6 0h2m1 0h2m-1 0h2m-1 0h2m-1 0h2m0 0h2m2 0h2m0 0h2m-1 0h2m4 0h2m7 0h2m2 0h2m-46 1h2m0 0h2m0 0h2m6 0h2m1 0h2m0 0h2m-2 0h2m-1 0h2m4 0h2m-2 0h2m1 0h2m5 0h2m0 0h2m3 0h2m-36 1h2m-2 0h2m1 0h2m3 0h2m1 0h2m2 0h2m6 0h2m-1 0h2m5 0h2m-2 0h2m0 0h2m0 0h2m1 0h2m-1 0h2m-53 1h2m2 0h2m2 0h2m7 0h2m6 0h2m-1 0h2m4 0h2m3 0h2m2 0h2m-1 0h2m3 0h2m-49 1h2m12 0h2m0 0h2m0 0h2m0 0h2m3 0h2m0 0h2m2 0h2m9 0h2m-1 0h2m-37 1h2m4 0h2m-1 0h2m1 0h2m12 0h2m2 0h2m5 0h2m0 0h2m-2 0h2m-45 1h2m7 0h2m6 0h2m-1 0h2m-1 0h2m0 0h2m2 0h2m5 0h2m0 0h2m3 0h2m1 0h2m-34 1h2m-2 0h2m1 0h2m-1 0h2m0 0h2m2 0h2m2 0h2m-2 0h2m0 0h2m8 0h2m4 0h2m-63 1h2m11 0h2m5 0h2m1 0h2m3 0h2m-1 0h2m-2 0h2m-2 0h2m5 0h2m-2 0h2m0 0h2m4 0h2m-2 0h2m-1 0h2m1 0h2m-2 0h2m1 0h2m0 0h2m-2 0h2m0 0h2m9 0h2m-80 1h2m11 0h2m12 0h2m11 0h2m2 0h2m-2 0h2m-2 0h2m-1 0h2m1 0h2m-1 0h2m0 0h2m-1 0h2m1 0h2m5 0h2m3 0h2m3 0h2m-65 1h2m19 0h2m4 0h2m7 0h2m0 0h2m0 0h2m-1 0h2m1 0h2m0 0h2m2 0h2m0 0h2m6 0h2m9 0h2m-55 1h2m2 0h2m5 0h2m0 0h2m3 0h2m0 0h2m-2 0h2m4 0h2m-1 0h2m2 0h2m3 0h2m4 0h2m-1 0h2m-25 1h2m1 0h2m1 0h2m-2 0h2m-1 0h2m0 0h2m0 0h2m3 0h2m5 0h2m-31 1h2m1 0h2m-1 0h2m-2 0h2m1 0h2m-1 0h2m-1 0h2m-2 0h2m-2 0h2m-1 0h2m0 0h2m0 0h2m-1 0h2m1 0h2m-1 0h2m2 0h2m-1 0h2m0 0h2m-1 0h2m-1 0h2m3 0h2m-2 0h2m-59 1h2m7 0h2m1 0h2m2 0h2m-1 0h2m2 0h2m1 0h2m0 0h2m-1 0h2m3 0h2m-1 0h2m-2 0h2m-1 0h2m-1 0h2m1 0h2m-1 0h2m6 0h2m8 0h2m-2 0h2m-1 0h2m3 0h2m-55 1h2m-2 0h2m8 0h2m6 0h2m-2 0h2m0 0h2m-1 0h2m0 0h2m2 0h2m0 0h2m0 0h2m0 0h2m-1 0h2m-1 0h2m-2 0h2m0 0h2m0 0h2m11 0h2m-69 1h2m24 0h2m-2 0h2m1 0h2m-2 0h2m-1 0h2m1 0h2m0 0h2m2 0h2m0 0h2m0 0h2m1 0h2m-1 0h2m2 0h2m-1 0h2m-1 0h2m5 0h2m-81 1h2m34 0h2m5 0h2m-2 0h2m0 0h2m-1 0h2m1 0h2m-2 0h2m2 0h2m-1 0h2m-2 0h2m-1 0h2m0 0h2m0 0h2m1 0h2m4 0h2m-1 0h2m-1 0h2m2 0h2m-1 0h2m0 0h2m0 0h2m3 0h2m-57 1h2m-2 0h2m2 0h2m0 0h2m-1 0h2m3 0h2m-1 0h2m1 0h2m-1 0h2m0 0h2m8 0h2m1 0h2m-1 0h2m1 0h2m-1 0h2m0 0h2m0 0h2m3 0h2m7 0h2m3 0h2m-59 1h2m-2 0h2m1 0h2m7 0h2m2 0h2m6 0h2m2 0h2m-2 0h2m-1 0h2m1 0h2m2 0h2m-1 0h2m0 0h2m3 0h2m8 0h2m-89 1h2m29 0h2m0 0h2m2 0h2m-1 0h2m4 0h2m-1 0h2m4 0h2m-1 0h2m3 0h2m-2 0h2m-1 0h2m-2 0h2m0 0h2m-1 0h2m0 0h2m-2 0h2m0 0h2m3 0h2m2 0h2m9 0h2m2 0h2m-55 1h2m-1 0h2m4 0h2m4 0h2m0 0h2m0 0h2m0 0h2m-2 0h2m-2 0h2m6 0h2m-1 0h2m-1 0h2m2 0h2m-1 0h2m0 0h2m-1 0h2m-1 0h2m-1 0h2m-1 0h2m-2 0h2m-1 0h2m3 0h2m0 0h2m-1 0h2m-63 1h2m9 0h2m2 0h2m0 0h2m0 0h2m-2 0h2m-2 0h2m-1 0h2m0 0h2m-1 0h2m-1 0h2m-1 0h2m2 0h2m1 0h2m-1 0h2m-1 0h2m1 0h2m0 0h2m5 0h2m1 0h2m-2 0h2m-2 0h2m11 0h2m-84 1h2m14 0h2m8 0h2m-1 0h2m4 0h2m1 0h2m3 0h2m6 0h2m-1 0h2m-1 0h2m-2 0h2m-1 0h2m6 0h2m3 0h2m-1 0h2m-2 0h2m0 0h2m2 0h2m-1 0h2m1 0h2m-1 0h2m2 0h2m1 0h2m-69 1h2m13 0h2m-2 0h2m3 0h2m-2 0h2m-1 0h2m-1 0h2m7 0h2m-2 0h2m-2 0h2m-2 0h2m1 0h2m-2 0h2m3 0h2m0 0h2m-1 0h2m-1 0h2m-1 0h2m-2 0h2m1 0h2m-1 0h2m-2 0h2m0 0h2m1 0h2m0 0h2m1 0h2m-1 0h2m-1 0h2m1 0h2m-58 1h2m-1 0h2m7 0h2m2 0h2m2 0h2m-1 0h2m-1 0h2m-1 0h2m4 0h2m0 0h2m-2 0h2m1 0h2m-1 0h2m-1 0h2m-1 0h2m3 0h2m-2 0h2m0 0h2m0 0h2m-1 0h2m-2 0h2m-1 0h2m0 0h2m4 0h2m4 0h2m-61 1h2m0 0h2m5 0h2m-2 0h2m5 0h2m2 0h2m-1 0h2m-1 0h2m0 0h2m-1 0h2m-1 0h2m2 0h2m0 0h2m-1 0h2m-2 0h2m5 0h2m2 0h2m5 0h2m-1 0h2m1 0h2m-2 0h2m4 0h2m-67 1h2m1 0h2m2 0h2m1 0h2m0 0h2m2 0h2m-1 0h2m0 0h2m0 0h2m0 0h2m-2 0h2m5 0h2m-1 0h2m4 0h2m0 0h2m-1 0h2m-2 0h2m-2 0h2m-2 0h2m0 0h2m-1 0h2m1 0h2m8 0h2m2 0h2m-50 1h2m-2 0h2m0 0h2m1 0h2m-2 0h2m2 0h2m0 0h2m2 0h2m-1 0h2m3 0h2m-2 0h2m-2 0h2m1 0h2m0 0h2m-1 0h2m-1 0h2m-1 0h2m1 0h2m-1 0h2m4 0h2m-1 0h2m0 0h2m-57 1h2m19 0h2m-2 0h2m-1 0h2m-2 0h2m0 0h2m-2 0h2m0 0h2m-1 0h2m-1 0h2m0 0h2m0 0h2m-1 0h2m0 0h2m1 0h2m0 0h2m-2 0h2m3 0h2m2 0h2m-2 0h2m-2 0h2m-2 0h2m3 0h2m0 0h2m4 0h2m0 0h2m-92 1h2m10 0h2m0 0h2m14 0h2m-1 0h2m3 0h2m-2 0h2m-2 0h2m7 0h2m-1 0h2m0 0h2m-1 0h2m5 0h2m-2 0h2m0 0h2m-2 0h2m1 0h2m1 0h2m3 0h2m-1 0h2m-2 0h2m1 0h2m3 0h2m2 0h2m9 0h2m-89 1h2m25 0h2m-1 0h2m-1 0h2m-2 0h2m0 0h2m1 0h2m1 0h2m0 0h2m-1 0h2m-1 0h2m-2 0h2m-1 0h2m-1 0h2m-2 0h2m-2 0h2m-1 0h2m-2 0h2m-2 0h2m-1 0h2m0 0h2m-1 0h2m-2 0h2m-2 0h2m-1 0h2m-2 0h2m3 0h2m0 0h2m-2 0h2m-2 0h2m-1 0h2m0 0h2m1 0h2m-2 0h2m-2 0h2m-1 0h2m1 0h2m-2 0h2m0 0h2m3 0h2m3 0h2m1 0h2m-90 1h2m9 0h2m3 0h2m7 0h2m5 0h2m4 0h2m2 0h2m4 0h2m-1 0h2m-2 0h2m0 0h2m-2 0h2m-1 0h2m-2 0h2m-1 0h2m-2 0h2m-2 0h2m1 0h2m0 0h2m-2 0h2m2 0h2m-2 0h2m-1 0h2m0 0h2m0 0h2m0 0h2m-2 0h2m0 0h2m-1 0h2m-1 0h2m6 0h2m6 0h2m-66 1h2m0 0h2m4 0h2m1 0h2m5 0h2m0 0h2m0 0h2m0 0h2m-1 0h2m-2 0h2m-2 0h2m0 0h2m0 0h2m-2 0h2m-1 0h2m-2 0h2m-1 0h2m-1 0h2m-1 0h2m0 0h2m-2 0h2m-1 0h2m-1 0h2m0 0h2m-2 0h2m-2 0h2m-2 0h2m-2 0h2m-1 0h2m-1 0h2m-2 0h2m9 0h2m3 0h2m0 0h2m-46 1h2m-2 0h2m3 0h2m-1 0h2m-1 0h2m-2 0h2m-2 0h2m-2 0h2m0 0h2m-2 0h2m1 0h2m1 0h2m2 0h2m-2 0h2m0 0h2m-1 0h2m-2 0h2m-1 0h2m-2 0h2m0 0h2m-1 0h2m-2 0h2m-2 0h2m-1 0h2m-2 0h2m-2 0h2m-1 0h2m-1 0h2m1 0h2m0 0h2m-2 0h2m2 0h2m1 0h2m-1 0h2m-1 0h2m0 0h2m-1 0h2m-1 0h2m1 0h2m-72 1h2m8 0h2m-2 0h2m-1 0h2m1 0h2m3 0h2m0 0h2m-2 0h2m-1 0h2m-1 0h2m-1 0h2m-1 0h2m0 0h2m-1 0h2m-1 0h2m-1 0h2m-1 0h2m-1 0h2m-2 0h2m-2 0h2m-1 0h2m-2 0h2m-2 0h2m-2 0h2m-1 0h2m0 0h2m0 0h2m-1 0h2m0 0h2m-2 0h2m-2 0h2m0 0h2m-2 0h2m0 0h2m-1 0h2m-2 0h2m-1 0h2m1 0h2m-1 0h2m-2 0h2m-1 0h2m1 0h2m-2 0h2m3 0h2m-2 0h2m0 0h2m6 0h2m5 0h2m-73 1h2m2 0h2m3 0h2m-2 0h2m-1 0h2m0 0h2m1 0h2m1 0h2m0 0h2m1 0h2m-2 0h2m-1 0h2m-2 0h2m-1 0h2m-1 0h2m-2 0h2m-2 0h2m0 0h2m0 0h2m-2 0h2m-2 0h2m-1 0h2m-2 0h2m0 0h2m-2 0h2m-2 0h2m0 0h2m-2 0h2m-1 0h2m-1 0h2m-2 0h2m0 0h2m0 0h2m-1 0h2m1 0h2m0 0h2m-2 0h2m-1 0h2m-2 0h2m-2 0h2m-1 0h2m-1 0h2m-1 0h2m-1 0h2m1 0h2m-2 0h2m-2 0h2m1 0h2m6 0h2m-1 0h2m-2 0h2m-91 1h2m7 0h2m1 0h2m4 0h2m-2 0h2m2 0h2m-2 0h2m1 0h2m0 0h2m0 0h2m2 0h2m1 0h2m0 0h2m-1 0h2m-1 0h2m1 0h2m-2 0h2m-2 0h2m-1 0h2m0 0h2m-2 0h2m-2 0h2m-1 0h2m-2 0h2m-1 0h2m-2 0h2m-2 0h2m-1 0h2m-1 0h2m-2 0h2m-2 0h2m0 0h2m0 0h2m-2 0h2m-1 0h2m0 0h2m-2 0h2m-2 0h2m-1 0h2m-2 0h2m0 0h2m-2 0h2m-2 0h2m-1 0h2m-2 0h2m-2 0h2m-1 0h2m-2 0h2m-1 0h2m-2 0h2m3 0h2m-2 0h2m-1 0h2m-1 0h2m0 0h2m0 0h2m-2 0h2m-1 0h2m2 0h2m2 0h2m-1 0h2m1 0h2m-94 1h2m22 0h2m1 0h2m1 0h2m-2 0h2m2 0h2m1 0h2m-2 0h2m-1 0h2m2 0h2m2 0h2m-1 0h2m-2 0h2m2 0h2m-2 0h2m-2 0h2m-1 0h2m-2 0h2m-1 0h2m-2 0h2m-1 0h2m0 0h2m-2 0h2m-2 0h2m-1 0h2m-2 0h2m-2 0h2m-1 0h2m0 0h2m-1 0h2m-2 0h2m1 0h2m-2 0h2m-2 0h2m-2 0h2m-1 0h2m-1 0h2m-1 0h2m-1 0h2m-2 0h2m-1 0h2m-2 0h2m-1 0h2m-2 0h2m-1 0h2m-1 0h2m-2 0h2m-1 0h2m-2 0h2m-1 0h2m-2 0h2m0 0h2m-1 0h2m-1 0h2m-1 0h2m0 0h2m1 0h2m-2 0h2m-1 0h2m1 0h2m-86 1h2m17 0h2m1 0h2m-1 0h2m-2 0h2m7 0h2m-1 0h2m1 0h2m0 0h2m1 0h2m-2 0h2m-2 0h2m-1 0h2m-1 0h2m-1 0h2m-1 0h2m-2 0h2m-1 0h2m-2 0h2m-2 0h2m-1 0h2m-2 0h2m-2 0h2m-2 0h2m-1 0h2m-1 0h2m-2 0h2m-1 0h2m-2 0h2m-1 0h2m-1 0h2m1 0h2m2 0h2m1 0h2m-2 0h2m-2 0h2m-1 0h2m-2 0h2m0 0h2m-1 0h2m0 0h2m-1 0h2m0 0h2m-2 0h2m0 0h2m-1 0h2m-2 0h2m1 0h2m-1 0h2m2 0h2m2 0h2m3 0h2m-98 1h2m17 0h2m1 0h2m3 0h2m5 0h2m-2 0h2m2 0h2m-1 0h2m-2 0h2m-1 0h2m-1 0h2m2 0h2m-1 0h2m-2 0h2m-1 0h2m-2 0h2m-2 0h2m-2 0h2m-1 0h2m-2 0h2m-2 0h2m-1 0h2m-2 0h2m1 0h2m-1 0h2m0 0h2m-1 0h2m-1 0h2m-2 0h2m0 0h2m8 0h2m-1 0h2m-1 0h2m-1 0h2m-2 0h2m-1 0h2m-1 0h2m-1 0h2m-2 0h2m-2 0h2m2 0h2m-1 0h2m6 0h2m0 0h2m-1 0h2m0 0h2m2 0h2m-98 1h2m-1 0h2m12 0h2m2 0h2m6 0h2m-1 0h2m0 0h2m-2 0h2m0 0h2m-1 0h2m0 0h2m2 0h2m-1 0h2m2 0h2m-1 0h2m-1 0h2m-1 0h2m-2 0h2m0 0h2m-2 0h2m1 0h2m-1 0h2m0 0h2m0 0h2m8 0h2m-2 0h2m-2 0h2m0 0h2m0 0h2m-1 0h2m-2 0h2m-2 0h2m-2 0h2m-1 0h2m-1 0h2m-2 0h2m-1 0h2m-2 0h2m0 0h2m-1 0h2m-1 0h2m0 0h2m-2 0h2m2 0h2m-2 0h2m0 0h2m-1 0h2m-2 0h2m4 0h2m1 0h2m-79 1h2m0 0h2m8 0h2m0 0h2m1 0h2m0 0h2m-1 0h2m-1 0h2m-1 0h2m-2 0h2m1 0h2m-1 0h2m-2 0h2m-1 0h2m2 0h2m2 0h2m1 0h2m0 0h2m4 0h2m1 0h2m-2 0h2m-2 0h2m0 0h2m-2 0h2m0 0h2m-2 0h2m-1 0h2m-1 0h2m-1 0h2m-1 0h2m-2 0h2m-1 0h2m1 0h2m-2 0h2m-1 0h2m0 0h2m4 0h2m-93 1h2m-2 0h2m3 0h2m1 0h2m12 0h2m-1 0h2m-2 0h2m4 0h2m0 0h2m0 0h2m-1 0h2m3 0h2m-2 0h2m1 0h2m-2 0h2m2 0h2m1 0h2m2 0h2m-1 0h2m6 0h2m-1 0h2m-2 0h2m1 0h2m1 0h2m0 0h2m-2 0h2m-1 0h2m-2 0h2m-1 0h2m-1 0h2m-2 0h2m-1 0h2m-2 0h2m-2 0h2m-1 0h2m-1 0h2m-1 0h2m-1 0h2m-2 0h2m-1 0h2m-2 0h2m5 0h2m-1 0h2m-1 0h2m-1 0h2m-88 1h2m19 0h2m4 0h2m1 0h2m1 0h2m0 0h2m2 0h2m-2 0h2m-1 0h2m-2 0h2m0 0h2m-1 0h2m-1 0h2m0 0h2m0 0h2m1 0h2m-1 0h2m5 0h2m0 0h2m0 0h2m2 0h2m1 0h2m-1 0h2m-2 0h2m0 0h2m-2 0h2m-1 0h2m-1 0h2m-2 0h2m-2 0h2m0 0h2m0 0h2m12 0h2m-101 1h2m11 0h2m12 0h2m-1 0h2m1 0h2m4 0h2m0 0h2m-1 0h2m-2 0h2m0 0h2m-2 0h2m1 0h2m-2 0h2m-1 0h2m0 0h2m-1 0h2m-1 0h2m4 0h2m-2 0h2m1 0h2m-1 0h2m1 0h2m-1 0h2m-1 0h2m-1 0h2m-1 0h2m-1 0h2m0 0h2m2 0h2m0 0h2m-1 0h2m-2 0h2m-2 0h2m-1 0h2m0 0h2m-2 0h2m-2 0h2m-1 0h2m3 0h2m0 0h2m1 0h2m-1 0h2m5 0h2m-73 1h2m1 0h2m-2 0h2m-2 0h2m-1 0h2m5 0h2m-1 0h2m0 0h2m-1 0h2m-2 0h2m9 0h2m2 0h2m2 0h2m-1 0h2m2 0h2m-2 0h2m2 0h2m-1 0h2m-1 0h2m0 0h2m-1 0h2m-2 0h2m-1 0h2m0 0h2m-2 0h2m1 0h2m0 0h2m0 0h2m-2 0h2m1 0h2m-1 0h2m0 0h2m-74 1h2m-2 0h2m4 0h2m3 0h2m2 0h2m0 0h2m-1 0h2m0 0h2m-1 0h2m-2 0h2m-2 0h2m0 0h2m-2 0h2m-1 0h2m-2 0h2m-2 0h2m-2 0h2m-1 0h2m-2 0h2m6 0h2m2 0h2m-2 0h2m2 0h2m1 0h2m0 0h2m-2 0h2m0 0h2m-2 0h2m-1 0h2m-2 0h2m-1 0h2m-2 0h2m-2 0h2m1 0h2m1 0h2m0 0h2m-2 0h2m-2 0h2m1 0h2m-2 0h2m-1 0h2m-2 0h2m-1 0h2m-1 0h2m0 0h2m0 0h2m3 0h2m-78 1h2m9 0h2m0 0h2m-2 0h2m8 0h2m-2 0h2m-1 0h2m-2 0h2m-1 0h2m-1 0h2m-2 0h2m-2 0h2m-1 0h2m-1 0h2m0 0h2m-1 0h2m0 0h2m3 0h2m2 0h2m0 0h2m2 0h2m1 0h2m0 0h2m-2 0h2m0 0h2m-1 0h2m1 0h2m0 0h2m-1 0h2m-2 0h2m-2 0h2m-1 0h2m1 0h2m1 0h2m8 0h2m1 0h2m-95 1h2m9 0h2m0 0h2m10 0h2m4 0h2m-1 0h2m-1 0h2m-2 0h2m1 0h2m-2 0h2m-1 0h2m-2 0h2m-2 0h2m4 0h2m-2 0h2m-1 0h2m1 0h2m0 0h2m0 0h2m-2 0h2m3 0h2m1 0h2m1 0h2m0 0h2m-2 0h2m7 0h2m-2 0h2m0 0h2m-2 0h2m-1 0h2m-1 0h2m-1 0h2m-2 0h2m0 0h2m1 0h2m0 0h2m-1 0h2m-87 1h2m12 0h2m-1 0h2m6 0h2m0 0h2m-2 0h2m-2 0h2m0 0h2m1 0h2m0 0h2m-1 0h2m-2 0h2m-1 0h2m-2 0h2m-1 0h2m-1 0h2m0 0h2m-2 0h2m0 0h2m1 0h2m2 0h2m1 0h2m3 0h2m5 0h2m-2 0h2m1 0h2m8 0h2m0 0h2m0 0h2m-2 0h2m2 0h2m-1 0h2m8 0h2m-80 1h2m0 0h2m2 0h2m2 0h2m3 0h2m0 0h2m0 0h2m-1 0h2m7 0h2m3 0h2m-2 0h2m-1 0h2m2 0h2m-1 0h2m-2 0h2m0 0h2m-2 0h2m-1 0h2m7 0h2m-1 0h2m1 0h2m-1 0h2m-1 0h2m-2 0h2m-2 0h2m-1 0h2m-2 0h2m1 0h2m-1 0h2m0 0h2m8 0h2m-68 1h2m0 0h2m0 0h2m-1 0h2m-2 0h2m0 0h2m-2 0h2m5 0h2m3 0h2m-1 0h2m6 0h2m-1 0h2m2 0h2m6 0h2m-2 0h2m2 0h2m3 0h2m-1 0h2m-2 0h2m-2 0h2m3 0h2m-1 0h2m1 0h2m0 0h2m-1 0h2m-1 0h2m-1 0h2m-2 0h2m-1 0h2m-2 0h2m-72 1h2m5 0h2m-1 0h2m-1 0h2m0 0h2m-1 0h2m5 0h2m5 0h2m0 0h2m2 0h2m-1 0h2m-1 0h2m0 0h2m-2 0h2m3 0h2m2 0h2m-1 0h2m3 0h2m-1 0h2m-1 0h2m0 0h2m1 0h2m-1 0h2m-1 0h2m0 0h2m1 0h2m-1 0h2m1 0h2m1 0h2m-87 1h2m16 0h2m2 0h2m-2 0h2m-2 0h2m-1 0h2m0 0h2m2 0h2m-1 0h2m-2 0h2m3 0h2m1 0h2m3 0h2m0 0h2m2 0h2m0 0h2m-1 0h2m0 0h2m5 0h2m1 0h2m-2 0h2m-1 0h2m-1 0h2m-2 0h2m-2 0h2m0 0h2m-2 0h2m-1 0h2m-2 0h2m-2 0h2m0 0h2m0 0h2m0 0h2m-1 0h2m6 0h2m0 0h2m-75 1h2m2 0h2m-1 0h2m-2 0h2m0 0h2m8 0h2m0 0h2m2 0h2m-1 0h2m1 0h2m1 0h2m-1 0h2m1 0h2m11 0h2m0 0h2m-1 0h2m2 0h2m-1 0h2m-2 0h2m-1 0h2m-1 0h2m0 0h2m2 0h2m-2 0h2m-56 1h2m-2 0h2m0 0h2m17 0h2m-2 0h2m3 0h2m0 0h2m2 0h2m0 0h2m2 0h2m4 0h2m-1 0h2m-2 0h2m-1 0h2m0 0h2m0 0h2m-1 0h2m-2 0h2m0 0h2m1 0h2m3 0h2m1 0h2m-70 1h2m-2 0h2m1 0h2m0 0h2m16 0h2m0 0h2m-1 0h2m1 0h2m-1 0h2m1 0h2m1 0h2m3 0h2m-1 0h2m-2 0h2m0 0h2m1 0h2m-1 0h2m-1 0h2m-1 0h2m0 0h2m-2 0h2m0 0h2m-1 0h2m2 0h2m-1 0h2m-63 1h2m2 0h2m-1 0h2m31 0h2m3 0h2m0 0h2m3 0h2m-1 0h2m-2 0h2m-1 0h2m-2 0h2m-1 0h2m-2 0h2m-1 0h2m5 0h2m-65 1h2m2 0h2m-1 0h2m-1 0h2m44 0h2m-1 0h2m-2 0h2m-1 0h2m-2 0h2m-2 0h2m-2 0h2m2 0h2m-2 0h2m-1 0h2m-1 0h2m1 0h2m-63 1h2m-1 0h2m-1 0h2m-1 0h2m-2 0h2m-1 0h2m-2 0h2m38 0h2m-1 0h2m2 0h2m-1 0h2m-1 0h2m-2 0h2m-1 0h2m2 0h2m1 0h2m-67 1h2m7 0h2m-1 0h2m48 0h2m-1 0h2m-2 0h2m-1 0h2m-1 0h2m0 0h2m7 0h2m-71 1h2m-2 0h2m-1 0h2m0 0h2m0 0h2m45 0h2m-1 0h2m-2 0h2m-1 0h2m-2 0h2m-2 0h2m2 0h2m-2 0h2m8 0h2m-73 1h2m1 0h2m-2 0h2m-1 0h2m0 0h2m-1 0h2m-2 0h2m48 0h2m-2 0h2m0 0h2m2 0h2m3 0h2m0 0h2m-73 1h2m1 0h2m1 0h2m-2 0h2m52 0h2m1 0h2m-74 1h2m11 0h2m0 0h2m-1 0h2m49 0h2m3 0h2m-62 1h2m-2 0h2m-1 0h2m-2 0h2m-1 0h2m-2 0h2m-1 0h2m49 0h2m0 0h2m-1 0h2m-1 0h2m-1 0h2m-1 0h2m-64 1h2m-1 0h2m-2 0h2m0 0h2m-1 0h2m-2 0h2m-1 0h2m-2 0h2m-2 0h2m49 0h2m-1 0h2m-2 0h2m-2 0h2m0 0h2m-1 0h2m-59 1h2m-1 0h2m-1 0h2m-2 0h2m49 0h2m-1 0h2m-1 0h2m-2 0h2m-1 0h2m1 0h2m-65 1h2m1 0h2m-1 0h2m-2 0h2m-2 0h2m-1 0h2m53 0h2m-2 0h2m-1 0h2m-58 1h2m50 0h2m0 0h2m1 0h2m-60 1h2m52 0h2m-1 0h2m2 0h2m-66 1h2m-1 0h2m0 0h2m-1 0h2m53 0h2m0 0h2m-2 0h2m-1 0h2m-1 0h2m-64 1h2m-1 0h2m0 0h2m-1 0h2m-2 0h2m-1 0h2m56 0h2m-64 1h2m1 0h2m-2 0h2m-2 0h2m52 0h2m1 0h2m0 0h2m-65 1h2m-1 0h2m-1 0h2m-1 0h2m-1 0h2m-2 0h2m52 0h2m0 0h2m0 0h2m-1 0h2m-66 1h2m-1 0h2m-1 0h2m-1 0h2m-2 0h2m-2 0h2m-1 0h2m53 0h2m-2 0h2m-2 0h2m-1 0h2m-61 1h2m0 0h2m-1 0h2m-1 0h2m52 0h2m-1 0h2m0 0h2m-1 0h2m4 0h2m-69 1h2m-2 0h2m-1 0h2m-2 0h2m55 0h2m-2 0h2m-65 1h2m0 0h2m0 0h2m-1 0h2m-2 0h2m-1 0h2m-1 0h2m-2 0h2m-2 0h2m52 0h2m-2 0h2m-1 0h2m-2 0h2m-63 1h2m-1 0h2m1 0h2m-2 0h2m0 0h2m-2 0h2m53 0h2m-2 0h2m-1 0h2m-2 0h2m2 0h2m-66 1h2m-1 0h2m-1 0h2m-1 0h2m57 0h2m-2 0h2m-1 0h2m-79 1h2m7 0h2m5 0h2m-2 0h2m-1 0h2m53 0h2m-1 0h2m0 0h2m-72 1h2m5 0h2m0 0h2m1 0h2m53 0h2m-2 0h2m0 0h2m1 0h2m3 0h2m-78 1h2m-2 0h2m-2 0h2m4 0h2m3 0h2m-2 0h2m53 0h2m1 0h2m1 0h2m-1 0h2m-9 1h2m-1 0h2m-2 0h2m-70 1h2m1 0h2m0 0h2m61 0h2m-2 0h2m0 0h2m-70 1h2m0 0h2m61 0h2m-1 0h2m-68 1h2m-1 0h2m0 0h2m61 0h2m-2 0h2m-2 0h2m-2 0h2m2 0h2m-1 0h2m0 0h2m-75 1h2m0 0h2m-1 0h2m-2 0h2m-2 0h2m-1 0h2m59 0h2m-1 0h2m0 0h2m-69 1h2m-1 0h2m-2 0h2m1 0h2m60 0h2m0 0h2m0 0h2m-72 1h2m62 0h2m-1 0h2m-2 0h2m-2 0h2m-1 0h2m-2 0h2m4 0h2m-79 1h2m-1 0h2m-1 0h2m3 0h2m-2 0h2m-1 0h2m60 0h2m-69 1h2m-1 0h2m-2 0h2m-1 0h2m1 0h2m59 0h2m-1 0h2m-1 0h2m-2 0h2m1 0h2m-70 1h2m0 0h2m61 0h2m-65 1h2m-2 0h2m64 0h2m-70 1h2m-2 0h2m-1 0h2m-1 0h2m63 0h2m3 0h2m-76 1h2m-2 0h2m-1 0h2m-1 0h2m0 0h2m62 0h2m-2 0h2m9 0h2m-90 1h2m4 0h2m1 0h2m1 0h2m-4 1h2m-2 0h2m65 0h2m0 0h2m-1 0h2m-1 0h2m-1 0h2m-71 1h2m63 0h2m-1 0h2m-80 1h2m3 0h2m3 0h2m0 0h2m67 0h2m-75 1h2m-1 0h2m-1 0h2m0 0h2m61 0h2m1 0h2m3 0h2m-75 1h2m-1 0h2m-1 0h2m61 0h2m-1 0h2m-2 0h2m1 0h2m0 0h2m-2 0h2m-73 1h2m-1 0h2m63 0h2m-1 0h2m1 0h2m0 0h2m-2 0h2m-80 1h2m5 0h2m-1 0h2m60 0h2m-1 0h2m1 0h2m-1 0h2m4 0h2m-84 1h2m3 0h2m-1 0h2m0 0h2m-1 0h2m62 0h2m-1 0h2m0 0h2m-73 1h2m-2 0h2m1 0h2m0 0h2m64 0h2m-72 1h2m0 0h2m-2 0h2m62 0h2m-1 0h2m-77 1h2m6 0h2m1 0h2m-2 0h2m59 0h2m-1 0h2m-2 0h2m1 0h2m-71 1h2m2 0h2m-1 0h2m58 0h2m-2 0h2m-2 0h2m-1 0h2m2 0h2m1 0h2m-74 1h2m0 0h2m-1 0h2m-1 0h2m58 0h2m3 0h2m-71 1h2m0 0h2m59 0h2m2 0h2m-2 0h2m1 0h2m5 0h2m-82 1h2m-1 0h2m0 0h2m-1 0h2m0 0h2m57 0h2m0 0h2m-1 0h2m0 0h2m-2 0h2m2 0h2m-86 1h2m10 0h2m-2 0h2m1 0h2m-2 0h2m58 0h2m-1 0h2m6 0h2m0 0h2m-77 1h2m1 0h2m1 0h2m55 0h2m-1 0h2m0 0h2m-2 0h2m-69 1h2m6 0h2m54 0h2m-1 0h2m0 0h2m0 0h2m-2 0h2m-2 0h2m1 0h2m7 0h2m-80 1h2m-1 0h2m0 0h2m-2 0h2m1 0h2m52 0h2m-1 0h2m-1 0h2m-2 0h2m-1 0h2m-2 0h2m1 0h2m-70 1h2m2 0h2m-2 0h2m-1 0h2m-1 0h2m0 0h2m-2 0h2m53 0h2m1 0h2m1 0h2m0 0h2m-71 1h2m3 0h2m-2 0h2m-2 0h2m-1 0h2m-2 0h2m51 0h2m-2 0h2m1 0h2m-1 0h2m-1 0h2m-2 0h2m-62 1h2m-2 0h2m-1 0h2m-1 0h2m-1 0h2m-2 0h2m49 0h2m-1 0h2m-2 0h2m-2 0h2m-2 0h2m1 0h2m-66 1h2m5 0h2m0 0h2m-2 0h2m49 0h2m-1 0h2m-1 0h2m-2 0h2m-2 0h2m-1 0h2m1 0h2m-65 1h2m-1 0h2m54 0h2m-1 0h2m-2 0h2m-2 0h2m1 0h2m0 0h2m-61 1h2m-2 0h2m-1 0h2m-2 0h2m0 0h2m47 0h2m-1 0h2m-2 0h2m-1 0h2m-2 0h2m0 0h2m-1 0h2m-1 0h2m7 0h2m-83 1h2m10 0h2m1 0h2m-2 0h2m-1 0h2m-2 0h2m-1 0h2m57 0h2m-66 1h2m-2 0h2m3 0h2m-2 0h2m48 0h2m1 0h2m-1 0h2m-56 1h2m-1 0h2m-2 0h2m-2 0h2m44 0h2m-1 0h2m2 0h2m-1 0h2m0 0h2m-65 1h2m3 0h2m0 0h2m-2 0h2m-2 0h2m0 0h2m-2 0h2m43 0h2m-1 0h2m-2 0h2m3 0h2m-1 0h2m-2 0h2m1 0h2m-63 1h2m0 0h2m-2 0h2m3 0h2m-2 0h2m-1 0h2m42 0h2m-1 0h2m0 0h2m10 0h2m-74 1h2m-1 0h2m7 0h2m0 0h2m-2 0h2m-2 0h2m-1 0h2m40 0h2m-2 0h2m-2 0h2m0 0h2m-2 0h2m-1 0h2m-1 0h2m7 0h2m-71 1h2m2 0h2m3 0h2m0 0h2m-2 0h2m42 0h2m0 0h2m-1 0h2m-1 0h2m-2 0h2m-1 0h2m-2 0h2m2 0h2m1 0h2m2 0h2m4 0h2m-73 1h2m4 0h2m-1 0h2m38 0h2m-1 0h2m5 0h2m1 0h2m-54 1h2m0 0h2m-1 0h2m37 0h2m3 0h2m-55 1h2m2 0h2m-2 0h2m3 0h2m0 0h2m-1 0h2m32 0h2m0 0h2m-2 0h2m-1 0h2m1 0h2m-2 0h2m-2 0h2m3 0h2m-2 0h2m-58 1h2m-1 0h2m-2 0h2m3 0h2m-1 0h2m-2 0h2m-1 0h2m1 0h2m-1 0h2m28 0h2m-1 0h2m-1 0h2m-1 0h2m-1 0h2m-2 0h2m-1 0h2m8 0h2m-62 1h2m1 0h2m0 0h2m2 0h2m2 0h2m-1 0h2m-2 0h2m-1 0h2m28 0h2m0 0h2m-1 0h2m-1 0h2m-1 0h2m-1 0h2m-49 1h2m3 0h2m-1 0h2m-1 0h2m-1 0h2m-2 0h2m-1 0h2m0 0h2m-2 0h2m-2 0h2m-1 0h2m-2 0h2m27 0h2m1 0h2m0 0h2m0 0h2m0 0h2m-1 0h2m-1 0h2m-55 1h2m1 0h2m-1 0h2m0 0h2m-2 0h2m1 0h2m1 0h2m-1 0h2m-1 0h2m-2 0h2m23 0h2m-2 0h2m-1 0h2m0 0h2m1 0h2m-1 0h2m0 0h2m-1 0h2m-1 0h2m-45 1h2m-1 0h2m1 0h2m25 0h2m1 0h2m-1 0h2m-2 0h2m-1 0h2m-2 0h2m5 0h2m-2 0h2m-2 0h2m0 0h2m-48 1h2m0 0h2m-1 0h2m-1 0h2m-1 0h2m0 0h2m-2 0h2m0 0h2m-2 0h2m-1 0h2m-1 0h2m-1 0h2m-1 0h2m17 0h2m0 0h2m5 0h2m-38 1h2m0 0h2m-2 0h2m-1 0h2m0 0h2m0 0h2m-2 0h2m-1 0h2m-2 0h2m0 0h2m4 0h2m3 0h2m-1 0h2m-2 0h2m-1 0h2m-2 0h2m0 0h2m-1 0h2m-2 0h2m0 0h2m-1 0h2m5 0h2m-45 1h2m6 0h2m5 0h2m0 0h2m0 0h2m-2 0h2m1 0h2m-2 0h2m-2 0h2m-1 0h2m0 0h2m-1 0h2m-2 0h2m-2 0h2m0 0h2m0 0h2m3 0h2m1 0h2m-2 0h2m-51 1h2m10 0h2m-1 0h2m-1 0h2m1 0h2m-1 0h2m-2 0h2m-1 0h2m0 0h2m-1 0h2m-1 0h2m-2 0h2m-1 0h2m-1 0h2m-2 0h2m-1 0h2m-1 0h2m1 0h2m1 0h2m5 0h2m0 0h2m-1 0h2m1 0h2m0 0h2m0 0h2m-1 0h2m-2 0h2m-44 1h2m9 0h2m-1 0h2m-1 0h2m-1 0h2m-1 0h2m0 0h2m-1 0h2m3 0h2m0 0h2m-2 0h2m-1 0h2m2 0h2m0 0h2m-1 0h2m1 0h2m-1 0h2m1 0h2m-33 1h2m3 0h2m2 0h2m0 0h2m0 0h2m-2 0h2m0 0h2m2 0h2m-2 0h2m0 0h2m-2 0h2m-2 0h2m5 0h2m-1 0h2m-38 1h2m1 0h2m-1 0h2m-1 0h2m4 0h2m-1 0h2m-2 0h2m-1 0h2m-1 0h2m-2 0h2m1 0h2m0 0h2m-1 0h2m-1 0h2m-2 0h2m2 0h2m-2 0h2m1 0h2m3 0h2m6 0h2m-45 1h2m10 0h2m-2 0h2m1 0h2m-2 0h2m6 0h2m-2 0h2m-1 0h2m-1 0h2m-1 0h2m0 0h2m4 0h2m1 0h2m2 0h2m17 0h2m-55 1h2m2 0h2m-2 0h2m3 0h2m-1 0h2m5 0h2m-1 0h2m-2 0h2m3 0h2m5 0h2m-2 0h2m-2 0h2m1 0h2m2 0h2m-61 1h2m24 0h2m0 0h2m0 0h2m0 0h2m-1 0h2m2 0h2m1 0h2m1 0h2m2 0h2m0 0h2m4 0h2m7 0h2m-48 1h2m20 0h2m0 0h2m2 0h2m4 0h2m-25 1h2m-2 0h2m3 0h2m17 0h2m-23 1h2m-1 0h2m8 0h2m-13 1h2m1 0h2m3 1h2m3 0h2m-17 1h2m17 0h2m-20 1h2m-1 0h2" stroke="#dc2a1c" stroke-width="2.2" fill="none"/>
<path transform="scale(.5)" d="M2617 1610h2m-16 4h2m0 1h2m-1 3h2m5 3h2m4 4h2m-18 1h2m15 1h2m-12 1h2m-9 1h2m-2 1h2m6 1h2m7 3h2m-15 2h2m-3 1h2m2 2h2m-5 1h2m10 0h2m-9 3h2m-1 3h2m2 0h2m-15 2h2m36 0h2m-37 2h2m-2 0h2m11 1h2m0 0h2m-9 3h2m-13 2h2m13 1h2m-15 3h2m19 0h2m15 0h2m-19 4h2m-24 31h2m-2 15h2" stroke="#f8c08a" stroke-width="2" fill="none"/>
<path transform="scale(.5)" d="M2604 1591h2m1 0h2m-4 8h2m-4 6h2m2 8h2m12 2h2m-16 1h2m-1 7h2m-3 1h2m-3 3h2m0 0h2m3 0h2m-1 0h2m-5 1h2m8 0h2m-19 1h2m-1 1h2m-2 0h2m-1 2h2m-2 2h2m-1 0h2m12 1h2m-16 1h2m-4 2h2m8 4h2m14 0h2m-30 1h2m17 0h2m6 0h2m-29 1h2m-1 0h2m3 1h2m-1 0h2m6 0h2m7 0h2m-21 1h2m-1 0h2m-8 1h2m5 0h2m-2 0h2m11 0h2m3 0h2m22 0h2m-47 1h2m5 0h2m-2 0h2m-3 1h2m15 0h2m-28 1h2m-2 0h2m7 0h2m-8 1h2m-5 1h2m2 2h2m-3 2h2m-2 0h2m11 1h2m3 0h2m-20 1h2m-3 1h2m-5 39h2" stroke="#ee7a1e" stroke-width="2.2" fill="none"/>
<path d="M1301.8 876.4V737.8H1426" stroke="#f9c195" stroke-width="1.5" fill="none"/>
<path d="M1426 737.8V876.4H1301.8" stroke="#ee842c" stroke-width="1.8" fill="none"/>
<rect x="1248.5" y="680.1" width="197.5" height="198.5" fill="none" stroke="#8a8887" stroke-width="1.5"/>
<path d="M1248.5 680.1V878.6H1446" stroke="#4f4d4c" stroke-width="1.6" fill="none"/>
<path d="M1248.5 878.6h-5.5M1248.5 862.7h-3M1248.5 846.8h-3M1248.5 830.8h-3M1248.5 814.9h-3M1248.5 799h-5.5M1248.5 783.1h-3M1248.5 767.2h-3M1248.5 751.2h-3M1248.5 735.3h-3M1248.5 719.4h-5.5M1248.5 703.5h-3M1248.5 687.6h-3M1254.5 878.6v3M1262.5 878.6v3M1269.1 878.6v5M1277.1 878.6v3M1285.1 878.6v3M1297.2 878.6v3M1306.9 878.6v3M1313.8 878.6v3M1319.1 878.6v3M1323.5 878.6v3M1327.2 878.6v3M1330.4 878.6v3M1333.2 878.6v3M1335.7 878.6v5M1352.3 878.6v3M1362 878.6v3M1368.9 878.6v3M1374.2 878.6v3M1378.6 878.6v3M1382.3 878.6v3M1385.5 878.6v3M1388.3 878.6v3M1390.9 878.6v5M1407.5 878.6v3M1417.2 878.6v3M1424.1 878.6v3M1429.4 878.6v3M1433.8 878.6v3M1437.5 878.6v3M1440.7 878.6v3M1443.5 878.6v3M1445.5 878.6v5" stroke="#2e2c2b" stroke-width="1.3" fill="none"/>
<text x="1269.1" y="897.1" text-anchor="middle">0</text>
<text x="1335.7" y="897.1" text-anchor="middle">10<tspan dy="-5.5" font-size="10.5">4</tspan></text>
<text x="1393.3" y="897.1" text-anchor="middle">10<tspan dy="-5.5" font-size="10.5">5</tspan></text>
<text x="1444.3" y="897.1" text-anchor="middle">10<tspan dy="-5.5" font-size="10.5">6</tspan></text>
<text text-anchor="middle" transform="translate(1239.5 878.6) rotate(-90)">0</text>
<text text-anchor="middle" transform="translate(1239.5 799) rotate(-90)">200</text>
<text text-anchor="middle" transform="translate(1239.5 719.4) rotate(-90)">400</text>
<ellipse cx="1508.5" cy="836.5" rx="16.7" ry="33.5" fill="#dc2a1c" transform="rotate(14 1508.5 836.5)"/>
<ellipse cx="1513" cy="818.6" rx="12.1" ry="25.1" fill="#dc2a1c" transform="rotate(14 1513 818.6)"/>
<clipPath id="g44"><rect x="1530.6" y="737.8" width="124.7" height="138.6"/></clipPath>
<g clip-path="url(#g44)"><ellipse cx="1508.5" cy="836.5" rx="16.7" ry="33.5" fill="#ee7a1e" transform="rotate(14 1508.5 836.5)"/></g>
<path transform="scale(.5)" d="M3067 1451h2m-9 13h2m3 7h2m-15 1h2m22 1h2m-28 1h2m4 14h2m-1 2h2m-3 2h2m0 1h2m-6 6h2m4 11h2m-17 2h2m10 0h2m0 3h2m-12 5h2m9 1h2m-22 3h2m3 2h2m-4 2h2m-8 1h2m1 0h2m-3 1h2m0 0h2m-1 2h2m-1 0h2m0 0h2m12 1h2m-46 1h2m17 0h2m12 2h2m-1 0h2m-17 2h2m5 0h2m2 0h2m9 1h2m-1 0h2m-9 1h2m-9 1h2m4 0h2m0 0h2m-10 1h2m-26 1h2m26 0h2m-26 2h2m0 0h2m23 0h2m2 0h2m-24 1h2m1 0h2m11 1h2m-20 1h2m12 0h2m-18 1h2m5 0h2m15 1h2m-16 1h2m-1 0h2m17 0h2m-10 1h2m4 0h2m-34 2h2m33 1h2m-5 1h2m-39 8h2m-6 1h2m-4 1h2m8 2h2m-14 1h2m0 0h2m-3 2h2m-11 1h2m10 0h2m-9 1h2m20 3h2m-19 1h2m-19 1h2m5 0h2m0 2h2m21 0h2m-31 1h2m0 0h2m46 0h2m-7 1h2m-44 2h2m29 0h2m-65 1h2m23 0h2m61 0h2m-66 1h2m1 0h2m9 1h2m14 1h2m6 0h2m-54 1h2m22 0h2m-24 1h2m-2 1h2m48 1h2m-11 1h2m-30 1h2m20 1h2m4 0h2m1 0h2m0 0h2m3 0h2m15 0h2m-52 1h2m22 0h2m-34 1h2m0 0h2m-2 0h2m23 0h2m30 0h2m-21 1h2m7 0h2m-46 1h2m0 0h2m24 0h2m14 0h2m17 1h2m-60 1h2m-34 1h2m34 1h2m6 0h2m38 0h2m-78 1h2m65 0h2m5 0h2m-67 3h2m23 0h2m-1 0h2m-35 1h2m0 0h2m7 1h2m15 0h2m40 1h2m-1 0h2m-83 1h2m6 0h2m3 0h2m5 0h2m-15 1h2m4 0h2m23 0h2m-42 2h2m18 0h2m-2 0h2m60 0h2m3 0h2m-67 2h2m-22 1h2m-4 1h2m14 1h2m13 0h2m0 0h2m0 0h2m-2 0h2m-31 1h2m79 0h2m-78 1h2m0 0h2m72 0h2m1 2h2m-68 6h2m59 2h2m-74 3h2m11 5h2m59 0h2m-2 0h2m-71 13h2m0 0h2m-4 2h2m-7 1h2m71 0h2m-70 2h2m-10 3h2m79 2h2m-90 5h2m4 1h2m74 0h2m-79 2h2m-5 6h2m-1 0h2m0 0h2m-8 10h2m84 1h2m-1 2h2m-84 1h2m-12 4h2m87 0h2m-5 2h2m-80 1h2m77 7h2m-2 1h2m-82 1h2m-7 2h2m-5 2h2m2 1h2m76 2h2m-4 3h2m-9 10h2m-2 1h2m-4 3h2m-1 0h2m-61 1h2m62 0h2m-4 1h2m-9 1h2m-58 1h2m-6 1h2m8 1h2m-5 1h2m44 1h2m-47 1h2m-1 2h2m43 2h2m-40 1h2m30 0h2m-33 1h2m26 1h2m7 0h2m-15 1h2m-8 2h2m0 0h2m1 0h2m-16 1h2m13 0h2m-20 1h2m6 0h2m15 0h2m-22 1h2m1 0h2m0 0h2m3 0h2m1 0h2m-2 0h2m-24 1h2" stroke="#f0958c" stroke-width="2" fill="none"/>
<path transform="scale(.5)" d="M3053 1496h2m2 10h2m-8 1h2m1 2h2m-9 3h2m-5 5h2m5 1h2m-7 2h2m0 0h2m4 4h2m-27 3h2m18 1h2m0 0h2m-2 3h2m-5 1h2m-9 1h2m-14 1h2m6 0h2m18 0h2m-24 2h2m14 0h2m2 0h2m-34 2h2m23 0h2m-1 0h2m-13 1h2m14 0h2m-3 1h2m-25 1h2m22 0h2m-19 3h2m18 0h2m-2 0h2m-18 1h2m5 0h2m-34 1h2m8 0h2m27 0h2m-1 0h2m-48 1h2m29 0h2m10 1h2m1 0h2m-25 1h2m-11 1h2m15 0h2m16 0h2m-21 1h2m-14 1h2m2 0h2m3 0h2m-1 0h2m-1 0h2m-5 1h2m1 0h2m-1 0h2m2 0h2m-1 0h2m-19 1h2m8 0h2m-2 0h2m2 0h2m-1 0h2m-1 0h2m1 0h2m-26 1h2m15 0h2m0 0h2m1 0h2m0 0h2m1 0h2m3 0h2m-25 1h2m0 0h2m21 0h2m-34 1h2m4 0h2m0 0h2m0 0h2m10 0h2m-12 1h2m8 0h2m8 0h2m-31 1h2m18 0h2m-1 0h2m8 0h2m-49 1h2m17 0h2m3 0h2m0 0h2m-1 0h2m5 0h2m5 0h2m-1 0h2m-1 0h2m-1 0h2m-33 1h2m2 0h2m-1 0h2m1 0h2m-1 0h2m13 0h2m-1 0h2m1 0h2m0 0h2m-24 1h2m10 0h2m3 0h2m-14 1h2m4 0h2m1 0h2m0 0h2m0 0h2m-25 1h2m4 0h2m8 0h2m-2 0h2m-2 0h2m-1 0h2m-10 1h2m0 0h2m4 0h2m-1 0h2m3 0h2m6 0h2m-31 1h2m4 0h2m-2 0h2m0 0h2m-2 0h2m8 0h2m8 0h2m-37 1h2m2 0h2m4 0h2m5 0h2m3 0h2m5 0h2m-47 1h2m16 0h2m5 0h2m-2 0h2m5 0h2m10 0h2m-1 0h2m-33 1h2m-2 0h2m12 0h2m0 0h2m-1 0h2m0 0h2m-2 0h2m3 0h2m1 0h2m2 0h2m3 0h2m-41 1h2m1 0h2m1 0h2m2 0h2m1 0h2m2 0h2m-1 0h2m2 0h2m2 0h2m2 0h2m0 0h2m5 0h2m0 0h2m-43 1h2m-1 0h2m7 0h2m3 0h2m8 0h2m-28 1h2m10 0h2m1 0h2m12 0h2m-1 0h2m2 0h2m3 0h2m-29 1h2m2 0h2m6 0h2m3 0h2m-1 0h2m-29 1h2m10 0h2m-1 0h2m7 0h2m-1 0h2m-1 0h2m8 0h2m-2 0h2m0 0h2m0 0h2m-43 1h2m-1 0h2m0 0h2m16 0h2m6 0h2m-25 1h2m3 0h2m7 0h2m-1 0h2m2 0h2m-1 0h2m2 0h2m-51 1h2m13 0h2m0 0h2m3 0h2m7 0h2m0 0h2m-2 0h2m1 0h2m1 0h2m-1 0h2m13 0h2m-40 1h2m4 0h2m0 0h2m13 0h2m0 0h2m4 0h2m2 0h2m-1 0h2m2 0h2m0 0h2m-46 1h2m1 0h2m15 0h2m-1 0h2m5 0h2m-1 0h2m0 0h2m0 0h2m9 0h2m0 0h2m-40 1h2m3 0h2m-2 0h2m6 0h2m-1 0h2m1 0h2m1 0h2m3 0h2m1 0h2m6 0h2m-48 1h2m10 0h2m-2 0h2m-1 0h2m7 0h2m2 0h2m-1 0h2m0 0h2m1 0h2m6 0h2m0 0h2m-61 1h2m0 0h2m7 0h2m0 0h2m6 0h2m3 0h2m-1 0h2m5 0h2m-2 0h2m4 0h2m6 0h2m3 0h2m1 0h2m-63 1h2m22 0h2m0 0h2m-1 0h2m7 0h2m7 0h2m6 0h2m-2 0h2m5 0h2m-2 0h2m-40 1h2m3 0h2m8 0h2m-1 0h2m0 0h2m0 0h2m-2 0h2m-1 0h2m1 0h2m-1 0h2m-1 0h2m-1 0h2m6 0h2m2 0h2m-38 1h2m1 0h2m5 0h2m-1 0h2m2 0h2m3 0h2m11 0h2m-1 0h2m1 0h2m-1 0h2m-1 0h2m-63 1h2m9 0h2m5 0h2m8 0h2m4 0h2m1 0h2m1 0h2m-1 0h2m0 0h2m-1 0h2m3 0h2m-2 0h2m6 0h2m0 0h2m-2 0h2m3 0h2m-53 1h2m3 0h2m0 0h2m7 0h2m3 0h2m-2 0h2m-1 0h2m0 0h2m2 0h2m1 0h2m1 0h2m-1 0h2m3 0h2m1 0h2m-2 0h2m-1 0h2m-34 1h2m0 0h2m4 0h2m6 0h2m1 0h2m6 0h2m0 0h2m3 0h2m2 0h2m-2 0h2m0 0h2m-1 0h2m-44 1h2m2 0h2m1 0h2m0 0h2m-1 0h2m-1 0h2m0 0h2m1 0h2m-1 0h2m4 0h2m-1 0h2m5 0h2m-1 0h2m-62 1h2m18 0h2m5 0h2m-2 0h2m-2 0h2m3 0h2m0 0h2m-2 0h2m-2 0h2m16 0h2m-1 0h2m-1 0h2m0 0h2m1 0h2m-1 0h2m7 0h2m-2 0h2m-65 1h2m7 0h2m3 0h2m3 0h2m-1 0h2m4 0h2m0 0h2m-1 0h2m0 0h2m7 0h2m2 0h2m-2 0h2m2 0h2m0 0h2m2 0h2m-1 0h2m3 0h2m-61 1h2m14 0h2m1 0h2m0 0h2m-2 0h2m0 0h2m2 0h2m2 0h2m2 0h2m-2 0h2m-2 0h2m3 0h2m5 0h2m-2 0h2m0 0h2m14 0h2m-54 1h2m0 0h2m-1 0h2m2 0h2m8 0h2m7 0h2m4 0h2m0 0h2m0 0h2m0 0h2m-2 0h2m8 0h2m-61 1h2m5 0h2m8 0h2m1 0h2m-1 0h2m1 0h2m-2 0h2m-2 0h2m-1 0h2m0 0h2m-1 0h2m-2 0h2m-1 0h2m3 0h2m2 0h2m-1 0h2m-1 0h2m-1 0h2m1 0h2m3 0h2m-1 0h2m-1 0h2m2 0h2m1 0h2m1 0h2m0 0h2m-52 1h2m2 0h2m5 0h2m-1 0h2m0 0h2m-1 0h2m-2 0h2m1 0h2m-2 0h2m-1 0h2m-1 0h2m0 0h2m-1 0h2m0 0h2m-1 0h2m-1 0h2m-1 0h2m7 0h2m-2 0h2m8 0h2m-57 1h2m0 0h2m-1 0h2m6 0h2m2 0h2m0 0h2m4 0h2m-1 0h2m-1 0h2m1 0h2m0 0h2m-1 0h2m0 0h2m-2 0h2m-1 0h2m-1 0h2m-1 0h2m-2 0h2m0 0h2m0 0h2m1 0h2m2 0h2m5 0h2m-1 0h2m1 0h2m-57 1h2m-2 0h2m1 0h2m2 0h2m-2 0h2m1 0h2m0 0h2m4 0h2m2 0h2m1 0h2m-1 0h2m-2 0h2m3 0h2m0 0h2m-1 0h2m-1 0h2m3 0h2m3 0h2m0 0h2m0 0h2m-59 1h2m4 0h2m10 0h2m6 0h2m1 0h2m-1 0h2m2 0h2m0 0h2m-1 0h2m-1 0h2m-2 0h2m-2 0h2m1 0h2m-2 0h2m-2 0h2m-1 0h2m10 0h2m-1 0h2m0 0h2m0 0h2m-1 0h2m-73 1h2m8 0h2m3 0h2m4 0h2m-2 0h2m-1 0h2m1 0h2m1 0h2m6 0h2m-2 0h2m1 0h2m0 0h2m5 0h2m-1 0h2m-2 0h2m0 0h2m-1 0h2m-2 0h2m0 0h2m1 0h2m-2 0h2m-1 0h2m-1 0h2m1 0h2m5 0h2m-2 0h2m-68 1h2m17 0h2m2 0h2m9 0h2m-1 0h2m1 0h2m-1 0h2m-2 0h2m6 0h2m-2 0h2m-2 0h2m2 0h2m-1 0h2m-1 0h2m-1 0h2m3 0h2m6 0h2m-58 1h2m1 0h2m-2 0h2m1 0h2m-2 0h2m0 0h2m0 0h2m0 0h2m1 0h2m-1 0h2m6 0h2m-2 0h2m-2 0h2m-2 0h2m-1 0h2m-1 0h2m1 0h2m2 0h2m2 0h2m1 0h2m-1 0h2m0 0h2m-1 0h2m-1 0h2m2 0h2m4 0h2m-1 0h2m-75 1h2m24 0h2m3 0h2m1 0h2m5 0h2m-2 0h2m-2 0h2m-1 0h2m-1 0h2m1 0h2m0 0h2m-2 0h2m-1 0h2m-2 0h2m1 0h2m-2 0h2m-1 0h2m-1 0h2m0 0h2m-1 0h2m-1 0h2m5 0h2m-1 0h2m-2 0h2m2 0h2m4 0h2m-2 0h2m-99 1h2m14 0h2m0 0h2m11 0h2m6 0h2m0 0h2m13 0h2m8 0h2m0 0h2m0 0h2m1 0h2m-2 0h2m0 0h2m-1 0h2m1 0h2m0 0h2m-2 0h2m0 0h2m-1 0h2m-1 0h2m-1 0h2m-1 0h2m0 0h2m-1 0h2m-1 0h2m-2 0h2m1 0h2m-65 1h2m-2 0h2m1 0h2m-2 0h2m8 0h2m-1 0h2m-1 0h2m-1 0h2m4 0h2m0 0h2m1 0h2m-1 0h2m-1 0h2m-1 0h2m0 0h2m-2 0h2m0 0h2m0 0h2m0 0h2m-1 0h2m-1 0h2m0 0h2m1 0h2m0 0h2m-2 0h2m0 0h2m4 0h2m1 0h2m-75 1h2m17 0h2m7 0h2m0 0h2m8 0h2m1 0h2m-2 0h2m-2 0h2m2 0h2m-1 0h2m-1 0h2m0 0h2m0 0h2m0 0h2m0 0h2m-2 0h2m1 0h2m-2 0h2m-1 0h2m0 0h2m0 0h2m3 0h2m4 0h2m-52 1h2m-1 0h2m-2 0h2m-1 0h2m3 0h2m-1 0h2m1 0h2m0 0h2m0 0h2m-1 0h2m-1 0h2m-2 0h2m3 0h2m-2 0h2m0 0h2m-2 0h2m0 0h2m0 0h2m-2 0h2m-1 0h2m-1 0h2m-1 0h2m0 0h2m0 0h2m-2 0h2m-2 0h2m-1 0h2m-1 0h2m-1 0h2m1 0h2m0 0h2m4 0h2m-1 0h2m-76 1h2m13 0h2m0 0h2m5 0h2m-1 0h2m-2 0h2m5 0h2m4 0h2m-1 0h2m0 0h2m-2 0h2m-1 0h2m-2 0h2m0 0h2m-2 0h2m-2 0h2m-2 0h2m0 0h2m-1 0h2m-1 0h2m-1 0h2m-2 0h2m-1 0h2m0 0h2m-2 0h2m-1 0h2m1 0h2m-2 0h2m-1 0h2m-1 0h2m-1 0h2m-1 0h2m-1 0h2m2 0h2m-1 0h2m-1 0h2m-1 0h2m-1 0h2m-1 0h2m-52 1h2m5 0h2m-2 0h2m3 0h2m1 0h2m0 0h2m-1 0h2m-1 0h2m-1 0h2m0 0h2m-2 0h2m1 0h2m-2 0h2m-2 0h2m-2 0h2m-1 0h2m0 0h2m-2 0h2m1 0h2m-2 0h2m-1 0h2m-2 0h2m2 0h2m1 0h2m-2 0h2m-2 0h2m-1 0h2m-2 0h2m-1 0h2m-2 0h2m-1 0h2m0 0h2m1 0h2m1 0h2m3 0h2m1 0h2m-76 1h2m19 0h2m0 0h2m-1 0h2m1 0h2m-1 0h2m-2 0h2m0 0h2m2 0h2m-2 0h2m-1 0h2m-2 0h2m0 0h2m-1 0h2m-1 0h2m-2 0h2m0 0h2m-1 0h2m-2 0h2m-1 0h2m-1 0h2m-2 0h2m-2 0h2m0 0h2m-1 0h2m1 0h2m-1 0h2m2 0h2m-2 0h2m-2 0h2m-2 0h2m0 0h2m-1 0h2m2 0h2m-2 0h2m-1 0h2m6 0h2m-2 0h2m0 0h2m-53 1h2m5 0h2m0 0h2m1 0h2m1 0h2m-1 0h2m-1 0h2m0 0h2m-2 0h2m-2 0h2m0 0h2m-1 0h2m-1 0h2m0 0h2m-2 0h2m-1 0h2m-2 0h2m-1 0h2m-1 0h2m-1 0h2m-1 0h2m-1 0h2m-2 0h2m-2 0h2m-2 0h2m-1 0h2m-2 0h2m0 0h2m-1 0h2m-2 0h2m1 0h2m-2 0h2m1 0h2m-2 0h2m-1 0h2m2 0h2m1 0h2m-81 1h2m-1 0h2m6 0h2m7 0h2m-2 0h2m5 0h2m-2 0h2m0 0h2m-1 0h2m3 0h2m3 0h2m0 0h2m-1 0h2m-1 0h2m-2 0h2m0 0h2m-2 0h2m-2 0h2m0 0h2m-1 0h2m0 0h2m-2 0h2m1 0h2m-2 0h2m1 0h2m-1 0h2m-2 0h2m-1 0h2m-1 0h2m-2 0h2m-1 0h2m-1 0h2m2 0h2m-2 0h2m-2 0h2m-1 0h2m-1 0h2m-2 0h2m-1 0h2m-2 0h2m-2 0h2m3 0h2m-1 0h2m2 0h2m3 0h2m-1 0h2m-94 1h2m13 0h2m-2 0h2m9 0h2m-1 0h2m1 0h2m-1 0h2m3 0h2m2 0h2m-2 0h2m-1 0h2m2 0h2m1 0h2m-2 0h2m0 0h2m-2 0h2m-1 0h2m-1 0h2m-1 0h2m-2 0h2m-1 0h2m-2 0h2m-2 0h2m-1 0h2m-2 0h2m-1 0h2m-1 0h2m-2 0h2m-2 0h2m4 0h2m-2 0h2m-1 0h2m-1 0h2m-2 0h2m-2 0h2m-1 0h2m-2 0h2m-2 0h2m0 0h2m-2 0h2m-1 0h2m-2 0h2m-1 0h2m-1 0h2m-1 0h2m0 0h2m-1 0h2m0 0h2m-1 0h2m-1 0h2m-1 0h2m-2 0h2m-1 0h2m0 0h2m5 0h2m-71 1h2m2 0h2m6 0h2m9 0h2m-2 0h2m-2 0h2m-1 0h2m-1 0h2m-2 0h2m-2 0h2m-2 0h2m0 0h2m-1 0h2m0 0h2m-2 0h2m-2 0h2m-2 0h2m-1 0h2m-2 0h2m-2 0h2m0 0h2m-1 0h2m-2 0h2m-2 0h2m-2 0h2m0 0h2m-1 0h2m-1 0h2m2 0h2m-1 0h2m-1 0h2m2 0h2m-2 0h2m-2 0h2m1 0h2m-2 0h2m-1 0h2m-2 0h2m-2 0h2m-2 0h2m-1 0h2m3 0h2m10 0h2m-73 1h2m7 0h2m2 0h2m-2 0h2m-1 0h2m2 0h2m-1 0h2m-1 0h2m-1 0h2m-1 0h2m0 0h2m1 0h2m0 0h2m0 0h2m0 0h2m-1 0h2m0 0h2m-1 0h2m-1 0h2m-1 0h2m2 0h2m-2 0h2m1 0h2m-2 0h2m2 0h2m-2 0h2m-2 0h2m-1 0h2m-2 0h2m-1 0h2m-1 0h2m-2 0h2m-1 0h2m-2 0h2m3 0h2m0 0h2m-1 0h2m4 0h2m-75 1h2m-1 0h2m9 0h2m1 0h2m-2 0h2m7 0h2m1 0h2m-1 0h2m2 0h2m0 0h2m-2 0h2m-2 0h2m-2 0h2m-1 0h2m-2 0h2m-2 0h2m-2 0h2m-1 0h2m-2 0h2m-1 0h2m-2 0h2m-2 0h2m-2 0h2m-1 0h2m-2 0h2m-2 0h2m-1 0h2m-1 0h2m-2 0h2m1 0h2m-2 0h2m1 0h2m-1 0h2m-1 0h2m-1 0h2m-2 0h2m2 0h2m0 0h2m1 0h2m-1 0h2m-2 0h2m-2 0h2m3 0h2m1 0h2m-1 0h2m-2 0h2m2 0h2m0 0h2m-56 1h2m3 0h2m4 0h2m-1 0h2m0 0h2m-2 0h2m0 0h2m-2 0h2m-2 0h2m-1 0h2m-1 0h2m-2 0h2m0 0h2m2 0h2m-1 0h2m0 0h2m4 0h2m1 0h2m-2 0h2m-1 0h2m-2 0h2m-1 0h2m-2 0h2m0 0h2m-1 0h2m-1 0h2m-2 0h2m-1 0h2m1 0h2m2 0h2m3 0h2m-2 0h2m-68 1h2m-1 0h2m3 0h2m1 0h2m2 0h2m2 0h2m0 0h2m0 0h2m-1 0h2m0 0h2m-1 0h2m-2 0h2m-2 0h2m-1 0h2m-2 0h2m-2 0h2m-2 0h2m1 0h2m1 0h2m-2 0h2m3 0h2m1 0h2m-1 0h2m-2 0h2m0 0h2m-1 0h2m2 0h2m-1 0h2m-2 0h2m-1 0h2m-2 0h2m-1 0h2m1 0h2m-1 0h2m-2 0h2m-2 0h2m-1 0h2m-1 0h2m-2 0h2m-1 0h2m-1 0h2m-2 0h2m0 0h2m-1 0h2m-1 0h2m-1 0h2m-70 1h2m10 0h2m3 0h2m0 0h2m-2 0h2m1 0h2m-1 0h2m-2 0h2m-2 0h2m-2 0h2m-1 0h2m0 0h2m-1 0h2m-2 0h2m-1 0h2m-2 0h2m-2 0h2m-2 0h2m4 0h2m-2 0h2m2 0h2m-1 0h2m-1 0h2m-2 0h2m-2 0h2m4 0h2m-2 0h2m-1 0h2m-1 0h2m-1 0h2m-1 0h2m0 0h2m-1 0h2m-2 0h2m-1 0h2m-2 0h2m-1 0h2m-2 0h2m-2 0h2m2 0h2m-1 0h2m2 0h2m-2 0h2m-2 0h2m-1 0h2m-1 0h2m0 0h2m-95 1h2m25 0h2m-2 0h2m7 0h2m-1 0h2m3 0h2m0 0h2m-2 0h2m-2 0h2m1 0h2m-1 0h2m0 0h2m-2 0h2m-1 0h2m-2 0h2m-1 0h2m-1 0h2m-2 0h2m-2 0h2m3 0h2m-2 0h2m-1 0h2m-2 0h2m8 0h2m-1 0h2m-1 0h2m-2 0h2m-1 0h2m-1 0h2m5 0h2m-2 0h2m-2 0h2m-1 0h2m-1 0h2m-2 0h2m-2 0h2m0 0h2m0 0h2m-2 0h2m6 0h2m-67 1h2m-2 0h2m3 0h2m-1 0h2m4 0h2m-1 0h2m-2 0h2m0 0h2m-1 0h2m-1 0h2m0 0h2m-1 0h2m-2 0h2m-2 0h2m-1 0h2m-1 0h2m-1 0h2m1 0h2m-1 0h2m-2 0h2m1 0h2m-2 0h2m-2 0h2m-1 0h2m-1 0h2m0 0h2m2 0h2m-1 0h2m2 0h2m-1 0h2m0 0h2m-1 0h2m3 0h2m0 0h2m-1 0h2m-1 0h2m3 0h2m5 0h2m-79 1h2m0 0h2m9 0h2m-1 0h2m1 0h2m-2 0h2m4 0h2m-1 0h2m-2 0h2m-2 0h2m3 0h2m-2 0h2m-1 0h2m-1 0h2m-2 0h2m-1 0h2m-2 0h2m-1 0h2m2 0h2m-1 0h2m-2 0h2m6 0h2m-2 0h2m-1 0h2m-2 0h2m1 0h2m-1 0h2m-2 0h2m1 0h2m3 0h2m-2 0h2m1 0h2m-2 0h2m-2 0h2m1 0h2m0 0h2m-1 0h2m0 0h2m0 0h2m1 0h2m-1 0h2m-2 0h2m-1 0h2m-2 0h2m-1 0h2m-82 1h2m13 0h2m-1 0h2m3 0h2m3 0h2m2 0h2m0 0h2m-2 0h2m-2 0h2m-2 0h2m4 0h2m-1 0h2m2 0h2m-2 0h2m1 0h2m0 0h2m-2 0h2m1 0h2m-2 0h2m1 0h2m0 0h2m0 0h2m-1 0h2m2 0h2m-2 0h2m-1 0h2m-2 0h2m-2 0h2m-2 0h2m0 0h2m-2 0h2m-2 0h2m-1 0h2m0 0h2m-2 0h2m-1 0h2m-2 0h2m3 0h2m0 0h2m-2 0h2m0 0h2m-88 1h2m12 0h2m5 0h2m3 0h2m3 0h2m-1 0h2m-2 0h2m-1 0h2m0 0h2m-2 0h2m0 0h2m-1 0h2m1 0h2m2 0h2m-1 0h2m5 0h2m1 0h2m4 0h2m0 0h2m0 0h2m0 0h2m-1 0h2m-2 0h2m-2 0h2m-1 0h2m-2 0h2m-1 0h2m-1 0h2m-2 0h2m-1 0h2m-1 0h2m2 0h2m0 0h2m2 0h2m-71 1h2m2 0h2m5 0h2m2 0h2m-2 0h2m-1 0h2m0 0h2m-2 0h2m1 0h2m-2 0h2m-1 0h2m-2 0h2m-2 0h2m2 0h2m-2 0h2m0 0h2m6 0h2m1 0h2m-1 0h2m-1 0h2m-1 0h2m0 0h2m-2 0h2m4 0h2m3 0h2m-1 0h2m0 0h2m-2 0h2m0 0h2m-1 0h2m-2 0h2m0 0h2m-2 0h2m-1 0h2m2 0h2m-1 0h2m0 0h2m-81 1h2m11 0h2m4 0h2m-1 0h2m-1 0h2m0 0h2m0 0h2m5 0h2m6 0h2m3 0h2m-1 0h2m-1 0h2m-2 0h2m0 0h2m4 0h2m0 0h2m-1 0h2m3 0h2m-1 0h2m-2 0h2m-1 0h2m-2 0h2m0 0h2m1 0h2m-1 0h2m-1 0h2m2 0h2m-71 1h2m-1 0h2m-1 0h2m0 0h2m3 0h2m-2 0h2m4 0h2m-2 0h2m2 0h2m-2 0h2m-1 0h2m2 0h2m-1 0h2m4 0h2m-1 0h2m-1 0h2m-2 0h2m8 0h2m-1 0h2m2 0h2m-2 0h2m1 0h2m-2 0h2m-1 0h2m-1 0h2m2 0h2m0 0h2m2 0h2m0 0h2m-2 0h2m1 0h2m1 0h2m-69 1h2m7 0h2m-1 0h2m-1 0h2m-1 0h2m-1 0h2m0 0h2m-2 0h2m-2 0h2m-1 0h2m-2 0h2m2 0h2m-1 0h2m0 0h2m-1 0h2m1 0h2m-1 0h2m-1 0h2m-1 0h2m-2 0h2m6 0h2m-1 0h2m-1 0h2m-2 0h2m-2 0h2m0 0h2m-2 0h2m0 0h2m0 0h2m0 0h2m-2 0h2m5 0h2m-1 0h2m-2 0h2m0 0h2m1 0h2m-2 0h2m0 0h2m-72 1h2m6 0h2m3 0h2m-1 0h2m7 0h2m-1 0h2m1 0h2m-2 0h2m3 0h2m3 0h2m5 0h2m1 0h2m-2 0h2m-1 0h2m-2 0h2m0 0h2m-1 0h2m2 0h2m1 0h2m-2 0h2m1 0h2m-2 0h2m-1 0h2m-2 0h2m1 0h2m-1 0h2m-1 0h2m2 0h2m2 0h2m-2 0h2m-59 1h2m1 0h2m2 0h2m-1 0h2m1 0h2m-1 0h2m6 0h2m-2 0h2m-2 0h2m2 0h2m-1 0h2m2 0h2m-2 0h2m5 0h2m1 0h2m-1 0h2m1 0h2m-1 0h2m-2 0h2m-1 0h2m0 0h2m0 0h2m-2 0h2m-2 0h2m-1 0h2m0 0h2m-2 0h2m0 0h2m0 0h2m-1 0h2m-59 1h2m0 0h2m-1 0h2m1 0h2m4 0h2m-1 0h2m1 0h2m-1 0h2m1 0h2m1 0h2m4 0h2m2 0h2m0 0h2m-1 0h2m-2 0h2m2 0h2m1 0h2m-1 0h2m-2 0h2m-1 0h2m-2 0h2m-2 0h2m-1 0h2m-1 0h2m2 0h2m-53 1h2m-1 0h2m-1 0h2m-1 0h2m9 0h2m-1 0h2m1 0h2m-1 0h2m-1 0h2m6 0h2m1 0h2m-1 0h2m0 0h2m1 0h2m-2 0h2m-2 0h2m-1 0h2m3 0h2m-1 0h2m0 0h2m-2 0h2m4 0h2m-1 0h2m3 0h2m-60 1h2m-1 0h2m1 0h2m6 0h2m1 0h2m3 0h2m5 0h2m-1 0h2m-2 0h2m6 0h2m0 0h2m1 0h2m-1 0h2m-1 0h2m-1 0h2m-1 0h2m-2 0h2m-1 0h2m-1 0h2m2 0h2m-54 1h2m0 0h2m-2 0h2m12 0h2m5 0h2m0 0h2m-2 0h2m-1 0h2m8 0h2m4 0h2m0 0h2m-1 0h2m-1 0h2m-1 0h2m2 0h2m-62 1h2m8 0h2m-1 0h2m-1 0h2m9 0h2m2 0h2m2 0h2m0 0h2m-2 0h2m0 0h2m0 0h2m0 0h2m0 0h2m3 0h2m6 0h2m-2 0h2m-2 0h2m-1 0h2m-2 0h2m-2 0h2m0 0h2m0 0h2m-1 0h2m-2 0h2m-1 0h2m-1 0h2m3 0h2m-62 1h2m1 0h2m-1 0h2m22 0h2m7 0h2m-1 0h2m3 0h2m-1 0h2m1 0h2m-2 0h2m0 0h2m0 0h2m-2 0h2m-1 0h2m5 0h2m-1 0h2m-2 0h2m-67 1h2m5 0h2m-1 0h2m-2 0h2m-2 0h2m23 0h2m0 0h2m5 0h2m0 0h2m0 0h2m-1 0h2m1 0h2m0 0h2m0 0h2m4 0h2m-1 0h2m1 0h2m-2 0h2m0 0h2m-63 1h2m-1 0h2m30 0h2m5 0h2m-1 0h2m-2 0h2m-1 0h2m0 0h2m1 0h2m-1 0h2m-1 0h2m-1 0h2m-1 0h2m1 0h2m-2 0h2m1 0h2m-1 0h2m-1 0h2m-2 0h2m-1 0h2m-60 1h2m-2 0h2m29 0h2m7 0h2m0 0h2m0 0h2m-1 0h2m-1 0h2m-1 0h2m-2 0h2m-2 0h2m-1 0h2m-2 0h2m-1 0h2m-1 0h2m0 0h2m0 0h2m-1 0h2m2 0h2m-67 1h2m2 0h2m-2 0h2m0 0h2m38 0h2m-2 0h2m-1 0h2m-1 0h2m2 0h2m-1 0h2m-2 0h2m0 0h2m-1 0h2m-1 0h2m5 0h2m-63 1h2m46 0h2m-1 0h2m-2 0h2m-2 0h2m1 0h2m2 0h2m-2 0h2m-1 0h2m-1 0h2m0 0h2m-71 1h2m7 0h2m-1 0h2m46 0h2m-2 0h2m1 0h2m2 0h2m0 0h2m-1 0h2m0 0h2m-1 0h2m-69 1h2m4 0h2m-2 0h2m-1 0h2m46 0h2m-2 0h2m-1 0h2m-2 0h2m-1 0h2m-1 0h2m2 0h2m1 0h2m-61 1h2m49 0h2m-2 0h2m-2 0h2m7 0h2m-63 1h2m47 0h2m-1 0h2m-2 0h2m-1 0h2m-2 0h2m-1 0h2m-72 1h2m14 0h2m-1 0h2m48 0h2m0 0h2m1 0h2m2 0h2m-64 1h2m-1 0h2m50 0h2m-2 0h2m-2 0h2m-1 0h2m-1 0h2m-1 0h2m-1 0h2m-61 1h2m1 0h2m-2 0h2m-1 0h2m-1 0h2m-2 0h2m-7 1h2m0 0h2m52 0h2m-2 0h2m-1 0h2m-1 0h2m1 0h2m-69 1h2m8 0h2m-1 0h2m48 0h2m-1 0h2m-1 0h2m-2 0h2m0 0h2m1 0h2m-62 1h2m54 0h2m-1 0h2m-1 0h2m-62 1h2m-2 0h2m-2 0h2m0 0h2m-1 0h2m-1 0h2m-2 0h2m-2 0h2m50 0h2m-67 1h2m3 0h2m2 0h2m0 0h2m-1 0h2m-1 0h2m-2 0h2m50 0h2m-2 0h2m-2 0h2m0 0h2m-62 1h2m3 0h2m-2 0h2m50 0h2m-1 0h2m5 0h2m-64 1h2m-1 0h2m-1 0h2m-2 0h2m51 0h2m-1 0h2m-64 1h2m2 0h2m0 0h2m-1 0h2m-1 0h2m50 0h2m-2 0h2m-2 0h2m1 0h2m0 0h2m0 0h2m-64 1h2m-2 0h2m-1 0h2m-1 0h2m52 0h2m3 0h2m-1 0h2m-66 1h2m-2 0h2m1 0h2m52 0h2m-2 0h2m-1 0h2m-2 0h2m-60 1h2m-1 0h2m-1 0h2m-1 0h2m52 0h2m-2 0h2m-2 0h2m-1 0h2m-1 0h2m-1 0h2m-1 0h2m-65 1h2m0 0h2m1 0h2m53 0h2m0 0h2m1 0h2m1 0h2m-72 1h2m4 0h2m52 0h2m2 0h2m-2 0h2m-64 1h2m0 0h2m54 0h2m-1 0h2m-2 0h2m-58 1h2m53 0h2m1 0h2m-2 0h2m-1 0h2m-76 1h2m10 0h2m-1 0h2m0 0h2m53 0h2m1 0h2m-2 0h2m0 0h2m-67 1h2m3 0h2m54 0h2m2 0h2m-71 1h2m-1 0h2m-2 0h2m3 0h2m-2 0h2m0 0h2m-2 0h2m55 0h2m-1 0h2m-66 1h2m-1 0h2m0 0h2m-1 0h2m-1 0h2m0 0h2m-2 0h2m54 0h2m-2 0h2m-1 0h2m-2 0h2m-70 1h2m1 0h2m1 0h2m-2 0h2m59 0h2m-2 0h2m0 0h2m-69 1h2m2 1h2m57 0h2m-2 0h2m0 0h2m3 0h2m-70 1h2m-1 0h2m-2 0h2m-2 0h2m58 0h2m-1 0h2m-1 0h2m-69 1h2m0 0h2m1 0h2m58 0h2m-1 0h2m-1 0h2m-2 0h2m0 0h2m-67 1h2m59 0h2m-1 0h2m-1 0h2m0 0h2m-66 1h2m57 0h2m1 0h2m-1 0h2m-66 1h2m-2 0h2m-1 0h2m59 0h2m-2 0h2m-1 0h2m-73 1h2m3 0h2m-1 0h2m63 0h2m0 0h2m-84 1h2m14 0h2m-2 0h2m-1 0h2m-2 0h2m62 0h2m-72 1h2m-1 0h2m1 0h2m0 0h2m-2 0h2m62 0h2m-1 0h2m-70 1h2m-1 0h2m0 0h2m57 0h2m1 0h2m1 0h2m-71 1h2m-1 0h2m-2 0h2m0 0h2m58 0h2m-2 0h2m-1 0h2m-2 0h2m0 0h2m-68 1h2m0 0h2m-1 0h2m-1 0h2m62 0h2m-1 0h2m-74 1h2m3 0h2m-1 0h2m-2 0h2m63 0h2m-2 0h2m-1 0h2m-72 1h2m1 0h2m-2 0h2m-1 0h2m64 0h2m-2 0h2m-2 0h2m-1 0h2m-2 0h2m0 0h2m-79 1h2m0 0h2m0 0h2m0 0h2m0 0h2m-2 0h2m62 0h2m-2 0h2m-1 0h2m-2 0h2m-1 0h2m-1 0h2m-1 0h2m0 0h2m-77 1h2m3 0h2m64 0h2m-1 0h2m-88 1h2m17 0h2m62 0h2m-2 0h2m-1 0h2m0 0h2m1 0h2m-72 1h2m61 0h2m0 0h2m0 0h2m-79 1h2m7 0h2m62 0h2m-1 0h2m-2 0h2m2 1h2m-71 1h2m-1 0h2m-2 0h2m-2 0h2m61 0h2m-1 0h2m2 0h2m-77 1h2m-1 0h2m-1 0h2m-1 0h2m2 0h2m-2 0h2m-2 0h2m60 0h2m0 0h2m-2 0h2m2 0h2m-1 0h2m-83 1h2m9 0h2m61 0h2m-2 0h2m-1 0h2m0 0h2m-2 0h2m-71 1h2m2 0h2m-2 0h2m59 0h2m-2 0h2m0 0h2m-70 1h2m2 0h2m60 0h2m-2 0h2m-2 0h2m-1 0h2m0 0h2m-1 0h2m1 0h2m-72 1h2m-1 0h2m65 0h2m-1 0h2m-70 1h2m-1 0h2m58 0h2m-1 0h2m1 0h2m-76 1h2m4 0h2m0 0h2m-2 0h2m60 0h2m-1 0h2m-1 0h2m-2 0h2m-2 0h2m2 0h2m-72 1h2m-1 0h2m-1 0h2m-1 0h2m58 0h2m-1 0h2m-2 0h2m-2 0h2m-2 0h2m-2 0h2m-2 0h2m0 0h2m-69 1h2m-1 0h2m1 0h2m-1 0h2m57 0h2m-2 0h2m-2 0h2m-2 0h2m-1 0h2m-2 0h2m-1 0h2m0 0h2m-1 0h2m-1 0h2m-67 1h2m58 0h2m-2 0h2m0 0h2m-2 0h2m0 0h2m-71 1h2m0 0h2m0 0h2m-2 0h2m61 0h2m-2 0h2m-1 0h2m-70 1h2m-1 0h2m-1 0h2m1 0h2m56 0h2m4 0h2m-1 0h2m-74 1h2m2 0h2m-2 0h2m-1 0h2m-1 0h2m-2 0h2m0 0h2m58 0h2m-1 0h2m-67 1h2m57 0h2m-1 0h2m-1 0h2m-2 0h2m2 0h2m-70 1h2m1 0h2m-1 0h2m-1 0h2m0 0h2m55 0h2m-2 0h2m-2 0h2m9 0h2m-82 1h2m6 0h2m-2 0h2m-1 0h2m0 0h2m-2 0h2m-1 0h2m52 0h2m-1 0h2m-60 1h2m-1 0h2m-2 0h2m-1 0h2m53 0h2m-1 0h2m-1 0h2m-66 1h2m0 0h2m3 0h2m-1 0h2m52 0h2m1 0h2m-2 0h2m2 0h2m-73 1h2m1 0h2m1 0h2m-1 0h2m-1 0h2m53 0h2m-1 0h2m-2 0h2m-2 0h2m0 0h2m-65 1h2m3 0h2m-1 0h2m-1 0h2m50 0h2m0 0h2m-2 0h2m-2 0h2m0 0h2m2 0h2m1 0h2m-69 1h2m-1 0h2m54 0h2m6 0h2m-65 1h2m55 0h2m-65 1h2m1 0h2m-2 0h2m1 0h2m1 0h2m-2 0h2m48 0h2m-1 0h2m-2 0h2m8 0h2m-68 1h2m-1 0h2m-1 0h2m50 0h2m-2 0h2m-2 0h2m3 0h2m1 0h2m5 0h2m-83 1h2m15 0h2m-1 0h2m52 0h2m-59 1h2m-1 0h2m47 0h2m3 0h2m0 0h2m1 0h2m-65 1h2m-1 0h2m-2 0h2m2 0h2m-2 0h2m-1 0h2m-1 0h2m45 0h2m-1 0h2m-1 0h2m-1 0h2m2 0h2m-65 1h2m3 0h2m49 0h2m6 0h2m-72 1h2m4 0h2m-1 0h2m-1 0h2m3 0h2m43 0h2m-2 0h2m0 0h2m-2 0h2m0 0h2m1 0h2m-59 1h2m-1 0h2m3 0h2m-2 0h2m-2 0h2m41 0h2m0 0h2m0 0h2m-51 1h2m1 0h2m-1 0h2m-2 0h2m40 0h2m-2 0h2m-65 1h2m8 0h2m49 0h2m-1 0h2m-2 0h2m-2 0h2m-1 0h2m0 0h2m-1 0h2m0 0h2m-2 0h2m2 0h2m-64 1h2m9 0h2m37 0h2m-1 0h2m-2 0h2m-1 0h2m-2 0h2m-1 0h2m-1 0h2m-2 0h2m-1 0h2m-53 1h2m2 0h2m0 0h2m40 0h2m-2 0h2m-2 0h2m5 0h2m7 0h2m-63 1h2m-1 0h2m-1 0h2m-2 0h2m37 0h2m0 0h2m2 0h2m-2 0h2m4 0h2m-65 1h2m7 0h2m-1 0h2m39 0h2m-2 0h2m0 0h2m0 0h2m0 0h2m-1 0h2m-51 1h2m-2 0h2m3 0h2m33 0h2m0 0h2m-2 0h2m1 0h2m0 0h2m-2 0h2m-2 0h2m2 0h2m-52 1h2m-1 0h2m0 0h2m-1 0h2m1 0h2m-1 0h2m29 0h2m-1 0h2m12 0h2m-60 1h2m3 0h2m0 0h2m0 0h2m-2 0h2m-1 0h2m-1 0h2m-1 0h2m-1 0h2m-2 0h2m-2 0h2m28 0h2m-2 0h2m-45 1h2m-2 0h2m3 0h2m1 0h2m0 0h2m1 0h2m25 0h2m1 0h2m-1 0h2m1 0h2m-60 1h2m3 0h2m0 0h2m11 0h2m2 0h2m24 0h2m1 0h2m-1 0h2m1 0h2m1 0h2m-2 0h2m-47 1h2m-1 0h2m0 0h2m0 0h2m0 0h2m-1 0h2m-2 0h2m-2 0h2m0 0h2m-2 0h2m-2 0h2m-1 0h2m-1 0h2m19 0h2m-2 0h2m2 0h2m-2 0h2m-2 0h2m3 0h2m2 0h2m13 0h2m-75 1h2m7 0h2m0 0h2m2 0h2m0 0h2m3 0h2m0 0h2m-2 0h2m-1 0h2m-2 0h2m-1 0h2m-2 0h2m-2 0h2m15 0h2m-2 0h2m-2 0h2m1 0h2m1 0h2m-1 0h2m-2 0h2m4 0h2m-44 1h2m3 0h2m0 0h2m0 0h2m-2 0h2m0 0h2m0 0h2m0 0h2m8 0h2m-2 0h2m1 0h2m-2 0h2m0 0h2m-2 0h2m-1 0h2m0 0h2m-1 0h2m-1 0h2m-1 0h2m2 0h2m1 0h2m-44 1h2m0 0h2m2 0h2m0 0h2m2 0h2m6 0h2m-2 0h2m1 0h2m-2 0h2m-1 0h2m-1 0h2m-2 0h2m-1 0h2m-1 0h2m0 0h2m3 0h2m14 0h2m-56 1h2m1 0h2m0 0h2m4 0h2m0 0h2m-1 0h2m0 0h2m-2 0h2m-1 0h2m0 0h2m0 0h2m-1 0h2m-2 0h2m-2 0h2m-1 0h2m0 0h2m-1 0h2m-2 0h2m0 0h2m4 0h2m1 0h2m-1 0h2m0 0h2m-37 1h2m2 0h2m-2 0h2m6 0h2m-1 0h2m-1 0h2m-2 0h2m0 0h2m1 0h2m1 0h2m3 0h2m-2 0h2m-1 0h2m-1 0h2m2 0h2m-2 0h2m-37 1h2m3 0h2m0 0h2m0 0h2m0 0h2m3 0h2m0 0h2m-1 0h2m-1 0h2m-1 0h2m0 0h2m-1 0h2m-1 0h2m-1 0h2m0 0h2m-1 0h2m-2 0h2m1 0h2m-1 0h2m1 0h2m-30 1h2m0 0h2m3 0h2m5 0h2m-1 0h2m-1 0h2m-1 0h2m3 0h2m0 0h2m-1 0h2m0 0h2m-34 1h2m1 0h2m-2 0h2m1 0h2m-1 0h2m0 0h2m4 0h2m3 0h2m-1 0h2m-1 0h2m8 0h2m-40 1h2m3 0h2m0 0h2m0 0h2m0 0h2m0 0h2m2 0h2m-1 0h2m-2 0h2m-1 0h2m0 0h2m8 0h2m-1 0h2m5 0h2m9 0h2m-55 1h2m8 0h2m2 0h2m1 0h2m-2 0h2m3 0h2m2 0h2m8 0h2m-24 1h2m3 0h2m2 0h2m-1 0h2m10 0h2m-1 0h2m4 0h2m-61 1h2m20 0h2m6 0h2m5 0h2m3 0h2m-1 0h2m2 0h2m-35 1h2m13 0h2m6 0h2m3 0h2m2 0h2m1 0h2m-2 0h2m-28 1h2m4 0h2m2 1h2m8 0h2m1 0h2m-14 1h2m20 0h2m-2 0h2m-19 1h2m-2 0h2m-26 1h2m0 0h2m17 0h2m5 0h2m-14 2h2m16 0h2m-5 1h2" stroke="#dc2a1c" stroke-width="2.2" fill="none"/>
<path transform="scale(.5)" d="M3069 1511h2m-3 5h2m3 0h2m-10 13h2m2 8h2m-8 5h2m3 0h2m-7 3h2m17 8h2m-24 2h2m15 2h2m-6 4h2m-13 1h2m7 0h2m-2 5h2m5 0h2m-15 1h2m4 0h2m-8 1h2m-6 1h2m-1 0h2m-3 3h2m1 1h2m-3 2h2m0 1h2m-5 3h2m3 1h2m-3 1h2m-7 1h2m3 2h2m-7 1h2m12 2h2m-14 8h2m-4 6h2m12 0h2m-4 2h2m-5 2h2m-10 2h2m-1 1h2m15 0h2m-15 1h2m-2 3h2m-1 1h2m-8 1h2m6 0h2m-11 1h2m-2 0h2m0 0h2m-3 2h2m-2 0h2m1 0h2m15 0h2m-2 2h2m-23 2h2m-1 0h2m4 1h2m2 0h2m-13 1h2m2 0h2m1 2h2m-6 1h2m4 0h2m3 0h2m13 2h2m-29 1h2m6 0h2m-7 2h2m1 0h2m-2 0h2m2 0h2m-1 2h2m-15 1h2m4 0h2m-3 1h2m1 0h2m-1 2h2m-11 1h2m0 0h2m-1 0h2m7 0h2m-14 1h2m15 0h2m-8 1h2m2 0h2m-15 1h2m0 0h2m-3 1h2m-5 1h2m5 0h2m-1 0h2m-9 1h2m4 0h2m5 1h2m11 0h2m1 0h2m-12 2h2m6 0h2m8 3h2m2 0h2m12 0h2m-55 1h2m-3 1h2m1 0h2m-7 3h2m-2 1h2m4 9h2m-6 8h2m4 5h2m-10 3h2m6 8h2m6 0h2m3 1h2m-21 1h2m-3 4h2m4 1h2m-5 4h2m-1 0h2m-5 4h2m5 0h2m-5 1h2m-6 3h2m-1 0h2m9 6h2m-13 2h2m-5 5h2" stroke="#f8c08a" stroke-width="2" fill="none"/>
<path transform="scale(.5)" d="M3062 1484h2m4 1h2m-9 3h2m-1 8h2m10 2h2m-11 2h2m10 6h2m-17 8h2m-3 4h2m-1 4h2m13 1h2m-7 1h2m1 0h2m-12 4h2m-5 4h2m-2 0h2m6 0h2m-1 1h2m-2 9h2m-11 6h2m1 3h2m-7 1h2m3 2h2m-3 4h2m-4 3h2m6 0h2m-11 1h2m1 2h2m4 0h2m-6 1h2m6 1h2m-14 3h2m2 0h2m-5 2h2m1 1h2m-6 2h2m2 1h2m-6 2h2m7 1h2m13 1h2m-23 2h2m1 1h2m0 0h2m-8 1h2m2 1h2m3 0h2m3 1h2m-19 1h2m-1 1h2m2 1h2m12 0h2m-22 3h2m1 0h2m4 0h2m-7 1h2m0 0h2m3 1h2m11 0h2m-22 1h2m2 1h2m-8 1h2m8 1h2m2 0h2m1 0h2m-20 2h2m-1 0h2m2 0h2m-2 0h2m3 0h2m7 0h2m-17 1h2m0 0h2m11 2h2m-20 2h2m5 0h2m-1 0h2m-2 0h2m-8 2h2m0 0h2m4 0h2m-13 3h2m-1 0h2m0 0h2m5 0h2m-11 2h2m-2 1h2m-3 1h2m5 0h2m-1 0h2m-6 2h2m-2 0h2m7 0h2m-9 1h2m-2 0h2m-8 1h2m2 0h2m0 0h2m-1 0h2m-7 1h2m0 1h2m-5 1h2m-2 0h2m1 0h2m4 0h2m-11 2h2m4 0h2m6 0h2m5 0h2m-22 1h2m6 0h2m-11 1h2m0 0h2m9 0h2m-15 1h2m0 0h2m11 2h2m3 0h2m-23 2h2m5 0h2m-1 0h2m-2 0h2m27 0h2m-33 1h2m2 0h2m0 0h2m-12 1h2m8 0h2m-12 1h2m0 0h2m1 0h2m0 0h2m-9 1h2m1 0h2m1 0h2m-10 1h2m-1 0h2m13 0h2m0 0h2m-15 1h2m1 0h2m-2 0h2m0 0h2m3 0h2m2 0h2m-15 1h2m12 0h2m-22 1h2m-1 0h2m14 0h2m2 0h2m-7 2h2m-9 1h2m50 0h2m-61 1h2m4 0h2m-2 0h2m0 0h2m0 0h2m-13 1h2m-2 0h2m11 0h2m1 0h2m-15 1h2m16 0h2m-13 1h2m4 0h2m-1 0h2m-13 1h2m2 1h2m1 0h2m11 0h2m-24 1h2m-4 1h2m16 0h2m9 0h2m-33 1h2m57 1h2m-60 2h2m-4 1h2m4 0h2m24 0h2m-25 5h2m-2 0h2m-8 1h2m0 1h2m-7 1h2m13 0h2m-13 1h2m-6 2h2m5 4h2m-4 1h2m-4 2h2m-1 3h2m8 0h2m-10 2h2m-1 0h2m-6 1h2m5 0h2m-2 0h2m-7 1h2m3 1h2m-1 0h2m-7 1h2m-3 1h2m-5 1h2m23 3h2m-20 2h2m-9 1h2m3 0h2m3 1h2m-13 1h2m-2 3h2m13 1h2m-16 5h2m-2 6h2m0 0h2m4 1h2m6 1h2m-17 2h2m26 0h2m-32 4h2m-1 2h2m2 10h2" stroke="#ee7a1e" stroke-width="2.2" fill="none"/>
<path d="M1530.6 876.4V737.8H1655.3" stroke="#f9c195" stroke-width="1.5" fill="none"/>
<path d="M1655.3 737.8V876.4H1530.6" stroke="#ee842c" stroke-width="1.8" fill="none"/>
<rect x="1477" y="680.1" width="197" height="198.5" fill="none" stroke="#8a8887" stroke-width="1.5"/>
<path d="M1477 680.1V878.6H1674" stroke="#4f4d4c" stroke-width="1.6" fill="none"/>
<path d="M1477 878.6h-5.5M1477 862.7h-3M1477 846.8h-3M1477 830.8h-3M1477 814.9h-3M1477 799h-5.5M1477 783.1h-3M1477 767.2h-3M1477 751.2h-3M1477 735.3h-3M1477 719.4h-5.5M1477 703.5h-3M1477 687.6h-3M1483 878.6v3M1491 878.6v3M1497.6 878.6v5M1505.6 878.6v3M1513.6 878.6v3M1525.8 878.6v3M1535.5 878.6v3M1542.4 878.6v3M1547.7 878.6v3M1552 878.6v3M1555.7 878.6v3M1558.9 878.6v3M1561.7 878.6v3M1564.2 878.6v5M1580.7 878.6v3M1590.4 878.6v3M1597.3 878.6v3M1602.6 878.6v3M1606.9 878.6v3M1610.6 878.6v3M1613.8 878.6v3M1616.6 878.6v3M1619.1 878.6v5M1635.6 878.6v3M1645.3 878.6v3M1652.2 878.6v3M1657.5 878.6v3M1661.8 878.6v3M1665.5 878.6v3M1668.7 878.6v3M1671.5 878.6v3M1673.5 878.6v5" stroke="#2e2c2b" stroke-width="1.3" fill="none"/>
<text x="1497.6" y="897.1" text-anchor="middle">0</text>
<text x="1564.2" y="897.1" text-anchor="middle">10<tspan dy="-5.5" font-size="10.5">4</tspan></text>
<text x="1621.8" y="897.1" text-anchor="middle">10<tspan dy="-5.5" font-size="10.5">5</tspan></text>
<text x="1672.8" y="897.1" text-anchor="middle">10<tspan dy="-5.5" font-size="10.5">6</tspan></text>
<text text-anchor="middle" transform="translate(1468 878.6) rotate(-90)">0</text>
<text text-anchor="middle" transform="translate(1468 799) rotate(-90)">200</text>
<text text-anchor="middle" transform="translate(1468 719.4) rotate(-90)">400</text>
<text x="1334" y="485.5" text-anchor="middle" font-size="17.2">0.33%</text>
<text x="1564" y="485.5" text-anchor="middle" font-size="17.2">0.01%</text>
<text x="1336.7" y="722.8" text-anchor="middle" font-size="17.2">0.14%</text>
<text x="1566.8" y="724" text-anchor="middle" font-size="17.2">2.05%</text>
<text x="1349.6" y="675.8" text-anchor="middle">shNC</text>
<text x="1574" y="675.8" text-anchor="middle">shZNF32</text>
<text x="1346" y="912.8" text-anchor="middle">vector</text>
<text x="1576" y="918" text-anchor="middle">ZNF32</text>
<text text-anchor="middle" transform="translate(1206.5 656) rotate(-90)" font-size="17.3">All events (1<tspan dx="2.5" font-size="23" dy="1.5">×</tspan><tspan dx="2.5" dy="-1.5">10</tspan><tspan dy="-5.5" font-size="9">4</tspan><tspan dy="5.5">)</tspan></text>
<text x="1456.3" y="941.8" text-anchor="middle">ALDH1</text>
<path d="M1754 522.5V784.3H1948.7" stroke="#1a1716" stroke-width="1.7" fill="none"/>
<path d="M1754 777.4h4M1754 727.4h4M1754 677.5h4M1754 627.5h4M1754 577.6h4M1754 527.6h4" stroke="#1a1716" stroke-width="1.5" fill="none"/>
<text x="1750.5" y="783.6" text-anchor="end" font-size="16.4">0.0</text>
<text x="1750.5" y="733.6" text-anchor="end" font-size="16.4">0.5</text>
<text x="1750.5" y="683.7" text-anchor="end" font-size="16.4">1.0</text>
<text x="1750.5" y="633.8" text-anchor="end" font-size="16.4">1.5</text>
<text x="1750.5" y="583.8" text-anchor="end" font-size="16.4">2.0</text>
<text x="1750.5" y="533.9" text-anchor="end" font-size="16.4">2.5</text>
<text text-anchor="middle" transform="translate(1725 645.3) rotate(-90)" font-size="17.3">ALDH1 positive cells (%)</text>
<rect x="1775.4" y="742.1" width="39.1" height="35.3" fill="#2f2b29" stroke="#1a1716" stroke-width="1.8"/>
<rect x="1814.7" y="775.7" width="39.6" height="1.7" fill="#2f2b29" stroke="#1a1716" stroke-width="1.8"/>
<rect x="1856.9" y="761.8" width="39.4" height="15.6" fill="#c9c7c6" stroke="#1a1716" stroke-width="1.8"/>
<rect x="1896.9" y="576.8" width="39.4" height="200.6" fill="#fff" stroke="#1a1716" stroke-width="1.8"/>
<path d="M1787.3 727.3H1802.3M1794.8 727.3V758M1787.3 758H1802.3" stroke="#1a1716" stroke-width="1.7" fill="none"/>
<path d="M1828.1 775H1841.1M1834.6 775V777M1828.1 777H1841.1" stroke="#1a1716" stroke-width="1.7" fill="none"/>
<path d="M1868.6 756.7H1883.6M1876.1 756.7V767M1868.6 767H1883.6" stroke="#1a1716" stroke-width="1.7" fill="none"/>
<path d="M1909.1 567.8H1924.1M1916.6 567.8V585.8M1909.1 585.8H1924.1" stroke="#1a1716" stroke-width="1.7" fill="none"/>
<path d="M1790.7 711.7V698.5H1831.1V711.7" stroke="#1a1716" stroke-width="1.7" fill="none" stroke-linejoin="round"/>
<text x="1811.1" y="701.4" text-anchor="middle" font-size="17.8" letter-spacing="0.45">*</text>
<path d="M1874.7 557.1V545.3H1915.2V557.1" stroke="#1a1716" stroke-width="1.7" fill="none" stroke-linejoin="round"/>
<text x="1895.2" y="548.2" text-anchor="middle" font-size="17.8" letter-spacing="0.45">**</text>
<text text-anchor="end" transform="translate(1801 790) rotate(-56)">shNC</text>
<text text-anchor="end" transform="translate(1842 790) rotate(-56)">shZNF32</text>
<text text-anchor="end" transform="translate(1881 790) rotate(-56)">vector</text>
<text text-anchor="end" transform="translate(1922 790) rotate(-56)">ZNF32</text>
<clipPath id="ch"><rect x="58.2" y="771.3" width="350.1" height="262.7"/></clipPath>
<g clip-path="url(#ch)">
<path d="M58.2 774.7L408.3 940.8" stroke="#ee5a52" stroke-width="1.1" fill="none"/>
<path d="M58.2 776.5L408.3 893.2" stroke="#f2766f" stroke-width="1.1" fill="none" stroke-dasharray="2.2 3.2"/>
<path d="M58.2 772.2L408.3 1005.6" stroke="#f2766f" stroke-width="1.1" fill="none" stroke-dasharray="2.2 3.2"/>
<path d="M58.2 770.3L408.3 1054.4" stroke="#4e4c4b" stroke-width="1.1" fill="none"/>
<path d="M58.2 773.2L408.3 978.7" stroke="#5e5c5b" stroke-width="1.1" fill="none" stroke-dasharray="2.2 3.2"/>
<path d="M58.2 766.4L408.3 1156.3" stroke="#5e5c5b" stroke-width="1.1" fill="none" stroke-dasharray="2.2 3.2"/>
</g>
<ellipse cx="81" cy="780.8" rx="2.2" ry="1.6" fill="none" stroke="#ee4a42" stroke-width="1"/>
<ellipse cx="91" cy="791.9" rx="2.2" ry="1.6" fill="none" stroke="#ee4a42" stroke-width="1"/>
<ellipse cx="110.9" cy="798.9" rx="2.2" ry="1.6" fill="none" stroke="#ee4a42" stroke-width="1"/>
<ellipse cx="151.8" cy="798.9" rx="2.2" ry="1.6" fill="none" stroke="#ee4a42" stroke-width="1"/>
<ellipse cx="232.9" cy="867" rx="2.2" ry="1.6" fill="none" stroke="#ee4a42" stroke-width="1"/>
<ellipse cx="81" cy="786.4" rx="2.2" ry="1.6" fill="none" stroke="#3a3837" stroke-width="1"/>
<ellipse cx="91" cy="806.3" rx="2.2" ry="1.6" fill="none" stroke="#3a3837" stroke-width="1"/>
<ellipse cx="110.9" cy="814" rx="2.2" ry="1.6" fill="none" stroke="#3a3837" stroke-width="1"/>
<ellipse cx="151.8" cy="867" rx="2.2" ry="1.6" fill="none" stroke="#3a3837" stroke-width="1"/>
<ellipse cx="232.9" cy="902.4" rx="2.2" ry="1.6" fill="none" stroke="#3a3837" stroke-width="1"/>
<ellipse cx="395" cy="1024" rx="2.2" ry="1.6" fill="none" stroke="#3a3837" stroke-width="1"/>
<rect x="58.2" y="771.3" width="350.1" height="262.7" fill="none" stroke="#7d7b7a" stroke-width="1.3"/>
<path d="M58.2 780.8h-5.5M58.2 824.8h-5.5M58.2 868.8h-5.5M58.2 912.8h-5.5M58.2 956.8h-5.5M58.2 1000.8h-5.5M71.1 1034v5M121.7 1034v5M172.3 1034v5M222.9 1034v5M273.5 1034v5M324.1 1034v5M374.7 1034v5" stroke="#8f8d8c" stroke-width="1" fill="none"/>
<text x="51.5" y="787.6" text-anchor="end">0.0</text>
<text x="51.5" y="831.6" text-anchor="end">-0.5</text>
<text x="51.5" y="875.6" text-anchor="end">-1.0</text>
<text x="51.5" y="919.6" text-anchor="end">-1.5</text>
<text x="51.5" y="963.6" text-anchor="end">-2.0</text>
<text x="51.5" y="1007.6" text-anchor="end">-2.5</text>
<text x="68.9" y="1056" text-anchor="middle">0</text>
<text x="118.2" y="1056" text-anchor="middle">5</text>
<text x="173" y="1056" text-anchor="middle">10</text>
<text x="223.5" y="1056" text-anchor="middle">15</text>
<text x="273.4" y="1056" text-anchor="middle">20</text>
<text x="323.8" y="1056" text-anchor="middle">25</text>
<text x="373.3" y="1056" text-anchor="middle">30</text>
<text x="213.7" y="1074.8" text-anchor="middle" font-size="17.4">Dose (number of cells)</text>
<text text-anchor="middle" transform="translate(17.8 902) rotate(-90)" font-size="17.4">Log fraction nonresponding</text>
<path d="M323.5 777.9L337.3 777.9" stroke="#e8332b" stroke-width="2.4" fill="none"/>
<path d="M323.5 789L337.3 789" stroke="#1a1716" stroke-width="2.4" fill="none"/>
<text x="339" y="779.5">vector</text>
<text x="339" y="794.8">ZNF32</text>
<text x="325" y="819.8">p=0.0244</text>
<path d="M39.4 1090.4H409.7V1151.9H39.4ZM39.4 1110.6H409.7M39.4 1131.6H409.7M151.8 1090.4V1151.9" stroke="#1a1716" stroke-width="1.5" fill="none"/>
<text x="95" y="1104.5" text-anchor="middle" font-size="17.2">Group</text>
<text x="280" y="1104.5" text-anchor="middle" font-size="17.2">Stem cell frequency [95% CI]</text>
<text x="95" y="1125" text-anchor="middle" font-size="17.2">vector</text>
<text x="280" y="1125.5" text-anchor="middle" font-size="17.2">1/18.3 [12.98, 25.8]</text>
<text x="95" y="1146" text-anchor="middle" font-size="17.2">ZNF32</text>
<text x="280" y="1146" text-anchor="middle" font-size="17.2">1/10.7 [7.83, 14.7]</text>
<path d="M520.5 777.2V1067.4H1100" stroke="#1a1716" stroke-width="2.1" fill="none"/>
<path d="M520.5 1063h9M520.5 1039.7h5M520.5 1016.3h9M520.5 993h5M520.5 969.7h9M520.5 946.3h5M520.5 923h9M520.5 899.7h5M520.5 876.3h9M520.5 853h5M520.5 829.6h9M520.5 806.3h5M520.5 783h9" stroke="#1a1716" stroke-width="1.9" fill="none"/>
<text x="517.8" y="1068.8" text-anchor="end" font-size="16.6">0.0</text>
<text x="517.8" y="1022.1" text-anchor="end" font-size="16.6">0.2</text>
<text x="517.8" y="975.5" text-anchor="end" font-size="16.6">0.4</text>
<text x="517.8" y="928.8" text-anchor="end" font-size="16.6">0.6</text>
<text x="517.8" y="882.1" text-anchor="end" font-size="16.6">0.8</text>
<text x="517.8" y="835.4" text-anchor="end" font-size="16.6">1.0</text>
<text x="517.8" y="788.8" text-anchor="end" font-size="16.6">1.2</text>
<text text-anchor="middle" transform="translate(487.3 924.5) rotate(-90)" font-size="17.3">Relative cell viability</text>
<rect x="561.7" y="830.1" width="32.6" height="231.6" fill="#2f2b29" stroke="#1a1716" stroke-width="2.1"/>
<rect x="598.1" y="830.1" width="31.3" height="231.6" fill="#5b5857" stroke="#1a1716" stroke-width="2.1"/>
<rect x="634.2" y="830.1" width="31.3" height="231.6" fill="#a3a09f" stroke="#1a1716" stroke-width="2.1"/>
<rect x="669.7" y="830.1" width="32.6" height="231.6" fill="#c9c7c6" stroke="#1a1716" stroke-width="2.1"/>
<rect x="738.8" y="902.6" width="32.4" height="159.1" fill="#2f2b29" stroke="#1a1716" stroke-width="2.1"/>
<rect x="774.2" y="967.7" width="32.4" height="94" fill="#5b5857" stroke="#1a1716" stroke-width="2.1"/>
<rect x="810.7" y="909.4" width="32.3" height="152.3" fill="#a3a09f" stroke="#1a1716" stroke-width="2.1"/>
<rect x="847.5" y="865.5" width="31.6" height="196.2" fill="#c9c7c6" stroke="#1a1716" stroke-width="2.1"/>
<rect x="915" y="955.9" width="32.6" height="105.8" fill="#2f2b29" stroke="#1a1716" stroke-width="2.1"/>
<rect x="951.4" y="1001.2" width="32.3" height="60.5" fill="#5b5857" stroke="#1a1716" stroke-width="2.1"/>
<rect x="988.2" y="958.3" width="31" height="103.4" fill="#a3a09f" stroke="#1a1716" stroke-width="2.1"/>
<rect x="1024.6" y="924.2" width="31.3" height="137.5" fill="#c9c7c6" stroke="#1a1716" stroke-width="2.1"/>
<path d="M571.7 819.8H584.3M578 819.8V838.7M571.7 838.7H584.3" stroke="#1a1716" stroke-width="2.1" fill="none"/>
<path d="M608.1 818.4H620.7M614.4 818.4V840.3M608.1 840.3H620.7" stroke="#1a1716" stroke-width="2.1" fill="none"/>
<path d="M643.9 824.8H656.5M650.2 824.8V833.9M643.9 833.9H656.5" stroke="#1a1716" stroke-width="2.1" fill="none"/>
<path d="M680.7 817H693.3M687 817V841.4M680.7 841.4H693.3" stroke="#1a1716" stroke-width="2.1" fill="none"/>
<path d="M749.2 898.7H761.8M755.5 898.7V905.5M749.2 905.5H761.8" stroke="#1a1716" stroke-width="2.1" fill="none"/>
<path d="M784.6 959.4H797.2M790.9 959.4V977.3M784.6 977.3H797.2" stroke="#1a1716" stroke-width="2.1" fill="none"/>
<path d="M821.7 902.4H834.3M828 902.4V914.2M821.7 914.2H834.3" stroke="#1a1716" stroke-width="2.1" fill="none"/>
<path d="M857.8 850.5H870.4M864.1 850.5V878.8M857.8 878.8H870.4" stroke="#1a1716" stroke-width="2.1" fill="none"/>
<path d="M925.7 950.3H938.3M932 950.3V960.8M925.7 960.8H938.3" stroke="#1a1716" stroke-width="2.1" fill="none"/>
<path d="M961.7 993.2H974.3M968 993.2V1008.7M961.7 1008.7H974.3" stroke="#1a1716" stroke-width="2.1" fill="none"/>
<path d="M997.2 950H1009.8M1003.5 950V967.5M997.2 967.5H1009.8" stroke="#1a1716" stroke-width="2.1" fill="none"/>
<path d="M1034.3 915.6H1046.9M1040.6 915.6V933.5M1034.3 933.5H1046.9" stroke="#1a1716" stroke-width="2.1" fill="none"/>
<path d="M755.5 883.5V870H796V883.5" stroke="#1a1716" stroke-width="1.7" fill="none" stroke-linejoin="round"/>
<text x="776" y="872.9" text-anchor="middle" font-size="17.8" letter-spacing="0.45">**</text>
<path d="M823.7 839.7V826.2H864.5V839.7" stroke="#1a1716" stroke-width="1.7" fill="none" stroke-linejoin="round"/>
<text x="844.3" y="829.1" text-anchor="middle" font-size="17.8" letter-spacing="0.45">**</text>
<path d="M932.6 938.2V925.7H973.1V938.2" stroke="#1a1716" stroke-width="1.7" fill="none" stroke-linejoin="round"/>
<text x="953.1" y="928.6" text-anchor="middle" font-size="17.8" letter-spacing="0.45">**</text>
<path d="M1000 902.8V889.6H1040.6V902.8" stroke="#1a1716" stroke-width="1.7" fill="none" stroke-linejoin="round"/>
<text x="1020.5" y="892.5" text-anchor="middle" font-size="17.8" letter-spacing="0.45">**</text>
<rect x="931.8" y="762" width="17" height="15.2" fill="#2f2b29" stroke="#1a1716" stroke-width="1.6"/>
<text x="950.5" y="774" font-size="16.8">shNC</text>
<rect x="931.8" y="786.3" width="17" height="14.6" fill="#5b5857" stroke="#1a1716" stroke-width="1.6"/>
<text x="950.5" y="797" font-size="16.8">shZNF32</text>
<rect x="931.8" y="811" width="17" height="14.5" fill="#a3a09f" stroke="#1a1716" stroke-width="1.6"/>
<text x="950.5" y="822" font-size="16.8">vector</text>
<rect x="931.8" y="835.3" width="17" height="14.8" fill="#c9c7c6" stroke="#1a1716" stroke-width="1.6"/>
<text x="950.5" y="847.5" font-size="16.8">ZNF32</text>
<text x="634" y="1084.5" text-anchor="middle" font-size="16.8">DMSO</text>
<text x="812.9" y="1084.5" text-anchor="middle" font-size="16.8">10ng/ml</text>
<text x="988.3" y="1084.5" text-anchor="middle" font-size="16.8">20ng/ml</text>
</svg>
</body></html>
